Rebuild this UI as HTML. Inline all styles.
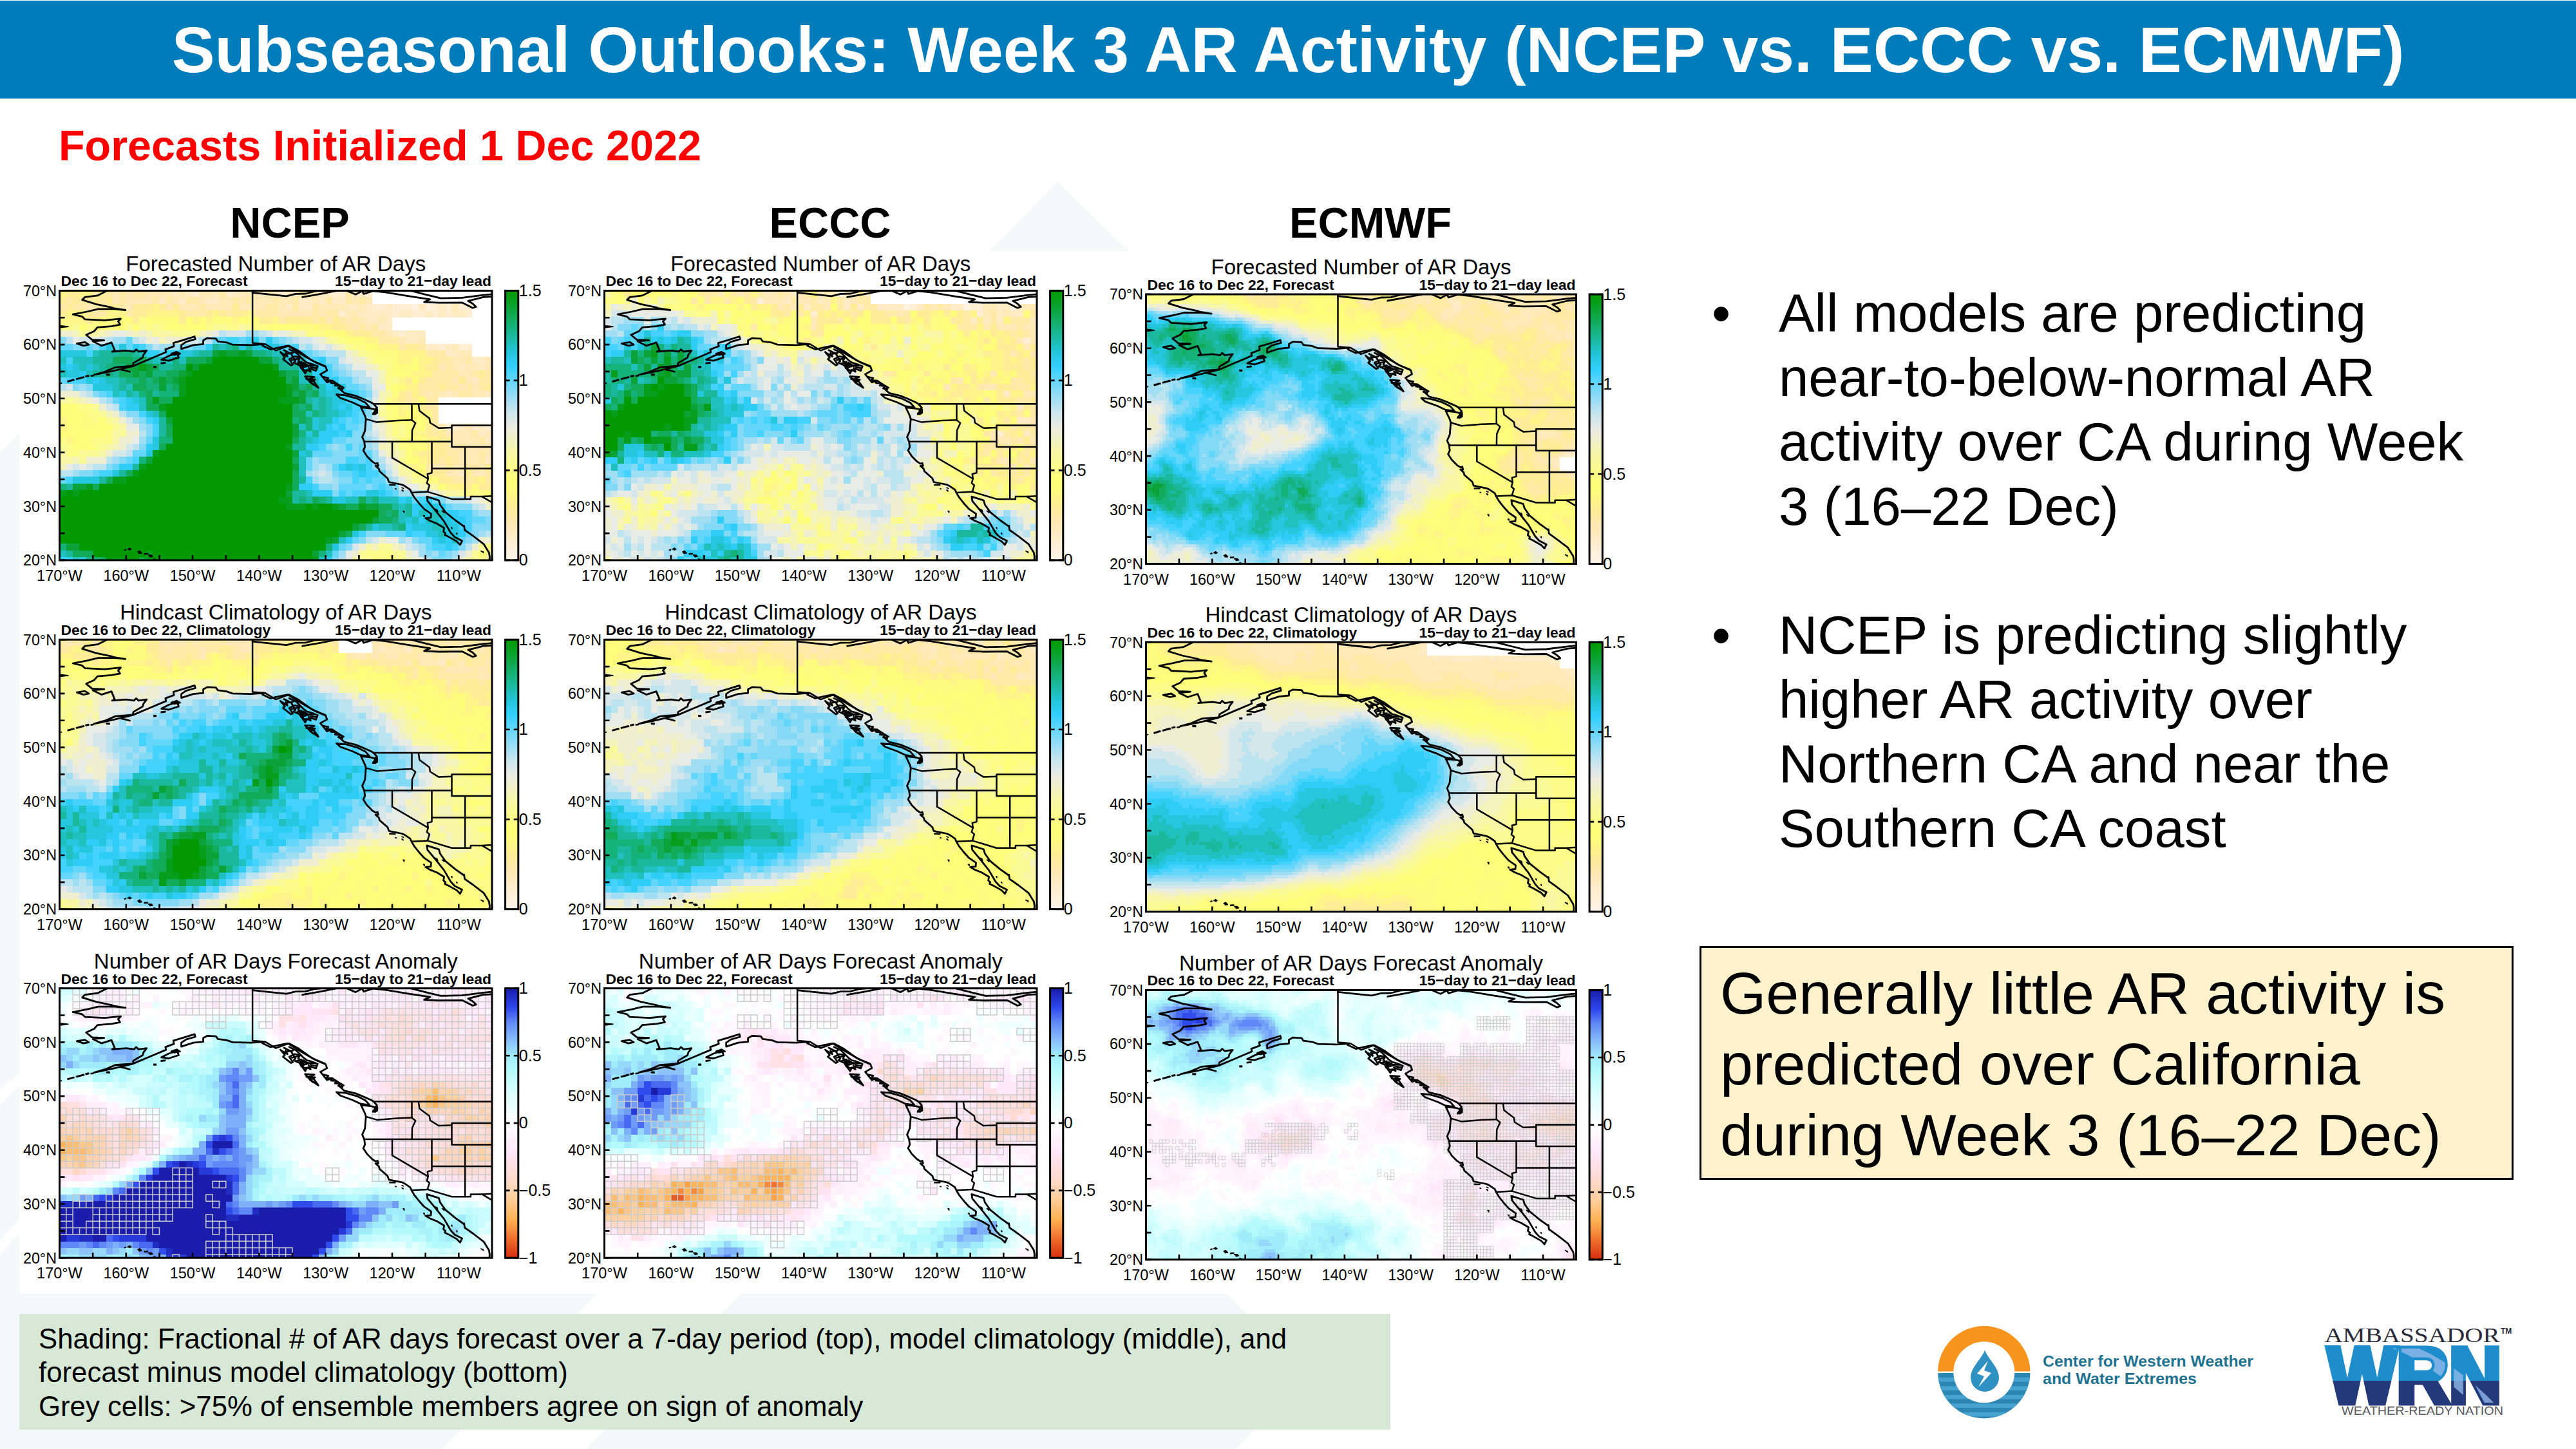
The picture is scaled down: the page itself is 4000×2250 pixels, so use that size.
<!DOCTYPE html>
<html lang="en"><head><meta charset="utf-8"><title>Subseasonal Outlooks: Week 3 AR Activity</title>
<style>
html,body{margin:0;padding:0;background:#fff;}
body{width:4000px;height:2250px;position:relative;overflow:hidden;font-family:"Liberation Sans",Arial,Helvetica,sans-serif;color:#000;}
.abs{position:absolute;white-space:nowrap;}
#hdr{left:0;top:1px;width:4000px;height:152px;background:#017cbb;}
#ttl{left:0;top:1px;width:4000px;height:152px;line-height:152px;text-align:center;color:#fff;font-weight:bold;font-size:100.3px;}
#init{left:91px;top:188px;font-size:66.5px;line-height:76px;font-weight:bold;color:#f00;}
.mdl{font-weight:bold;font-size:66.7px;line-height:76px;width:600px;text-align:center;top:308px;}
.bul{font-size:83.3px;line-height:100px;}
#box{left:2639px;top:1469px;width:1258px;height:357px;background:#fff2cc;border:3px solid #000;box-sizing:content-box;}
#boxt{left:2671px;top:1487px;font-size:91.7px;line-height:110px;}
#foot{left:30px;top:2040px;width:2129px;height:180px;background:#d7e9d6;}
#foott{left:60px;top:2052.5px;font-size:43.75px;line-height:52.6px;}
svg{position:absolute;left:0;top:0;}
svg text{font-family:"Liberation Sans",Arial,Helvetica,sans-serif;}
.co{fill:none;stroke:#000;stroke-width:2.8;stroke-linejoin:round;stroke-linecap:round}
.bo{fill:none;stroke:#000;stroke-width:2.5;stroke-linejoin:round}
.fi{fill:#000;stroke:#000;stroke-width:1.6;stroke-linejoin:round}
.tk{fill:none;stroke:#000;stroke-width:2.6}
.fr{fill:none;stroke:#000;stroke-width:3}
.gc{fill:none;stroke:#cbcbcb;stroke-width:1.5}
.gc2{fill:none;stroke:#cfcfcf;stroke-width:1}
.tt{font-size:33px;text-anchor:middle}
.sl{font-size:22.9px;font-weight:bold}
.sr{font-size:22.9px;font-weight:bold;text-anchor:end}
.yl{font-size:23.3px;text-anchor:end}
.xl{font-size:23.5px;text-anchor:middle}
.cl{font-size:25px}
</style></head><body>
<svg width="4000" height="2250" viewBox="0 0 4000 2250">
<!-- faint background pattern -->
<g fill="#f3f9f9">
<polygon points="0,703 30,673 30,1665 0,1691"/>
<polygon points="0,1716 30,1686 30,1893 0,1926"/>
<polygon points="0,1948 30,1915 30,2250 0,2250"/>
<polygon points="1536,390 1642,283 1753,390"/>
<polygon points="30,2005 926,2005 926,2009.6 686,2250 30,2250"/>
<polygon points="1150,2005 1905,2005 1905,2009.6 2031,2135 1919,2250 910,2250 1150,2009.6"/>
</g>
<rect x="30" y="390" width="2515" height="1619" fill="#fff"/>
<defs><linearGradient id="gar" x1="0" y1="1" x2="0" y2="0"><stop offset="0.000" stop-color="#fff5eb"/><stop offset="0.067" stop-color="#ffeed2"/><stop offset="0.140" stop-color="#ffe8b4"/><stop offset="0.200" stop-color="#ffec96"/><stop offset="0.267" stop-color="#fffc7d"/><stop offset="0.293" stop-color="#ffff78"/><stop offset="0.333" stop-color="#fcfc87"/><stop offset="0.400" stop-color="#f7f7a5"/><stop offset="0.453" stop-color="#f0f0c8"/><stop offset="0.497" stop-color="#ebebe4"/><stop offset="0.547" stop-color="#cde6ee"/><stop offset="0.600" stop-color="#a0def4"/><stop offset="0.667" stop-color="#64d6fa"/><stop offset="0.720" stop-color="#32d0ff"/><stop offset="0.770" stop-color="#23c6dc"/><stop offset="0.820" stop-color="#1cbcaa"/><stop offset="0.880" stop-color="#14af6e"/><stop offset="0.940" stop-color="#0aa232"/><stop offset="1.000" stop-color="#009a00"/></linearGradient><linearGradient id="gan" x1="0" y1="1" x2="0" y2="0"><stop offset="0.000" stop-color="#d62c0e"/><stop offset="0.060" stop-color="#ec6428"/><stop offset="0.140" stop-color="#ffb050"/><stop offset="0.225" stop-color="#ffd0a0"/><stop offset="0.300" stop-color="#ffdad2"/><stop offset="0.400" stop-color="#ffe8fa"/><stop offset="0.500" stop-color="#ffffff"/><stop offset="0.600" stop-color="#e0ffff"/><stop offset="0.700" stop-color="#b4fafc"/><stop offset="0.750" stop-color="#a0ecfa"/><stop offset="0.800" stop-color="#8cc4fa"/><stop offset="0.875" stop-color="#6088f6"/><stop offset="0.930" stop-color="#2c46ec"/><stop offset="1.000" stop-color="#1a1caa"/></linearGradient></defs><g transform="translate(92.5 451.4)"><clipPath id="cp92_451"><rect width="671.5" height="418.5"/></clipPath><g clip-path="url(#cp92_451)"><rect width="671.5" height="418.5" fill="#fff"/><g transform="scale(10.3308 10.3308)" fill="none" stroke-width="1.06" shape-rendering="crispEdges"><path stroke="#fff2de" d="M53 2.5h1m1 0h1"/><path stroke="#ffeed2" d="M20 0.5h1m4 0h1m7 0h1m7 0h2m3 0h1m0 2h2m1 0h3m3 0h1m1 0h1m1 0h2m-20 1h1m7 0h1m2 0h2m1 0h1m1 0h1m2 0h1m-11 3h1m5 2h1m2 0h2m-4 12h2m2 0h1m1 0h1"/><path stroke="#ffebc4" d="M17 0.5h1m1 0h1m3 0h1m2 0h2m2 0h1m1 0h1m1 0h2m2 0h3m3 0h2m-31 1h1m2 0h1m3 0h2m12 0h2m1 0h1m1 0h2m-9 1h1m1 0h2m5 0h2m1 0h1m2 0h1m4 0h1m2 0h1m-13 1h5m1 0h2m2 0h1m1 0h1m1 0h2m-15 1h2m1 0h1m-2 1h2m0 1h1m1 0h3m-3 1h2m1 1h2m1 0h1m-1 1h2m2 1h2m-4 1h1m2 0h1m-2 2h1m-5 2h1m5 0h1m-5 5h1m2 0h1m-1 1h1m0 1h1m-1 3h1m-5 2h1"/><path stroke="#ffe9b7" d="M8 0.5h1m1 0h1m2 0h4m1 0h1m2 0h2m5 0h2m1 0h1m4 0h2m-30 1h1m1 0h4m3 0h1m3 0h1m2 0h2m1 0h1m1 0h3m1 0h2m3 0h1m5 0h1m1 0h1m-43 1h1m5 0h1m5 0h1m1 0h3m1 0h4m1 0h4m2 0h1m5 0h4m2 0h1m13 0h1m-27 1h5m1 0h1m3 0h2m-5 1h1m2 0h1m1 0h1m2 0h1m-5 1h1m1 0h1m2 1h1m1 1h1m2 0h1m4 1h1m0 1h2m-3 1h2m3 0h1m-8 1h1m1 0h1m1 0h2m1 0h1m-5 1h2m-3 1h1m1 0h1m-2 1h1m1 0h1m-8 1h1m1 0h1m1 0h1m2 0h2m-7 5h1m3 0h1m-4 1h4m2 0h1m-6 1h4m-4 1h1m1 0h4m-5 1h3m1 0h1m-5 1h3m-7 1h2m1 0h2m2 0h1m-6 1h2m2 0h2"/><path stroke="#ffeaa7" d="M5 0.5h1m1 0h1m1 0h1m1 0h2m11 0h1m18 0h1m-43 1h1m1 0h2m1 0h1m2 0h1m4 0h1m1 0h1m2 0h2m5 0h1m1 0h1m3 0h1m2 0h1m4 0h1m2 0h1m1 0h1m-46 1h1m1 0h2m1 0h3m1 0h1m11 0h1m9 0h2m2 0h1m2 0h1m-34 1h2m3 0h1m8 0h3m3 0h1m3 0h4m5 0h1m1 0h2m-9 1h1m4 0h1m3 0h1m1 0h1m-2 1h1m1 0h1m1 0h1m-1 1h2m-1 1h3m0 1h1m2 0h1m0 1h3m-1 1h2m2 0h1m-4 1h1m-3 1h4m2 0h1m1 0h1m-10 1h4m4 0h2m-11 1h3m1 0h2m1 0h1m1 0h1m-12 1h1m1 0h1m1 0h1m3 0h2m-10 1h1m2 0h2m-2 1h2m-1 1h1m-1 1h1m-1 1h1m-1 1h1m5 0h1m0 1h1m-6 1h1m1 0h1m-3 1h2m3 0h1m-7 1h1m1 0h1m3 0h1m-9 1h1m5 0h2m1 1h1m-6 1h3m2 0h1"/><path stroke="#ffec96" d="M1 0.5h2m3 0h1m-7 1h1m1 0h1m2 0h1m1 0h1m-7 1h1m6 0h1m2 0h3m1 0h1m1 0h1m8 0h1m-27 1h1m3 0h1m6 0h2m5 0h1m3 0h1m1 0h1m1 0h2m-24 1h1m6 0h1m6 0h1m11 0h2m2 0h4m1 0h1m1 0h1m-1 1h2m1 1h3m5 2h2m2 2h1m-2 1h2m6 1h1m-12 1h1m1 0h1m5 0h1m-4 1h1m6 0h1m-14 1h1m-1 1h1m1 0h1m0 1h1m0 3h1m-1 1h1m1 0h1m-1 1h2m-3 1h2m-4 1h4m-3 1h2m1 0h1m-1 1h1m5 0h1m-10 1h3m3 0h1m-5 1h2m3 0h1m-2 1h1m1 0h2m-1 11h1"/><path stroke="#fff48a" d="M0 0.5h1m2 0h2m9 2h1m-14 1h3m3 0h3m3 0h5m5 0h1m4 0h1m-29 1h4m1 0h1m2 0h1m11 0h1m1 0h1m3 0h1m5 0h1m6 1h2m2 1h1m2 1h2m0 1h3m0 1h4m-4 1h2m1 0h2m-2 1h1m-2 1h3m-5 1h1m0 1h2m-1 1h1m-4 1h1m0 1h2m-2 1h1m2 0h2m-56 1h1m54 0h1m-56 1h1m52 1h2m-54 1h1m53 0h2m-2 1h1m-3 1h1m0 1h1m-2 1h1m9 2h1m-6 1h3m3 10h1m-17 1h1m14 0h1"/><path stroke="#fffc7d" d="M6 4.5h2m1 0h2m3 0h4m3 0h1m1 0h3m2 0h2m-21 1h1m8 0h1m12 0h1m4 0h3m2 1h1m2 1h2m1 1h1m0 1h3m-1 1h1m2 0h1m-4 1h3m-1 1h1m0 1h1m-3 1h1m-2 1h1m3 1h1m-54 2h1m1 0h1m49 0h1m-51 1h2m47 0h2m-53 1h1m1 0h3m-6 1h2m50 0h1m-51 1h1m1 0h1m47 0h1m1 0h1m-52 1h1m49 0h2m-3 1h1m1 2h1m1 2h1m5 1h1m0 10h1m-15 1h1"/><path stroke="#fefe7a" d="M13 4.5h1m5 0h1m7 0h1m-25 1h1m2 0h1m1 0h1m2 0h1m4 0h2m1 0h3m10 0h4m4 1h1m1 0h1m0 1h1m2 1h1m6 3h1m-4 1h2m-2 2h1m-51 3h3m46 0h2m2 0h1m-54 1h1m1 0h1m47 0h1m1 0h1m-52 1h2m3 0h1m43 0h2m2 0h1m-53 1h1m3 0h2m44 0h1m1 0h1m-53 1h5m-4 1h1m47 0h1m1 0h1m-52 1h1m1 0h1m47 0h1m-1 2h2m0 2h1m0 1h1m1 1h1m6 1h1m-18 10h1"/><path stroke="#fcfc87" d="M12 4.5h1m-13 1h2m2 0h2m1 0h1m5 0h1m1 0h1m6 0h1m2 0h2m2 0h2m6 1h3m2 1h1m1 1h2m0 1h2m-1 1h3m-1 1h1m-1 1h1m-1 1h1m-1 1h1m-1 2h1m-47 1h2m-1 1h2m43 0h1m-45 1h1m43 0h1m0 1h1m2 0h1m-47 1h1m42 0h1m-51 1h1m4 0h3m-7 1h1m3 0h1m45 0h1m-51 1h2m50 3h1m7 3h3m0 8h1m-19 1h4m0 1h1"/><path stroke="#fafa96" d="M2 5.5h1m7 0h1m1 0h1m1 0h1m8 0h2m3 0h1m-26 1h1m10 0h1m2 0h4m20 1h1m1 1h1m1 1h1m2 2h1m1 2h1m-50 3h1m3 1h1m0 1h1m41 0h1m-42 1h1m0 1h1m42 0h1m-43 1h1m41 0h1m-52 2h1m5 0h1m-4 1h3m-3 1h1m47 0h1m0 1h1m0 2h2m5 2h1m-13 8h2m13 0h1m-19 1h1m4 0h2m10 0h1m-18 1h2m4 0h1m10 0h1"/><path stroke="#f7f7a5" d="M27 5.5h1m-24 1h2m9 0h2m23 1h1m5 3h1m2 5h1m-50 1h1m1 0h1m45 1h1m-41 2h1m0 1h1m39 0h1m-42 1h1m40 0h1m-42 1h1m41 0h1m-44 1h1m42 0h1m-51 1h1m5 0h1m44 0h1m-52 1h2m49 1h1m-1 1h2m3 2h1m1 1h2m-14 8h1m-3 2h1m16 0h1"/><path stroke="#f3f3bb" d="M2 6.5h1m3 0h1m4 0h1m1 0h1m7 0h1m13 0h2m-22 1h1m26 1h1m1 1h1m2 2h1m0 1h1m-1 1h1m-1 2h1m-46 1h1m44 0h1m-42 2h1m40 1h1m0 3h1m-42 1h1m39 0h2m-1 1h2m-49 1h1m-3 1h1m51 2h1m1 1h2m1 1h1m6 1h1m-18 7h1m2 0h1m1 2h1"/><path stroke="#eeeed1" d="M0 6.5h2m5 0h1m2 0h1m1 0h1m9 0h1m9 0h1m1 0h1m-22 1h1m2 0h3m20 0h1m1 1h1m1 1h1m0 1h2m0 1h1m-47 4h3m1 1h1m1 1h1m1 1h1m0 1h1m38 1h1m-39 1h2m36 0h1m-40 1h2m-2 1h1m-3 1h1m-4 1h3m43 0h1m-1 1h1m12 5h1m0 1h1m-17 5h1m14 0h2m-20 1h1m5 0h1m10 0h1m-19 1h1m7 0h1m8 0h1m-9 1h1m6 0h1"/><path stroke="#e9ebe5" d="M8 6.5h2m13 0h1m9 0h1m-32 1h1m2 0h1m8 0h1m23 0h1m0 1h1m3 2h1m0 1h2m0 1h2m-1 1h1m-1 1h2m-44 2h1m41 0h1m-38 4h2m35 0h1m-37 2h1m36 0h1m-1 2h1m0 1h1m-49 1h1m1 0h1m46 1h1m0 1h1m0 1h2m2 1h1m5 1h1m-14 6h2m-8 2h1m9 0h1m-11 1h1m10 0h1"/><path stroke="#d5e7eb" d="M25 6.5h3m3 0h1m-29 1h2m1 0h1m5 0h1m6 0h2m15 0h2m0 1h1m1 0h1m1 2h1m-42 4h1m1 1h1m43 0h1m-41 2h1m39 0h1m-1 1h1m-38 1h1m36 0h1m-1 2h1m-38 2h1m-3 1h2m-8 2h1m1 0h1m44 0h1m-11 1h1m11 2h1m3 1h1m5 1h1m1 1h1m-17 5h1m-4 1h1m7 0h1m7 1h1"/><path stroke="#bce3f0" d="M24 6.5h1m5 0h1m-30 1h1m5 0h1m3 0h1m9 0h2m12 0h1m-22 1h1m21 0h1m3 1h3m0 2h1m0 1h2m-1 1h2m-47 1h1m3 1h1m1 1h1m1 1h1m0 1h1m2 3h1m33 0h1m0 1h1m-37 1h1m35 0h1m-38 1h1m-4 1h1m40 0h1m-44 1h2m32 0h1m-40 1h2m36 0h1m1 0h1m8 0h1m-11 1h2m9 0h1m2 2h2m3 1h3m1 1h1m1 4h1m-19 1h1m5 0h1m0 1h1m7 0h1m-20 2h1m12 0h1m3 0h1"/><path stroke="#a0def4" d="M28 6.5h2m-22 1h2m24 0h1m-20 1h3m19 0h1m1 1h1m2 2h1m0 1h1m0 1h1m-42 1h1m42 0h1m-40 2h1m38 0h1m-1 1h1m-36 2h1m34 0h1m-35 1h1m33 0h1m-35 2h1m33 0h1m-6 1h1m4 0h1m0 1h1m-40 1h1m29 0h1m8 0h1m-10 1h1m1 0h1m7 0h1m-47 1h1m34 0h1m0 1h1m2 0h1m7 0h1m-9 1h1m9 1h2m10 3h2m-2 3h1m-13 1h1m10 0h1m-9 1h1m-13 1h1m11 0h1m1 0h1m2 0h1"/><path stroke="#82daf7" d="M0 7.5h1m29 0h1m2 0h1m-32 1h2m1 0h1m7 0h1m4 0h2m18 1h1m1 1h2m-1 1h1m0 1h1m-41 2h1m1 0h1m40 0h1m-41 1h1m40 0h1m-37 3h2m34 0h1m-35 1h1m0 1h1m31 0h1m-33 1h1m30 0h2m-3 1h3m-34 1h1m27 0h1m1 0h1m1 0h1m-4 1h4m-36 1h1m29 0h4m-36 1h1m39 0h1m-45 1h2m36 0h1m0 1h2m-5 1h2m5 0h1m3 0h1m-10 1h1m15 1h1m1 1h3m0 1h1m1 1h1m-3 1h3m-19 1h3m13 0h1m-18 1h1m7 0h1m7 0h1m-19 1h1m16 0h1m-6 1h1m2 0h1m-18 1h1m14 0h3"/><path stroke="#64d6fa" d="M10 7.5h1m12 0h2m2 0h1m4 0h1m-33 1h2m2 0h1m3 0h1m1 0h1m9 0h2m12 0h1m-20 1h1m21 0h1m-1 1h1m3 2h1m-42 1h1m41 0h2m-1 1h2m-39 1h1m38 0h1m-38 1h1m36 0h1m-1 2h1m-3 1h1m1 0h1m-3 1h2m-32 2h1m27 0h2m2 1h1m-35 1h2m25 0h3m4 0h2m-37 1h1m26 0h1m7 0h1m-38 1h1m28 0h1m3 0h1m-37 1h1m36 0h2m4 0h1m-49 1h1m44 0h1m1 0h2m-7 1h4m1 0h1m1 0h1m-7 1h1m6 0h1m2 1h1m2 0h1m1 1h1m3 2h2m-15 2h3m9 0h1m-18 1h1m9 0h2m4 0h1m-19 1h1m12 0h1m-15 1h1m15 0h1"/><path stroke="#45d2fd" d="M25 7.5h2m1 0h1m-23 1h1m5 0h1m20 0h1m1 0h1m-32 1h1m29 0h1m1 0h1m-36 1h1m33 0h1m2 0h1m0 1h2m-1 1h1m-40 1h3m36 0h1m-34 2h1m34 0h1m1 0h1m-36 1h1m33 0h2m-36 1h1m34 0h2m-34 1h1m31 0h1m-32 1h1m28 0h1m1 0h1m-31 1h1m26 0h1m-28 1h1m27 0h1m-4 2h1m3 0h1m-33 2h1m31 0h2m1 0h1m-1 1h1m-41 1h2m36 0h1m1 0h2m-47 1h1m35 0h1m6 0h1m1 0h1m-9 1h1m9 0h1m-7 1h1m1 0h2m3 0h1m4 1h1m5 2h2m-1 1h1m-2 1h2m-17 1h1m7 0h2m1 2h2m1 0h1"/><path stroke="#2ecdf6" d="M29 7.5h1m1 0h1m-21 1h1m10 0h1m-10 1h2m1 0h2m17 0h1m3 1h1m-39 1h1m34 0h1m-34 1h1m34 0h2m-35 1h1m33 0h1m1 0h1m-2 1h1m2 1h1m-34 1h1m-1 1h2m30 0h1m0 1h1m-30 1h1m26 0h1m-2 1h1m1 0h1m-4 1h3m1 0h1m-5 1h2m-28 1h1m23 0h2m-30 3h2m31 0h1m1 0h1m0 1h1m-10 2h2m0 1h3m7 0h1m2 1h1m3 0h1m-3 1h2m2 0h1m-5 1h1m4 0h2m-6 1h1m4 0h2m-9 1h1m-1 1h1m7 0h1m-18 1h1m12 0h1m1 0h1m-1 1h1m-59 2h2m38 0h1"/><path stroke="#24c7de" d="M7 8.5h1m1 0h1m17 0h1m1 0h4m-33 1h4m14 0h2m14 1h1m-35 1h1m1 0h1m1 0h1m32 0h2m-38 1h2m1 1h1m1 0h1m-2 1h3m33 0h2m-34 1h1m30 0h2m-31 1h1m29 0h2m-2 1h1m1 0h1m-31 1h1m28 0h1m-5 1h1m-1 1h1m-2 1h1m-24 1h1m23 0h1m-25 1h1m-2 1h1m22 0h1m6 2h1m1 0h1m-38 1h1m-7 1h4m40 2h2m-7 1h2m9 0h1m2 1h2m-2 1h1m-4 1h1m4 0h2m-12 1h1m5 0h3m2 0h2m-16 1h1m10 0h2m1 0h2m-3 1h1m-17 1h1m-39 2h1"/><path stroke="#1fc0be" d="M24 8.5h1m-20 1h1m6 0h1m7 0h1m11 0h2m-34 1h1m1 0h3m9 0h3m1 0h1m17 0h1m-34 1h1m1 0h1m-6 1h1m3 0h1m31 0h1m-30 1h2m27 0h3m-31 1h1m1 0h1m28 0h1m-32 1h1m2 0h1m27 0h1m-28 1h1m25 0h1m1 0h1m-29 1h1m25 0h1m1 0h1m-27 1h1m22 0h1m2 0h2m-3 1h2m-5 1h1m2 0h1m-3 2h1m-1 2h1m-2 1h1m-1 1h1m-1 1h1m0 3h1m5 1h2m3 0h3m0 1h1m-1 1h1m2 0h1m1 0h2m-7 1h1m1 0h1m1 0h2m-9 1h2m6 0h2m-1 1h1m-16 1h1m16 0h1m-60 2h1m39 0h1m-39 1h1m36 0h1"/><path stroke="#1ab99d" d="M23 8.5h1m1 0h1m2 0h1m-23 1h3m2 0h1m9 0h2m8 0h1m-27 1h3m5 0h1m19 0h1m-28 1h1m8 0h2m16 0h3m-31 1h2m1 0h1m28 0h1m-29 1h1m-1 1h1m28 0h1m-29 1h1m3 0h1m22 1h1m1 0h1m-1 1h1m-1 1h1m-25 1h1m-1 1h1m-1 1h1m22 0h1m-3 1h1m-2 1h2m-26 3h1m-3 1h1m-4 1h1m29 0h1m-36 1h1m33 1h2m-2 1h1m1 0h1m2 0h1m5 0h1m3 1h1m1 0h1m-1 1h1m-7 2h1m3 0h1m-50 4h1"/><path stroke="#16b27b" d="M26 8.5h1m-18 1h2m18 0h2m-20 1h1m5 0h1m14 0h1m-26 1h3m7 0h2m-12 1h1m6 0h2m-6 1h2m1 0h1m-1 1h2m1 0h1m19 0h1m-25 1h1m2 0h3m19 0h1m-2 2h1m1 1h1m-4 1h1m1 0h1m-1 1h1m-2 1h1m-22 1h2m-5 3h1m-13 4h1m35 2h1m2 0h1m7 0h1m1 2h1m0 1h1m0 1h1m-52 3h1m39 0h1m-2 1h1m-36 1h2"/><path stroke="#11ab5a" d="M8 10.5h3m1 0h1m6 0h3m-8 1h1m-6 1h2m1 0h1m3 0h2m16 0h2m-24 1h1m1 0h1m1 0h1m17 0h1m-24 1h2m4 0h1m19 0h1m-25 1h1m21 0h1m2 0h1m-26 1h1m1 0h2m-4 1h2m20 0h1m1 0h1m-23 1h1m19 0h2m-1 1h1m-21 1h1m-1 1h1m18 1h1m-21 1h1m19 2h1m-26 2h1m24 0h1m-29 1h1m27 0h1m-31 1h1m29 0h1m2 2h1m6 0h1m-3 1h2m3 0h2m-2 1h1m1 0h1m-3 1h2m-5 1h1m-3 1h1m-42 3h3m1 1h1"/><path stroke="#0ba339" d="M23 9.5h1m1 0h2m1 0h1m-7 1h1m7 0h2m-22 1h2m1 0h1m6 0h1m-10 1h1m1 0h1m4 0h1m14 0h1m-19 1h1m1 0h1m17 0h1m-21 1h1m19 0h1m0 1h1m-1 1h1m-21 3h1m18 1h1m-1 1h1m-1 3h1m-23 1h1m21 1h1m-34 3h2m30 1h1m7 2h1m3 0h2m-1 2h1m-4 1h1m-3 1h1m-2 1h1m-41 1h2m35 1h1m-27 1h1"/><path stroke="#069e1c" d="M24 9.5h1m2 0h1m-16 2h1m19 0h1m-14 1h1m-2 1h1m-1 1h1m15 0h1m-17 1h1m15 0h1m-21 1h1m18 0h3m-21 1h1m18 6h1m-21 1h1m-3 2h1m-2 1h1m-4 1h2m-6 1h1m29 0h1m-35 1h1m1 0h1m30 1h2m-1 1h3m1 0h1m2 0h1m3 0h1m-6 5h1m-28 2h1m-6 1h2m3 0h1m1 0h1m22 0h1"/><path stroke="#009a00" d="M23 10.5h7m-11 1h1m1 0h11m-12 1h13m-14 1h15m-15 1h15m-15 1h15m-17 1h16m-17 1h19m-19 1h19m-18 1h18m-18 1h18m-18 1h18m-18 1h18m-19 1h18m-19 1h20m-21 1h21m-22 1h22m-23 1h23m-25 1h25m-29 1h28m-33 1h1m1 0h31m-34 1h33m-33 1h34m3 0h1m1 0h2m-41 1h48m-48 1h47m-47 1h44m-44 1h42m-42 1h40m-37 1h37m-35 1h8m1 0h24m-31 1h1m2 0h2m2 0h1m1 0h22"/></g><path class="co" d="M667.4 420.2L667.9 413.5L666.9 406.8L658.6 393.4L642.1 380.8L629.1 371.6L628.1 364.9L627.6 365.8L614.7 356.6L599.2 344.0L590.9 332.3L588.9 325.6L570.3 319.7L571.3 326.4L585.8 344.0L597.1 358.2L607.4 375.8L613.6 382.5L625.0 388.4L621.9 394.6L616.7 389.2L603.3 381.7L598.2 379.2L599.2 376.7L596.1 374.1L597.1 368.3L585.8 361.6L575.4 357.4L568.2 353.2L576.5 352.4L577.0 346.5L566.1 339.0L557.9 329.8L550.6 320.6L546.5 313.5L544.4 308.9L536.2 303.4L532.0 301.3L523.8 299.6L511.4 297.1L509.3 291.3L496.9 280.4L495.9 276.6L490.7 272.0L494.8 272.0L493.8 267.8L490.7 268.7L485.5 265.3L477.3 257.0L471.6 248.2L474.2 242.7L473.1 234.4L470.0 227.2L474.2 217.6L475.7 199.2L474.2 194.2L468.0 181.2L483.5 182.9L488.6 184.1L491.7 190.0L486.6 191.7L490.7 185.8L492.8 181.6L487.6 175.8L483.5 173.3L470.0 167.4L459.7 163.2L442.2 159.0L434.9 152.3L441.1 150.7L433.9 146.5L423.6 139.8L415.3 142.3L405.0 129.7L415.3 123.9L413.2 118.0L397.7 111.3L377.1 99.6L354.3 85.4L341.9 87.9L327.5 91.2L315.1 85.4L317.2 82.9L297.5 84.5L268.6 83.7L259.3 80.4L245.9 78.7L242.8 74.5L229.3 73.7L223.1 77.0L223.1 82.9L207.6 84.5L189.1 90.4L189.1 84.5L196.3 79.5L210.7 75.3L209.7 71.1L191.1 77.0L176.7 81.2L177.7 86.2L164.3 91.2L165.3 95.4L139.5 106.3L113.6 117.2L82.6 124.7L53.7 130.6L70.2 126.0L86.8 118.9L103.3 117.6L113.6 116.8L114.7 112.2L129.1 103.8L130.2 99.6L135.3 92.9L122.9 94.6L118.8 91.2L115.7 94.6L103.3 92.9L81.6 94.6L85.7 92.9L80.6 80.4L65.1 85.4L51.7 78.7L69.2 77.0L50.6 76.2L41.3 68.6L53.7 62.8L58.9 56.9L80.6 55.2L94.0 52.7L90.9 47.7L95.0 43.5L70.2 46.0L39.3 44.4L35.1 40.2L20.7 36.8L42.4 32.6L59.9 28.5L85.7 28.5L102.3 30.1L83.7 27.2L80.6 25.9L56.8 20.9L35.1 14.2L39.3 10.0L58.9 7.5L75.4 -0.8"/><path class="co" d="M481.4 181.2L468.0 179.5L454.6 173.3L436.0 166.6L429.8 161.1L444.2 162.4L461.8 167.4L475.2 174.1L481.4 181.2"/><path class="co" d="M401.9 150.7L389.5 142.3L381.2 133.1L395.7 133.9L386.4 138.1L394.6 140.6L401.9 150.7"/><path class="co" d="M342.9 95.2L349.8 103.5L347.0 106.3L359.4 115.9L362.2 114.6L356.6 106.3L362.2 103.5"/><path class="co" d="M348.4 92.4L359.4 97.9L366.3 109.1L363.5 111.8L375.9 117.3L378.7 122.9L384.2 124.2"/><path class="co" d="M356.6 91.1L367.7 96.6L378.7 107.6L384.2 111.8L389.8 113.2L400.8 117.3L398.0 124.2L389.8 121.4"/><path class="co" d="M364.9 102.1L373.3 103.5L370.5 109.1L381.5 115.9L378.7 111.8L387.0 117.3"/><path class="co" d="M373.3 117.3L381.5 128.4L384.2 122.9L389.8 125.6L387.0 120.1"/><path class="co" d="M353.9 97.9L362.2 96.6"/><path class="co" d="M360.8 107.6L370.5 105.5"/><path class="co" d="M367.7 113.2L375.9 110.4"/><path class="co" d="M374.6 120.1L384.2 117.3"/><path class="co" d="M384.2 115.9L395.3 115.9"/><path class="co" d="M389.8 118.7L398.0 120.1"/><path class="co" d="M344.2 96.6L353.9 102.1L351.1 96.6"/><path class="co" d="M378.7 117.3L373.3 113.2"/><path class="co" d="M409.1 133.9L417.4 135.6L414.3 138.9L423.6 139.8L421.5 143.1L429.8 144.0L427.7 147.3L436.0 148.1L432.9 151.5L439.1 153.2"/><path class="co" d="M383.3 137.3L396.7 138.1L389.5 142.3L393.6 145.6"/><path class="fi" d="M489.7 182.5L493.8 184.1L493.8 190.0L489.7 192.5L486.6 190.0L489.7 187.5"/><path class="co" d="M158.1 107.1L169.4 101.3L182.9 97.1L184.9 103.8L169.4 108.8L158.1 107.1"/><path class="co" d="M173.6 97.9L181.8 95.0L187.0 97.9L177.7 99.6"/><path class="co" d="M26.9 82.0L39.3 79.9L45.5 83.7L37.2 85.4L26.9 82.0"/><path class="fi" d="M-2.1 54.0L13.4 55.7L-2.1 57.8"/><path class="fi" d="M-2.1 145.2L3.1 143.5L-2.1 143.1"/><path class="fi" d="M12.4 141.9L22.7 138.9L21.7 137.7L11.9 140.6"/><path class="fi" d="M25.8 138.1L38.2 134.8L37.2 133.5L25.3 136.8"/><path class="fi" d="M40.3 133.9L45.5 132.7L44.9 131.4L39.8 132.7"/><path class="fi" d="M48.6 133.1L52.7 132.2L52.2 131.4L48.0 132.2"/><path class="fi" d="M72.3 131.0L77.5 131.4L77.5 129.7L72.3 129.7"/><path class="fi" d="M95.0 123.0L101.2 124.3L109.5 126.4L109.5 125.5L101.2 123.0L95.0 122.2"/><path class="fi" d="M145.7 119.3L149.8 119.3L149.8 117.6L145.7 117.6"/><path class="fi" d="M157.0 113.4L164.3 112.6L164.3 111.3L157.0 112.2"/><path class="fi" d="M105.4 401.8L108.5 399.7L111.1 401.3L108.5 403.0"/><path class="fi" d="M100.2 403.0L102.8 401.8L102.8 403.4"/><path class="fi" d="M120.9 405.9L124.5 404.1L127.6 407.6L122.9 408.0"/><path class="fi" d="M131.2 409.3L136.9 408.9L136.9 408.0L131.2 408.3"/><path class="fi" d="M137.4 410.5L142.6 410.5L144.6 412.6L140.0 413.5"/><path class="fi" d="M145.7 416.4L152.9 418.9L155.0 421.8L143.6 421.8"/><path class="fi" d="M511.9 300.9L521.2 301.3L521.2 302.0L511.9 302.0"/><path class="fi" d="M520.7 307.2L522.7 308.0L522.2 307.2"/><path class="fi" d="M531.0 305.5L534.1 307.2L534.1 306.3"/><path class="fi" d="M531.0 309.3L533.6 311.4L532.6 309.3"/><path class="fi" d="M533.1 341.5L535.1 344.4L535.1 341.5"/><path class="fi" d="M564.6 348.6L566.6 351.1L566.6 348.6"/><path class="fi" d="M582.7 338.6L587.3 343.2L585.8 339.4"/><path class="fi" d="M593.5 341.5L597.1 344.8L596.6 341.9"/><path class="fi" d="M653.9 403.9L658.1 406.8L657.6 404.7"/><path class="fi" d="M615.7 376.2L617.3 377.9L616.7 375.8"/><path class="fi" d="M608.0 367.4L609.5 369.5L609.0 367.0"/><path class="co" d="M299.6 2.9L327.5 5.9L352.3 8.4L366.7 5.0L382.2 4.6L396.7 0.8L423.6 -1.7"/><path class="co" d="M377.1 10.0L402.9 5.4L426.7 0.8L444.2 -2.5"/><path class="co" d="M444.2 -0.8L459.7 5.9L470.0 0.4L472.1 5.0L486.6 0.4L506.2 2.5L542.4 8.4L575.4 13.4L566.1 17.6L588.9 18.8L625.0 18.4L641.5 26.8L646.7 25.1L641.5 20.1L634.3 15.9L658.1 10.0L676.7 8.8"/><path class="co" d="M542.4 -0.8L568.2 5.9L592.0 11.7L625.0 10.9L658.1 6.7L676.7 5.0"/><path class="bo" d="M299.6 -1.7L299.6 81.2L319.2 82.9L335.8 92.9L356.4 85.4L371.9 93.7L392.6 108.8L413.2 117.2"/><path class="bo" d="M487.6 175.8L681.8 175.8"/><path class="bo" d="M475.7 199.2L492.8 204.2L523.8 201.7L547.0 200.9"/><path class="bo" d="M547.0 175.8L547.0 200.9L552.7 205.5L547.5 216.8L547.2 234.4"/><path class="bo" d="M557.3 175.8L558.9 186.7L574.4 198.4L575.4 205.1L588.9 213.4L609.0 212.6"/><path class="bo" d="M681.8 209.2L609.0 209.2L609.0 242.7L681.8 242.7"/><path class="bo" d="M473.1 234.4L609.0 234.4"/><path class="bo" d="M516.5 234.4L516.5 259.5L572.3 292.1L570.3 298.8L574.4 302.2L571.3 312.2"/><path class="bo" d="M578.0 234.4L578.0 282.9L571.3 284.6L572.3 292.1"/><path class="bo" d="M578.0 276.2L681.8 276.2"/><path class="bo" d="M629.7 242.7L629.7 323.5"/><path class="bo" d="M546.5 313.5L571.3 312.2L609.0 323.5L638.4 323.5L638.4 319.7L656.0 319.7L681.8 318.1"/><path class="bo" d="M656.0 319.7L671.5 328.9L676.7 338.1"/></g><path class="tk" d="M0.0 418.5v-8M51.7 418.5v-8M103.3 418.5v-8M155.0 418.5v-8M206.6 418.5v-8M258.3 418.5v-8M309.9 418.5v-8M361.6 418.5v-8M413.2 418.5v-8M464.9 418.5v-8M516.5 418.5v-8M568.2 418.5v-8M619.8 418.5v-8M671.5 418.5v-8M0 418.5h8M0 376.7h8M0 334.8h8M0 292.9h8M0 251.1h8M0 209.2h8M0 167.4h8M0 125.5h8M0 83.7h8M0 41.9h8M0 0.0h8"/><rect class="fr" width="671.5" height="418.5"/><text class="tt" x="335.8" y="-30.8">Forecasted Number of AR Days</text><text class="sl" x="2" y="-7.2">Dec 16 to Dec 22, Forecast</text><text class="sr" x="670.5" y="-7.2">15−day to 21−day lead</text><text class="yl" x="-4.5" y="426.9">20°N</text><text class="yl" x="-4.5" y="343.2">30°N</text><text class="yl" x="-4.5" y="259.5">40°N</text><text class="yl" x="-4.5" y="175.8">50°N</text><text class="yl" x="-4.5" y="92.1">60°N</text><text class="yl" x="-4.5" y="8.4">70°N</text><text class="xl" x="0.0" y="450.5">170°W</text><text class="xl" x="103.3" y="450.5">160°W</text><text class="xl" x="206.6" y="450.5">150°W</text><text class="xl" x="309.9" y="450.5">140°W</text><text class="xl" x="413.2" y="450.5">130°W</text><text class="xl" x="516.5" y="450.5">120°W</text><text class="xl" x="619.8" y="450.5">110°W</text><rect x="692.1" y="0" width="20.2" height="418.5" fill="url(#gar)" stroke="#000" stroke-width="3"/><path class="tk" d="M692.1 0.0h7M712.3 0.0h-7"/><text class="cl" x="713.3" y="8.5">1.5</text><path class="tk" d="M692.1 139.5h7M712.3 139.5h-7"/><text class="cl" x="713.3" y="148.0">1</text><path class="tk" d="M692.1 279.0h7M712.3 279.0h-7"/><text class="cl" x="713.3" y="287.5">0.5</text><path class="tk" d="M692.1 418.5h7M712.3 418.5h-7"/><text class="cl" x="713.3" y="427.0">0</text></g><g transform="translate(92.5 993.2)"><clipPath id="cp92_993"><rect width="671.5" height="418.5"/></clipPath><g clip-path="url(#cp92_993)"><rect width="671.5" height="418.5" fill="#fff"/><g transform="scale(10.3308 10.3308)" fill="none" stroke-width="1.06" shape-rendering="crispEdges"><path stroke="#ffebc4" d="M48 1.5h1m3 0h1m6 0h1m-3 2h1"/><path stroke="#ffe9b7" d="M1 0.5h1m3 0h1m9 0h4m1 0h1m4 0h4m18 0h2m1 0h5m3 0h1m1 0h1m2 0h1m-48 1h1m4 0h1m5 0h2m18 0h1m1 0h3m3 0h2m6 0h1m-43 1h1m22 0h2m1 0h1m1 0h2m3 0h2m1 0h3m-8 1h1m1 0h3m3 0h1m3 0h1m-7 1h4m1 0h1m-1 1h2"/><path stroke="#ffeaa7" d="M0 0.5h1m1 0h2m15 0h1m1 0h4m4 0h2m1 0h2m2 0h1m4 0h1m7 0h1m5 0h3m1 0h1m1 0h2m1 0h1m-65 1h1m3 0h2m9 0h1m1 0h4m1 0h2m2 0h1m26 0h2m2 0h2m1 0h3m1 0h1m-50 1h4m1 0h1m5 0h2m1 0h1m13 0h1m2 0h1m1 0h1m2 0h3m2 0h1m3 0h5m-49 1h1m31 0h4m7 0h1m2 0h2m-11 1h1m3 0h1m4 0h1m1 0h1m-12 1h1m3 0h6m-5 1h1m1 0h1m2 0h1m-29 34h1"/><path stroke="#ffec96" d="M4 0.5h1m8 0h2m16 0h1m2 0h2m1 0h1m1 0h2m-40 1h1m4 0h1m6 0h2m9 0h2m3 0h3m1 0h1m1 0h1m3 0h1m1 0h1m-40 1h4m1 0h1m6 0h1m4 0h1m5 0h1m2 0h1m-24 1h1m7 0h1m1 0h1m2 0h2m9 0h1m13 0h1m1 0h3m5 0h1m4 0h1m2 0h1m-46 1h1m32 0h1m1 0h2m2 0h2m-5 1h1m3 0h1m2 1h1m1 0h2m1 0h1m-7 1h1m1 0h5m-3 1h2m-1 1h2m-31 30h1m-5 1h3m1 0h1m1 0h1"/><path stroke="#fff48a" d="M6 0.5h2m3 0h2m25 0h1m-37 1h2m3 0h1m2 0h1m21 0h1m1 0h1m1 0h3m1 0h1m-41 1h2m4 0h1m6 0h1m8 0h1m1 0h1m5 0h2m7 0h2m-38 1h2m1 0h2m2 0h3m1 0h1m2 0h1m2 0h3m3 0h3m13 0h1m1 0h1m-31 1h2m2 0h1m1 0h1m7 0h1m14 0h2m2 0h2m1 0h1m3 0h1m-5 1h1m3 0h2m-5 1h2m1 0h1m1 0h2m-1 1h1m1 0h1m-2 1h1m2 0h1m2 0h1m-4 1h2m-2 1h1m2 1h1m-2 3h1m-1 3h1m0 2h1m-23 16h1m10 0h1m-17 2h1m9 0h1m4 0h1m2 0h1m-24 1h3m2 0h1m5 0h1m-14 1h4m1 0h3m1 0h1m5 0h1m12 0h1m-26 1h1"/><path stroke="#fffc7d" d="M8 0.5h2m1 1h2m-4 1h4m10 0h1m8 0h6m3 0h2m-43 1h1m1 0h1m6 0h1m14 0h2m5 0h1m8 0h2m-41 1h1m1 0h5m1 0h1m3 0h1m3 0h1m3 0h2m1 0h4m1 0h1m11 0h2m3 0h1m-36 1h4m27 0h1m3 0h1m1 0h1m2 0h1m-2 1h1m2 0h1m1 0h1m-5 1h3m2 0h1m-1 1h2m1 0h2m-8 1h2m2 0h1m1 0h1m-4 1h1m1 0h3m1 0h3m-7 1h1m1 0h3m0 1h1m-4 1h1m1 0h1m1 0h1m-4 1h2m-1 1h3m-3 1h2m-3 1h2m-18 16h1m3 0h5m-10 1h1m1 0h2m3 0h1m1 0h1m4 0h1m-20 1h1m3 0h1m2 0h2m1 0h2m4 0h1m-15 1h2m1 0h3m2 0h2m2 0h2m2 0h1m-22 1h1m3 0h2m2 0h2m3 0h1m1 0h1m4 0h1m1 0h1m-28 1h1m3 0h2m2 0h3m2 0h3m1 0h4m1 0h1m1 0h6m1 0h1m-34 1h1m10 0h1m6 0h2m1 0h1m2 0h2m6 0h1m-33 1h1m7 0h3m2 0h1m1 0h1m1 0h1m3 0h2m2 0h1m3 0h1m1 0h1"/><path stroke="#fefe7a" d="M10 0.5h1m-3 1h2m-2 1h1m29 0h1m-38 1h1m6 0h1m14 0h1m6 0h1m1 0h3m4 0h1m-38 1h1m5 0h1m1 0h3m6 0h1m3 0h1m6 0h1m14 0h1m-43 1h1m1 0h1m1 0h2m1 0h1m4 0h1m1 0h1m3 0h2m1 0h1m2 0h1m1 0h1m14 0h2m1 0h1m1 0h1m-26 1h1m23 0h2m-3 1h4m3 0h2m-4 1h1m1 0h2m-1 1h2m1 0h1m1 0h1m-7 1h2m1 0h1m-5 1h1m1 0h3m1 0h1m3 0h1m-8 1h7m1 0h1m-7 1h2m3 0h1m-7 1h1m1 0h2m3 0h1m-64 1h1m58 0h1m-1 1h1m3 0h1m-5 1h1m3 0h1m-2 1h2m-3 1h2m0 1h1m-4 4h3m-1 4h2m-20 4h2m1 0h1m2 0h1m1 0h1m-11 1h2m1 0h2m6 0h1m-14 1h1m3 0h1m2 0h3m1 0h1m1 0h2m1 0h1m6 0h1m-29 1h1m1 0h1m1 0h2m2 0h2m2 0h1m2 0h2m1 0h1m1 0h1m6 0h1m-28 1h1m1 0h3m2 0h1m3 0h2m2 0h2m3 0h1m1 0h1m-28 1h2m5 0h2m2 0h2m2 0h1m1 0h1m1 0h1m2 0h2m2 0h1m2 0h1m2 0h1m-35 1h2m7 0h1m3 0h1m4 0h1m4 0h1m1 0h1m9 0h1m-38 1h2m9 0h1m2 0h4m1 0h1m2 0h1m1 0h2m2 0h3m2 0h1m1 0h2m-36 1h1m11 0h2m1 0h1m3 0h3m2 0h2m1 0h3m1 0h1m1 0h1"/><path stroke="#fcfc87" d="M35 3.5h4m-39 1h1m30 0h1m1 0h1m-33 1h2m1 0h1m1 0h1m2 0h1m6 0h1m1 0h3m2 0h1m1 0h2m1 0h1m1 0h1m12 0h1m-44 1h1m3 0h1m1 0h1m18 0h2m2 0h1m15 0h3m-3 1h1m2 1h4m1 0h1m-54 1h1m50 0h2m-1 1h1m-52 1h1m52 0h1m-55 1h2m53 0h1m-55 1h1m52 0h4m3 0h1m-6 1h1m1 0h1m-1 1h2m1 0h1m-3 1h1m1 0h1m-1 2h2m-3 1h2m-1 1h3m-2 1h3m-6 1h2m1 0h2m-3 1h1m2 0h1m-1 1h1m-6 1h1m1 0h2m1 0h1m-4 1h1m1 0h2m-1 3h1m-11 1h1m8 0h2m-20 1h1m3 0h3m11 0h1m-17 1h1m1 0h1m2 0h1m1 0h1m6 0h1m2 0h1m-17 1h1m6 0h2m1 0h3m1 0h1m1 0h1m-23 1h2m12 0h1m2 0h5m-27 1h1m19 0h3m1 0h2m1 0h1m-31 1h2m1 0h1m21 0h2m2 0h2m-32 1h3m23 0h1m1 0h2m1 0h1m-4 1h1m-3 1h1m4 0h1m-65 1h2m24 0h2m17 0h1m16 0h3"/><path stroke="#fafa96" d="M32 4.5h1m1 0h1m3 0h3m-41 1h1m30 0h1m9 0h1m-40 1h2m1 0h1m1 0h2m1 0h1m5 0h1m6 0h1m4 0h1m14 0h2m-45 1h2m1 0h1m42 0h1m-46 1h2m-2 1h2m1 0h1m45 0h1m-51 1h2m48 0h1m2 0h1m-54 1h1m51 0h1m-51 1h1m50 0h2m-55 1h1m1 0h1m-3 1h3m50 0h3m-56 1h1m55 0h2m-58 1h1m58 1h1m0 1h1m-1 2h1m-3 1h4m-1 1h1m2 0h1m-6 1h2m1 0h2m-8 1h2m1 0h2m-1 1h1m2 0h1m-4 1h1m1 0h1m-3 1h5m-9 1h1m5 0h1m-7 1h2m4 0h2m-11 1h1m-8 1h3m3 0h2m8 0h1m1 0h1m-23 1h3m5 0h1m4 0h1m4 0h1m1 0h2m-24 1h3m14 0h1m3 0h1m1 0h1m-26 1h3m19 1h1m-28 1h1m21 0h1m5 0h2m-34 1h2m-4 1h2m34 0h1m-64 1h1"/><path stroke="#f7f7a5" d="M35 4.5h3m-6 1h2m5 0h2m-40 1h1m7 0h1m1 0h2m1 0h2m1 0h2m1 0h1m6 0h1m2 0h1m11 0h1m-41 1h1m1 0h3m35 0h3m-45 1h1m46 0h1m-45 1h1m44 0h2m-48 1h1m1 0h1m44 0h1m1 0h1m-50 1h2m1 0h1m44 0h2m0 1h1m-1 1h2m-52 2h1m50 0h3m1 1h2m-1 1h1m-1 2h2m-2 1h2m-5 3h4m-4 1h1m2 0h1m-4 1h2m-2 1h2m2 0h1m-4 1h4m-7 1h1m1 0h1m2 0h4m-10 1h2m5 0h3m-15 1h1m3 0h2m2 0h3m1 0h1m1 0h2m-9 1h2m5 0h1m-21 1h1m15 0h1m1 0h1m-21 1h1m-4 1h2m-3 1h1m-5 1h2m-5 1h1m-28 2h2m22 0h2m-25 1h1m21 0h2"/><path stroke="#f3f3bb" d="M34 5.5h1m2 0h2m-26 1h1m5 0h1m1 0h2m18 0h1m-35 1h4m10 0h7m-25 1h3m1 0h1m36 0h1m1 0h1m-42 1h1m41 0h1m-45 1h1m1 0h1m42 0h1m-45 1h1m-2 1h1m1 0h1m45 0h1m-49 1h1m47 0h1m0 1h1m-52 2h2m1 0h1m51 0h1m-56 1h1m56 1h2m-56 1h1m52 0h1m-2 1h2m-2 1h2m-3 1h4m-5 1h1m-3 1h1m1 0h1m-2 1h1m3 0h2m-5 1h1m2 0h2m-5 1h2m-4 1h1m1 0h1m2 0h1m-9 1h1m1 0h1m2 0h2m2 0h1m-14 1h2m1 0h3m7 0h1m1 0h1m-18 1h2m11 0h5m-21 1h1m15 0h1m1 0h1m-24 2h1m-4 1h3m-5 1h1m-4 1h1m-2 1h1m-23 1h1m19 0h1m-22 1h3m16 0h2"/><path stroke="#eeeed1" d="M35 5.5h1m-5 1h3m5 0h2m-30 1h1m1 0h2m1 0h2m1 0h2m7 0h1m-23 1h1m1 0h2m1 0h4m9 0h1m-19 1h2m1 0h1m3 0h1m31 0h1m-35 1h1m37 1h1m-46 1h1m1 0h1m43 0h1m-48 2h1m47 0h1m-49 1h1m-1 1h1m1 0h1m48 0h2m-56 1h1m1 0h2m1 0h1m51 0h1m-56 1h1m1 0h3m50 0h1m-53 1h2m49 0h1m-52 1h2m46 3h1m-4 1h1m2 0h1m-2 1h1m1 0h1m-3 1h2m-3 1h1m-2 1h2m-6 1h1m1 0h1m1 0h1m-8 1h2m-3 1h1m-5 1h1m-3 1h3m-5 1h1m-6 2h1m-30 2h3m22 0h1m-23 1h1m18 0h2m-3 1h1"/><path stroke="#e9ebe5" d="M36 5.5h1m1 1h1m-27 1h1m2 0h1m2 0h1m10 0h2m8 0h3m-32 1h1m4 0h1m2 0h1m3 0h1m2 0h1m17 0h1m-36 1h1m1 0h3m31 0h1m1 0h1m-41 1h4m2 0h2m33 0h1m-42 1h2m39 0h1m-41 1h1m41 0h1m-46 1h3m40 0h1m1 0h2m-47 1h1m45 0h1m-47 1h1m46 0h2m0 1h1m-50 1h1m1 0h1m49 0h1m-57 1h1m2 0h1m3 0h1m48 0h1m-55 1h2m51 0h1m-53 1h2m49 0h2m-50 1h1m48 0h1m-3 1h2m-5 1h3m-2 1h1m-2 1h1m-2 1h3m-4 1h1m1 0h1m1 0h2m-9 1h2m1 0h2m-3 1h1m-8 2h2m-3 1h1m-9 3h1m-32 2h1m23 1h1m-20 1h1m15 0h1m-16 1h1m13 0h1"/><path stroke="#d5e7eb" d="M37 6.5h1m-7 1h1m-16 1h2m1 0h3m1 0h1m2 0h1m2 0h1m1 0h1m9 0h2m2 0h1m-32 1h2m1 0h1m-8 1h1m33 0h3m-39 1h2m36 0h1m1 0h1m-41 1h1m1 0h1m37 0h1m-42 1h1m-3 1h2m-2 1h2m43 0h1m-45 1h1m45 0h1m-46 1h1m46 0h2m-55 1h1m6 0h1m46 0h1m-55 1h1m5 0h2m-7 1h1m49 0h1m-48 1h1m48 0h1m-49 1h1m44 0h1m-3 1h1m-1 1h1m-2 1h1m2 0h1m-4 1h1m0 1h1m-3 1h1m-4 1h2m-4 1h1m-5 1h2m-5 2h1m-3 1h1m-4 1h1m-3 1h1m-28 1h1m24 0h1m-24 1h1m2 1h1m0 1h1m3 0h1m6 0h2"/><path stroke="#bce3f0" d="M34 6.5h3m-5 1h3m3 0h1m-12 1h2m1 0h1m2 0h1m6 0h1m-25 1h1m1 0h2m3 0h1m18 0h2m-30 1h2m26 0h2m-34 1h4m29 0h2m-1 1h4m-40 1h1m37 0h1m1 0h1m-42 1h2m39 0h2m-43 1h1m40 0h2m-43 1h1m41 0h1m1 0h1m-44 1h1m44 0h1m-1 1h2m-55 1h1m51 0h3m-55 1h1m6 0h2m44 0h1m-53 1h4m2 0h1m41 0h1m-50 1h1m3 0h2m43 0h2m1 0h1m-5 1h1m-1 1h1m-2 1h1m1 0h1m-4 1h2m-3 1h1m1 0h1m-4 1h1m-3 1h2m-5 1h3m-5 1h1m-2 1h2m-5 1h2m-4 1h2m-5 1h2m-30 1h2m1 0h1m23 0h1m-26 1h3m20 0h1m-22 1h1m1 0h1m16 0h1m-17 1h1m12 0h1m-13 1h3m1 0h1m2 0h3"/><path stroke="#a0def4" d="M35 7.5h1m1 0h1m-6 1h1m1 0h1m3 0h2m-20 1h1m1 0h1m5 0h3m5 0h1m3 0h2m-26 1h1m1 0h1m1 0h1m3 0h1m15 0h2m-28 1h1m8 0h1m17 0h2m2 0h1m-37 1h1m1 0h3m1 0h1m26 0h2m-35 1h1m34 0h2m-37 1h1m34 0h2m1 0h1m-40 1h1m34 0h2m1 0h2m-40 1h3m1 0h1m35 0h1m1 0h1m-42 1h1m1 0h1m39 0h2m-44 1h2m41 0h1m-5 1h2m-49 1h1m-2 1h1m7 0h1m41 0h1m2 0h1m-53 1h3m0 1h1m41 0h2m-1 1h1m-2 1h1m-1 2h1m-7 2h1m-3 1h1m-6 1h1m0 1h2m-4 1h1m-3 1h1m-28 1h1m-2 1h1m1 0h1m19 1h1m-20 1h1m1 0h1m13 0h2m-15 1h3m7 0h2m-7 1h2"/><path stroke="#82daf7" d="M36 7.5h1m-2 1h3m-17 1h1m2 0h4m4 0h1m1 0h1m3 0h2m-23 1h1m1 0h1m1 0h3m4 0h1m10 0h1m-25 1h2m1 0h3m1 0h1m1 0h1m2 0h2m9 0h1m1 0h1m-27 1h1m2 0h1m4 0h1m18 0h1m-31 1h6m24 0h1m1 0h1m-34 1h2m2 0h3m29 0h1m-38 1h3m30 0h1m2 0h1m-35 1h1m33 0h3m-38 1h1m1 0h2m32 0h2m1 0h2m-40 1h1m35 0h1m1 0h3m-43 1h3m38 0h2m-4 1h1m2 0h1m-1 1h2m-46 1h1m39 0h2m-49 1h3m3 0h1m14 0h1m-1 1h1m22 0h1m-27 1h1m25 0h2m-28 1h1m24 0h3m-3 1h2m-4 1h1m1 0h1m-6 1h2m-4 1h2m-4 1h3m-5 1h2m-3 1h1m-4 1h1m-27 1h1m24 0h1m-2 1h1m-22 1h2m1 1h1m2 1h7"/><path stroke="#64d6fa" d="M31 9.5h1m1 0h1m1 0h1m1 0h1m-13 1h3m1 0h4m2 0h1m1 0h2m-18 1h1m7 0h2m8 0h1m-24 1h1m2 0h1m3 0h1m14 0h3m-31 1h1m7 0h1m20 0h2m1 0h1m-30 1h1m3 0h1m21 0h1m1 0h3m-31 1h4m-4 1h1m29 0h1m-29 1h1m29 0h1m2 0h1m-37 1h1m31 0h3m1 0h1m-2 1h1m-39 1h2m35 0h2m1 0h2m-5 1h1m1 0h1m-10 1h1m5 0h1m-43 1h1m1 0h1m30 0h3m-34 1h2m35 0h2m1 0h2m-30 1h1m2 0h1m19 0h1m-24 1h1m-3 1h2m11 0h1m10 0h2m1 0h1m-14 1h1m8 0h3m1 0h1m-34 1h1m19 0h1m11 0h1m-31 1h2m21 0h2m-29 1h1m1 0h1m1 0h1m17 0h1m-1 1h3m-2 1h1m-29 1h2m25 0h1m-30 1h2m2 0h1m0 1h2m18 0h1m-4 1h1m-14 1h1m1 0h1m8 0h1"/><path stroke="#45d2fd" d="M36 10.5h1m-20 1h1m7 0h1m8 0h1m1 0h2m-20 1h1m1 0h2m2 0h3m1 0h1m8 0h1m-21 1h1m1 0h2m1 0h1m3 0h1m-15 1h1m27 0h1m-29 1h1m27 0h2m-28 1h3m21 0h1m2 0h2m1 0h1m-31 1h1m2 0h1m21 0h1m1 0h4m-32 1h3m25 0h3m-31 1h3m23 0h2m5 0h1m-3 1h2m-2 1h2m1 0h1m-8 1h1m5 0h1m-40 1h1m12 0h1m1 0h2m21 0h1m-46 1h1m1 0h3m15 0h1m13 0h4m1 0h1m-34 1h1m28 0h2m2 0h1m2 0h2m-38 1h1m8 0h1m13 0h1m3 0h1m2 0h1m2 0h4m-34 1h1m1 0h1m5 0h1m11 0h1m11 0h1m-14 1h1m1 0h2m3 0h1m-25 1h1m16 0h1m4 0h3m1 0h1m-31 1h1m1 0h2m19 0h1m-26 1h2m3 0h1m1 0h1m17 0h3m-30 1h1m1 0h1m3 0h1m-10 1h1m4 0h3m21 0h1m-30 1h2m2 0h2m-1 1h2m19 0h1m-20 1h1m15 1h1m-14 1h1m1 0h1m1 0h2m3 0h1"/><path stroke="#2ecdf6" d="M33 10.5h2m-9 1h1m4 0h3m-7 1h1m1 0h3m-11 1h1m1 0h2m4 0h1m8 0h1m-21 1h2m2 0h1m2 0h1m-9 1h1m3 0h1m15 0h1m1 1h2m-25 1h1m8 0h1m12 0h1m1 0h1m-25 1h2m19 0h2m1 0h1m-29 1h1m24 0h2m3 0h2m1 0h1m-9 1h6m-34 1h1m27 0h2m2 0h1m1 0h1m-36 1h1m12 0h3m9 0h1m3 0h1m4 0h1m1 0h1m-11 1h1m4 0h6m-44 1h1m15 0h3m2 0h1m15 0h1m1 0h2m-40 1h1m1 0h2m1 0h1m11 0h1m14 0h1m2 0h2m2 0h1m-34 1h1m1 0h1m5 0h1m2 0h2m10 0h1m2 0h1m2 0h2m-32 1h2m3 0h3m3 0h1m11 0h3m3 0h3m-31 1h5m14 0h1m4 0h3m2 0h1m-31 1h2m1 0h1m1 0h1m14 0h1m2 0h3m3 0h1m-33 1h2m2 0h1m18 0h3m2 0h2m-32 1h1m5 0h1m4 0h1m13 0h1m-28 1h1m3 0h1m1 0h3m1 0h2m15 0h1m-26 1h3m23 0h1m-2 1h1m-3 1h1m-17 1h1m14 0h1m-18 1h2m12 0h1m-9 1h1m3 0h2"/><path stroke="#24c7de" d="M35 11.5h1m-4 1h2m1 0h2m-12 1h1m1 0h2m1 0h1m6 0h1m-17 1h1m1 0h2m4 0h1m7 0h2m-21 1h1m1 0h1m1 0h1m3 0h1m2 0h2m5 0h1m1 0h2m-23 1h2m1 0h1m1 0h3m5 0h1m-11 1h3m1 0h1m-7 1h3m1 0h2m1 0h2m12 0h1m-24 1h1m1 0h3m2 0h1m12 0h1m4 0h1m2 0h1m-32 1h2m6 0h1m3 0h1m-16 1h1m12 0h1m1 0h1m2 0h1m10 0h2m1 0h1m-19 1h1m13 0h1m2 0h1m1 0h1m-25 1h1m4 0h1m8 0h1m1 0h1m-29 1h1m1 0h2m21 0h1m-32 1h1m7 0h1m4 0h3m4 0h1m9 0h3m-33 1h1m1 0h3m3 0h1m2 0h3m13 0h1m1 0h1m1 0h1m2 0h1m-36 1h2m2 0h1m1 0h1m3 0h1m8 0h1m7 0h1m6 0h2m-36 1h1m1 0h1m1 0h4m5 0h1m1 0h1m1 0h1m18 0h1m-33 1h3m19 0h1m-26 1h2m3 0h1m6 0h1m12 0h1m4 0h1m-32 1h1m2 0h2m23 0h1m-27 1h1m9 0h1m15 0h1m-28 1h1m6 0h1m-3 1h2m1 0h1m-3 1h2m-1 1h1m13 0h1m-14 1h2m8 0h1m-4 1h1"/><path stroke="#1fc0be" d="M31 13.5h2m2 0h2m-17 1h1m5 0h3m1 0h2m3 0h2m-18 1h1m3 0h3m2 0h1m2 0h1m-13 1h1m1 0h1m3 0h3m1 0h1m7 0h1m-20 1h2m3 0h1m2 0h1m9 0h2m-11 1h1m-11 1h1m6 0h3m8 0h1m-25 1h2m2 0h2m6 0h1m2 0h1m9 0h1m6 0h1m-27 1h1m3 0h1m2 0h1m2 0h1m6 0h3m-28 1h1m10 0h1m6 0h1m6 0h3m-28 1h1m15 0h1m-18 1h1m5 0h1m9 0h1m8 0h1m-34 1h1m2 0h1m6 0h1m1 0h2m8 0h1m6 0h1m-23 1h1m3 0h1m15 0h1m-25 1h1m1 0h1m14 0h1m5 0h1m6 0h1m-33 1h1m12 0h1m1 0h1m9 0h1m-27 1h1m1 0h2m9 0h2m9 0h1m-25 1h1m2 0h1m10 0h1m-14 1h1m12 0h1m10 0h1m-25 1h1m11 0h1m-4 1h3m14 0h1m-20 1h1m1 0h1m15 0h1m-3 1h1m-2 1h1m-13 1h3m1 0h1m1 0h1m2 0h1"/><path stroke="#1ab99d" d="M34 12.5h1m-2 1h2m-8 2h1m0 1h1m2 0h1m3 0h1m-1 1h1m-15 1h1m2 0h1m-4 1h2m4 0h2m-12 1h4m1 0h1m1 0h1m2 0h2m6 0h1m-24 1h5m2 0h2m1 0h1m3 0h1m-13 1h1m3 0h2m5 0h2m-19 1h1m2 0h2m5 0h1m7 0h1m-16 1h1m3 0h2m6 0h1m1 0h1m4 0h2m-21 1h1m11 0h1m3 0h1m2 0h1m-31 1h1m1 0h1m18 0h3m1 0h2m-25 1h1m20 0h1m-21 1h1m14 0h1m6 0h1m-25 1h1m14 0h1m6 0h1m1 0h1m-2 2h1m1 0h1m-13 1h1m9 0h3m-18 1h1m14 0h3m-17 3h1m3 0h1m-1 1h1m1 0h1m1 0h1"/><path stroke="#16b27b" d="M32 14.5h1m1 0h1m-3 1h1m2 0h1m0 1h1m-9 1h4m-4 1h2m5 0h2m-3 1h1m-6 1h1m3 0h2m-24 1h1m21 0h1m-24 1h4m3 0h1m10 0h2m2 0h1m-23 1h1m2 0h1m1 0h1m1 0h1m14 0h1m-21 1h2m13 0h1m1 0h1m-22 1h1m16 0h2m1 0h1m-5 1h1m-4 1h2m2 0h1m-6 1h1m3 0h1m-10 1h1m6 0h1m-8 1h1m7 0h3m-11 1h1m-3 2h1m-3 1h1m1 0h1m9 0h1m1 0h1m-17 1h3m-1 1h3m5 0h3"/><path stroke="#11ab5a" d="M33 14.5h1m-1 1h1m-7 2h1m4 0h1m-3 1h1m3 0h1m-6 1h1m3 0h1m-16 2h1m11 0h1m-15 1h1m13 0h1m-15 1h1m10 0h5m-6 1h1m1 0h1m-5 1h1m-1 2h1m-6 1h1m1 0h3m-7 1h1m4 1h1m0 1h1m-9 1h1m-2 1h2m7 0h1m-12 1h1m1 0h2m6 0h1m-10 1h2m7 0h2m-8 1h2"/><path stroke="#0ba339" d="M34 15.5h1m-3 1h1m0 1h2m-4 1h3m-4 1h1m1 0h1m-3 1h1m1 1h1m-18 1h1m15 0h1m-18 1h1m3 6h2m-4 1h1m4 0h1m-6 1h1m5 0h1m-7 1h1m5 0h2m-2 1h1m-2 1h1m2 0h1m-13 1h1m8 0h1m-4 1h1"/><path stroke="#069e1c" d="M34 16.5h1m-4 3h1m-1 1h2m-4 1h1m-10 8h2m-5 1h1m3 1h1m-1 1h1m-6 1h1m-1 1h1m-2 1h3m2 0h1m-6 1h1"/><path stroke="#009a00" d="M33 16.5h1m-3 5h1m-14 9h3m-4 1h4m-4 1h4m-4 1h5m-5 1h4m-3 1h2"/></g><path class="co" d="M667.4 420.2L667.9 413.5L666.9 406.8L658.6 393.4L642.1 380.8L629.1 371.6L628.1 364.9L627.6 365.8L614.7 356.6L599.2 344.0L590.9 332.3L588.9 325.6L570.3 319.7L571.3 326.4L585.8 344.0L597.1 358.2L607.4 375.8L613.6 382.5L625.0 388.4L621.9 394.6L616.7 389.2L603.3 381.7L598.2 379.2L599.2 376.7L596.1 374.1L597.1 368.3L585.8 361.6L575.4 357.4L568.2 353.2L576.5 352.4L577.0 346.5L566.1 339.0L557.9 329.8L550.6 320.6L546.5 313.5L544.4 308.9L536.2 303.4L532.0 301.3L523.8 299.6L511.4 297.1L509.3 291.3L496.9 280.4L495.9 276.6L490.7 272.0L494.8 272.0L493.8 267.8L490.7 268.7L485.5 265.3L477.3 257.0L471.6 248.2L474.2 242.7L473.1 234.4L470.0 227.2L474.2 217.6L475.7 199.2L474.2 194.2L468.0 181.2L483.5 182.9L488.6 184.1L491.7 190.0L486.6 191.7L490.7 185.8L492.8 181.6L487.6 175.8L483.5 173.3L470.0 167.4L459.7 163.2L442.2 159.0L434.9 152.3L441.1 150.7L433.9 146.5L423.6 139.8L415.3 142.3L405.0 129.7L415.3 123.9L413.2 118.0L397.7 111.3L377.1 99.6L354.3 85.4L341.9 87.9L327.5 91.2L315.1 85.4L317.2 82.9L297.5 84.5L268.6 83.7L259.3 80.4L245.9 78.7L242.8 74.5L229.3 73.7L223.1 77.0L223.1 82.9L207.6 84.5L189.1 90.4L189.1 84.5L196.3 79.5L210.7 75.3L209.7 71.1L191.1 77.0L176.7 81.2L177.7 86.2L164.3 91.2L165.3 95.4L139.5 106.3L113.6 117.2L82.6 124.7L53.7 130.6L70.2 126.0L86.8 118.9L103.3 117.6L113.6 116.8L114.7 112.2L129.1 103.8L130.2 99.6L135.3 92.9L122.9 94.6L118.8 91.2L115.7 94.6L103.3 92.9L81.6 94.6L85.7 92.9L80.6 80.4L65.1 85.4L51.7 78.7L69.2 77.0L50.6 76.2L41.3 68.6L53.7 62.8L58.9 56.9L80.6 55.2L94.0 52.7L90.9 47.7L95.0 43.5L70.2 46.0L39.3 44.4L35.1 40.2L20.7 36.8L42.4 32.6L59.9 28.5L85.7 28.5L102.3 30.1L83.7 27.2L80.6 25.9L56.8 20.9L35.1 14.2L39.3 10.0L58.9 7.5L75.4 -0.8"/><path class="co" d="M481.4 181.2L468.0 179.5L454.6 173.3L436.0 166.6L429.8 161.1L444.2 162.4L461.8 167.4L475.2 174.1L481.4 181.2"/><path class="co" d="M401.9 150.7L389.5 142.3L381.2 133.1L395.7 133.9L386.4 138.1L394.6 140.6L401.9 150.7"/><path class="co" d="M342.9 95.2L349.8 103.5L347.0 106.3L359.4 115.9L362.2 114.6L356.6 106.3L362.2 103.5"/><path class="co" d="M348.4 92.4L359.4 97.9L366.3 109.1L363.5 111.8L375.9 117.3L378.7 122.9L384.2 124.2"/><path class="co" d="M356.6 91.1L367.7 96.6L378.7 107.6L384.2 111.8L389.8 113.2L400.8 117.3L398.0 124.2L389.8 121.4"/><path class="co" d="M364.9 102.1L373.3 103.5L370.5 109.1L381.5 115.9L378.7 111.8L387.0 117.3"/><path class="co" d="M373.3 117.3L381.5 128.4L384.2 122.9L389.8 125.6L387.0 120.1"/><path class="co" d="M353.9 97.9L362.2 96.6"/><path class="co" d="M360.8 107.6L370.5 105.5"/><path class="co" d="M367.7 113.2L375.9 110.4"/><path class="co" d="M374.6 120.1L384.2 117.3"/><path class="co" d="M384.2 115.9L395.3 115.9"/><path class="co" d="M389.8 118.7L398.0 120.1"/><path class="co" d="M344.2 96.6L353.9 102.1L351.1 96.6"/><path class="co" d="M378.7 117.3L373.3 113.2"/><path class="co" d="M409.1 133.9L417.4 135.6L414.3 138.9L423.6 139.8L421.5 143.1L429.8 144.0L427.7 147.3L436.0 148.1L432.9 151.5L439.1 153.2"/><path class="co" d="M383.3 137.3L396.7 138.1L389.5 142.3L393.6 145.6"/><path class="fi" d="M489.7 182.5L493.8 184.1L493.8 190.0L489.7 192.5L486.6 190.0L489.7 187.5"/><path class="co" d="M158.1 107.1L169.4 101.3L182.9 97.1L184.9 103.8L169.4 108.8L158.1 107.1"/><path class="co" d="M173.6 97.9L181.8 95.0L187.0 97.9L177.7 99.6"/><path class="co" d="M26.9 82.0L39.3 79.9L45.5 83.7L37.2 85.4L26.9 82.0"/><path class="fi" d="M-2.1 54.0L13.4 55.7L-2.1 57.8"/><path class="fi" d="M-2.1 145.2L3.1 143.5L-2.1 143.1"/><path class="fi" d="M12.4 141.9L22.7 138.9L21.7 137.7L11.9 140.6"/><path class="fi" d="M25.8 138.1L38.2 134.8L37.2 133.5L25.3 136.8"/><path class="fi" d="M40.3 133.9L45.5 132.7L44.9 131.4L39.8 132.7"/><path class="fi" d="M48.6 133.1L52.7 132.2L52.2 131.4L48.0 132.2"/><path class="fi" d="M72.3 131.0L77.5 131.4L77.5 129.7L72.3 129.7"/><path class="fi" d="M95.0 123.0L101.2 124.3L109.5 126.4L109.5 125.5L101.2 123.0L95.0 122.2"/><path class="fi" d="M145.7 119.3L149.8 119.3L149.8 117.6L145.7 117.6"/><path class="fi" d="M157.0 113.4L164.3 112.6L164.3 111.3L157.0 112.2"/><path class="fi" d="M105.4 401.8L108.5 399.7L111.1 401.3L108.5 403.0"/><path class="fi" d="M100.2 403.0L102.8 401.8L102.8 403.4"/><path class="fi" d="M120.9 405.9L124.5 404.1L127.6 407.6L122.9 408.0"/><path class="fi" d="M131.2 409.3L136.9 408.9L136.9 408.0L131.2 408.3"/><path class="fi" d="M137.4 410.5L142.6 410.5L144.6 412.6L140.0 413.5"/><path class="fi" d="M145.7 416.4L152.9 418.9L155.0 421.8L143.6 421.8"/><path class="fi" d="M511.9 300.9L521.2 301.3L521.2 302.0L511.9 302.0"/><path class="fi" d="M520.7 307.2L522.7 308.0L522.2 307.2"/><path class="fi" d="M531.0 305.5L534.1 307.2L534.1 306.3"/><path class="fi" d="M531.0 309.3L533.6 311.4L532.6 309.3"/><path class="fi" d="M533.1 341.5L535.1 344.4L535.1 341.5"/><path class="fi" d="M564.6 348.6L566.6 351.1L566.6 348.6"/><path class="fi" d="M582.7 338.6L587.3 343.2L585.8 339.4"/><path class="fi" d="M593.5 341.5L597.1 344.8L596.6 341.9"/><path class="fi" d="M653.9 403.9L658.1 406.8L657.6 404.7"/><path class="fi" d="M615.7 376.2L617.3 377.9L616.7 375.8"/><path class="fi" d="M608.0 367.4L609.5 369.5L609.0 367.0"/><path class="co" d="M299.6 2.9L327.5 5.9L352.3 8.4L366.7 5.0L382.2 4.6L396.7 0.8L423.6 -1.7"/><path class="co" d="M377.1 10.0L402.9 5.4L426.7 0.8L444.2 -2.5"/><path class="co" d="M444.2 -0.8L459.7 5.9L470.0 0.4L472.1 5.0L486.6 0.4L506.2 2.5L542.4 8.4L575.4 13.4L566.1 17.6L588.9 18.8L625.0 18.4L641.5 26.8L646.7 25.1L641.5 20.1L634.3 15.9L658.1 10.0L676.7 8.8"/><path class="co" d="M542.4 -0.8L568.2 5.9L592.0 11.7L625.0 10.9L658.1 6.7L676.7 5.0"/><path class="bo" d="M299.6 -1.7L299.6 81.2L319.2 82.9L335.8 92.9L356.4 85.4L371.9 93.7L392.6 108.8L413.2 117.2"/><path class="bo" d="M487.6 175.8L681.8 175.8"/><path class="bo" d="M475.7 199.2L492.8 204.2L523.8 201.7L547.0 200.9"/><path class="bo" d="M547.0 175.8L547.0 200.9L552.7 205.5L547.5 216.8L547.2 234.4"/><path class="bo" d="M557.3 175.8L558.9 186.7L574.4 198.4L575.4 205.1L588.9 213.4L609.0 212.6"/><path class="bo" d="M681.8 209.2L609.0 209.2L609.0 242.7L681.8 242.7"/><path class="bo" d="M473.1 234.4L609.0 234.4"/><path class="bo" d="M516.5 234.4L516.5 259.5L572.3 292.1L570.3 298.8L574.4 302.2L571.3 312.2"/><path class="bo" d="M578.0 234.4L578.0 282.9L571.3 284.6L572.3 292.1"/><path class="bo" d="M578.0 276.2L681.8 276.2"/><path class="bo" d="M629.7 242.7L629.7 323.5"/><path class="bo" d="M546.5 313.5L571.3 312.2L609.0 323.5L638.4 323.5L638.4 319.7L656.0 319.7L681.8 318.1"/><path class="bo" d="M656.0 319.7L671.5 328.9L676.7 338.1"/></g><path class="tk" d="M0.0 418.5v-8M51.7 418.5v-8M103.3 418.5v-8M155.0 418.5v-8M206.6 418.5v-8M258.3 418.5v-8M309.9 418.5v-8M361.6 418.5v-8M413.2 418.5v-8M464.9 418.5v-8M516.5 418.5v-8M568.2 418.5v-8M619.8 418.5v-8M671.5 418.5v-8M0 418.5h8M0 376.7h8M0 334.8h8M0 292.9h8M0 251.1h8M0 209.2h8M0 167.4h8M0 125.5h8M0 83.7h8M0 41.9h8M0 0.0h8"/><rect class="fr" width="671.5" height="418.5"/><text class="tt" x="335.8" y="-30.8">Hindcast Climatology of AR Days</text><text class="sl" x="2" y="-7.2">Dec 16 to Dec 22, Climatology</text><text class="sr" x="670.5" y="-7.2">15−day to 21−day lead</text><text class="yl" x="-4.5" y="426.9">20°N</text><text class="yl" x="-4.5" y="343.2">30°N</text><text class="yl" x="-4.5" y="259.5">40°N</text><text class="yl" x="-4.5" y="175.8">50°N</text><text class="yl" x="-4.5" y="92.1">60°N</text><text class="yl" x="-4.5" y="8.4">70°N</text><text class="xl" x="0.0" y="450.5">170°W</text><text class="xl" x="103.3" y="450.5">160°W</text><text class="xl" x="206.6" y="450.5">150°W</text><text class="xl" x="309.9" y="450.5">140°W</text><text class="xl" x="413.2" y="450.5">130°W</text><text class="xl" x="516.5" y="450.5">120°W</text><text class="xl" x="619.8" y="450.5">110°W</text><rect x="692.1" y="0" width="20.2" height="418.5" fill="url(#gar)" stroke="#000" stroke-width="3"/><path class="tk" d="M692.1 0.0h7M712.3 0.0h-7"/><text class="cl" x="713.3" y="8.5">1.5</text><path class="tk" d="M692.1 139.5h7M712.3 139.5h-7"/><text class="cl" x="713.3" y="148.0">1</text><path class="tk" d="M692.1 279.0h7M712.3 279.0h-7"/><text class="cl" x="713.3" y="287.5">0.5</text><path class="tk" d="M692.1 418.5h7M712.3 418.5h-7"/><text class="cl" x="713.3" y="427.0">0</text></g><g transform="translate(92.5 1534.7)"><clipPath id="cp92_1534"><rect width="671.5" height="418.5"/></clipPath><g clip-path="url(#cp92_1534)"><rect width="671.5" height="418.5" fill="#fff"/><g transform="scale(10.3308 10.3308)" fill="none" stroke-width="1.06" shape-rendering="crispEdges"><path stroke="#ffb459" d="M56 16.5h1m-1 1h1m-57 6h1m-1 1h1"/><path stroke="#ffbd71" d="M56 15.5h1m-2 1h1m-1 1h1m-55 6h2m-2 1h3"/><path stroke="#ffc788" d="M57 16.5h1m-1 1h1m-57 5h1m1 1h2m-1 1h1m-5 1h1m1 0h2m52 0h1m-54 1h1"/><path stroke="#ffd0a0" d="M54 15.5h2m2 0h1m-1 1h2m-6 1h1m3 0h2m-1 1h1m1 1h1m-52 2h1m-11 1h1m1 0h1m61 1h1m-60 1h1m54 0h2m1 0h1m-63 1h1m61 0h1m-62 1h1"/><path stroke="#ffd3b1" d="M56 14.5h1m-4 1h1m3 0h1m1 0h1m-7 1h2m5 0h1m-1 1h2m-7 1h2m3 0h1m2 0h1m-64 1h1m61 0h1m1 0h1m-1 1h1m-65 1h1m1 0h1m1 0h1m-1 1h3m3 0h1m50 0h1m-57 1h2m53 0h4m-58 1h1m51 0h1m-55 1h2m55 0h1m2 0h1m-65 1h2m2 0h1"/><path stroke="#ffd7c1" d="M54 14.5h1m2 0h1m3 1h1m-10 2h2m8 0h3m-8 1h2m2 0h1m2 0h1m-13 1h1m5 0h1m1 0h1m2 0h1m-64 1h1m1 0h2m54 0h1m1 0h1m-60 1h1m1 0h1m5 0h1m1 0h1m-9 1h1m5 0h1m1 0h1m48 0h1m-52 1h1m-3 1h1m1 0h1m49 0h1m2 0h1m1 0h1m-59 1h1m50 0h4m1 0h1m-58 1h1m52 0h4m-60 1h1m57 0h1"/><path stroke="#ffdad2" d="M51 4.5h1m0 2h1m-2 1h1m2 0h1m-2 7h1m1 0h1m2 0h1m3 0h1m-12 1h2m7 0h1m1 0h2m-14 1h1m1 0h1m8 0h1m1 0h2m-65 1h1m0 1h1m51 0h1m8 0h1m-60 1h1m49 0h1m5 0h1m-59 1h1m2 0h1m4 0h2m48 0h1m1 0h3m-59 1h3m53 0h2m1 0h1m-58 1h1m4 0h1m46 0h1m3 0h2m-58 1h1m2 0h2m43 0h1m2 0h2m-3 1h1m-51 1h1m47 0h1m-1 1h3m4 0h3m-62 1h1m55 0h1m1 0h2"/><path stroke="#ffdedc" d="M59 3.5h1m-11 1h1m2 0h1m-5 1h1m1 0h3m-3 1h2m2 0h2m-7 1h2m2 0h1m10 0h1m-13 6h1m-2 1h2m6 0h3m-13 2h1m1 0h1m10 0h1m-62 1h2m46 0h3m-52 1h1m1 0h2m46 0h3m1 0h1m-54 1h1m2 0h2m45 0h1m-47 1h1m5 0h1m45 0h1m-50 1h1m3 0h1m43 0h4m3 0h1m-56 1h1m46 0h1m1 0h2m3 0h1m-55 1h1m47 0h2m-50 1h1m1 0h2m40 0h1m1 0h1m1 0h1m-49 1h2m44 0h1m-49 1h1m-7 1h2m55 0h2m4 0h2"/><path stroke="#ffe1e6" d="M41 3.5h1m7 0h1m1 0h1m-19 1h2m1 0h1m11 0h1m1 0h1m3 0h2m1 0h1m1 0h1m3 0h1m-31 1h1m10 0h1m4 0h1m9 0h1m3 0h1m-19 1h3m1 0h1m3 0h1m3 0h1m-12 1h1m9 0h1m2 0h1m1 0h3m-16 1h1m1 0h4m4 0h1m-11 1h1m3 0h1m3 0h1m-3 4h3m1 0h2m3 0h1m-15 1h2m12 0h2m-15 1h1m13 0h1m-63 4h1m3 0h1m3 0h1m39 0h1m3 0h3m-51 1h1m1 0h1m41 0h2m3 0h2m-44 1h1m36 0h1m2 0h1m1 0h1m4 0h1m-48 1h1m37 0h3m2 0h1m-45 1h1m41 0h1m-2 1h1m1 0h1m-3 1h1m-1 1h2m-51 1h2m49 0h2m3 1h2m1 0h2"/><path stroke="#ffe4f0" d="M6 2.5h1m34 0h1m10 0h1m3 0h1m-52 1h1m32 0h3m2 0h1m2 0h1m1 0h1m1 0h1m1 0h4m1 0h2m1 0h1m-26 1h1m6 0h2m2 0h2m5 0h1m2 0h1m1 0h1m1 0h1m-25 1h1m6 0h1m2 0h2m5 0h1m1 0h2m1 0h1m1 0h1m1 0h1m-19 1h1m11 0h1m1 0h2m1 0h4m-17 1h1m3 0h1m2 0h1m2 0h1m1 0h1m-14 1h1m1 0h1m4 0h4m2 0h4m-15 1h3m2 0h1m2 0h3m2 0h2m-13 1h1m1 0h2m8 0h1m-12 1h1m-3 1h1m12 0h2m-16 1h3m1 0h1m3 0h1m2 0h3m1 0h1m-17 1h1m-1 1h2m-3 1h2m-46 1h1m44 0h1m-44 1h1m1 1h1m1 0h1m1 0h1m45 0h1m-51 1h1m44 0h3m-4 1h2m1 0h1m-1 1h1m-42 1h1m36 0h1m1 0h2m-41 1h1m36 0h2m-42 1h1m40 0h2m-46 1h3m41 0h1m-46 1h1m46 0h2m-55 1h1m1 0h1m55 0h2m2 0h1"/><path stroke="#ffe8fa" d="M28 0.5h1m3 0h1m9 0h1m16 0h1m4 0h1m-36 1h1m4 0h1m2 0h1m12 0h3m1 0h2m6 0h1m1 0h1m-42 1h1m12 0h2m9 0h2m2 0h1m1 0h3m1 0h3m2 0h1m1 0h1m-61 1h1m1 0h1m28 0h3m7 0h1m1 0h1m8 0h1m4 0h2m-58 1h1m31 0h3m4 0h2m16 0h1m1 0h1m-30 1h1m1 0h1m7 0h1m11 0h1m3 0h1m2 0h1m-32 1h1m1 0h2m5 0h2m4 0h1m-14 1h1m7 0h1m1 0h1m1 0h1m9 0h1m-16 1h3m14 0h1m-7 1h1m1 0h1m4 0h1m-13 1h1m6 0h1m2 0h5m1 0h1m-20 1h1m2 0h1m7 0h1m-11 1h1m5 0h1m1 0h5m3 0h1m-16 1h1m-3 1h1m1 0h1m-2 1h2m-47 1h2m1 2h1m44 0h1m-42 1h1m4 1h1m35 0h1m-1 1h1m-1 1h2m-37 1h1m34 0h1m1 0h1m-3 1h1m-39 1h2m39 1h1m-2 1h1m-51 1h1m1 0h2m50 0h1m1 0h1"/><path stroke="#ffeefb" d="M7 0.5h2m14 0h5m2 0h1m6 0h2m1 0h1m4 0h1m2 0h1m2 0h3m2 0h1m3 0h2m-55 1h1m1 0h1m1 0h1m8 0h1m2 0h1m12 0h1m1 0h2m3 0h7m6 0h3m-55 1h2m1 0h1m2 0h1m22 0h3m3 0h2m1 0h1m1 0h2m3 0h2m9 0h2m1 0h1m-57 1h1m2 0h1m23 0h1m9 0h1m18 0h1m-61 1h2m1 0h2m32 0h2m-10 1h1m1 0h1m3 0h1m1 0h1m1 0h1m11 0h1m-23 1h1m1 0h1m2 0h2m2 0h1m18 0h1m-28 1h1m2 0h2m3 0h2m1 0h1m-6 1h1m6 0h1m17 0h1m-4 1h1m2 0h1m-19 1h1m2 0h1m2 0h1m3 0h2m-14 1h1m2 0h1m2 0h2m2 0h2m1 0h1m1 0h1m2 0h1m1 0h1m-22 1h1m1 0h1m2 0h1m2 0h1m7 0h3m-18 1h1m3 0h1m-46 3h1m0 1h3m-1 1h1m3 0h1m37 0h1m0 1h1m-38 1h1m1 1h1m33 0h1m-9 1h1m-26 1h1m-4 1h1m0 1h1m35 0h1m-43 2h1m48 1h1m1 1h2m2 0h1m1 11h1"/><path stroke="#fff4fc" d="M5 0.5h2m2 0h1m10 0h3m6 0h1m3 0h2m1 0h1m2 0h1m1 0h1m4 0h2m1 0h2m3 0h1m2 0h2m3 0h2m-59 1h2m1 0h1m5 0h1m4 0h1m4 0h4m3 0h2m2 0h1m5 0h2m16 0h3m1 0h1m-56 1h2m1 0h3m6 0h3m1 0h2m1 0h1m1 0h2m1 0h1m10 0h1m2 0h1m-44 1h1m14 0h2m8 0h1m1 0h1m1 0h2m8 0h1m21 0h1m-63 1h1m6 0h2m50 0h1m-56 1h1m24 0h1m7 0h1m1 0h1m-3 1h1m-1 1h2m-4 1h1m2 0h2m3 0h1m-11 1h1m4 0h8m-10 1h1m3 0h4m1 0h1m2 0h1m-5 1h1m2 0h1m3 0h1m4 0h1m2 0h1m1 0h1m-20 1h1m2 0h1m1 0h1m3 0h1m-9 1h2m-1 1h1m-47 2h1m4 0h1m2 1h1m38 0h1m-41 1h3m38 1h1m-6 1h1m3 0h2m-11 1h1m-25 1h3m26 0h1m3 0h2m-7 1h1m-29 1h1m35 1h1m-41 1h1m39 0h1m-43 1h1m43 0h1m-48 1h2m44 0h1m1 0h2m-55 1h1m59 0h2m1 0h2"/><path stroke="#fff9fe" d="M13 0.5h1m4 0h2m11 0h1m3 0h1m7 0h2m10 0h1m-35 1h2m5 0h1m1 0h1m2 0h1m6 0h1m12 0h1m-52 1h2m13 0h3m6 0h1m1 0h1m9 0h1m-37 1h1m5 0h2m1 0h1m3 0h1m1 0h1m2 0h2m2 0h2m1 0h1m1 0h1m-22 1h1m2 0h1m19 0h2m-30 1h1m1 0h1m9 1h2m14 0h1m8 0h1m-9 1h1m1 0h1m3 0h1m-6 1h2m1 0h1m1 0h1m-3 1h1m-1 1h1m3 0h2m-4 1h3m2 0h1m16 0h1m-25 1h1m1 0h2m2 0h1m-7 1h3m2 0h3m-7 1h1m1 0h1m1 0h3m-4 1h1m-37 1h1m39 0h3m-40 1h1m35 0h1m1 0h1m-1 1h1m-34 1h1m25 0h1m5 0h1m2 0h1m-34 1h1m21 0h1m-1 1h1m2 0h1m1 0h1m1 0h2m2 0h1m-7 1h1m3 0h1m-8 1h2m6 0h3m-8 1h1m6 0h1m-6 1h1m-33 1h1m25 0h1m1 0h1m7 0h2m-40 1h1m29 0h1m1 0h2m6 0h2m-1 1h1m1 0h1m-50 1h1m49 0h2m2 0h1m1 1h1m2 0h3m-1 1h1m-2 8h1m-3 1h1m1 0h1"/><path stroke="#ffffff" d="M4 0.5h1m5 0h1m1 0h1m1 0h3m-13 1h1m5 0h1m1 0h2m1 0h4m12 1h1m-31 1h1m10 0h3m1 0h1m5 0h2m7 0h1m-32 1h2m10 0h1m2 0h1m2 0h2m1 0h1m-20 1h1m1 0h1m10 0h4m11 0h1m-14 1h1m1 0h1m-5 1h1m2 0h1m12 0h1m0 1h1m1 1h1m3 0h2m-3 1h1m-1 1h1m3 0h1m-5 1h1m2 0h2m-7 2h2m3 0h1m3 0h1m-45 1h5m31 0h2m1 0h1m1 0h5m-40 1h1m29 0h1m1 0h1m1 0h1m-5 1h4m1 0h2m1 0h1m1 0h1m-36 1h2m23 0h9m1 0h2m-35 1h1m22 0h2m1 0h5m1 0h1m-8 1h1m1 0h2m2 0h3m-32 1h3m19 0h1m8 0h1m-8 1h1m2 0h1m1 0h1m1 0h1m-31 1h1m23 0h1m2 0h2m-8 1h1m1 0h2m1 0h1m1 0h4m-10 1h5m1 0h1m1 0h1m1 0h1m-13 1h1m3 0h1m3 0h3m2 0h1m-12 1h1m5 0h1m1 0h1m-40 1h1m32 0h2m7 0h1m-49 1h2m1 0h1m39 0h1m6 0h2m2 0h1m2 1h1m1 0h2m0 1h1m1 8h1m-17 1h2m12 0h1"/><path stroke="#f7ffff" d="M17 0.5h1m-16 1h1m-2 1h1m13 0h2m9 1h1m-14 1h2m1 0h2m4 0h1m4 0h2m1 0h1m-24 1h2m1 0h2m2 0h1m-2 1h1m4 0h1m-3 1h2m1 0h1m1 0h1m-5 1h1m1 0h2m14 0h1m-3 1h1m3 0h1m-4 1h2m3 0h1m-5 1h2m5 0h1m-8 1h1m-1 1h1m3 0h2m-3 1h1m-5 1h2m2 0h1m-5 1h1m4 0h1m1 0h3m-35 1h1m25 0h1m4 0h1m-6 1h1m-22 1h1m20 0h1m10 0h1m-32 1h1m19 0h1m1 0h1m1 0h1m2 0h1m-8 1h1m4 0h1m1 0h1m2 0h1m-29 1h1m20 0h1m-22 1h1m19 0h1m3 0h1m3 0h1m-10 1h1m1 0h1m4 0h1m-9 1h3m7 0h1m1 0h1m-10 1h1m2 0h2m-33 1h1m29 0h1m2 0h1m3 0h2m-7 1h1m2 0h2m-6 1h1m1 0h1m12 0h1m3 2h2m1 0h1m0 6h1m-1 1h1m-20 1h5m1 0h1m10 0h1m-18 1h2m4 0h1"/><path stroke="#f0ffff" d="M11 0.5h1m-9 1h1m-4 1h1m-1 1h1m19 1h1m8 0h1m-30 1h2m7 0h1m2 0h2m5 0h2m-16 1h2m3 0h1m1 0h1m1 0h1m5 0h2m-8 1h1m5 0h1m-3 1h1m12 0h1m-14 1h1m13 0h1m-1 1h1m1 1h1m-1 1h1m-1 1h1m-35 1h1m1 0h3m0 1h2m0 1h3m27 0h1m-28 1h2m22 0h1m-21 1h1m18 0h2m-20 1h1m18 0h1m-1 1h1m-1 2h4m-3 1h2m-22 1h1m18 0h2m-22 1h1m-3 1h1m30 0h1m1 1h1m-38 1h1m27 0h1m2 0h1m3 0h2m3 0h1m-44 1h1m36 0h1m3 0h1m3 0h1m6 1h1m5 2h1m-1 5h1m-14 2h1m10 0h1m-15 1h1m2 0h1m1 0h1m7 0h1"/><path stroke="#e8ffff" d="M2 0.5h1m-2 1h1m12 1h1m8 2h4m-6 1h1m-20 1h1m1 0h1m2 0h2m2 0h1m18 0h1m-19 1h2m8 0h1m7 0h1m-16 1h1m1 1h1m1 0h2m10 0h1m1 1h1m-1 1h1m-33 3h1m5 0h1m25 0h1m-25 1h1m0 1h2m21 0h1m1 0h1m-3 1h1m-21 1h1m2 1h1m-1 1h2m15 0h1m-15 1h1m14 0h1m-17 1h1m14 0h1m-16 1h1m14 0h2m-2 1h1m-1 1h2m0 1h1m-1 1h3m-29 1h1m27 0h2m8 0h1m-42 1h1m30 0h4m4 0h1m3 0h1m5 1h2m2 1h1m-9 7h1m10 0h2m-20 1h1m7 0h2m6 0h1m-17 1h1m13 0h2"/><path stroke="#e0ffff" d="M3 0.5h1m-4 1h1m27 4h2m-29 1h1m1 0h1m5 0h1m19 0h1m-26 1h3m4 0h1m2 1h1m1 0h1m13 0h1m-15 1h1m0 1h1m13 0h1m0 1h1m0 2h1m-29 1h1m1 1h2m1 0h1m22 0h1m-2 1h1m-2 1h1m-17 1h2m16 1h1m-2 1h1m-1 1h2m-15 1h1m12 0h1m-1 1h1m-17 1h1m-4 2h1m21 2h1m-29 1h1m39 0h2m3 1h3m3 1h1m-1 1h1m1 0h1m1 0h1m1 0h1m-1 3h1m-2 1h1m-19 2h1m1 0h4m2 0h1m7 0h1m-19 2h1m9 0h2m2 0h1"/><path stroke="#d5fefe" d="M0 0.5h2m-2 6h1m21 0h1m5 0h1m-28 1h3m4 0h1m1 0h1m18 0h1m-9 1h2m6 0h1m-16 1h2m14 0h1m-15 1h1m1 0h2m1 1h1m11 1h1m-33 1h1m2 0h1m6 0h3m18 0h1m-27 1h1m1 0h1m1 0h3m21 0h1m-19 1h1m15 0h1m-21 1h1m2 0h2m14 0h1m-20 1h1m3 0h1m15 0h1m-1 1h1m-2 1h2m-15 1h1m-1 1h1m12 0h1m-1 1h1m-13 1h1m11 0h1m0 1h1m-1 1h1m-1 1h3m-24 1h1m22 0h1m-1 1h1m-1 1h3m-37 1h2m1 0h1m36 0h2m1 0h1m7 0h1m4 1h2m3 1h1m-3 1h1m4 3h1m-16 1h1m12 0h1m-17 1h1m7 0h1m5 0h1m-18 1h1m10 0h3m1 0h1m-17 1h1m12 0h1"/><path stroke="#cafcfe" d="M22 5.5h6m-5 1h1m-24 1h1m12 1h1m7 1h1m-2 1h1m-5 1h1m1 0h1m1 0h1m10 0h1m-18 1h2m16 0h1m-33 1h1m2 0h1m4 0h1m1 0h1m5 0h1m-8 1h1m3 0h3m1 0h1m13 0h2m-22 1h2m1 0h1m2 0h1m13 0h1m-19 1h1m3 0h1m1 0h1m-7 1h1m3 0h1m1 0h1m-3 1h1m13 0h1m-15 1h1m13 1h1m-12 1h2m8 1h1m0 3h1m0 3h1m-1 1h2m-30 1h1m26 0h1m1 0h4m2 0h1m2 0h1m1 0h3m1 0h3m8 2h1m0 1h1m1 0h3m-2 1h2m-2 1h1m-17 2h2m2 0h2m8 0h1m-18 1h1m7 0h1m6 0h1m-18 1h1m14 0h1m1 0h1m-4 1h1"/><path stroke="#bffbfd" d="M25 6.5h1m1 0h1m-21 1h1m15 0h1m2 0h1m-25 1h1m9 0h1m10 0h1m-2 1h1m-9 1h2m5 0h1m1 0h1m6 0h1m-17 1h2m1 0h1m1 0h1m2 0h2m-24 1h1m2 0h1m8 0h1m6 0h1m1 0h2m8 0h1m-30 1h1m3 0h1m7 0h1m2 0h1m13 0h1m-16 1h1m1 0h1m-6 1h1m1 0h1m3 0h1m-2 1h1m1 0h1m9 0h1m-16 1h1m2 0h1m1 0h3m7 0h1m-13 1h1m11 0h1m-1 1h1m-12 1h1m9 0h2m-9 1h1m-3 1h1m-1 1h1m-4 1h1m12 0h2m-2 1h1m0 1h1m0 1h2m-24 1h1m22 0h1m-3 1h1m-30 1h1m2 0h1m26 0h1m4 0h2m8 0h1m-18 1h1m1 0h2m18 0h1m1 0h1m2 1h1m3 1h1m-6 1h1m5 0h1m-1 1h1m-14 1h1m12 0h1m-18 1h2m3 0h1m3 0h1m5 0h1m-6 1h1"/><path stroke="#b4fafc" d="M24 6.5h1m1 0h1m-18 1h1m14 0h1m2 0h1m-27 1h1m1 0h1m1 0h1m1 0h1m20 0h1m-16 1h1m9 0h1m5 0h1m-8 1h1m1 0h1m-13 1h2m10 0h1m-24 1h2m1 0h2m1 0h3m3 0h1m3 0h2m1 0h1m-16 1h1m1 0h1m1 0h1m5 0h1m4 0h1m-2 1h2m-3 1h1m1 0h1m9 0h1m-17 1h1m6 0h1m-8 1h1m4 1h3m1 0h1m-6 1h1m1 0h1m-1 1h1m9 1h1m-10 1h1m7 1h2m-16 2h1m-4 2h1m-5 2h1m21 0h1m-1 1h1m0 1h1m2 0h1m8 0h2m10 0h1m-1 1h1m1 1h2m-2 1h3m1 0h1m-13 1h1m2 0h1m2 0h2m4 0h1m-15 1h2m1 0h4m2 0h1m4 0h1m-9 1h1m2 0h1m-1 1h3m-18 2h1"/><path stroke="#aaf3fb" d="M25 7.5h1m2 0h1m-29 1h1m10 0h1m12 0h1m-22 1h1m20 0h2m-13 1h1m15 0h1m-23 1h1m3 0h1m18 0h1m-21 1h2m4 0h1m13 0h1m-13 1h2m1 0h1m-1 1h1m7 0h1m-9 1h2m6 0h1m-8 1h1m6 0h1m-1 1h1m-8 1h1m6 0h1m-11 1h1m9 0h1m-9 1h3m4 0h1m0 1h1m-1 1h1m-12 2h2m10 2h1m0 1h1m-2 1h2m-3 2h1m-1 1h1m11 0h2m2 0h1m2 0h1m1 0h2m1 0h1m-1 1h2m1 0h1m-1 1h1m-7 1h1m3 0h2m-6 1h2m5 0h2m-5 1h2m2 0h1m1 0h1m-6 1h1m1 0h1m1 0h1m-17 1h1m-44 2h1m1 0h1m5 0h1"/><path stroke="#a0ecfa" d="M4 8.5h1m1 0h1m1 0h3m14 0h2m-27 1h1m3 0h1m7 0h1m13 0h3m-27 1h1m9 0h1m12 0h3m-25 1h4m1 0h1m1 0h1m18 0h1m-24 1h1m16 0h1m5 0h1m-8 1h2m6 0h1m-9 1h1m7 0h1m-8 1h1m-1 1h1m4 0h1m-6 1h1m-2 2h2m4 2h1m-1 2h1m-15 3h1m-4 2h1m17 0h1m-1 1h1m-24 1h1m28 1h1m1 0h1m1 0h2m5 0h1m2 0h1m1 1h2m-4 1h7m-8 1h1m2 0h1m8 0h1m-14 1h2m4 0h2m4 0h2m-16 1h2m10 0h1m0 1h1m-17 1h1m-33 1h1m-10 1h1m5 0h1m1 0h1m1 0h1m28 0h1"/><path stroke="#96d8fa" d="M27 8.5h1m-27 1h2m2 0h1m-5 1h1m1 0h2m1 0h1m21 0h1m-29 1h1m1 0h1m6 0h1m15 0h2m1 0h1m-6 3h1m4 1h1m-1 2h1m-5 1h1m-4 1h1m6 0h1m-6 2h1m4 1h1m0 2h1m-14 1h1m12 2h2m-3 1h1m-20 1h1m18 0h1m-22 1h1m20 0h1m-28 1h2m25 0h1m7 0h1m1 0h1m8 0h1m-4 1h2m3 2h1m3 0h1m-8 1h1m-3 1h1m14 0h1m-17 1h2m-44 2h2m2 0h2m2 0h1m31 0h1m-39 1h4m3 0h1"/><path stroke="#8cc4fa" d="M6 9.5h2m3 0h1m-12 1h1m4 0h1m1 0h3m1 0h1m15 1h1m-4 1h1m2 0h1m1 1h1m-6 1h1m3 0h1m-5 1h1m3 3h1m-5 1h1m-1 1h1m-1 1h1m2 0h1m0 3h1m-12 1h1m11 0h1m-1 1h1m-17 1h1m-14 4h1m26 0h1m15 1h1m4 0h2m-3 2h1m4 0h1m-53 5h1m2 0h2m3 0h1m2 0h1m0 1h1m26 0h1"/><path stroke="#7db0f9" d="M8 9.5h3m-1 1h1m-10 1h1m23 1h1m1 2h1m-1 1h1m-4 1h2m1 0h1m-1 1h1m-1 1h1m-3 1h3m-3 1h3m-1 2h1m-7 1h1m5 0h1m-8 1h2m-4 1h1m4 0h1m1 0h1m-11 1h1m12 0h1m-1 1h1m-2 2h1m-1 1h1m-24 1h1m22 1h4m1 0h1m9 0h1m3 0h2m0 1h1m-4 2h1m-38 3h1m1 0h1m30 0h1m-35 1h1m32 0h1m-28 1h1m1 0h1"/><path stroke="#6f9cf7" d="M28 12.5h1m-5 1h1m2 0h2m-4 1h1m-1 1h1m-2 2h1m0 1h2m-2 3h2m-5 1h1m4 2h1m-9 1h2m1 0h1m1 0h1m2 0h2m-7 1h1m4 0h1m-18 3h1m-8 2h1m22 0h1m4 1h1m1 0h1m16 0h1m-6 1h1m-4 4h1m-40 1h1m3 0h1m1 0h1m2 1h1m1 0h1m-1 1h1"/><path stroke="#6088f6" d="M26 12.5h1m-2 1h2m-1 2h1m-2 2h1m0 5h1m-1 2h1m-1 1h1m-4 1h4m0 1h1m-16 1h1m14 0h1m-20 2h1m17 2h1m7 0h1m6 0h1m-15 1h2m17 0h2m-3 1h2m-3 1h1m-45 3h3m1 0h1m1 0h1m4 0h1m1 1h1"/><path stroke="#486af1" d="M26 14.5h1m-1 2h1m-1 1h1m-1 6h1m-5 1h1m2 0h1m-5 1h1m2 2h3m-1 2h1m-18 1h1m16 0h1m-22 1h1m19 1h1m12 0h3m-15 1h1m17 0h1m-2 3h1m-37 1h1m-3 1h1m6 0h2"/><path stroke="#314ced" d="M23 22.5h1m1 0h1m-4 1h1m1 1h1m-9 2h1m4 0h1m-8 1h1m8 0h1m2 1h1m-16 1h1m-6 2h1m28 1h3m-13 1h1m17 0h1m-1 1h2m-37 3h1m32 0h1m-2 1h1m-26 1h1m23 0h1m-2 1h1"/><path stroke="#273ad9" d="M24 22.5h1m-8 4h1m2 0h1m0 1h2m-10 1h1m11 0h1m-19 3h1m35 4h1m-2 1h1m-42 1h2m6 0h4m3 3h3"/><path stroke="#202bc2" d="M23 24.5h1m-5 2h1m5 3h1m-1 1h1m-26 2h2m1 0h1m25 1h1m-5 1h2m-24 3h2m9 1h1m1 1h1"/><path stroke="#1a1caa" d="M23 23.5h3m-8 3h1m-4 1h6m-7 1h11m-13 1h13m-15 1h15m-17 1h18m-24 1h1m1 0h21m-25 1h25m5 0h13m-43 1h25m2 0h16m-43 1h43m-43 1h42m-42 1h1m4 0h2m6 0h28m-26 1h25m-23 1h22m-20 1h19"/></g><path class="gc" d="M20.7 0.0h10.3v10.3h-10.3zM31.0 0.0h10.3v10.3h-10.3zM51.7 0.0h10.3v10.3h-10.3zM62.0 0.0h10.3v10.3h-10.3zM72.3 0.0h10.3v10.3h-10.3zM82.6 0.0h10.3v10.3h-10.3zM93.0 0.0h10.3v10.3h-10.3zM103.3 0.0h10.3v10.3h-10.3zM113.6 0.0h10.3v10.3h-10.3zM206.6 0.0h10.3v10.3h-10.3zM216.9 0.0h10.3v10.3h-10.3zM227.3 0.0h10.3v10.3h-10.3zM237.6 0.0h10.3v10.3h-10.3zM247.9 0.0h10.3v10.3h-10.3zM258.3 0.0h10.3v10.3h-10.3zM278.9 0.0h10.3v10.3h-10.3zM289.3 0.0h10.3v10.3h-10.3zM309.9 0.0h10.3v10.3h-10.3zM320.3 0.0h10.3v10.3h-10.3zM330.6 0.0h10.3v10.3h-10.3zM340.9 0.0h10.3v10.3h-10.3zM361.6 0.0h10.3v10.3h-10.3zM371.9 0.0h10.3v10.3h-10.3zM392.6 0.0h10.3v10.3h-10.3zM402.9 0.0h10.3v10.3h-10.3zM413.2 0.0h10.3v10.3h-10.3zM423.6 0.0h10.3v10.3h-10.3zM433.9 0.0h10.3v10.3h-10.3zM454.6 0.0h10.3v10.3h-10.3zM464.9 0.0h10.3v10.3h-10.3zM475.2 0.0h10.3v10.3h-10.3zM485.5 0.0h10.3v10.3h-10.3zM495.9 0.0h10.3v10.3h-10.3zM506.2 0.0h10.3v10.3h-10.3zM516.5 0.0h10.3v10.3h-10.3zM526.9 0.0h10.3v10.3h-10.3zM537.2 0.0h10.3v10.3h-10.3zM547.5 0.0h10.3v10.3h-10.3zM557.9 0.0h10.3v10.3h-10.3zM568.2 0.0h10.3v10.3h-10.3zM578.5 0.0h10.3v10.3h-10.3zM588.9 0.0h10.3v10.3h-10.3zM609.5 0.0h10.3v10.3h-10.3zM619.8 0.0h10.3v10.3h-10.3zM630.2 0.0h10.3v10.3h-10.3zM640.5 0.0h10.3v10.3h-10.3zM650.8 0.0h10.3v10.3h-10.3zM661.2 0.0h10.3v10.3h-10.3zM20.7 10.3h10.3v10.3h-10.3zM31.0 10.3h10.3v10.3h-10.3zM41.3 10.3h10.3v10.3h-10.3zM51.7 10.3h10.3v10.3h-10.3zM62.0 10.3h10.3v10.3h-10.3zM72.3 10.3h10.3v10.3h-10.3zM82.6 10.3h10.3v10.3h-10.3zM93.0 10.3h10.3v10.3h-10.3zM103.3 10.3h10.3v10.3h-10.3zM113.6 10.3h10.3v10.3h-10.3zM206.6 10.3h10.3v10.3h-10.3zM216.9 10.3h10.3v10.3h-10.3zM227.3 10.3h10.3v10.3h-10.3zM237.6 10.3h10.3v10.3h-10.3zM247.9 10.3h10.3v10.3h-10.3zM258.3 10.3h10.3v10.3h-10.3zM268.6 10.3h10.3v10.3h-10.3zM278.9 10.3h10.3v10.3h-10.3zM289.3 10.3h10.3v10.3h-10.3zM299.6 10.3h10.3v10.3h-10.3zM309.9 10.3h10.3v10.3h-10.3zM320.3 10.3h10.3v10.3h-10.3zM330.6 10.3h10.3v10.3h-10.3zM340.9 10.3h10.3v10.3h-10.3zM351.2 10.3h10.3v10.3h-10.3zM361.6 10.3h10.3v10.3h-10.3zM371.9 10.3h10.3v10.3h-10.3zM382.2 10.3h10.3v10.3h-10.3zM392.6 10.3h10.3v10.3h-10.3zM402.9 10.3h10.3v10.3h-10.3zM413.2 10.3h10.3v10.3h-10.3zM423.6 10.3h10.3v10.3h-10.3zM433.9 10.3h10.3v10.3h-10.3zM444.2 10.3h10.3v10.3h-10.3zM454.6 10.3h10.3v10.3h-10.3zM475.2 10.3h10.3v10.3h-10.3zM485.5 10.3h10.3v10.3h-10.3zM495.9 10.3h10.3v10.3h-10.3zM506.2 10.3h10.3v10.3h-10.3zM516.5 10.3h10.3v10.3h-10.3zM526.9 10.3h10.3v10.3h-10.3zM537.2 10.3h10.3v10.3h-10.3zM547.5 10.3h10.3v10.3h-10.3zM557.9 10.3h10.3v10.3h-10.3zM568.2 10.3h10.3v10.3h-10.3zM578.5 10.3h10.3v10.3h-10.3zM588.9 10.3h10.3v10.3h-10.3zM609.5 10.3h10.3v10.3h-10.3zM619.8 10.3h10.3v10.3h-10.3zM630.2 10.3h10.3v10.3h-10.3zM640.5 10.3h10.3v10.3h-10.3zM650.8 10.3h10.3v10.3h-10.3zM661.2 10.3h10.3v10.3h-10.3zM20.7 20.7h10.3v10.3h-10.3zM51.7 20.7h10.3v10.3h-10.3zM62.0 20.7h10.3v10.3h-10.3zM72.3 20.7h10.3v10.3h-10.3zM82.6 20.7h10.3v10.3h-10.3zM93.0 20.7h10.3v10.3h-10.3zM103.3 20.7h10.3v10.3h-10.3zM113.6 20.7h10.3v10.3h-10.3zM175.6 20.7h10.3v10.3h-10.3zM186.0 20.7h10.3v10.3h-10.3zM196.3 20.7h10.3v10.3h-10.3zM206.6 20.7h10.3v10.3h-10.3zM216.9 20.7h10.3v10.3h-10.3zM227.3 20.7h10.3v10.3h-10.3zM237.6 20.7h10.3v10.3h-10.3zM247.9 20.7h10.3v10.3h-10.3zM258.3 20.7h10.3v10.3h-10.3zM268.6 20.7h10.3v10.3h-10.3zM278.9 20.7h10.3v10.3h-10.3zM289.3 20.7h10.3v10.3h-10.3zM299.6 20.7h10.3v10.3h-10.3zM309.9 20.7h10.3v10.3h-10.3zM320.3 20.7h10.3v10.3h-10.3zM330.6 20.7h10.3v10.3h-10.3zM340.9 20.7h10.3v10.3h-10.3zM351.2 20.7h10.3v10.3h-10.3zM433.9 20.7h10.3v10.3h-10.3zM444.2 20.7h10.3v10.3h-10.3zM454.6 20.7h10.3v10.3h-10.3zM464.9 20.7h10.3v10.3h-10.3zM475.2 20.7h10.3v10.3h-10.3zM485.5 20.7h10.3v10.3h-10.3zM495.9 20.7h10.3v10.3h-10.3zM506.2 20.7h10.3v10.3h-10.3zM516.5 20.7h10.3v10.3h-10.3zM526.9 20.7h10.3v10.3h-10.3zM537.2 20.7h10.3v10.3h-10.3zM547.5 20.7h10.3v10.3h-10.3zM557.9 20.7h10.3v10.3h-10.3zM568.2 20.7h10.3v10.3h-10.3zM578.5 20.7h10.3v10.3h-10.3zM588.9 20.7h10.3v10.3h-10.3zM599.2 20.7h10.3v10.3h-10.3zM609.5 20.7h10.3v10.3h-10.3zM619.8 20.7h10.3v10.3h-10.3zM630.2 20.7h10.3v10.3h-10.3zM640.5 20.7h10.3v10.3h-10.3zM650.8 20.7h10.3v10.3h-10.3zM661.2 20.7h10.3v10.3h-10.3zM20.7 31.0h10.3v10.3h-10.3zM31.0 31.0h10.3v10.3h-10.3zM41.3 31.0h10.3v10.3h-10.3zM51.7 31.0h10.3v10.3h-10.3zM62.0 31.0h10.3v10.3h-10.3zM72.3 31.0h10.3v10.3h-10.3zM82.6 31.0h10.3v10.3h-10.3zM93.0 31.0h10.3v10.3h-10.3zM103.3 31.0h10.3v10.3h-10.3zM113.6 31.0h10.3v10.3h-10.3zM175.6 31.0h10.3v10.3h-10.3zM186.0 31.0h10.3v10.3h-10.3zM196.3 31.0h10.3v10.3h-10.3zM206.6 31.0h10.3v10.3h-10.3zM216.9 31.0h10.3v10.3h-10.3zM227.3 31.0h10.3v10.3h-10.3zM237.6 31.0h10.3v10.3h-10.3zM247.9 31.0h10.3v10.3h-10.3zM258.3 31.0h10.3v10.3h-10.3zM268.6 31.0h10.3v10.3h-10.3zM278.9 31.0h10.3v10.3h-10.3zM289.3 31.0h10.3v10.3h-10.3zM299.6 31.0h10.3v10.3h-10.3zM309.9 31.0h10.3v10.3h-10.3zM320.3 31.0h10.3v10.3h-10.3zM330.6 31.0h10.3v10.3h-10.3zM340.9 31.0h10.3v10.3h-10.3zM351.2 31.0h10.3v10.3h-10.3zM433.9 31.0h10.3v10.3h-10.3zM444.2 31.0h10.3v10.3h-10.3zM454.6 31.0h10.3v10.3h-10.3zM464.9 31.0h10.3v10.3h-10.3zM475.2 31.0h10.3v10.3h-10.3zM485.5 31.0h10.3v10.3h-10.3zM495.9 31.0h10.3v10.3h-10.3zM506.2 31.0h10.3v10.3h-10.3zM516.5 31.0h10.3v10.3h-10.3zM526.9 31.0h10.3v10.3h-10.3zM537.2 31.0h10.3v10.3h-10.3zM547.5 31.0h10.3v10.3h-10.3zM557.9 31.0h10.3v10.3h-10.3zM568.2 31.0h10.3v10.3h-10.3zM578.5 31.0h10.3v10.3h-10.3zM588.9 31.0h10.3v10.3h-10.3zM599.2 31.0h10.3v10.3h-10.3zM609.5 31.0h10.3v10.3h-10.3zM619.8 31.0h10.3v10.3h-10.3zM630.2 31.0h10.3v10.3h-10.3zM640.5 31.0h10.3v10.3h-10.3zM650.8 31.0h10.3v10.3h-10.3zM661.2 31.0h10.3v10.3h-10.3zM227.3 41.3h10.3v10.3h-10.3zM247.9 41.3h10.3v10.3h-10.3zM320.3 41.3h10.3v10.3h-10.3zM433.9 41.3h10.3v10.3h-10.3zM444.2 41.3h10.3v10.3h-10.3zM454.6 41.3h10.3v10.3h-10.3zM464.9 41.3h10.3v10.3h-10.3zM475.2 41.3h10.3v10.3h-10.3zM485.5 41.3h10.3v10.3h-10.3zM495.9 41.3h10.3v10.3h-10.3zM526.9 41.3h10.3v10.3h-10.3zM537.2 41.3h10.3v10.3h-10.3zM547.5 41.3h10.3v10.3h-10.3zM557.9 41.3h10.3v10.3h-10.3zM568.2 41.3h10.3v10.3h-10.3zM578.5 41.3h10.3v10.3h-10.3zM588.9 41.3h10.3v10.3h-10.3zM599.2 41.3h10.3v10.3h-10.3zM609.5 41.3h10.3v10.3h-10.3zM619.8 41.3h10.3v10.3h-10.3zM630.2 41.3h10.3v10.3h-10.3zM640.5 41.3h10.3v10.3h-10.3zM650.8 41.3h10.3v10.3h-10.3zM661.2 41.3h10.3v10.3h-10.3zM227.3 51.7h10.3v10.3h-10.3zM237.6 51.7h10.3v10.3h-10.3zM247.9 51.7h10.3v10.3h-10.3zM309.9 51.7h10.3v10.3h-10.3zM320.3 51.7h10.3v10.3h-10.3zM433.9 51.7h10.3v10.3h-10.3zM444.2 51.7h10.3v10.3h-10.3zM454.6 51.7h10.3v10.3h-10.3zM464.9 51.7h10.3v10.3h-10.3zM475.2 51.7h10.3v10.3h-10.3zM485.5 51.7h10.3v10.3h-10.3zM495.9 51.7h10.3v10.3h-10.3zM506.2 51.7h10.3v10.3h-10.3zM516.5 51.7h10.3v10.3h-10.3zM526.9 51.7h10.3v10.3h-10.3zM537.2 51.7h10.3v10.3h-10.3zM547.5 51.7h10.3v10.3h-10.3zM568.2 51.7h10.3v10.3h-10.3zM578.5 51.7h10.3v10.3h-10.3zM588.9 51.7h10.3v10.3h-10.3zM599.2 51.7h10.3v10.3h-10.3zM609.5 51.7h10.3v10.3h-10.3zM619.8 51.7h10.3v10.3h-10.3zM630.2 51.7h10.3v10.3h-10.3zM640.5 51.7h10.3v10.3h-10.3zM650.8 51.7h10.3v10.3h-10.3zM661.2 51.7h10.3v10.3h-10.3zM413.2 62.0h10.3v10.3h-10.3zM423.6 62.0h10.3v10.3h-10.3zM433.9 62.0h10.3v10.3h-10.3zM444.2 62.0h10.3v10.3h-10.3zM464.9 62.0h10.3v10.3h-10.3zM475.2 62.0h10.3v10.3h-10.3zM485.5 62.0h10.3v10.3h-10.3zM495.9 62.0h10.3v10.3h-10.3zM506.2 62.0h10.3v10.3h-10.3zM516.5 62.0h10.3v10.3h-10.3zM526.9 62.0h10.3v10.3h-10.3zM537.2 62.0h10.3v10.3h-10.3zM547.5 62.0h10.3v10.3h-10.3zM557.9 62.0h10.3v10.3h-10.3zM568.2 62.0h10.3v10.3h-10.3zM578.5 62.0h10.3v10.3h-10.3zM588.9 62.0h10.3v10.3h-10.3zM599.2 62.0h10.3v10.3h-10.3zM609.5 62.0h10.3v10.3h-10.3zM619.8 62.0h10.3v10.3h-10.3zM630.2 62.0h10.3v10.3h-10.3zM640.5 62.0h10.3v10.3h-10.3zM650.8 62.0h10.3v10.3h-10.3zM661.2 62.0h10.3v10.3h-10.3zM413.2 72.3h10.3v10.3h-10.3zM423.6 72.3h10.3v10.3h-10.3zM433.9 72.3h10.3v10.3h-10.3zM444.2 72.3h10.3v10.3h-10.3zM454.6 72.3h10.3v10.3h-10.3zM464.9 72.3h10.3v10.3h-10.3zM475.2 72.3h10.3v10.3h-10.3zM485.5 72.3h10.3v10.3h-10.3zM495.9 72.3h10.3v10.3h-10.3zM506.2 72.3h10.3v10.3h-10.3zM516.5 72.3h10.3v10.3h-10.3zM526.9 72.3h10.3v10.3h-10.3zM537.2 72.3h10.3v10.3h-10.3zM547.5 72.3h10.3v10.3h-10.3zM557.9 72.3h10.3v10.3h-10.3zM568.2 72.3h10.3v10.3h-10.3zM578.5 72.3h10.3v10.3h-10.3zM588.9 72.3h10.3v10.3h-10.3zM599.2 72.3h10.3v10.3h-10.3zM609.5 72.3h10.3v10.3h-10.3zM619.8 72.3h10.3v10.3h-10.3zM630.2 72.3h10.3v10.3h-10.3zM640.5 72.3h10.3v10.3h-10.3zM650.8 72.3h10.3v10.3h-10.3zM661.2 72.3h10.3v10.3h-10.3zM495.9 82.6h10.3v10.3h-10.3zM506.2 82.6h10.3v10.3h-10.3zM526.9 82.6h10.3v10.3h-10.3zM537.2 82.6h10.3v10.3h-10.3zM547.5 82.6h10.3v10.3h-10.3zM557.9 82.6h10.3v10.3h-10.3zM568.2 82.6h10.3v10.3h-10.3zM578.5 82.6h10.3v10.3h-10.3zM588.9 82.6h10.3v10.3h-10.3zM599.2 82.6h10.3v10.3h-10.3zM609.5 82.6h10.3v10.3h-10.3zM619.8 82.6h10.3v10.3h-10.3zM630.2 82.6h10.3v10.3h-10.3zM640.5 82.6h10.3v10.3h-10.3zM650.8 82.6h10.3v10.3h-10.3zM661.2 82.6h10.3v10.3h-10.3zM485.5 93.0h10.3v10.3h-10.3zM495.9 93.0h10.3v10.3h-10.3zM506.2 93.0h10.3v10.3h-10.3zM516.5 93.0h10.3v10.3h-10.3zM526.9 93.0h10.3v10.3h-10.3zM537.2 93.0h10.3v10.3h-10.3zM547.5 93.0h10.3v10.3h-10.3zM557.9 93.0h10.3v10.3h-10.3zM568.2 93.0h10.3v10.3h-10.3zM578.5 93.0h10.3v10.3h-10.3zM588.9 93.0h10.3v10.3h-10.3zM599.2 93.0h10.3v10.3h-10.3zM609.5 93.0h10.3v10.3h-10.3zM619.8 93.0h10.3v10.3h-10.3zM630.2 93.0h10.3v10.3h-10.3zM640.5 93.0h10.3v10.3h-10.3zM650.8 93.0h10.3v10.3h-10.3zM661.2 93.0h10.3v10.3h-10.3zM485.5 103.3h10.3v10.3h-10.3zM495.9 103.3h10.3v10.3h-10.3zM506.2 103.3h10.3v10.3h-10.3zM516.5 103.3h10.3v10.3h-10.3zM526.9 103.3h10.3v10.3h-10.3zM537.2 103.3h10.3v10.3h-10.3zM547.5 103.3h10.3v10.3h-10.3zM557.9 103.3h10.3v10.3h-10.3zM568.2 103.3h10.3v10.3h-10.3zM578.5 103.3h10.3v10.3h-10.3zM599.2 103.3h10.3v10.3h-10.3zM609.5 103.3h10.3v10.3h-10.3zM619.8 103.3h10.3v10.3h-10.3zM630.2 103.3h10.3v10.3h-10.3zM640.5 103.3h10.3v10.3h-10.3zM650.8 103.3h10.3v10.3h-10.3zM661.2 103.3h10.3v10.3h-10.3zM485.5 113.6h10.3v10.3h-10.3zM495.9 113.6h10.3v10.3h-10.3zM506.2 113.6h10.3v10.3h-10.3zM516.5 113.6h10.3v10.3h-10.3zM526.9 113.6h10.3v10.3h-10.3zM537.2 113.6h10.3v10.3h-10.3zM547.5 113.6h10.3v10.3h-10.3zM557.9 113.6h10.3v10.3h-10.3zM568.2 113.6h10.3v10.3h-10.3zM578.5 113.6h10.3v10.3h-10.3zM588.9 113.6h10.3v10.3h-10.3zM599.2 113.6h10.3v10.3h-10.3zM609.5 113.6h10.3v10.3h-10.3zM619.8 113.6h10.3v10.3h-10.3zM630.2 113.6h10.3v10.3h-10.3zM640.5 113.6h10.3v10.3h-10.3zM650.8 113.6h10.3v10.3h-10.3zM661.2 113.6h10.3v10.3h-10.3zM485.5 124.0h10.3v10.3h-10.3zM495.9 124.0h10.3v10.3h-10.3zM506.2 124.0h10.3v10.3h-10.3zM516.5 124.0h10.3v10.3h-10.3zM526.9 124.0h10.3v10.3h-10.3zM537.2 124.0h10.3v10.3h-10.3zM547.5 124.0h10.3v10.3h-10.3zM557.9 124.0h10.3v10.3h-10.3zM568.2 124.0h10.3v10.3h-10.3zM588.9 124.0h10.3v10.3h-10.3zM599.2 124.0h10.3v10.3h-10.3zM609.5 124.0h10.3v10.3h-10.3zM619.8 124.0h10.3v10.3h-10.3zM630.2 124.0h10.3v10.3h-10.3zM640.5 124.0h10.3v10.3h-10.3zM650.8 124.0h10.3v10.3h-10.3zM661.2 124.0h10.3v10.3h-10.3zM485.5 134.3h10.3v10.3h-10.3zM495.9 134.3h10.3v10.3h-10.3zM506.2 134.3h10.3v10.3h-10.3zM516.5 134.3h10.3v10.3h-10.3zM526.9 134.3h10.3v10.3h-10.3zM537.2 134.3h10.3v10.3h-10.3zM547.5 134.3h10.3v10.3h-10.3zM557.9 134.3h10.3v10.3h-10.3zM568.2 134.3h10.3v10.3h-10.3zM578.5 134.3h10.3v10.3h-10.3zM588.9 134.3h10.3v10.3h-10.3zM599.2 134.3h10.3v10.3h-10.3zM609.5 134.3h10.3v10.3h-10.3zM619.8 134.3h10.3v10.3h-10.3zM630.2 134.3h10.3v10.3h-10.3zM640.5 134.3h10.3v10.3h-10.3zM650.8 134.3h10.3v10.3h-10.3zM661.2 134.3h10.3v10.3h-10.3zM516.5 144.6h10.3v10.3h-10.3zM526.9 144.6h10.3v10.3h-10.3zM537.2 144.6h10.3v10.3h-10.3zM547.5 144.6h10.3v10.3h-10.3zM568.2 144.6h10.3v10.3h-10.3zM578.5 144.6h10.3v10.3h-10.3zM588.9 144.6h10.3v10.3h-10.3zM599.2 144.6h10.3v10.3h-10.3zM609.5 144.6h10.3v10.3h-10.3zM619.8 144.6h10.3v10.3h-10.3zM630.2 144.6h10.3v10.3h-10.3zM640.5 144.6h10.3v10.3h-10.3zM650.8 144.6h10.3v10.3h-10.3zM661.2 144.6h10.3v10.3h-10.3zM516.5 155.0h10.3v10.3h-10.3zM526.9 155.0h10.3v10.3h-10.3zM537.2 155.0h10.3v10.3h-10.3zM547.5 155.0h10.3v10.3h-10.3zM568.2 155.0h10.3v10.3h-10.3zM588.9 155.0h10.3v10.3h-10.3zM599.2 155.0h10.3v10.3h-10.3zM609.5 155.0h10.3v10.3h-10.3zM619.8 155.0h10.3v10.3h-10.3zM630.2 155.0h10.3v10.3h-10.3zM640.5 155.0h10.3v10.3h-10.3zM650.8 155.0h10.3v10.3h-10.3zM661.2 155.0h10.3v10.3h-10.3zM485.5 165.3h10.3v10.3h-10.3zM495.9 165.3h10.3v10.3h-10.3zM506.2 165.3h10.3v10.3h-10.3zM516.5 165.3h10.3v10.3h-10.3zM526.9 165.3h10.3v10.3h-10.3zM537.2 165.3h10.3v10.3h-10.3zM547.5 165.3h10.3v10.3h-10.3zM557.9 165.3h10.3v10.3h-10.3zM568.2 165.3h10.3v10.3h-10.3zM578.5 165.3h10.3v10.3h-10.3zM588.9 165.3h10.3v10.3h-10.3zM599.2 165.3h10.3v10.3h-10.3zM609.5 165.3h10.3v10.3h-10.3zM619.8 165.3h10.3v10.3h-10.3zM630.2 165.3h10.3v10.3h-10.3zM640.5 165.3h10.3v10.3h-10.3zM650.8 165.3h10.3v10.3h-10.3zM661.2 165.3h10.3v10.3h-10.3zM485.5 175.6h10.3v10.3h-10.3zM495.9 175.6h10.3v10.3h-10.3zM506.2 175.6h10.3v10.3h-10.3zM516.5 175.6h10.3v10.3h-10.3zM526.9 175.6h10.3v10.3h-10.3zM537.2 175.6h10.3v10.3h-10.3zM547.5 175.6h10.3v10.3h-10.3zM557.9 175.6h10.3v10.3h-10.3zM568.2 175.6h10.3v10.3h-10.3zM578.5 175.6h10.3v10.3h-10.3zM588.9 175.6h10.3v10.3h-10.3zM599.2 175.6h10.3v10.3h-10.3zM609.5 175.6h10.3v10.3h-10.3zM619.8 175.6h10.3v10.3h-10.3zM630.2 175.6h10.3v10.3h-10.3zM640.5 175.6h10.3v10.3h-10.3zM650.8 175.6h10.3v10.3h-10.3zM661.2 175.6h10.3v10.3h-10.3zM0.0 186.0h10.3v10.3h-10.3zM20.7 186.0h10.3v10.3h-10.3zM31.0 186.0h10.3v10.3h-10.3zM41.3 186.0h10.3v10.3h-10.3zM51.7 186.0h10.3v10.3h-10.3zM62.0 186.0h10.3v10.3h-10.3zM103.3 186.0h10.3v10.3h-10.3zM113.6 186.0h10.3v10.3h-10.3zM124.0 186.0h10.3v10.3h-10.3zM134.3 186.0h10.3v10.3h-10.3zM144.6 186.0h10.3v10.3h-10.3zM485.5 186.0h10.3v10.3h-10.3zM495.9 186.0h10.3v10.3h-10.3zM506.2 186.0h10.3v10.3h-10.3zM516.5 186.0h10.3v10.3h-10.3zM537.2 186.0h10.3v10.3h-10.3zM547.5 186.0h10.3v10.3h-10.3zM557.9 186.0h10.3v10.3h-10.3zM568.2 186.0h10.3v10.3h-10.3zM578.5 186.0h10.3v10.3h-10.3zM588.9 186.0h10.3v10.3h-10.3zM599.2 186.0h10.3v10.3h-10.3zM609.5 186.0h10.3v10.3h-10.3zM619.8 186.0h10.3v10.3h-10.3zM630.2 186.0h10.3v10.3h-10.3zM640.5 186.0h10.3v10.3h-10.3zM650.8 186.0h10.3v10.3h-10.3zM661.2 186.0h10.3v10.3h-10.3zM0.0 196.3h10.3v10.3h-10.3zM10.3 196.3h10.3v10.3h-10.3zM20.7 196.3h10.3v10.3h-10.3zM31.0 196.3h10.3v10.3h-10.3zM51.7 196.3h10.3v10.3h-10.3zM62.0 196.3h10.3v10.3h-10.3zM103.3 196.3h10.3v10.3h-10.3zM113.6 196.3h10.3v10.3h-10.3zM124.0 196.3h10.3v10.3h-10.3zM134.3 196.3h10.3v10.3h-10.3zM144.6 196.3h10.3v10.3h-10.3zM485.5 196.3h10.3v10.3h-10.3zM495.9 196.3h10.3v10.3h-10.3zM506.2 196.3h10.3v10.3h-10.3zM516.5 196.3h10.3v10.3h-10.3zM537.2 196.3h10.3v10.3h-10.3zM547.5 196.3h10.3v10.3h-10.3zM557.9 196.3h10.3v10.3h-10.3zM568.2 196.3h10.3v10.3h-10.3zM578.5 196.3h10.3v10.3h-10.3zM588.9 196.3h10.3v10.3h-10.3zM599.2 196.3h10.3v10.3h-10.3zM609.5 196.3h10.3v10.3h-10.3zM619.8 196.3h10.3v10.3h-10.3zM630.2 196.3h10.3v10.3h-10.3zM640.5 196.3h10.3v10.3h-10.3zM650.8 196.3h10.3v10.3h-10.3zM661.2 196.3h10.3v10.3h-10.3zM0.0 206.6h10.3v10.3h-10.3zM10.3 206.6h10.3v10.3h-10.3zM20.7 206.6h10.3v10.3h-10.3zM31.0 206.6h10.3v10.3h-10.3zM41.3 206.6h10.3v10.3h-10.3zM51.7 206.6h10.3v10.3h-10.3zM62.0 206.6h10.3v10.3h-10.3zM72.3 206.6h10.3v10.3h-10.3zM82.6 206.6h10.3v10.3h-10.3zM93.0 206.6h10.3v10.3h-10.3zM113.6 206.6h10.3v10.3h-10.3zM124.0 206.6h10.3v10.3h-10.3zM134.3 206.6h10.3v10.3h-10.3zM144.6 206.6h10.3v10.3h-10.3zM516.5 206.6h10.3v10.3h-10.3zM537.2 206.6h10.3v10.3h-10.3zM547.5 206.6h10.3v10.3h-10.3zM557.9 206.6h10.3v10.3h-10.3zM568.2 206.6h10.3v10.3h-10.3zM578.5 206.6h10.3v10.3h-10.3zM588.9 206.6h10.3v10.3h-10.3zM599.2 206.6h10.3v10.3h-10.3zM609.5 206.6h10.3v10.3h-10.3zM619.8 206.6h10.3v10.3h-10.3zM630.2 206.6h10.3v10.3h-10.3zM640.5 206.6h10.3v10.3h-10.3zM650.8 206.6h10.3v10.3h-10.3zM0.0 216.9h10.3v10.3h-10.3zM10.3 216.9h10.3v10.3h-10.3zM31.0 216.9h10.3v10.3h-10.3zM41.3 216.9h10.3v10.3h-10.3zM51.7 216.9h10.3v10.3h-10.3zM62.0 216.9h10.3v10.3h-10.3zM72.3 216.9h10.3v10.3h-10.3zM82.6 216.9h10.3v10.3h-10.3zM103.3 216.9h10.3v10.3h-10.3zM113.6 216.9h10.3v10.3h-10.3zM124.0 216.9h10.3v10.3h-10.3zM134.3 216.9h10.3v10.3h-10.3zM144.6 216.9h10.3v10.3h-10.3zM516.5 216.9h10.3v10.3h-10.3zM526.9 216.9h10.3v10.3h-10.3zM537.2 216.9h10.3v10.3h-10.3zM547.5 216.9h10.3v10.3h-10.3zM557.9 216.9h10.3v10.3h-10.3zM568.2 216.9h10.3v10.3h-10.3zM578.5 216.9h10.3v10.3h-10.3zM588.9 216.9h10.3v10.3h-10.3zM599.2 216.9h10.3v10.3h-10.3zM609.5 216.9h10.3v10.3h-10.3zM619.8 216.9h10.3v10.3h-10.3zM630.2 216.9h10.3v10.3h-10.3zM640.5 216.9h10.3v10.3h-10.3zM650.8 216.9h10.3v10.3h-10.3zM661.2 216.9h10.3v10.3h-10.3zM0.0 227.3h10.3v10.3h-10.3zM10.3 227.3h10.3v10.3h-10.3zM20.7 227.3h10.3v10.3h-10.3zM31.0 227.3h10.3v10.3h-10.3zM41.3 227.3h10.3v10.3h-10.3zM51.7 227.3h10.3v10.3h-10.3zM62.0 227.3h10.3v10.3h-10.3zM72.3 227.3h10.3v10.3h-10.3zM82.6 227.3h10.3v10.3h-10.3zM93.0 227.3h10.3v10.3h-10.3zM103.3 227.3h10.3v10.3h-10.3zM113.6 227.3h10.3v10.3h-10.3zM124.0 227.3h10.3v10.3h-10.3zM134.3 227.3h10.3v10.3h-10.3zM144.6 227.3h10.3v10.3h-10.3zM516.5 227.3h10.3v10.3h-10.3zM526.9 227.3h10.3v10.3h-10.3zM537.2 227.3h10.3v10.3h-10.3zM547.5 227.3h10.3v10.3h-10.3zM557.9 227.3h10.3v10.3h-10.3zM568.2 227.3h10.3v10.3h-10.3zM578.5 227.3h10.3v10.3h-10.3zM588.9 227.3h10.3v10.3h-10.3zM599.2 227.3h10.3v10.3h-10.3zM609.5 227.3h10.3v10.3h-10.3zM619.8 227.3h10.3v10.3h-10.3zM630.2 227.3h10.3v10.3h-10.3zM640.5 227.3h10.3v10.3h-10.3zM650.8 227.3h10.3v10.3h-10.3zM661.2 227.3h10.3v10.3h-10.3zM0.0 237.6h10.3v10.3h-10.3zM20.7 237.6h10.3v10.3h-10.3zM31.0 237.6h10.3v10.3h-10.3zM41.3 237.6h10.3v10.3h-10.3zM51.7 237.6h10.3v10.3h-10.3zM62.0 237.6h10.3v10.3h-10.3zM72.3 237.6h10.3v10.3h-10.3zM82.6 237.6h10.3v10.3h-10.3zM93.0 237.6h10.3v10.3h-10.3zM103.3 237.6h10.3v10.3h-10.3zM113.6 237.6h10.3v10.3h-10.3zM124.0 237.6h10.3v10.3h-10.3zM134.3 237.6h10.3v10.3h-10.3zM144.6 237.6h10.3v10.3h-10.3zM485.5 237.6h10.3v10.3h-10.3zM495.9 237.6h10.3v10.3h-10.3zM506.2 237.6h10.3v10.3h-10.3zM516.5 237.6h10.3v10.3h-10.3zM526.9 237.6h10.3v10.3h-10.3zM537.2 237.6h10.3v10.3h-10.3zM547.5 237.6h10.3v10.3h-10.3zM557.9 237.6h10.3v10.3h-10.3zM568.2 237.6h10.3v10.3h-10.3zM588.9 237.6h10.3v10.3h-10.3zM599.2 237.6h10.3v10.3h-10.3zM609.5 237.6h10.3v10.3h-10.3zM619.8 237.6h10.3v10.3h-10.3zM630.2 237.6h10.3v10.3h-10.3zM640.5 237.6h10.3v10.3h-10.3zM650.8 237.6h10.3v10.3h-10.3zM661.2 237.6h10.3v10.3h-10.3zM0.0 247.9h10.3v10.3h-10.3zM10.3 247.9h10.3v10.3h-10.3zM20.7 247.9h10.3v10.3h-10.3zM31.0 247.9h10.3v10.3h-10.3zM41.3 247.9h10.3v10.3h-10.3zM51.7 247.9h10.3v10.3h-10.3zM62.0 247.9h10.3v10.3h-10.3zM72.3 247.9h10.3v10.3h-10.3zM82.6 247.9h10.3v10.3h-10.3zM93.0 247.9h10.3v10.3h-10.3zM103.3 247.9h10.3v10.3h-10.3zM134.3 247.9h10.3v10.3h-10.3zM144.6 247.9h10.3v10.3h-10.3zM485.5 247.9h10.3v10.3h-10.3zM495.9 247.9h10.3v10.3h-10.3zM506.2 247.9h10.3v10.3h-10.3zM516.5 247.9h10.3v10.3h-10.3zM526.9 247.9h10.3v10.3h-10.3zM537.2 247.9h10.3v10.3h-10.3zM547.5 247.9h10.3v10.3h-10.3zM557.9 247.9h10.3v10.3h-10.3zM568.2 247.9h10.3v10.3h-10.3zM578.5 247.9h10.3v10.3h-10.3zM588.9 247.9h10.3v10.3h-10.3zM599.2 247.9h10.3v10.3h-10.3zM609.5 247.9h10.3v10.3h-10.3zM619.8 247.9h10.3v10.3h-10.3zM630.2 247.9h10.3v10.3h-10.3zM650.8 247.9h10.3v10.3h-10.3zM661.2 247.9h10.3v10.3h-10.3zM0.0 258.3h10.3v10.3h-10.3zM10.3 258.3h10.3v10.3h-10.3zM20.7 258.3h10.3v10.3h-10.3zM31.0 258.3h10.3v10.3h-10.3zM41.3 258.3h10.3v10.3h-10.3zM51.7 258.3h10.3v10.3h-10.3zM62.0 258.3h10.3v10.3h-10.3zM72.3 258.3h10.3v10.3h-10.3zM82.6 258.3h10.3v10.3h-10.3zM485.5 258.3h10.3v10.3h-10.3zM495.9 258.3h10.3v10.3h-10.3zM506.2 258.3h10.3v10.3h-10.3zM516.5 258.3h10.3v10.3h-10.3zM526.9 258.3h10.3v10.3h-10.3zM537.2 258.3h10.3v10.3h-10.3zM547.5 258.3h10.3v10.3h-10.3zM557.9 258.3h10.3v10.3h-10.3zM568.2 258.3h10.3v10.3h-10.3zM578.5 258.3h10.3v10.3h-10.3zM588.9 258.3h10.3v10.3h-10.3zM599.2 258.3h10.3v10.3h-10.3zM609.5 258.3h10.3v10.3h-10.3zM619.8 258.3h10.3v10.3h-10.3zM630.2 258.3h10.3v10.3h-10.3zM640.5 258.3h10.3v10.3h-10.3zM650.8 258.3h10.3v10.3h-10.3zM661.2 258.3h10.3v10.3h-10.3zM0.0 268.6h10.3v10.3h-10.3zM10.3 268.6h10.3v10.3h-10.3zM20.7 268.6h10.3v10.3h-10.3zM31.0 268.6h10.3v10.3h-10.3zM41.3 268.6h10.3v10.3h-10.3zM51.7 268.6h10.3v10.3h-10.3zM62.0 268.6h10.3v10.3h-10.3zM72.3 268.6h10.3v10.3h-10.3zM82.6 268.6h10.3v10.3h-10.3zM485.5 268.6h10.3v10.3h-10.3zM495.9 268.6h10.3v10.3h-10.3zM506.2 268.6h10.3v10.3h-10.3zM526.9 268.6h10.3v10.3h-10.3zM537.2 268.6h10.3v10.3h-10.3zM547.5 268.6h10.3v10.3h-10.3zM557.9 268.6h10.3v10.3h-10.3zM578.5 268.6h10.3v10.3h-10.3zM588.9 268.6h10.3v10.3h-10.3zM599.2 268.6h10.3v10.3h-10.3zM609.5 268.6h10.3v10.3h-10.3zM619.8 268.6h10.3v10.3h-10.3zM630.2 268.6h10.3v10.3h-10.3zM640.5 268.6h10.3v10.3h-10.3zM650.8 268.6h10.3v10.3h-10.3zM661.2 268.6h10.3v10.3h-10.3zM175.6 278.9h10.3v10.3h-10.3zM186.0 278.9h10.3v10.3h-10.3zM196.3 278.9h10.3v10.3h-10.3zM413.2 278.9h10.3v10.3h-10.3zM423.6 278.9h10.3v10.3h-10.3zM485.5 278.9h10.3v10.3h-10.3zM495.9 278.9h10.3v10.3h-10.3zM506.2 278.9h10.3v10.3h-10.3zM516.5 278.9h10.3v10.3h-10.3zM526.9 278.9h10.3v10.3h-10.3zM547.5 278.9h10.3v10.3h-10.3zM557.9 278.9h10.3v10.3h-10.3zM568.2 278.9h10.3v10.3h-10.3zM578.5 278.9h10.3v10.3h-10.3zM588.9 278.9h10.3v10.3h-10.3zM599.2 278.9h10.3v10.3h-10.3zM609.5 278.9h10.3v10.3h-10.3zM619.8 278.9h10.3v10.3h-10.3zM630.2 278.9h10.3v10.3h-10.3zM640.5 278.9h10.3v10.3h-10.3zM661.2 278.9h10.3v10.3h-10.3zM175.6 289.3h10.3v10.3h-10.3zM186.0 289.3h10.3v10.3h-10.3zM196.3 289.3h10.3v10.3h-10.3zM413.2 289.3h10.3v10.3h-10.3zM423.6 289.3h10.3v10.3h-10.3zM485.5 289.3h10.3v10.3h-10.3zM495.9 289.3h10.3v10.3h-10.3zM506.2 289.3h10.3v10.3h-10.3zM516.5 289.3h10.3v10.3h-10.3zM526.9 289.3h10.3v10.3h-10.3zM547.5 289.3h10.3v10.3h-10.3zM557.9 289.3h10.3v10.3h-10.3zM568.2 289.3h10.3v10.3h-10.3zM578.5 289.3h10.3v10.3h-10.3zM588.9 289.3h10.3v10.3h-10.3zM599.2 289.3h10.3v10.3h-10.3zM609.5 289.3h10.3v10.3h-10.3zM619.8 289.3h10.3v10.3h-10.3zM630.2 289.3h10.3v10.3h-10.3zM640.5 289.3h10.3v10.3h-10.3zM650.8 289.3h10.3v10.3h-10.3zM661.2 289.3h10.3v10.3h-10.3zM103.3 299.6h10.3v10.3h-10.3zM113.6 299.6h10.3v10.3h-10.3zM124.0 299.6h10.3v10.3h-10.3zM134.3 299.6h10.3v10.3h-10.3zM144.6 299.6h10.3v10.3h-10.3zM155.0 299.6h10.3v10.3h-10.3zM165.3 299.6h10.3v10.3h-10.3zM175.6 299.6h10.3v10.3h-10.3zM186.0 299.6h10.3v10.3h-10.3zM196.3 299.6h10.3v10.3h-10.3zM237.6 299.6h10.3v10.3h-10.3zM247.9 299.6h10.3v10.3h-10.3zM103.3 309.9h10.3v10.3h-10.3zM113.6 309.9h10.3v10.3h-10.3zM124.0 309.9h10.3v10.3h-10.3zM134.3 309.9h10.3v10.3h-10.3zM144.6 309.9h10.3v10.3h-10.3zM155.0 309.9h10.3v10.3h-10.3zM165.3 309.9h10.3v10.3h-10.3zM175.6 309.9h10.3v10.3h-10.3zM186.0 309.9h10.3v10.3h-10.3zM196.3 309.9h10.3v10.3h-10.3zM20.7 320.3h10.3v10.3h-10.3zM31.0 320.3h10.3v10.3h-10.3zM41.3 320.3h10.3v10.3h-10.3zM72.3 320.3h10.3v10.3h-10.3zM93.0 320.3h10.3v10.3h-10.3zM103.3 320.3h10.3v10.3h-10.3zM113.6 320.3h10.3v10.3h-10.3zM124.0 320.3h10.3v10.3h-10.3zM134.3 320.3h10.3v10.3h-10.3zM144.6 320.3h10.3v10.3h-10.3zM155.0 320.3h10.3v10.3h-10.3zM165.3 320.3h10.3v10.3h-10.3zM175.6 320.3h10.3v10.3h-10.3zM186.0 320.3h10.3v10.3h-10.3zM196.3 320.3h10.3v10.3h-10.3zM227.3 320.3h10.3v10.3h-10.3zM20.7 330.6h10.3v10.3h-10.3zM31.0 330.6h10.3v10.3h-10.3zM41.3 330.6h10.3v10.3h-10.3zM72.3 330.6h10.3v10.3h-10.3zM82.6 330.6h10.3v10.3h-10.3zM93.0 330.6h10.3v10.3h-10.3zM103.3 330.6h10.3v10.3h-10.3zM113.6 330.6h10.3v10.3h-10.3zM124.0 330.6h10.3v10.3h-10.3zM134.3 330.6h10.3v10.3h-10.3zM144.6 330.6h10.3v10.3h-10.3zM155.0 330.6h10.3v10.3h-10.3zM165.3 330.6h10.3v10.3h-10.3zM175.6 330.6h10.3v10.3h-10.3zM186.0 330.6h10.3v10.3h-10.3zM196.3 330.6h10.3v10.3h-10.3zM237.6 330.6h10.3v10.3h-10.3zM0.0 340.9h10.3v10.3h-10.3zM10.3 340.9h10.3v10.3h-10.3zM51.7 340.9h10.3v10.3h-10.3zM62.0 340.9h10.3v10.3h-10.3zM72.3 340.9h10.3v10.3h-10.3zM82.6 340.9h10.3v10.3h-10.3zM93.0 340.9h10.3v10.3h-10.3zM103.3 340.9h10.3v10.3h-10.3zM113.6 340.9h10.3v10.3h-10.3zM134.3 340.9h10.3v10.3h-10.3zM144.6 340.9h10.3v10.3h-10.3zM155.0 340.9h10.3v10.3h-10.3zM165.3 340.9h10.3v10.3h-10.3zM0.0 351.2h10.3v10.3h-10.3zM10.3 351.2h10.3v10.3h-10.3zM51.7 351.2h10.3v10.3h-10.3zM62.0 351.2h10.3v10.3h-10.3zM72.3 351.2h10.3v10.3h-10.3zM82.6 351.2h10.3v10.3h-10.3zM93.0 351.2h10.3v10.3h-10.3zM103.3 351.2h10.3v10.3h-10.3zM113.6 351.2h10.3v10.3h-10.3zM124.0 351.2h10.3v10.3h-10.3zM134.3 351.2h10.3v10.3h-10.3zM144.6 351.2h10.3v10.3h-10.3zM155.0 351.2h10.3v10.3h-10.3zM165.3 351.2h10.3v10.3h-10.3zM227.3 351.2h10.3v10.3h-10.3zM0.0 361.6h10.3v10.3h-10.3zM10.3 361.6h10.3v10.3h-10.3zM41.3 361.6h10.3v10.3h-10.3zM51.7 361.6h10.3v10.3h-10.3zM62.0 361.6h10.3v10.3h-10.3zM72.3 361.6h10.3v10.3h-10.3zM82.6 361.6h10.3v10.3h-10.3zM93.0 361.6h10.3v10.3h-10.3zM103.3 361.6h10.3v10.3h-10.3zM113.6 361.6h10.3v10.3h-10.3zM124.0 361.6h10.3v10.3h-10.3zM134.3 361.6h10.3v10.3h-10.3zM227.3 361.6h10.3v10.3h-10.3zM237.6 361.6h10.3v10.3h-10.3zM247.9 361.6h10.3v10.3h-10.3zM0.0 371.9h10.3v10.3h-10.3zM10.3 371.9h10.3v10.3h-10.3zM20.7 371.9h10.3v10.3h-10.3zM31.0 371.9h10.3v10.3h-10.3zM41.3 371.9h10.3v10.3h-10.3zM51.7 371.9h10.3v10.3h-10.3zM62.0 371.9h10.3v10.3h-10.3zM72.3 371.9h10.3v10.3h-10.3zM82.6 371.9h10.3v10.3h-10.3zM93.0 371.9h10.3v10.3h-10.3zM103.3 371.9h10.3v10.3h-10.3zM113.6 371.9h10.3v10.3h-10.3zM124.0 371.9h10.3v10.3h-10.3zM144.6 371.9h10.3v10.3h-10.3zM237.6 371.9h10.3v10.3h-10.3zM258.3 371.9h10.3v10.3h-10.3zM258.3 382.2h10.3v10.3h-10.3zM268.6 382.2h10.3v10.3h-10.3zM278.9 382.2h10.3v10.3h-10.3zM289.3 382.2h10.3v10.3h-10.3zM299.6 382.2h10.3v10.3h-10.3zM309.9 382.2h10.3v10.3h-10.3zM320.3 382.2h10.3v10.3h-10.3zM227.3 392.6h10.3v10.3h-10.3zM237.6 392.6h10.3v10.3h-10.3zM247.9 392.6h10.3v10.3h-10.3zM258.3 392.6h10.3v10.3h-10.3zM268.6 392.6h10.3v10.3h-10.3zM278.9 392.6h10.3v10.3h-10.3zM289.3 392.6h10.3v10.3h-10.3zM299.6 392.6h10.3v10.3h-10.3zM309.9 392.6h10.3v10.3h-10.3zM320.3 392.6h10.3v10.3h-10.3zM227.3 402.9h10.3v10.3h-10.3zM237.6 402.9h10.3v10.3h-10.3zM247.9 402.9h10.3v10.3h-10.3zM258.3 402.9h10.3v10.3h-10.3zM268.6 402.9h10.3v10.3h-10.3zM278.9 402.9h10.3v10.3h-10.3zM289.3 402.9h10.3v10.3h-10.3zM299.6 402.9h10.3v10.3h-10.3zM309.9 402.9h10.3v10.3h-10.3zM320.3 402.9h10.3v10.3h-10.3zM330.6 402.9h10.3v10.3h-10.3zM340.9 402.9h10.3v10.3h-10.3zM351.2 402.9h10.3v10.3h-10.3zM175.6 413.2h10.3v10.3h-10.3zM227.3 413.2h10.3v10.3h-10.3zM237.6 413.2h10.3v10.3h-10.3zM247.9 413.2h10.3v10.3h-10.3zM258.3 413.2h10.3v10.3h-10.3zM268.6 413.2h10.3v10.3h-10.3zM278.9 413.2h10.3v10.3h-10.3zM289.3 413.2h10.3v10.3h-10.3zM299.6 413.2h10.3v10.3h-10.3zM309.9 413.2h10.3v10.3h-10.3zM320.3 413.2h10.3v10.3h-10.3zM330.6 413.2h10.3v10.3h-10.3zM340.9 413.2h10.3v10.3h-10.3zM351.2 413.2h10.3v10.3h-10.3z"/><path class="co" d="M667.4 420.2L667.9 413.5L666.9 406.8L658.6 393.4L642.1 380.8L629.1 371.6L628.1 364.9L627.6 365.8L614.7 356.6L599.2 344.0L590.9 332.3L588.9 325.6L570.3 319.7L571.3 326.4L585.8 344.0L597.1 358.2L607.4 375.8L613.6 382.5L625.0 388.4L621.9 394.6L616.7 389.2L603.3 381.7L598.2 379.2L599.2 376.7L596.1 374.1L597.1 368.3L585.8 361.6L575.4 357.4L568.2 353.2L576.5 352.4L577.0 346.5L566.1 339.0L557.9 329.8L550.6 320.6L546.5 313.5L544.4 308.9L536.2 303.4L532.0 301.3L523.8 299.6L511.4 297.1L509.3 291.3L496.9 280.4L495.9 276.6L490.7 272.0L494.8 272.0L493.8 267.8L490.7 268.7L485.5 265.3L477.3 257.0L471.6 248.2L474.2 242.7L473.1 234.4L470.0 227.2L474.2 217.6L475.7 199.2L474.2 194.2L468.0 181.2L483.5 182.9L488.6 184.1L491.7 190.0L486.6 191.7L490.7 185.8L492.8 181.6L487.6 175.8L483.5 173.3L470.0 167.4L459.7 163.2L442.2 159.0L434.9 152.3L441.1 150.7L433.9 146.5L423.6 139.8L415.3 142.3L405.0 129.7L415.3 123.9L413.2 118.0L397.7 111.3L377.1 99.6L354.3 85.4L341.9 87.9L327.5 91.2L315.1 85.4L317.2 82.9L297.5 84.5L268.6 83.7L259.3 80.4L245.9 78.7L242.8 74.5L229.3 73.7L223.1 77.0L223.1 82.9L207.6 84.5L189.1 90.4L189.1 84.5L196.3 79.5L210.7 75.3L209.7 71.1L191.1 77.0L176.7 81.2L177.7 86.2L164.3 91.2L165.3 95.4L139.5 106.3L113.6 117.2L82.6 124.7L53.7 130.6L70.2 126.0L86.8 118.9L103.3 117.6L113.6 116.8L114.7 112.2L129.1 103.8L130.2 99.6L135.3 92.9L122.9 94.6L118.8 91.2L115.7 94.6L103.3 92.9L81.6 94.6L85.7 92.9L80.6 80.4L65.1 85.4L51.7 78.7L69.2 77.0L50.6 76.2L41.3 68.6L53.7 62.8L58.9 56.9L80.6 55.2L94.0 52.7L90.9 47.7L95.0 43.5L70.2 46.0L39.3 44.4L35.1 40.2L20.7 36.8L42.4 32.6L59.9 28.5L85.7 28.5L102.3 30.1L83.7 27.2L80.6 25.9L56.8 20.9L35.1 14.2L39.3 10.0L58.9 7.5L75.4 -0.8"/><path class="co" d="M481.4 181.2L468.0 179.5L454.6 173.3L436.0 166.6L429.8 161.1L444.2 162.4L461.8 167.4L475.2 174.1L481.4 181.2"/><path class="co" d="M401.9 150.7L389.5 142.3L381.2 133.1L395.7 133.9L386.4 138.1L394.6 140.6L401.9 150.7"/><path class="co" d="M342.9 95.2L349.8 103.5L347.0 106.3L359.4 115.9L362.2 114.6L356.6 106.3L362.2 103.5"/><path class="co" d="M348.4 92.4L359.4 97.9L366.3 109.1L363.5 111.8L375.9 117.3L378.7 122.9L384.2 124.2"/><path class="co" d="M356.6 91.1L367.7 96.6L378.7 107.6L384.2 111.8L389.8 113.2L400.8 117.3L398.0 124.2L389.8 121.4"/><path class="co" d="M364.9 102.1L373.3 103.5L370.5 109.1L381.5 115.9L378.7 111.8L387.0 117.3"/><path class="co" d="M373.3 117.3L381.5 128.4L384.2 122.9L389.8 125.6L387.0 120.1"/><path class="co" d="M353.9 97.9L362.2 96.6"/><path class="co" d="M360.8 107.6L370.5 105.5"/><path class="co" d="M367.7 113.2L375.9 110.4"/><path class="co" d="M374.6 120.1L384.2 117.3"/><path class="co" d="M384.2 115.9L395.3 115.9"/><path class="co" d="M389.8 118.7L398.0 120.1"/><path class="co" d="M344.2 96.6L353.9 102.1L351.1 96.6"/><path class="co" d="M378.7 117.3L373.3 113.2"/><path class="co" d="M409.1 133.9L417.4 135.6L414.3 138.9L423.6 139.8L421.5 143.1L429.8 144.0L427.7 147.3L436.0 148.1L432.9 151.5L439.1 153.2"/><path class="co" d="M383.3 137.3L396.7 138.1L389.5 142.3L393.6 145.6"/><path class="fi" d="M489.7 182.5L493.8 184.1L493.8 190.0L489.7 192.5L486.6 190.0L489.7 187.5"/><path class="co" d="M158.1 107.1L169.4 101.3L182.9 97.1L184.9 103.8L169.4 108.8L158.1 107.1"/><path class="co" d="M173.6 97.9L181.8 95.0L187.0 97.9L177.7 99.6"/><path class="co" d="M26.9 82.0L39.3 79.9L45.5 83.7L37.2 85.4L26.9 82.0"/><path class="fi" d="M-2.1 54.0L13.4 55.7L-2.1 57.8"/><path class="fi" d="M-2.1 145.2L3.1 143.5L-2.1 143.1"/><path class="fi" d="M12.4 141.9L22.7 138.9L21.7 137.7L11.9 140.6"/><path class="fi" d="M25.8 138.1L38.2 134.8L37.2 133.5L25.3 136.8"/><path class="fi" d="M40.3 133.9L45.5 132.7L44.9 131.4L39.8 132.7"/><path class="fi" d="M48.6 133.1L52.7 132.2L52.2 131.4L48.0 132.2"/><path class="fi" d="M72.3 131.0L77.5 131.4L77.5 129.7L72.3 129.7"/><path class="fi" d="M95.0 123.0L101.2 124.3L109.5 126.4L109.5 125.5L101.2 123.0L95.0 122.2"/><path class="fi" d="M145.7 119.3L149.8 119.3L149.8 117.6L145.7 117.6"/><path class="fi" d="M157.0 113.4L164.3 112.6L164.3 111.3L157.0 112.2"/><path class="fi" d="M105.4 401.8L108.5 399.7L111.1 401.3L108.5 403.0"/><path class="fi" d="M100.2 403.0L102.8 401.8L102.8 403.4"/><path class="fi" d="M120.9 405.9L124.5 404.1L127.6 407.6L122.9 408.0"/><path class="fi" d="M131.2 409.3L136.9 408.9L136.9 408.0L131.2 408.3"/><path class="fi" d="M137.4 410.5L142.6 410.5L144.6 412.6L140.0 413.5"/><path class="fi" d="M145.7 416.4L152.9 418.9L155.0 421.8L143.6 421.8"/><path class="fi" d="M511.9 300.9L521.2 301.3L521.2 302.0L511.9 302.0"/><path class="fi" d="M520.7 307.2L522.7 308.0L522.2 307.2"/><path class="fi" d="M531.0 305.5L534.1 307.2L534.1 306.3"/><path class="fi" d="M531.0 309.3L533.6 311.4L532.6 309.3"/><path class="fi" d="M533.1 341.5L535.1 344.4L535.1 341.5"/><path class="fi" d="M564.6 348.6L566.6 351.1L566.6 348.6"/><path class="fi" d="M582.7 338.6L587.3 343.2L585.8 339.4"/><path class="fi" d="M593.5 341.5L597.1 344.8L596.6 341.9"/><path class="fi" d="M653.9 403.9L658.1 406.8L657.6 404.7"/><path class="fi" d="M615.7 376.2L617.3 377.9L616.7 375.8"/><path class="fi" d="M608.0 367.4L609.5 369.5L609.0 367.0"/><path class="co" d="M299.6 2.9L327.5 5.9L352.3 8.4L366.7 5.0L382.2 4.6L396.7 0.8L423.6 -1.7"/><path class="co" d="M377.1 10.0L402.9 5.4L426.7 0.8L444.2 -2.5"/><path class="co" d="M444.2 -0.8L459.7 5.9L470.0 0.4L472.1 5.0L486.6 0.4L506.2 2.5L542.4 8.4L575.4 13.4L566.1 17.6L588.9 18.8L625.0 18.4L641.5 26.8L646.7 25.1L641.5 20.1L634.3 15.9L658.1 10.0L676.7 8.8"/><path class="co" d="M542.4 -0.8L568.2 5.9L592.0 11.7L625.0 10.9L658.1 6.7L676.7 5.0"/><path class="bo" d="M299.6 -1.7L299.6 81.2L319.2 82.9L335.8 92.9L356.4 85.4L371.9 93.7L392.6 108.8L413.2 117.2"/><path class="bo" d="M487.6 175.8L681.8 175.8"/><path class="bo" d="M475.7 199.2L492.8 204.2L523.8 201.7L547.0 200.9"/><path class="bo" d="M547.0 175.8L547.0 200.9L552.7 205.5L547.5 216.8L547.2 234.4"/><path class="bo" d="M557.3 175.8L558.9 186.7L574.4 198.4L575.4 205.1L588.9 213.4L609.0 212.6"/><path class="bo" d="M681.8 209.2L609.0 209.2L609.0 242.7L681.8 242.7"/><path class="bo" d="M473.1 234.4L609.0 234.4"/><path class="bo" d="M516.5 234.4L516.5 259.5L572.3 292.1L570.3 298.8L574.4 302.2L571.3 312.2"/><path class="bo" d="M578.0 234.4L578.0 282.9L571.3 284.6L572.3 292.1"/><path class="bo" d="M578.0 276.2L681.8 276.2"/><path class="bo" d="M629.7 242.7L629.7 323.5"/><path class="bo" d="M546.5 313.5L571.3 312.2L609.0 323.5L638.4 323.5L638.4 319.7L656.0 319.7L681.8 318.1"/><path class="bo" d="M656.0 319.7L671.5 328.9L676.7 338.1"/></g><path class="tk" d="M0.0 418.5v-8M51.7 418.5v-8M103.3 418.5v-8M155.0 418.5v-8M206.6 418.5v-8M258.3 418.5v-8M309.9 418.5v-8M361.6 418.5v-8M413.2 418.5v-8M464.9 418.5v-8M516.5 418.5v-8M568.2 418.5v-8M619.8 418.5v-8M671.5 418.5v-8M0 418.5h8M0 376.7h8M0 334.8h8M0 292.9h8M0 251.1h8M0 209.2h8M0 167.4h8M0 125.5h8M0 83.7h8M0 41.9h8M0 0.0h8"/><rect class="fr" width="671.5" height="418.5"/><text class="tt" x="335.8" y="-30.8">Number of AR Days Forecast Anomaly</text><text class="sl" x="2" y="-7.2">Dec 16 to Dec 22, Forecast</text><text class="sr" x="670.5" y="-7.2">15−day to 21−day lead</text><text class="yl" x="-4.5" y="426.9">20°N</text><text class="yl" x="-4.5" y="343.2">30°N</text><text class="yl" x="-4.5" y="259.5">40°N</text><text class="yl" x="-4.5" y="175.8">50°N</text><text class="yl" x="-4.5" y="92.1">60°N</text><text class="yl" x="-4.5" y="8.4">70°N</text><text class="xl" x="0.0" y="450.5">170°W</text><text class="xl" x="103.3" y="450.5">160°W</text><text class="xl" x="206.6" y="450.5">150°W</text><text class="xl" x="309.9" y="450.5">140°W</text><text class="xl" x="413.2" y="450.5">130°W</text><text class="xl" x="516.5" y="450.5">120°W</text><text class="xl" x="619.8" y="450.5">110°W</text><rect x="692.1" y="0" width="20.2" height="418.5" fill="url(#gan)" stroke="#000" stroke-width="3"/><path class="tk" d="M692.1 0.0h7M712.3 0.0h-7"/><text class="cl" x="713.3" y="8.5">1</text><path class="tk" d="M692.1 104.6h7M712.3 104.6h-7"/><text class="cl" x="713.3" y="113.1">0.5</text><path class="tk" d="M692.1 209.2h7M712.3 209.2h-7"/><text class="cl" x="713.3" y="217.8">0</text><path class="tk" d="M692.1 313.9h7M712.3 313.9h-7"/><text class="cl" x="713.3" y="322.4">−0.5</text><path class="tk" d="M692.1 418.5h7M712.3 418.5h-7"/><text class="cl" x="713.3" y="427.0">−1</text></g><g transform="translate(938.5 451.4)"><clipPath id="cp938_451"><rect width="671.5" height="418.5"/></clipPath><g clip-path="url(#cp938_451)"><rect width="671.5" height="418.5" fill="#fff"/><g transform="scale(10.3308 10.3308)" fill="none" stroke-width="1.06" shape-rendering="crispEdges"><path stroke="#fff2de" d="M35 0.5h1m9 2h1m8 0h1m6 0h1"/><path stroke="#ffeed2" d="M23 1.5h1m22 1h1m8 0h2m-26 1h1m24 0h1m6 4h1m-5 14h1"/><path stroke="#ffebc4" d="M24 0.5h1m3 0h1m3 0h1m1 0h1m1 0h2m1 0h1m-13 1h1m4 0h1m3 0h1m-7 1h1m5 0h1m1 0h1m2 0h4m2 0h1m4 0h2m5 0h2m1 0h1m-4 1h1m1 0h2m-8 1h1m1 0h1m1 0h1m4 0h1m-5 11h1m1 2h1m-1 2h2m-1 2h1"/><path stroke="#ffe9b7" d="M17 0.5h1m2 0h1m4 0h1m1 0h1m1 0h1m3 0h1m-10 1h3m2 0h2m2 0h1m3 0h1m-12 1h1m1 0h1m4 0h1m15 0h1m1 0h1m5 0h2m4 0h2m-21 1h1m12 0h1m2 0h1m-30 1h1m-1 1h1m25 0h1m1 0h3m1 0h2m-1 1h1m-3 1h1m1 0h1m-2 1h1m-3 1h1m2 0h1m-7 3h1m-6 1h1m-3 1h1m5 0h2m4 1h2m-1 4h1m-7 2h1m-1 1h3m1 0h1m1 0h1m-5 1h1m-2 2h2m3 0h1m-4 1h1m1 0h1"/><path stroke="#ffeaa7" d="M15 0.5h2m2 0h1m1 0h1m1 0h1m2 0h1m3 0h1m-18 1h1m1 0h1m2 0h1m3 0h1m5 0h1m2 0h1m3 0h1m2 0h2m-13 1h1m3 0h2m2 0h1m3 0h2m7 0h1m1 0h1m-24 1h1m1 0h1m7 0h1m4 0h2m1 0h1m8 0h1m3 0h1m5 0h1m-30 1h1m9 0h1m6 0h1m1 0h1m3 0h1m2 0h3m-42 1h1m30 0h3m6 0h1m-31 1h1m28 0h1m1 0h1m-1 4h1m-1 1h1m-22 1h1m21 0h1m-13 1h1m8 0h2m-7 1h1m4 0h3m-7 2h1m4 0h2m0 1h1m-3 1h1m1 0h1m-5 1h1m0 1h1m1 0h2m-8 1h1m2 0h1m3 0h1m-4 1h1m-5 1h2m4 0h2m-8 1h1m1 0h1m3 0h1m-9 1h1m6 0h1m-3 1h1m-3 1h1m2 0h1m1 0h1m-2 1h1"/><path stroke="#ffec96" d="M3 0.5h1m10 0h1m23 0h1m-18 1h1m0 1h1m2 0h1m3 0h1m7 0h1m-13 1h2m5 0h1m1 0h1m1 0h1m1 0h1m1 0h2m5 0h2m2 0h1m1 0h1m-22 1h3m2 0h1m2 0h3m1 0h1m3 0h1m4 0h1m2 0h1m-25 1h1m25 0h1m-28 1h1m22 0h1m3 0h1m1 0h1m1 0h1m-33 1h1m26 0h1m1 0h1m1 0h1m-22 1h1m18 0h3m2 0h1m-8 1h1m2 0h1m1 0h1m-3 1h1m1 0h1m1 0h1m-14 1h1m2 0h1m5 0h3m1 0h1m-22 1h1m4 0h1m6 0h1m6 0h2m-9 1h1m1 0h1m5 0h2m-12 1h2m4 0h2m-12 1h1m2 0h2m5 0h1m-9 1h1m2 0h1m4 0h3m2 0h1m-2 1h1m-5 1h1m1 0h1m-6 1h1m5 1h1m-2 1h1m1 1h1m-5 1h1m1 0h1m-6 1h1m5 0h1m-5 1h1m4 0h1m-8 1h3m5 0h1m-10 1h2m2 0h2m1 0h1m-2 1h1m2 1h1"/><path stroke="#fff48a" d="M10 0.5h1m7 0h1m3 0h1m8 0h1m-16 1h2m1 0h1m14 0h1m-21 1h1m5 0h1m2 0h2m5 1h1m2 0h1m1 0h1m13 0h1m5 0h1m-30 1h1m19 0h1m13 0h1m-36 1h1m4 0h1m17 0h1m7 0h1m-1 1h1m2 0h1m-21 1h1m16 0h1m3 0h1m-5 1h1m5 0h1m-10 1h1m4 0h2m3 0h1m-25 1h1m12 0h1m5 0h2m1 0h1m-17 1h1m1 0h1m7 0h1m2 0h2m-8 1h1m1 0h1m2 0h1m2 0h1m-14 1h1m1 0h2m5 0h1m1 0h2m-12 1h1m3 0h1m2 0h1m8 0h1m-18 1h2m2 0h1m2 0h3m4 0h2m-13 1h1m1 0h1m2 0h1m0 1h1m4 0h1m-2 1h1m-2 1h1m-1 1h2m1 1h1m-7 2h1m3 1h1m3 0h1m-11 1h1m1 0h1m4 0h1m-3 1h1m2 0h1m-10 1h1m10 0h1m-8 1h1m1 0h2m2 0h2m-40 1h1m32 0h1m2 0h1m-38 1h1"/><path stroke="#fffc7d" d="M7 0.5h1m1 0h1m2 1h1m7 0h1m-4 1h1m6 1h1m3 0h1m21 0h1m1 0h1m10 0h1m-41 1h1m3 0h3m6 0h1m10 0h1m2 0h2m-32 1h1m8 0h1m3 0h1m3 0h2m1 0h1m1 0h1m7 0h1m-25 1h1m1 0h2m5 0h1m3 0h1m2 0h1m3 0h1m4 0h1m5 0h1m-35 1h1m1 0h1m3 0h1m14 0h1m6 0h1m1 0h3m2 0h1m-30 1h1m7 0h2m10 0h2m4 0h1m2 0h1m-10 1h1m4 0h1m-12 1h2m2 0h2m1 0h2m5 0h1m-18 1h1m2 0h1m2 0h1m10 0h1m-12 1h1m3 0h2m1 0h1m2 0h1m2 0h1m1 0h1m-18 1h2m5 0h1m2 0h1m5 0h1m-16 1h1m3 0h1m-5 1h1m4 0h1m6 0h2m-11 1h2m8 0h1m-7 1h1m4 0h1m-2 1h1m1 0h1m4 0h1m-14 1h1m10 0h1m-7 1h2m-6 1h1m4 1h1m5 1h1m-5 1h1m-7 1h1m4 0h1m-5 1h1m-2 1h1m4 0h1m-33 1h1m28 0h2m2 0h1m-35 1h1m32 0h1m4 0h2m-4 1h1m-36 1h1m28 0h1m-30 1h1m22 0h1m-22 2h1"/><path stroke="#fefe7a" d="M2 0.5h1m1 0h3m1 0h1m3 0h2m-12 1h1m2 0h1m8 0h1m-6 1h1m2 0h1m2 0h2m1 0h2m1 0h1m12 0h1m-18 1h1m1 0h2m1 0h2m15 0h1m6 0h1m-30 1h1m1 0h1m1 0h1m8 0h1m7 0h2m3 0h1m-21 1h2m1 0h2m7 0h1m3 0h1m1 0h1m2 0h1m1 0h1m4 0h2m-32 1h1m5 0h1m2 0h1m2 0h2m1 0h1m16 0h1m1 0h1m-23 1h1m2 0h1m1 0h1m3 0h1m-15 1h1m3 0h1m3 0h1m9 0h1m4 0h1m5 0h1m-11 1h2m2 0h2m-7 1h1m6 0h1m1 0h1m-14 1h1m9 0h2m2 0h1m-13 1h2m2 1h1m1 1h1m-5 2h1m9 0h1m-8 1h2m8 0h1m-3 1h1m-6 1h1m1 0h1m2 0h1m-7 1h1m5 0h1m-3 1h2m0 1h1m-6 1h1m0 1h1m1 0h1m5 0h1m-9 1h1m-29 2h1m1 0h1m-4 1h1m3 0h1m27 0h1m-30 1h2m23 0h1m2 0h1m4 0h1m-35 1h1m2 0h1m28 0h1m3 0h1m-40 1h2m25 0h1m11 0h1m-14 1h1m-43 1h1m21 0h1m-1 1h2m6 3h1m-6 1h1m3 1h1m-2 1h1"/><path stroke="#fcfc87" d="M1 0.5h1m9 0h1m-12 1h2m5 0h1m3 0h1m-2 1h2m1 0h1m0 1h2m5 0h1m-2 1h1m1 0h1m26 0h1m-29 1h1m6 0h1m5 0h1m14 0h1m-26 1h1m15 0h1m2 0h3m1 0h1m-24 1h1m2 0h2m2 0h1m9 0h1m4 0h1m1 0h1m3 0h1m-26 1h1m2 0h2m20 0h1m1 0h1m-18 1h3m1 0h1m13 0h1m-14 1h1m6 0h1m4 0h1m1 0h1m-18 1h1m1 0h1m2 0h1m3 0h3m-4 1h1m1 0h1m-7 1h1m3 1h1m-1 3h1m3 0h1m2 0h2m2 0h1m-7 1h1m1 0h1m-6 1h1m1 0h1m1 0h1m4 1h1m-10 2h1m1 0h2m2 0h1m-1 1h1m-6 1h1m0 2h1m-24 1h1m22 0h1m-30 1h1m3 0h1m26 0h1m-24 1h1m22 0h1m2 0h1m-50 1h1m4 0h1m14 0h1m23 0h1m4 0h1m6 0h1m-62 1h1m6 0h1m19 0h1m21 0h1m1 0h1m5 0h1m3 0h1m-61 1h1m4 0h1m22 0h1m20 0h2m-4 1h1m-7 1h1m-13 1h1m-1 1h2m2 1h1m-4 1h1m-2 1h1m2 0h1m9 0h1m18 0h1m-28 1h1m3 0h1m2 0h2"/><path stroke="#fafa96" d="M3 1.5h1m5 0h2m1 2h2m4 1h1m5 0h1m11 1h1m6 0h1m1 0h1m1 0h1m-26 1h2m1 0h1m11 0h1m3 0h1m10 0h1m-31 1h1m3 0h1m5 0h1m1 0h1m5 0h1m6 0h1m1 0h2m-16 1h1m5 0h1m2 0h1m2 0h1m5 0h1m-26 1h1m7 0h1m3 0h1m2 0h1m1 0h2m3 0h1m5 0h1m-29 1h1m9 0h1m1 0h2m-1 2h1m-2 1h1m5 0h1m-5 1h3m-2 1h2m1 0h1m0 1h1m5 0h1m6 1h1m-12 1h1m3 0h1m1 0h1m2 1h1m-7 1h3m-3 1h3m-2 1h2m-5 1h2m2 0h1m-1 1h1m-6 1h1m1 0h1m-26 1h1m1 0h2m22 0h1m2 0h1m-33 1h1m6 0h1m23 0h1m-5 1h1m1 0h1m-31 1h1m3 0h1m27 0h1m-47 1h1m14 0h1m6 0h1m17 0h1m3 0h1m2 0h1m3 0h1m-52 1h1m12 0h2m3 0h3m1 0h1m15 0h1m5 0h1m5 0h1m1 0h2m2 0h1m-63 1h1m2 0h1m1 0h1m18 0h1m1 0h2m17 0h1m3 0h1m2 0h2m8 0h1m-60 1h2m2 0h1m13 0h1m1 0h1m21 0h3m-47 1h1m1 0h1m37 0h1m2 0h1m-19 1h1m6 0h1m1 0h1m-9 1h1m6 0h1m1 0h1m6 0h1m-17 1h3m11 0h1m-10 1h1m-5 1h2m10 0h1m1 0h1m1 0h1m-18 1h1m4 0h1m1 0h1m1 0h2m2 0h1m19 0h3"/><path stroke="#f7f7a5" d="M0 0.5h1m5 1h1m-7 1h1m7 0h1m9 1h1m6 1h1m-6 2h1m17 0h1m9 0h3m-14 1h1m5 0h1m-19 1h2m7 0h1m4 0h1m2 0h2m1 0h1m2 0h1m-23 1h2m14 0h1m-12 1h1m5 0h1m7 0h1m-7 2h1m1 1h2m3 1h1m-1 3h1m6 0h1m-7 1h1m2 0h2m-4 2h1m1 1h1m2 2h1m-4 2h1m-1 1h1m3 0h1m-35 1h1m5 0h1m2 0h1m19 0h2m-28 1h1m3 0h1m4 0h1m-24 1h1m13 0h1m23 0h1m1 0h2m8 0h1m-49 1h1m9 0h2m2 0h1m5 0h1m15 0h1m1 0h2m2 0h2m9 0h1m-64 1h1m1 0h1m1 0h1m4 0h1m34 0h1m2 0h2m6 0h2m-52 1h1m14 0h1m2 0h1m5 0h1m25 0h1m-54 1h2m19 0h1m2 0h1m2 0h1m14 0h1m6 0h2m-48 1h2m15 0h2m1 0h1m5 0h2m1 0h1m11 0h1m-46 1h1m2 0h1m1 0h1m21 0h3m1 0h1m2 0h1m-3 1h2m-10 1h2m4 0h4m5 0h1m-7 1h1m1 0h2m1 0h1m2 0h1m1 0h1m-12 1h1m2 0h1m1 0h3m1 0h1m19 0h1m-64 1h1m31 0h1m7 0h1m2 0h1m5 0h1"/><path stroke="#f3f3bb" d="M8 1.5h1m-6 1h1m1 0h2m-7 1h1m15 0h1m-1 2h1m4 2h1m13 0h1m-12 1h1m8 0h1m-10 1h1m10 0h1m-8 2h1m8 0h1m-9 1h1m8 0h1m1 0h1m1 4h3m3 2h1m6 1h1m-7 1h1m-1 1h1m0 1h1m-27 1h1m26 1h2m-26 1h2m-5 1h2m5 0h1m15 0h3m-28 1h1m1 0h1m6 0h1m1 0h1m-24 1h1m18 0h1m18 0h1m2 0h1m-32 1h1m8 0h1m2 0h1m13 0h1m1 0h1m-43 1h1m6 0h1m14 0h1m16 0h1m11 0h1m3 0h1m-62 1h1m6 0h1m4 0h1m7 0h1m10 0h1m15 0h1m-47 1h1m21 0h1m21 0h2m3 0h1m8 0h4m-55 1h1m22 0h3m12 0h1m4 0h1m3 0h1m-54 1h1m5 0h1m1 0h1m14 0h1m2 0h1m2 0h1m4 0h2m7 0h1m2 0h2m2 0h1m11 0h1m-59 1h1m2 0h1m32 0h2m1 0h1m1 0h1m-20 1h1m2 0h1m7 0h1m1 0h1m1 0h2m19 0h1m-37 1h1m9 0h1m-11 1h1m1 0h2m4 0h1m2 0h1m1 0h2m3 0h1m-14 1h1m4 0h1m-12 1h1m18 0h3m10 0h1m1 0h1"/><path stroke="#eeeed1" d="M4 1.5h1m-3 1h1m1 0h1m2 0h1m3 1h1m1 1h4m2 1h1m-1 1h1m25 1h1m-24 1h2m1 1h1m3 0h1m14 0h1m-19 1h1m3 0h1m1 0h5m-8 1h1m1 0h1m2 0h1m3 0h1m-16 1h1m4 0h1m0 1h1m8 0h2m-12 1h1m10 0h1m2 1h1m2 1h1m-1 1h1m2 0h1m-4 1h1m2 1h1m-2 1h1m2 0h1m-4 1h2m-18 2h1m16 0h2m-18 1h1m7 0h1m8 0h1m-27 1h1m1 0h1m5 0h1m8 0h1m6 0h2m-26 1h1m3 0h1m2 0h1m1 0h1m13 0h1m-33 1h1m6 0h1m10 0h1m8 0h1m3 0h2m-33 1h2m2 0h1m1 0h2m9 0h1m17 0h1m-44 1h2m2 0h4m7 0h1m13 0h1m15 0h1m-47 1h1m3 0h1m4 0h1m1 0h1m1 0h3m11 0h1m10 0h1m2 0h1m-41 1h1m4 0h1m1 0h1m1 0h2m2 0h1m12 0h1m10 0h2m10 0h1m-56 1h1m3 0h1m5 0h1m1 0h1m14 0h1m4 0h1m10 0h2m12 0h1m5 0h1m-63 1h2m19 0h1m3 0h1m1 0h1m5 0h3m6 0h2m9 0h1m1 0h1m5 0h2m-64 1h1m3 0h1m29 0h1m3 0h1m11 0h1m12 0h1m-64 1h1m3 0h1m19 0h3m7 0h1m3 0h2m1 0h1m2 0h1m-38 1h1m19 0h1m2 0h1m6 0h1m2 0h1m1 0h1m3 0h1m-46 1h1m37 0h2m23 0h1m-21 1h1m18 0h1m-64 1h1m46 0h1m1 0h1m11 0h2m-61 1h1m2 0h1m20 0h1m3 0h1m2 0h1m16 0h1"/><path stroke="#e9ebe5" d="M1 2.5h1m2 1h7m-5 1h1m4 0h1m-12 1h1m13 0h1m2 0h2m-1 1h1m1 1h1m0 1h1m1 1h1m6 0h5m-11 1h2m1 0h1m-5 1h3m1 0h1m4 0h1m-2 1h2m4 0h1m-14 1h1m2 0h2m8 0h1m-14 1h1m15 0h2m-15 1h1m1 0h2m10 0h1m-15 1h1m0 1h1m14 0h1m-1 1h2m1 0h1m-5 1h6m-17 3h2m-11 1h1m9 0h1m1 0h1m8 0h1m3 0h1m-24 1h1m1 0h5m12 0h1m1 0h1m1 0h2m-27 1h1m1 0h1m1 0h1m2 0h2m1 0h1m1 0h2m3 0h1m6 0h1m-27 1h3m10 0h1m5 0h1m5 0h1m-36 1h1m1 0h1m2 0h1m2 0h2m14 0h2m2 0h3m6 0h2m-38 1h2m3 0h2m1 0h1m10 0h1m2 0h1m1 0h1m1 0h2m1 0h1m5 0h2m-44 1h1m3 0h1m5 0h2m3 0h1m11 0h1m1 0h2m1 0h3m2 0h2m-41 1h2m6 0h1m4 0h1m19 0h1m1 0h1m1 0h1m1 0h1m2 0h1m-41 1h1m9 0h1m2 0h1m15 0h2m1 0h1m5 0h1m-34 1h1m1 0h1m1 0h1m3 0h2m1 0h1m1 0h1m10 0h2m2 0h4m17 0h1m-59 1h1m9 0h1m26 0h1m26 0h1m-64 1h1m7 0h1m1 0h1m10 0h1m16 0h1m1 0h2m8 0h1m-51 1h1m1 0h1m4 0h1m1 0h1m1 0h1m14 0h1m12 0h1m5 0h1m1 0h2m13 0h1m-64 1h2m2 0h3m1 0h3m13 0h3m20 0h1m-46 1h1m1 0h1m1 0h1m35 0h1m1 0h2m17 0h1m-64 1h1m1 0h1m3 0h1m18 0h1m1 0h1m1 0h1m18 0h1m11 0h2m2 0h1m-64 1h1m2 0h1m1 0h1m1 0h1m18 0h3m20 0h1m9 0h1m-60 1h1m1 0h1m3 0h1m17 0h1m2 0h1m2 0h1m26 0h1"/><path stroke="#d5e7eb" d="M1 3.5h3m-4 1h1m8 0h1m2 0h1m2 1h1m1 1h1m1 1h1m0 1h1m1 1h1m6 1h1m0 1h1m2 0h1m1 0h2m-16 1h1m2 0h2m1 0h1m2 0h1m3 0h3m-17 1h1m2 0h1m6 0h2m-9 1h1m2 0h1m2 0h1m3 0h2m2 0h2m-2 1h3m-18 1h1m1 0h1m3 0h1m3 0h1m8 0h1m-17 1h1m1 0h1m1 0h2m10 0h2m1 0h1m-14 2h1m11 1h1m1 0h2m-5 1h5m-22 1h1m14 0h1m1 0h1m3 0h3m-26 1h1m1 0h2m6 0h1m1 0h1m2 0h1m1 0h1m-20 1h3m1 0h1m5 0h1m1 0h2m6 0h1m0 1h1m1 0h1m-34 1h1m5 0h2m15 0h2m1 0h1m2 0h1m1 0h1m1 0h1m-34 1h1m1 0h1m2 0h2m18 0h1m-32 1h1m1 0h3m3 0h1m20 0h1m4 0h1m1 0h2m2 0h1m-41 1h1m10 0h1m22 0h1m4 0h2m-45 1h1m2 0h1m12 0h1m15 0h2m1 0h1m5 0h1m-25 1h1m16 0h1m2 0h4m-27 1h2m19 0h1m4 0h2m-32 1h3m7 0h1m16 0h2m2 0h1m14 0h1m1 0h1m1 0h1m-50 1h1m8 0h1m18 0h1m12 0h1m8 0h1m-52 1h1m1 0h1m9 0h1m-21 1h1m7 0h1m11 0h1m24 0h1m13 0h1m-63 1h1m4 0h1m1 0h1m15 0h3m20 0h1m15 0h1m-62 1h1m2 0h1m21 0h1m20 0h1m14 0h1m-61 1h1m2 0h1m1 0h1m16 0h2m22 0h1m9 0h2m-56 1h1m1 0h1m1 0h1m43 0h1m1 0h1m2 0h1m2 0h1"/><path stroke="#bce3f0" d="M1 4.5h2m5 0h1m1 0h1m-10 1h1m4 0h1m3 0h1m1 0h2m-12 1h1m13 1h3m0 1h1m2 2h1m-1 1h1m3 0h1m-5 1h1m3 0h1m-6 1h2m2 0h1m6 0h1m2 0h1m-6 1h3m3 0h1m-13 1h2m2 0h1m3 0h1m1 0h1m1 0h1m3 0h1m-15 1h1m3 0h1m2 0h1m6 0h1m-10 1h1m-3 1h1m11 0h2m-4 1h1m1 0h1m-3 1h2m-8 1h1m4 0h2m1 0h1m-19 1h1m3 0h1m2 0h1m2 0h2m8 0h1m1 0h1m-25 1h1m5 0h4m8 0h1m1 0h2m1 0h1m-25 1h1m14 0h2m1 0h2m2 0h1m3 0h1m-28 1h1m1 0h1m11 0h1m7 0h1m1 0h1m1 0h1m-33 1h3m3 0h1m16 0h1m1 0h1m2 0h1m1 0h1m-36 1h1m28 0h1m4 0h3m-43 1h1m1 0h1m1 0h1m36 0h2m-43 1h1m14 0h2m21 0h1m2 0h1m-44 1h1m37 0h1m1 0h1m-4 1h1m-24 1h1m4 0h1m15 0h1m-22 1h2m4 0h1m19 0h2m12 1h1m1 0h1m4 0h1m-12 1h1m10 0h2m1 0h1m-63 1h1m9 0h1m8 0h2m40 0h1m-61 1h1m4 0h1m1 0h1m36 0h2m12 0h1m-57 1h1m1 0h3m39 0h1m-47 1h1m6 0h1m15 0h1m24 0h1m-43 1h1m14 0h1m26 0h1m1 0h1m1 0h2"/><path stroke="#a0def4" d="M3 4.5h3m1 0h1m1 1h1m1 0h1m-12 1h2m13 0h2m-2 1h1m3 2h1m1 0h1m-1 1h1m-4 2h1m1 0h1m12 0h1m-15 1h1m6 0h1m6 0h2m1 0h1m-19 1h1m3 0h1m4 0h1m7 0h1m-10 1h1m8 0h1m-13 1h1m1 0h1m3 0h1m1 0h1m6 0h1m-15 1h1m1 0h1m5 0h2m6 0h1m-20 1h1m3 0h4m1 0h1m9 0h1m-4 1h1m-7 1h1m2 0h3m1 0h1m2 0h1m2 0h1m-15 1h3m1 0h1m5 0h1m-20 1h2m1 0h1m12 0h3m4 0h1m-8 1h1m7 0h2m-28 1h1m17 0h1m6 0h1m-29 1h1m19 0h1m1 0h1m-27 1h1m3 0h1m-17 1h2m2 0h4m1 0h1m-9 1h1m1 0h1m32 0h1m-21 5h1m41 0h1m1 0h1m-48 1h3m4 0h1m34 0h1m1 0h1m-44 1h1m7 0h1m-3 1h1m28 0h1m11 0h1m-53 1h1m2 0h1m9 0h1m26 0h1m10 0h1m-58 1h1m7 0h1m11 0h2m25 0h1m8 0h1m-51 1h1m1 0h1m11 0h1m28 0h4m-46 1h1m12 0h1"/><path stroke="#82daf7" d="M2 5.5h2m1 0h1m1 0h1m5 1h2m-14 1h1m14 1h1m3 1h1m-3 1h1m4 0h1m-3 1h1m3 3h1m-6 1h4m7 0h1m1 0h1m0 1h1m1 0h1m-2 1h1m-14 1h1m8 0h1m3 0h1m-10 1h1m5 0h2m1 0h1m4 0h1m-21 1h1m9 0h1m2 0h1m3 0h1m4 0h1m-23 1h1m3 0h3m2 0h1m5 0h1m1 0h1m-18 1h1m7 0h1m6 0h2m-17 1h1m15 0h1m-19 1h1m-11 1h1m4 0h1m1 0h1m1 0h1m2 0h1m16 0h1m-38 1h1m3 0h1m1 0h1m-7 3h2m1 0h1m13 4h3m-4 1h1m1 0h2m38 0h1m1 0h1m-46 1h3m2 0h2m-4 1h1m-8 1h1m38 0h1m8 0h1m-50 1h1m2 0h1m37 0h1m5 0h1m-2 1h1"/><path stroke="#64d6fa" d="M4 5.5h1m-2 1h2m4 0h1m-8 1h1m1 0h1m-3 1h1m11 0h2m0 1h2m2 1h1m-3 1h3m-4 2h1m1 1h3m-2 2h1m16 0h1m1 0h1m-17 1h1m10 0h1m-12 1h2m7 0h3m1 0h1m-18 1h1m1 0h1m1 0h1m10 0h1m1 0h1m1 0h1m-18 1h4m2 0h1m1 0h1m2 0h1m-15 1h1m2 0h2m4 0h1m8 0h1m-18 1h1m6 0h1m2 0h1m11 0h1m-23 1h1m-15 2h1m8 0h1m-13 1h2m3 0h4m-9 1h1m-3 1h1m58 6h1m-9 1h2m1 0h1m3 0h3m-48 1h3m34 0h1m9 0h1m-47 1h1m4 0h1m38 0h1m-47 1h1m9 0h1m-11 2h1"/><path stroke="#45d2fd" d="M5 6.5h1m1 0h2m1 0h1m-11 1h1m2 0h1m1 0h1m8 0h1m-15 1h2m2 0h1m12 0h1m-18 1h1m13 0h1m3 0h1m-3 1h1m2 0h1m-4 1h2m-1 1h1m1 0h1m-4 2h1m1 1h1m17 2h2m1 0h1m-3 1h3m-20 1h1m1 0h1m1 0h1m4 0h2m-6 1h2m1 0h1m-6 1h1m-6 1h1m-1 1h1m-3 1h2m-15 1h1m2 0h1m2 0h1m2 0h1m-8 1h1m-3 1h1m14 8h1m34 0h1m3 0h1m-39 1h1m31 0h1m7 0h1m-45 1h1m5 0h1m-8 1h1m39 0h2m2 0h1m-44 1h1m6 0h1m34 0h1m-45 1h1"/><path stroke="#2ecdf6" d="M8 5.5h1m2 1h2m-6 1h1m1 0h1m3 0h1m-1 1h1m4 0h1m-18 1h2m13 3h1m0 2h1m-1 1h1m1 0h1m-2 1h1m2 0h1m13 0h1m-15 1h2m15 0h1m-12 2h2m-11 1h2m-3 1h1m1 0h1m8 0h1m-12 2h1m-13 1h1m-6 1h2m2 0h1m2 0h1m3 0h1m6 0h1m-2 9h1m1 1h1m-4 1h2m34 0h1m-40 1h1m4 0h1m1 0h1m30 0h1m3 0h1m-37 1h1m32 0h2m2 0h1m-45 1h3m2 0h1m-7 1h1"/><path stroke="#24c7de" d="M6 6.5h1m1 1h1m1 0h1m-8 1h1m1 0h1m9 1h1m-1 1h1m1 0h1m0 3h1m-17 1h1m11 1h1m-15 1h1m18 0h1m-2 1h1m1 0h1m-3 1h3m4 1h1m-9 1h1m-3 1h2m-1 1h2m-15 1h3m-3 1h2m4 0h1m5 0h1m-6 1h1m5 12h2m34 0h1m1 0h1m2 0h1m-42 1h1m1 0h1m2 0h1m-1 1h1m-7 1h2m4 0h2"/><path stroke="#1fc0be" d="M12 7.5h1m-4 1h1m3 1h1m-14 1h1m2 0h1m0 1h1m9 0h2m-1 1h1m-11 1h1m7 0h1m2 0h1m-2 1h1m0 2h2m-2 1h2m1 0h1m-3 1h1m-2 1h3m-5 1h1m1 0h1m-2 3h1m-10 1h2m4 0h3m-14 2h1m54 10h1m1 0h1m-6 1h1m2 0h1m-42 1h1m1 0h1m2 0h1m-5 1h1m-3 1h1m4 0h1"/><path stroke="#1ab99d" d="M6 7.5h1m4 0h1m-6 1h1m4 0h2m-10 1h1m6 0h1m-10 1h2m9 0h1m1 0h1m-8 1h1m3 0h1m1 0h1m-14 1h1m12 0h2m-15 1h1m2 0h1m2 0h1m8 0h1m-15 1h1m12 0h1m-14 1h1m13 0h2m-1 3h1m-3 1h2m-3 1h1m1 0h1m-6 1h1m2 0h2m0 1h1m-5 1h1m4 0h1m-15 1h1m52 11h2m-4 1h3m1 0h1m-40 3h1m1 0h1m-4 1h1m2 0h1"/><path stroke="#16b27b" d="M8 8.5h1m1 0h1m-6 1h1m2 0h1m3 0h1m-7 1h1m1 0h1m1 0h1m2 0h1m-14 1h4m1 0h1m-4 1h5m-6 1h2m4 0h1m4 0h1m1 0h1m-15 1h1m2 0h1m-4 1h1m1 0h1m1 0h1m-3 1h1m11 0h2m-15 1h1m13 1h1m-9 3h1m4 0h1m-9 1h1m6 0h1m-6 1h1m1 0h1m5 0h1m-7 1h1m1 0h2m-10 1h1m16 14h1m-2 1h1"/><path stroke="#11ab5a" d="M5 10.5h1m4 1h1m-4 1h1m2 0h1m0 1h1m-8 1h2m7 0h1m-9 1h1m7 0h1m-13 1h1m2 0h1m8 0h1m-14 1h1m13 0h1m-1 1h1m-7 3h2m1 0h1m-10 1h1m2 0h1m4 0h1m2 0h2m-13 1h1m4 0h1m2 0h1"/><path stroke="#0ba339" d="M7 8.5h1m-4 1h1m1 0h1m2 0h1m1 0h1m-8 1h1m2 0h1m3 0h1m-6 1h1m2 0h1m2 0h1m-5 1h1m2 0h2m-9 1h1m4 0h2m1 1h1m-10 1h1m8 0h1m0 2h1m-2 1h1m-1 4h1m-12 2h1"/><path stroke="#069e1c" d="M7 9.5h1m1 1h1m-2 1h1m-8 1h1m7 0h1m-4 2h1m1 0h1m-3 1h2m-6 2h1m12 0h1m-15 1h1m11 0h1m-2 1h2m-5 1h1m2 0h1m-10 1h1m-1 1h1m3 0h3m2 1h2m-14 1h1"/><path stroke="#009a00" d="M8 13.5h1m-2 1h1m1 0h3m-4 1h4m-9 1h1m1 0h8m-10 1h10m-13 1h1m1 0h10m-12 1h12m-12 1h9m1 0h2m-12 1h3m1 0h3m-7 1h2m4 0h1m-7 1h2m7 0h1"/></g><path class="co" d="M667.4 420.2L667.9 413.5L666.9 406.8L658.6 393.4L642.1 380.8L629.1 371.6L628.1 364.9L627.6 365.8L614.7 356.6L599.2 344.0L590.9 332.3L588.9 325.6L570.3 319.7L571.3 326.4L585.8 344.0L597.1 358.2L607.4 375.8L613.6 382.5L625.0 388.4L621.9 394.6L616.7 389.2L603.3 381.7L598.2 379.2L599.2 376.7L596.1 374.1L597.1 368.3L585.8 361.6L575.4 357.4L568.2 353.2L576.5 352.4L577.0 346.5L566.1 339.0L557.9 329.8L550.6 320.6L546.5 313.5L544.4 308.9L536.2 303.4L532.0 301.3L523.8 299.6L511.4 297.1L509.3 291.3L496.9 280.4L495.9 276.6L490.7 272.0L494.8 272.0L493.8 267.8L490.7 268.7L485.5 265.3L477.3 257.0L471.6 248.2L474.2 242.7L473.1 234.4L470.0 227.2L474.2 217.6L475.7 199.2L474.2 194.2L468.0 181.2L483.5 182.9L488.6 184.1L491.7 190.0L486.6 191.7L490.7 185.8L492.8 181.6L487.6 175.8L483.5 173.3L470.0 167.4L459.7 163.2L442.2 159.0L434.9 152.3L441.1 150.7L433.9 146.5L423.6 139.8L415.3 142.3L405.0 129.7L415.3 123.9L413.2 118.0L397.7 111.3L377.1 99.6L354.3 85.4L341.9 87.9L327.5 91.2L315.1 85.4L317.2 82.9L297.5 84.5L268.6 83.7L259.3 80.4L245.9 78.7L242.8 74.5L229.3 73.7L223.1 77.0L223.1 82.9L207.6 84.5L189.1 90.4L189.1 84.5L196.3 79.5L210.7 75.3L209.7 71.1L191.1 77.0L176.7 81.2L177.7 86.2L164.3 91.2L165.3 95.4L139.5 106.3L113.6 117.2L82.6 124.7L53.7 130.6L70.2 126.0L86.8 118.9L103.3 117.6L113.6 116.8L114.7 112.2L129.1 103.8L130.2 99.6L135.3 92.9L122.9 94.6L118.8 91.2L115.7 94.6L103.3 92.9L81.6 94.6L85.7 92.9L80.6 80.4L65.1 85.4L51.7 78.7L69.2 77.0L50.6 76.2L41.3 68.6L53.7 62.8L58.9 56.9L80.6 55.2L94.0 52.7L90.9 47.7L95.0 43.5L70.2 46.0L39.3 44.4L35.1 40.2L20.7 36.8L42.4 32.6L59.9 28.5L85.7 28.5L102.3 30.1L83.7 27.2L80.6 25.9L56.8 20.9L35.1 14.2L39.3 10.0L58.9 7.5L75.4 -0.8"/><path class="co" d="M481.4 181.2L468.0 179.5L454.6 173.3L436.0 166.6L429.8 161.1L444.2 162.4L461.8 167.4L475.2 174.1L481.4 181.2"/><path class="co" d="M401.9 150.7L389.5 142.3L381.2 133.1L395.7 133.9L386.4 138.1L394.6 140.6L401.9 150.7"/><path class="co" d="M342.9 95.2L349.8 103.5L347.0 106.3L359.4 115.9L362.2 114.6L356.6 106.3L362.2 103.5"/><path class="co" d="M348.4 92.4L359.4 97.9L366.3 109.1L363.5 111.8L375.9 117.3L378.7 122.9L384.2 124.2"/><path class="co" d="M356.6 91.1L367.7 96.6L378.7 107.6L384.2 111.8L389.8 113.2L400.8 117.3L398.0 124.2L389.8 121.4"/><path class="co" d="M364.9 102.1L373.3 103.5L370.5 109.1L381.5 115.9L378.7 111.8L387.0 117.3"/><path class="co" d="M373.3 117.3L381.5 128.4L384.2 122.9L389.8 125.6L387.0 120.1"/><path class="co" d="M353.9 97.9L362.2 96.6"/><path class="co" d="M360.8 107.6L370.5 105.5"/><path class="co" d="M367.7 113.2L375.9 110.4"/><path class="co" d="M374.6 120.1L384.2 117.3"/><path class="co" d="M384.2 115.9L395.3 115.9"/><path class="co" d="M389.8 118.7L398.0 120.1"/><path class="co" d="M344.2 96.6L353.9 102.1L351.1 96.6"/><path class="co" d="M378.7 117.3L373.3 113.2"/><path class="co" d="M409.1 133.9L417.4 135.6L414.3 138.9L423.6 139.8L421.5 143.1L429.8 144.0L427.7 147.3L436.0 148.1L432.9 151.5L439.1 153.2"/><path class="co" d="M383.3 137.3L396.7 138.1L389.5 142.3L393.6 145.6"/><path class="fi" d="M489.7 182.5L493.8 184.1L493.8 190.0L489.7 192.5L486.6 190.0L489.7 187.5"/><path class="co" d="M158.1 107.1L169.4 101.3L182.9 97.1L184.9 103.8L169.4 108.8L158.1 107.1"/><path class="co" d="M173.6 97.9L181.8 95.0L187.0 97.9L177.7 99.6"/><path class="co" d="M26.9 82.0L39.3 79.9L45.5 83.7L37.2 85.4L26.9 82.0"/><path class="fi" d="M-2.1 54.0L13.4 55.7L-2.1 57.8"/><path class="fi" d="M-2.1 145.2L3.1 143.5L-2.1 143.1"/><path class="fi" d="M12.4 141.9L22.7 138.9L21.7 137.7L11.9 140.6"/><path class="fi" d="M25.8 138.1L38.2 134.8L37.2 133.5L25.3 136.8"/><path class="fi" d="M40.3 133.9L45.5 132.7L44.9 131.4L39.8 132.7"/><path class="fi" d="M48.6 133.1L52.7 132.2L52.2 131.4L48.0 132.2"/><path class="fi" d="M72.3 131.0L77.5 131.4L77.5 129.7L72.3 129.7"/><path class="fi" d="M95.0 123.0L101.2 124.3L109.5 126.4L109.5 125.5L101.2 123.0L95.0 122.2"/><path class="fi" d="M145.7 119.3L149.8 119.3L149.8 117.6L145.7 117.6"/><path class="fi" d="M157.0 113.4L164.3 112.6L164.3 111.3L157.0 112.2"/><path class="fi" d="M105.4 401.8L108.5 399.7L111.1 401.3L108.5 403.0"/><path class="fi" d="M100.2 403.0L102.8 401.8L102.8 403.4"/><path class="fi" d="M120.9 405.9L124.5 404.1L127.6 407.6L122.9 408.0"/><path class="fi" d="M131.2 409.3L136.9 408.9L136.9 408.0L131.2 408.3"/><path class="fi" d="M137.4 410.5L142.6 410.5L144.6 412.6L140.0 413.5"/><path class="fi" d="M145.7 416.4L152.9 418.9L155.0 421.8L143.6 421.8"/><path class="fi" d="M511.9 300.9L521.2 301.3L521.2 302.0L511.9 302.0"/><path class="fi" d="M520.7 307.2L522.7 308.0L522.2 307.2"/><path class="fi" d="M531.0 305.5L534.1 307.2L534.1 306.3"/><path class="fi" d="M531.0 309.3L533.6 311.4L532.6 309.3"/><path class="fi" d="M533.1 341.5L535.1 344.4L535.1 341.5"/><path class="fi" d="M564.6 348.6L566.6 351.1L566.6 348.6"/><path class="fi" d="M582.7 338.6L587.3 343.2L585.8 339.4"/><path class="fi" d="M593.5 341.5L597.1 344.8L596.6 341.9"/><path class="fi" d="M653.9 403.9L658.1 406.8L657.6 404.7"/><path class="fi" d="M615.7 376.2L617.3 377.9L616.7 375.8"/><path class="fi" d="M608.0 367.4L609.5 369.5L609.0 367.0"/><path class="co" d="M299.6 2.9L327.5 5.9L352.3 8.4L366.7 5.0L382.2 4.6L396.7 0.8L423.6 -1.7"/><path class="co" d="M377.1 10.0L402.9 5.4L426.7 0.8L444.2 -2.5"/><path class="co" d="M444.2 -0.8L459.7 5.9L470.0 0.4L472.1 5.0L486.6 0.4L506.2 2.5L542.4 8.4L575.4 13.4L566.1 17.6L588.9 18.8L625.0 18.4L641.5 26.8L646.7 25.1L641.5 20.1L634.3 15.9L658.1 10.0L676.7 8.8"/><path class="co" d="M542.4 -0.8L568.2 5.9L592.0 11.7L625.0 10.9L658.1 6.7L676.7 5.0"/><path class="bo" d="M299.6 -1.7L299.6 81.2L319.2 82.9L335.8 92.9L356.4 85.4L371.9 93.7L392.6 108.8L413.2 117.2"/><path class="bo" d="M487.6 175.8L681.8 175.8"/><path class="bo" d="M475.7 199.2L492.8 204.2L523.8 201.7L547.0 200.9"/><path class="bo" d="M547.0 175.8L547.0 200.9L552.7 205.5L547.5 216.8L547.2 234.4"/><path class="bo" d="M557.3 175.8L558.9 186.7L574.4 198.4L575.4 205.1L588.9 213.4L609.0 212.6"/><path class="bo" d="M681.8 209.2L609.0 209.2L609.0 242.7L681.8 242.7"/><path class="bo" d="M473.1 234.4L609.0 234.4"/><path class="bo" d="M516.5 234.4L516.5 259.5L572.3 292.1L570.3 298.8L574.4 302.2L571.3 312.2"/><path class="bo" d="M578.0 234.4L578.0 282.9L571.3 284.6L572.3 292.1"/><path class="bo" d="M578.0 276.2L681.8 276.2"/><path class="bo" d="M629.7 242.7L629.7 323.5"/><path class="bo" d="M546.5 313.5L571.3 312.2L609.0 323.5L638.4 323.5L638.4 319.7L656.0 319.7L681.8 318.1"/><path class="bo" d="M656.0 319.7L671.5 328.9L676.7 338.1"/></g><path class="tk" d="M0.0 418.5v-8M51.7 418.5v-8M103.3 418.5v-8M155.0 418.5v-8M206.6 418.5v-8M258.3 418.5v-8M309.9 418.5v-8M361.6 418.5v-8M413.2 418.5v-8M464.9 418.5v-8M516.5 418.5v-8M568.2 418.5v-8M619.8 418.5v-8M671.5 418.5v-8M0 418.5h8M0 376.7h8M0 334.8h8M0 292.9h8M0 251.1h8M0 209.2h8M0 167.4h8M0 125.5h8M0 83.7h8M0 41.9h8M0 0.0h8"/><rect class="fr" width="671.5" height="418.5"/><text class="tt" x="335.8" y="-30.8">Forecasted Number of AR Days</text><text class="sl" x="2" y="-7.2">Dec 16 to Dec 22, Forecast</text><text class="sr" x="670.5" y="-7.2">15−day to 21−day lead</text><text class="yl" x="-4.5" y="426.9">20°N</text><text class="yl" x="-4.5" y="343.2">30°N</text><text class="yl" x="-4.5" y="259.5">40°N</text><text class="yl" x="-4.5" y="175.8">50°N</text><text class="yl" x="-4.5" y="92.1">60°N</text><text class="yl" x="-4.5" y="8.4">70°N</text><text class="xl" x="0.0" y="450.5">170°W</text><text class="xl" x="103.3" y="450.5">160°W</text><text class="xl" x="206.6" y="450.5">150°W</text><text class="xl" x="309.9" y="450.5">140°W</text><text class="xl" x="413.2" y="450.5">130°W</text><text class="xl" x="516.5" y="450.5">120°W</text><text class="xl" x="619.8" y="450.5">110°W</text><rect x="692.1" y="0" width="20.2" height="418.5" fill="url(#gar)" stroke="#000" stroke-width="3"/><path class="tk" d="M692.1 0.0h7M712.3 0.0h-7"/><text class="cl" x="713.3" y="8.5">1.5</text><path class="tk" d="M692.1 139.5h7M712.3 139.5h-7"/><text class="cl" x="713.3" y="148.0">1</text><path class="tk" d="M692.1 279.0h7M712.3 279.0h-7"/><text class="cl" x="713.3" y="287.5">0.5</text><path class="tk" d="M692.1 418.5h7M712.3 418.5h-7"/><text class="cl" x="713.3" y="427.0">0</text></g><g transform="translate(938.5 993.2)"><clipPath id="cp938_993"><rect width="671.5" height="418.5"/></clipPath><g clip-path="url(#cp938_993)"><rect width="671.5" height="418.5" fill="#fff"/><g transform="scale(10.3308 10.3308)" fill="none" stroke-width="1.06" shape-rendering="crispEdges"><path stroke="#ffebc4" d="M33 0.5h1m17 0h1m4 0h1m-40 1h1m31 0h1m14 0h1m-6 1h1m2 3h1"/><path stroke="#ffe9b7" d="M16 0.5h1m2 0h3m1 0h1m3 0h1m1 0h2m1 0h1m1 0h1m3 0h1m1 0h1m1 0h3m1 0h1m1 0h1m3 0h4m3 0h1m2 0h3m-47 1h2m2 0h1m8 0h1m1 0h1m13 0h2m3 0h1m1 0h1m2 0h2m4 0h1m-16 1h2m2 0h6m2 0h1m2 0h2m-15 1h1m2 0h1m4 0h2m1 0h2m1 0h1m-8 1h1m1 0h1m4 0h1m-7 1h1m4 0h2"/><path stroke="#ffeaa7" d="M9 0.5h1m4 0h2m1 0h2m3 0h1m2 0h2m1 0h1m2 0h1m3 0h1m1 0h1m1 0h1m1 0h1m3 0h1m1 0h1m1 0h2m6 0h2m2 0h1m-47 1h2m4 0h1m2 0h7m1 0h1m1 0h5m1 0h5m1 0h1m3 0h2m1 0h1m1 0h2m2 0h4m-36 1h2m1 0h1m1 0h4m1 0h4m4 0h1m1 0h1m2 0h2m6 0h1m2 0h2m-16 1h2m2 0h2m1 0h2m1 0h1m2 0h1m2 0h1m-15 1h2m2 0h3m4 0h1m1 0h2m-9 1h1m1 0h1m1 0h3m-4 1h7"/><path stroke="#ffec96" d="M5 0.5h4m1 0h4m10 0h1m11 0h1m23 0h1m-50 1h1m2 0h1m5 0h1m2 0h1m15 0h1m5 0h1m-31 1h8m2 0h2m2 0h1m1 0h1m4 0h1m4 0h1m1 0h2m1 0h1m-29 1h2m2 0h1m4 0h3m2 0h2m1 0h1m3 0h5m1 0h2m2 0h1m6 0h1m-29 1h1m16 0h1m1 0h2m2 0h2m3 0h1m1 0h1m2 0h1m-13 1h1m1 0h1m2 0h1m1 0h1m2 2h1m2 0h2m-27 29h2m-3 1h2m-2 1h2m-7 2h1"/><path stroke="#fff48a" d="M4 0.5h1m1 1h5m1 0h2m-12 1h2m4 0h4m1 0h2m8 0h2m17 0h1m-27 1h2m2 0h2m2 0h3m7 0h1m1 0h1m1 0h1m5 0h1m-24 1h2m4 0h1m8 0h1m4 0h1m2 0h1m1 0h1m-2 1h4m1 0h1m1 0h2m-7 1h1m4 0h1m4 0h1m-1 1h2m1 0h1m3 0h1m-6 1h4m1 0h1m-2 4h1m-2 15h1m-1 1h1m-7 2h1m-5 1h1m3 2h1m-10 1h1m-11 1h3m9 0h1m-14 1h1m2 0h2m4 0h1m-8 1h1m1 0h2m9 0h1m-21 1h1m3 0h1m3 0h1m4 0h1m1 0h2m-18 1h3m10 0h1m1 0h1m-19 1h1m2 0h1m7 0h2"/><path stroke="#fffc7d" d="M0 0.5h1m1 0h1m-3 1h1m1 0h2m1 0h1m-5 1h1m2 0h4m4 0h1m-10 1h3m17 0h1m6 0h2m5 0h1m-21 1h4m3 0h2m4 0h2m1 0h3m1 0h4m1 0h1m-16 1h2m1 0h2m2 0h2m2 0h1m2 0h3m1 1h2m1 0h4m1 0h4m-13 1h1m3 0h8m5 0h1m-13 1h1m1 0h1m3 0h3m5 0h1m-14 1h1m1 0h2m2 0h1m2 0h2m1 0h3m-14 1h5m2 0h1m1 0h2m1 0h2m-14 1h1m3 0h1m1 0h3m1 0h2m1 0h1m-9 1h1m3 0h3m-8 1h2m3 0h5m-10 1h2m1 0h2m1 0h2m1 0h1m-10 1h1m1 0h1m2 0h3m1 0h1m-8 1h1m2 0h1m1 0h1m1 0h1m-1 1h1m-1 5h1m-3 1h1m1 0h1m-1 1h1m-9 1h1m2 0h3m1 0h2m-8 1h2m2 0h1m1 0h1m-6 1h2m1 0h1m1 0h2m-10 1h1m2 0h1m5 0h1m-15 1h1m5 0h1m1 0h4m-13 1h1m1 0h1m3 0h1m1 0h1m2 0h1m1 0h1m-14 1h1m1 0h1m2 0h1m3 0h2m-15 1h3m1 0h2m3 0h3m-14 1h1m1 0h1m1 0h2m2 0h1m3 0h1m1 0h1m-21 1h2m5 0h1m1 0h1m3 0h1m2 0h1m-19 1h1m4 0h2m2 0h1m1 0h3m1 0h1m1 0h3m1 0h3m-26 1h2m8 0h2m2 0h1m3 0h2m1 0h2m2 0h1m-28 1h1m1 0h1m1 0h1m3 0h1m3 0h1m1 0h2m5 0h1m2 0h3m-30 1h1m1 0h1m1 0h3m5 0h2m1 0h1m1 0h1m3 0h1m1 0h2m3 0h2m1 0h1m-34 1h4m3 0h7m2 0h1m3 0h2m2 0h2m1 0h1m1 0h3m1 0h1m1 0h1m-43 1h1m1 0h3m4 0h1m3 0h1m1 0h4m2 0h7m1 0h1m2 0h1m1 0h1m1 0h1m4 0h1m1 0h1"/><path stroke="#fefe7a" d="M1 0.5h1m1 0h1m-3 1h1m2 0h1m-5 1h1m-1 1h3m3 0h1m2 0h3m1 0h3m-1 1h2m6 0h1m2 0h1m2 0h1m2 0h1m10 0h1m-25 1h1m2 0h5m2 0h1m2 0h2m2 0h2m1 0h1m4 0h1m-19 1h1m1 0h4m1 0h2m2 0h3m1 0h4m-7 1h1m6 0h3m8 0h1m-13 1h1m1 0h1m1 0h1m1 0h1m1 0h3m3 0h1m-13 1h4m1 0h1m2 0h2m1 0h2m2 0h1m-6 1h2m1 0h1m2 0h1m-13 1h1m1 0h3m1 0h1m3 0h1m2 0h1m-12 1h4m1 0h3m4 0h1m-12 1h2m3 0h2m-7 1h1m3 0h1m2 0h1m2 0h1m-10 1h1m1 0h1m2 0h1m3 0h1m-8 1h1m1 0h2m1 0h1m1 0h1m-7 1h1m2 0h1m1 0h2m-4 1h2m2 0h1m-5 1h1m3 2h1m-4 1h1m1 0h1m-5 1h3m1 0h1m-8 1h1m1 0h6m-10 1h2m1 0h2m3 0h1m-9 1h3m2 0h2m1 0h1m1 0h1m-10 1h3m2 0h1m-9 1h1m3 0h2m2 0h2m1 0h1m-13 1h5m1 0h1m4 0h3m-15 1h1m1 0h3m3 0h2m1 0h1m2 0h1m-19 1h3m1 0h1m2 0h1m1 0h3m2 0h2m-18 1h1m3 0h1m3 0h2m3 0h3m-20 1h3m1 0h1m1 0h1m2 0h2m1 0h3m3 0h2m-21 1h3m1 0h1m1 0h1m3 0h1m1 0h2m1 0h7m-28 1h1m2 0h1m5 0h2m1 0h1m5 0h1m3 0h1m3 0h2m-29 1h1m2 0h1m5 0h1m4 0h1m1 0h3m2 0h1m2 0h2m3 0h1m-34 1h1m1 0h1m1 0h1m1 0h1m7 0h1m4 0h4m2 0h2m3 0h3m-36 1h3m1 0h1m8 0h1m3 0h1m5 0h1m1 0h1m2 0h3m2 0h1m-40 1h1m1 0h1m1 0h3m14 0h2m2 0h1m3 0h2m2 0h1m7 0h1m-45 1h3m1 0h1m4 0h2m2 0h1m3 0h1m13 0h1m1 0h2m1 0h1m1 0h1m1 0h1m1 0h2m3 0h1"/><path stroke="#fcfc87" d="M7 3.5h1m-5 1h2m9 0h1m1 1h3m1 0h2m18 0h1m-20 1h1m1 0h3m1 0h1m4 0h1m2 0h2m-12 1h1m3 0h1m2 0h1m1 0h1m1 0h2m2 0h4m-2 1h1m2 0h1m1 0h1m-4 1h1m-2 1h2m2 0h4m-5 1h4m0 1h2m0 1h1m4 0h1m-7 1h2m1 0h1m3 1h1m-6 1h1m1 0h1m-1 1h2m1 0h2m1 0h1m-4 1h2m2 0h2m-6 1h1m2 0h3m-5 1h6m-5 1h4m-4 1h1m1 0h1m-7 1h2m-3 1h1m1 0h1m-5 2h1m-3 2h1m1 0h2m-8 1h1m-2 1h3m14 0h1m-20 1h2m18 0h1m-22 1h1m7 0h1m8 0h1m-24 1h3m20 0h2m-26 1h1m5 0h1m5 0h1m-15 1h1m26 0h1m-31 1h1m10 0h1m16 0h2m-34 1h1m1 0h1m14 0h1m16 0h1m-42 1h5m35 0h4m-47 1h2m1 0h1m1 0h1m31 0h1m3 0h1m3 0h3m-52 1h3m8 0h1m32 0h1m3 0h1m2 0h1"/><path stroke="#fafa96" d="M8 3.5h1m3 0h1m-13 1h3m2 0h2m4 0h2m2 1h1m3 1h2m1 0h1m17 0h1m-17 1h1m1 0h3m1 0h2m1 0h1m1 0h1m3 0h1m-5 1h1m2 0h1m1 0h1m2 0h1m-3 1h3m1 0h1m-1 1h2m-3 1h2m1 1h3m-1 1h3m0 2h2m-53 1h1m52 0h1m-55 1h1m53 0h1m0 1h1m1 0h1m-1 1h1m1 0h1m4 0h1m-8 1h1m0 1h2m-1 1h1m-5 1h1m2 0h1m-6 1h2m-4 1h3m-2 1h1m-1 1h3m-6 1h2m8 0h1m-12 1h2m-5 1h1m-4 1h2m18 0h2m-24 1h3m18 0h2m1 0h1m-3 1h2m-30 1h2m25 0h3m-33 1h1m30 0h1m-34 1h2m31 0h3m-41 1h1m1 0h1m35 0h3m-47 1h2m44 0h1m-50 1h2m-5 1h1"/><path stroke="#f7f7a5" d="M7 4.5h2m1 0h1m2 0h1m-13 1h4m-4 1h1m19 1h1m1 0h1m9 1h1m2 0h2m1 0h1m1 0h1m-3 1h1m2 1h1m3 2h1m-1 1h3m1 1h1m-51 2h1m4 0h1m46 0h1m-52 1h2m49 0h2m-52 1h1m51 0h1m1 0h1m-2 1h2m1 1h1m-2 1h1m-4 1h2m1 0h2m-7 1h1m-2 1h2m-2 2h1m-1 1h1m-4 1h1m-3 1h1m-6 1h3m-6 2h2m23 0h1m-28 1h1m27 1h1m-33 1h1m30 0h2m-46 2h1m1 0h3m1 0h1m-10 1h2m-6 1h1m-13 1h1m6 0h5"/><path stroke="#f3f3bb" d="M9 4.5h1m-10 1h1m4 0h3m4 0h3m-15 1h1m14 0h4m-1 1h1m1 0h1m1 0h1m6 1h1m2 0h1m1 0h1m1 1h3m1 0h1m-2 1h2m2 1h1m-1 1h3m-44 1h1m2 0h1m2 0h1m39 1h2m-50 1h2m4 0h2m2 0h1m37 0h2m1 0h1m-46 1h1m3 0h1m38 0h1m1 0h1m-48 1h1m1 0h1m1 0h1m42 0h1m-52 1h2m1 0h1m1 0h1m44 0h4m-54 1h1m4 0h3m43 0h2m1 0h1m-6 1h3m4 0h1m-1 1h1m-52 1h1m46 0h2m2 0h1m-4 1h2m-5 2h1m-3 1h3m-4 1h1m1 0h2m-4 1h1m-3 1h1m-2 1h1m-6 1h3m-8 2h2m28 0h1m-33 1h1m-4 1h2m-5 1h3m-9 1h1m-8 2h2m-14 1h1"/><path stroke="#eeeed1" d="M9 5.5h1m1 0h1m-10 1h4m8 0h1m-14 1h1m1 0h1m12 0h1m2 0h1m-12 1h1m14 0h1m2 0h3m1 0h2m-24 1h1m25 0h2m0 1h1m1 0h1m-35 1h1m8 0h1m27 0h2m-40 1h2m1 0h1m3 0h1m-11 1h2m1 0h2m1 0h2m35 0h1m1 0h1m-46 1h12m35 0h1m-46 1h3m3 0h2m1 0h3m36 0h1m-49 1h3m3 0h1m2 0h2m1 0h1m35 0h1m-48 1h1m1 0h1m1 0h1m1 0h2m38 0h2m-47 1h1m1 0h2m1 0h1m39 0h1m-49 1h2m5 0h2m39 0h2m2 0h1m-52 1h1m1 0h5m43 0h3m-51 1h1m2 0h1m42 0h6m-50 1h1m43 0h2m-46 1h1m44 0h1m-2 1h1m-5 1h4m-4 2h1m1 0h1m-5 1h3m-4 1h2m-8 3h1m-7 2h1m1 0h1m-16 3h1m-6 1h1m1 0h1m-14 1h1m6 0h3m-10 1h1m1 0h3"/><path stroke="#e9ebe5" d="M8 5.5h1m1 0h1m-5 1h1m2 0h1m3 0h1m-12 1h1m1 0h2m8 0h2m1 0h1m-11 1h1m1 0h1m1 0h1m6 0h2m1 0h2m1 0h2m-19 1h1m2 0h4m3 0h1m13 0h1m1 0h1m-32 1h1m1 0h1m2 0h1m3 0h1m1 0h1m1 0h1m21 0h1m3 0h1m-41 1h2m11 0h2m22 0h3m-41 1h3m2 0h1m1 0h3m2 0h1m3 0h2m22 0h3m-34 1h4m27 0h3m1 0h1m-33 1h2m31 0h2m-42 1h1m8 0h1m32 0h1m-41 1h1m1 0h1m3 0h1m34 0h1m-38 1h3m34 0h1m-41 1h1m1 0h3m35 0h1m-46 1h2m43 0h1m-48 1h1m1 0h1m5 0h1m38 0h1m6 0h1m-53 1h1m1 0h2m1 0h2m39 0h1m-46 1h1m2 0h2m39 0h1m-45 1h1m43 0h3m-5 1h1m1 0h2m-5 1h1m0 1h2m-3 1h1m-4 1h2m-3 1h1m-3 1h2m-3 1h1m-4 1h2m-7 2h1m-3 1h1m-8 1h5m-10 1h2m-8 1h1m1 0h1m1 0h1m-15 1h2m2 0h1m1 0h3m-6 1h1"/><path stroke="#d5e7eb" d="M7 6.5h2m1 0h3m-13 1h1m5 0h1m2 0h4m-13 1h4m2 0h1m3 0h1m1 0h1m3 0h1m3 0h1m-21 1h1m2 0h2m4 0h1m4 0h1m1 0h1m4 0h2m3 0h2m1 0h2m1 0h1m-30 1h1m1 0h1m2 0h3m1 0h1m1 0h1m1 0h1m16 0h3m-33 1h1m1 0h1m2 0h1m1 0h3m3 0h3m16 0h1m1 0h1m-27 1h1m1 0h3m2 0h1m18 0h3m-27 1h2m2 0h4m-7 1h2m27 0h2m1 1h1m-32 1h1m31 0h1m-34 1h2m31 0h1m-38 2h1m36 0h1m-48 1h1m9 0h2m-11 1h2m45 0h1m-47 1h2m5 0h1m39 0h1m-45 1h1m1 0h1m39 0h1m-1 1h1m-4 1h1m-2 1h3m-3 1h2m-6 2h2m1 0h1m-5 1h1m-6 2h1m-3 1h3m-9 2h1m1 0h1m-9 1h2m-10 2h1m-9 1h1m1 0h1"/><path stroke="#bce3f0" d="M7 7.5h2m4 0h1m-10 1h2m7 0h3m1 0h1m-17 1h2m2 0h2m8 0h1m2 0h1m1 0h1m2 0h2m3 0h1m-28 1h1m4 0h1m10 0h3m5 0h1m6 0h1m-33 1h1m5 0h2m1 0h1m9 0h1m16 0h1m-18 1h2m1 0h2m12 0h1m-22 1h2m5 0h1m14 0h1m1 0h1m-24 1h3m4 0h1m18 0h1m-27 1h1m1 0h1m13 0h1m12 0h1m-15 1h1m14 0h1m-31 1h1m-6 2h1m11 0h1m-12 1h1m10 0h3m21 0h1m-48 1h1m9 0h1m12 0h3m21 0h1m-48 1h2m8 0h1m11 0h1m1 0h3m19 0h2m-40 1h1m37 0h1m-41 1h2m37 0h1m-4 1h1m-1 1h1m-2 2h1m-6 2h2m-3 1h3m-6 1h1m1 0h1m-5 1h1m-2 1h1m-9 1h1m1 0h1m2 0h1m-10 1h2m-6 1h3m-16 1h1m2 0h3m2 0h2"/><path stroke="#a0def4" d="M19 9.5h1m5 0h1m-26 1h1m19 0h3m1 0h1m1 0h2m2 0h2m-12 1h2m1 0h3m2 0h1m-8 1h1m2 0h1m5 0h1m1 0h1m2 0h1m-15 1h1m1 0h3m2 0h1m1 0h1m7 0h1m-20 1h2m1 0h1m1 0h2m3 0h4m7 0h1m-26 1h1m1 0h1m1 0h1m2 0h1m1 0h1m1 0h3m1 0h2m12 0h1m-29 1h2m2 0h3m6 0h2m1 0h1m-16 1h1m14 0h1m-20 1h5m1 0h1m2 0h3m8 0h1m12 0h2m-36 1h3m1 0h1m4 0h2m2 0h1m-6 1h1m1 0h1m23 0h1m-36 1h3m8 0h1m-12 1h2m8 0h1m1 0h1m-24 1h4m5 0h2m11 0h3m20 0h1m-41 1h1m2 0h3m31 0h3m-39 1h1m1 0h1m34 0h1m-3 1h1m-1 1h2m-4 1h2m-7 1h1m2 0h2m-4 1h1m-2 1h1m-4 1h1m-3 1h1m-5 1h4m-7 1h1m1 0h1m-17 2h1m2 0h1m-11 1h2m3 0h2"/><path stroke="#82daf7" d="M23 10.5h1m4 0h2m-8 1h1m4 0h1m1 0h6m-10 1h2m1 0h2m1 0h1m1 0h2m-9 1h2m1 0h1m2 0h1m1 0h3m-16 1h1m4 0h3m4 0h3m3 0h1m1 0h1m-22 1h1m2 0h1m1 0h1m3 0h1m4 0h1m7 0h1m-25 1h2m3 0h5m5 0h1m11 0h1m-28 1h2m1 0h1m1 0h5m2 0h2m6 0h1m5 0h1m1 0h1m-26 1h1m3 0h1m4 0h1m1 0h1m-18 1h1m1 0h1m2 0h1m3 0h1m1 0h2m17 0h2m-33 1h1m2 0h1m-4 1h1m3 0h2m1 0h1m4 0h2m17 0h2m-34 1h2m4 0h1m7 0h1m17 0h1m-35 1h3m7 0h1m3 0h2m15 0h1m1 0h1m-41 1h1m6 0h1m9 0h1m2 0h1m16 0h1m-32 1h2m28 0h2m-2 1h1m-1 1h1m-10 2h3m1 0h1m-5 1h4m-4 1h1m1 0h1m-5 1h2m-5 1h1m1 0h1m-9 1h1m1 0h1m1 0h1m-7 1h3m-7 1h3m-11 1h2m1 0h2m1 0h1"/><path stroke="#64d6fa" d="M26 11.5h1m0 1h1m3 1h1m1 0h1m2 1h3m-18 1h1m11 0h1m1 0h1m3 0h3m1 0h1m-16 1h1m5 0h2m1 0h4m2 0h2m-23 1h1m5 0h2m3 0h3m1 0h1m2 0h2m3 0h1m-28 1h1m1 0h1m5 0h2m6 0h1m9 0h2m-28 1h2m9 0h1m2 0h1m3 0h4m-27 1h1m1 0h1m2 0h2m1 0h1m4 0h1m17 0h2m-31 1h1m1 0h1m2 0h1m8 0h1m-14 1h3m1 0h1m22 0h2m-31 1h2m2 0h1m1 0h1m6 0h1m4 0h1m7 0h1m2 0h1m-44 1h1m1 0h2m8 0h1m7 0h1m1 0h2m2 0h1m10 0h1m2 0h1m-38 1h3m1 0h1m1 0h1m2 0h1m-6 1h2m1 0h1m20 1h1m5 0h1m1 0h1m-9 1h2m2 0h4m-9 1h1m5 0h1m-7 1h1m-2 1h2m1 0h1m-7 1h1m-7 1h1m4 0h1m1 0h1m-9 1h1m1 0h1m1 0h1m-17 2h1m2 0h1m2 0h1m-14 1h1m1 0h1m2 0h1"/><path stroke="#45d2fd" d="M36 15.5h2m-2 1h1m4 0h2m-23 1h1m15 0h1m2 0h1m3 0h1m-16 1h2m1 0h1m3 0h1m1 0h5m1 0h1m-16 1h1m1 0h2m1 0h3m4 0h2m1 0h2m-29 1h1m10 0h9m7 0h1m-28 1h1m11 0h1m1 0h3m2 0h1m4 0h3m1 0h1m-30 1h1m13 0h2m4 0h2m3 0h2m-26 1h2m1 0h1m9 0h3m1 0h1m2 0h1m1 0h2m1 0h1m-41 1h1m11 0h5m1 0h1m5 0h1m2 0h3m2 0h4m1 0h1m-25 1h2m5 0h1m3 0h2m1 0h6m5 0h1m-35 1h2m2 0h1m15 0h2m2 0h8m1 0h2m-36 1h1m1 0h2m22 0h1m2 0h4m1 0h1m-9 1h1m2 0h2m-6 2h1m-8 2h1m4 0h2m-11 1h2m1 0h2m1 0h1m-8 1h1m-12 1h1m2 0h1m3 0h5m-17 1h1m6 0h2m1 0h2m-12 1h1m1 0h1"/><path stroke="#2ecdf6" d="M38 15.5h1m3 2h1m-7 1h1m5 0h1m-1 1h1m-7 1h3m1 0h3m-10 1h2m2 0h2m4 0h1m-16 1h1m2 0h4m2 0h1m1 0h1m2 0h1m-15 1h1m5 0h2m1 0h1m-20 1h1m8 0h1m3 0h2m6 0h1m-39 1h1m11 0h1m2 0h1m1 0h1m1 0h1m1 0h3m2 0h1m6 0h5m-37 1h3m6 0h1m15 0h2m8 0h1m-33 1h1m2 0h2m19 0h1m2 0h1m-28 1h1m23 0h1m-1 1h1m-2 1h1m-8 1h1m5 0h2m-8 1h1m2 0h2m-3 1h1m-11 1h4m1 0h1m-12 1h2m1 0h1m1 0h1m-13 1h1m1 0h1m1 0h3m-3 1h1"/><path stroke="#24c7de" d="M39 20.5h1m-4 1h1m2 0h1m-2 1h1m-39 3h1m1 0h1m14 0h1m1 0h1m-19 1h1m12 0h1m7 0h3m-23 1h2m22 0h3m-25 1h1m1 0h1m20 0h2m-7 3h5m-9 1h3m2 0h1m-13 1h1m3 0h3m-10 1h1m-6 1h2m6 0h1m-9 1h1"/><path stroke="#1fc0be" d="M12 26.5h2m2 0h4m1 0h1m-3 1h1m2 0h4m-23 1h1m3 0h1m17 0h2m-22 1h1m21 0h2m-8 1h5m1 0h1m-10 1h3m-19 1h1m12 0h3m-18 2h1m2 0h1m2 0h2m1 0h2m-11 1h3m2 0h1"/><path stroke="#1ab99d" d="M0 26.5h1m14 0h1m4 0h1m-20 1h1m8 0h3m1 0h3m1 0h1m1 0h2m-20 1h1m5 0h1m11 0h1m1 0h3m-23 1h3m1 0h1m1 0h1m13 0h3m1 0h1m-21 1h1m19 0h1m-25 1h2m11 0h1m1 0h1m-15 1h1m3 0h1m6 0h1m-15 1h2m1 0h1m1 0h6m1 0h3m-13 1h1m1 0h2m5 0h2"/><path stroke="#16b27b" d="M0 27.5h1m12 0h1m3 0h1m-18 1h2m7 0h8m2 0h1m1 0h1m-15 1h1m9 0h1m2 0h2m3 0h1m-26 1h6m10 0h5m-21 1h2m2 0h1m1 0h2m6 0h1m1 0h1m-17 1h2m2 0h3m2 0h1m1 0h1m1 0h1m-12 1h1m1 0h1m-4 1h1"/><path stroke="#11ab5a" d="M17 28.5h2m-19 1h2m7 0h1m3 0h1m5 0h1m-13 1h2m3 0h1m1 0h2m-11 1h1m2 0h1m1 0h2m1 0h1m-6 1h1m1 0h1m1 0h1"/><path stroke="#0ba339" d="M11 29.5h2m1 0h3m1 0h1m-10 1h1m-1 1h1m2 0h1"/><path stroke="#069e1c" d="M10 29.5h1m-1 1h2m1 0h1"/></g><path class="co" d="M667.4 420.2L667.9 413.5L666.9 406.8L658.6 393.4L642.1 380.8L629.1 371.6L628.1 364.9L627.6 365.8L614.7 356.6L599.2 344.0L590.9 332.3L588.9 325.6L570.3 319.7L571.3 326.4L585.8 344.0L597.1 358.2L607.4 375.8L613.6 382.5L625.0 388.4L621.9 394.6L616.7 389.2L603.3 381.7L598.2 379.2L599.2 376.7L596.1 374.1L597.1 368.3L585.8 361.6L575.4 357.4L568.2 353.2L576.5 352.4L577.0 346.5L566.1 339.0L557.9 329.8L550.6 320.6L546.5 313.5L544.4 308.9L536.2 303.4L532.0 301.3L523.8 299.6L511.4 297.1L509.3 291.3L496.9 280.4L495.9 276.6L490.7 272.0L494.8 272.0L493.8 267.8L490.7 268.7L485.5 265.3L477.3 257.0L471.6 248.2L474.2 242.7L473.1 234.4L470.0 227.2L474.2 217.6L475.7 199.2L474.2 194.2L468.0 181.2L483.5 182.9L488.6 184.1L491.7 190.0L486.6 191.7L490.7 185.8L492.8 181.6L487.6 175.8L483.5 173.3L470.0 167.4L459.7 163.2L442.2 159.0L434.9 152.3L441.1 150.7L433.9 146.5L423.6 139.8L415.3 142.3L405.0 129.7L415.3 123.9L413.2 118.0L397.7 111.3L377.1 99.6L354.3 85.4L341.9 87.9L327.5 91.2L315.1 85.4L317.2 82.9L297.5 84.5L268.6 83.7L259.3 80.4L245.9 78.7L242.8 74.5L229.3 73.7L223.1 77.0L223.1 82.9L207.6 84.5L189.1 90.4L189.1 84.5L196.3 79.5L210.7 75.3L209.7 71.1L191.1 77.0L176.7 81.2L177.7 86.2L164.3 91.2L165.3 95.4L139.5 106.3L113.6 117.2L82.6 124.7L53.7 130.6L70.2 126.0L86.8 118.9L103.3 117.6L113.6 116.8L114.7 112.2L129.1 103.8L130.2 99.6L135.3 92.9L122.9 94.6L118.8 91.2L115.7 94.6L103.3 92.9L81.6 94.6L85.7 92.9L80.6 80.4L65.1 85.4L51.7 78.7L69.2 77.0L50.6 76.2L41.3 68.6L53.7 62.8L58.9 56.9L80.6 55.2L94.0 52.7L90.9 47.7L95.0 43.5L70.2 46.0L39.3 44.4L35.1 40.2L20.7 36.8L42.4 32.6L59.9 28.5L85.7 28.5L102.3 30.1L83.7 27.2L80.6 25.9L56.8 20.9L35.1 14.2L39.3 10.0L58.9 7.5L75.4 -0.8"/><path class="co" d="M481.4 181.2L468.0 179.5L454.6 173.3L436.0 166.6L429.8 161.1L444.2 162.4L461.8 167.4L475.2 174.1L481.4 181.2"/><path class="co" d="M401.9 150.7L389.5 142.3L381.2 133.1L395.7 133.9L386.4 138.1L394.6 140.6L401.9 150.7"/><path class="co" d="M342.9 95.2L349.8 103.5L347.0 106.3L359.4 115.9L362.2 114.6L356.6 106.3L362.2 103.5"/><path class="co" d="M348.4 92.4L359.4 97.9L366.3 109.1L363.5 111.8L375.9 117.3L378.7 122.9L384.2 124.2"/><path class="co" d="M356.6 91.1L367.7 96.6L378.7 107.6L384.2 111.8L389.8 113.2L400.8 117.3L398.0 124.2L389.8 121.4"/><path class="co" d="M364.9 102.1L373.3 103.5L370.5 109.1L381.5 115.9L378.7 111.8L387.0 117.3"/><path class="co" d="M373.3 117.3L381.5 128.4L384.2 122.9L389.8 125.6L387.0 120.1"/><path class="co" d="M353.9 97.9L362.2 96.6"/><path class="co" d="M360.8 107.6L370.5 105.5"/><path class="co" d="M367.7 113.2L375.9 110.4"/><path class="co" d="M374.6 120.1L384.2 117.3"/><path class="co" d="M384.2 115.9L395.3 115.9"/><path class="co" d="M389.8 118.7L398.0 120.1"/><path class="co" d="M344.2 96.6L353.9 102.1L351.1 96.6"/><path class="co" d="M378.7 117.3L373.3 113.2"/><path class="co" d="M409.1 133.9L417.4 135.6L414.3 138.9L423.6 139.8L421.5 143.1L429.8 144.0L427.7 147.3L436.0 148.1L432.9 151.5L439.1 153.2"/><path class="co" d="M383.3 137.3L396.7 138.1L389.5 142.3L393.6 145.6"/><path class="fi" d="M489.7 182.5L493.8 184.1L493.8 190.0L489.7 192.5L486.6 190.0L489.7 187.5"/><path class="co" d="M158.1 107.1L169.4 101.3L182.9 97.1L184.9 103.8L169.4 108.8L158.1 107.1"/><path class="co" d="M173.6 97.9L181.8 95.0L187.0 97.9L177.7 99.6"/><path class="co" d="M26.9 82.0L39.3 79.9L45.5 83.7L37.2 85.4L26.9 82.0"/><path class="fi" d="M-2.1 54.0L13.4 55.7L-2.1 57.8"/><path class="fi" d="M-2.1 145.2L3.1 143.5L-2.1 143.1"/><path class="fi" d="M12.4 141.9L22.7 138.9L21.7 137.7L11.9 140.6"/><path class="fi" d="M25.8 138.1L38.2 134.8L37.2 133.5L25.3 136.8"/><path class="fi" d="M40.3 133.9L45.5 132.7L44.9 131.4L39.8 132.7"/><path class="fi" d="M48.6 133.1L52.7 132.2L52.2 131.4L48.0 132.2"/><path class="fi" d="M72.3 131.0L77.5 131.4L77.5 129.7L72.3 129.7"/><path class="fi" d="M95.0 123.0L101.2 124.3L109.5 126.4L109.5 125.5L101.2 123.0L95.0 122.2"/><path class="fi" d="M145.7 119.3L149.8 119.3L149.8 117.6L145.7 117.6"/><path class="fi" d="M157.0 113.4L164.3 112.6L164.3 111.3L157.0 112.2"/><path class="fi" d="M105.4 401.8L108.5 399.7L111.1 401.3L108.5 403.0"/><path class="fi" d="M100.2 403.0L102.8 401.8L102.8 403.4"/><path class="fi" d="M120.9 405.9L124.5 404.1L127.6 407.6L122.9 408.0"/><path class="fi" d="M131.2 409.3L136.9 408.9L136.9 408.0L131.2 408.3"/><path class="fi" d="M137.4 410.5L142.6 410.5L144.6 412.6L140.0 413.5"/><path class="fi" d="M145.7 416.4L152.9 418.9L155.0 421.8L143.6 421.8"/><path class="fi" d="M511.9 300.9L521.2 301.3L521.2 302.0L511.9 302.0"/><path class="fi" d="M520.7 307.2L522.7 308.0L522.2 307.2"/><path class="fi" d="M531.0 305.5L534.1 307.2L534.1 306.3"/><path class="fi" d="M531.0 309.3L533.6 311.4L532.6 309.3"/><path class="fi" d="M533.1 341.5L535.1 344.4L535.1 341.5"/><path class="fi" d="M564.6 348.6L566.6 351.1L566.6 348.6"/><path class="fi" d="M582.7 338.6L587.3 343.2L585.8 339.4"/><path class="fi" d="M593.5 341.5L597.1 344.8L596.6 341.9"/><path class="fi" d="M653.9 403.9L658.1 406.8L657.6 404.7"/><path class="fi" d="M615.7 376.2L617.3 377.9L616.7 375.8"/><path class="fi" d="M608.0 367.4L609.5 369.5L609.0 367.0"/><path class="co" d="M299.6 2.9L327.5 5.9L352.3 8.4L366.7 5.0L382.2 4.6L396.7 0.8L423.6 -1.7"/><path class="co" d="M377.1 10.0L402.9 5.4L426.7 0.8L444.2 -2.5"/><path class="co" d="M444.2 -0.8L459.7 5.9L470.0 0.4L472.1 5.0L486.6 0.4L506.2 2.5L542.4 8.4L575.4 13.4L566.1 17.6L588.9 18.8L625.0 18.4L641.5 26.8L646.7 25.1L641.5 20.1L634.3 15.9L658.1 10.0L676.7 8.8"/><path class="co" d="M542.4 -0.8L568.2 5.9L592.0 11.7L625.0 10.9L658.1 6.7L676.7 5.0"/><path class="bo" d="M299.6 -1.7L299.6 81.2L319.2 82.9L335.8 92.9L356.4 85.4L371.9 93.7L392.6 108.8L413.2 117.2"/><path class="bo" d="M487.6 175.8L681.8 175.8"/><path class="bo" d="M475.7 199.2L492.8 204.2L523.8 201.7L547.0 200.9"/><path class="bo" d="M547.0 175.8L547.0 200.9L552.7 205.5L547.5 216.8L547.2 234.4"/><path class="bo" d="M557.3 175.8L558.9 186.7L574.4 198.4L575.4 205.1L588.9 213.4L609.0 212.6"/><path class="bo" d="M681.8 209.2L609.0 209.2L609.0 242.7L681.8 242.7"/><path class="bo" d="M473.1 234.4L609.0 234.4"/><path class="bo" d="M516.5 234.4L516.5 259.5L572.3 292.1L570.3 298.8L574.4 302.2L571.3 312.2"/><path class="bo" d="M578.0 234.4L578.0 282.9L571.3 284.6L572.3 292.1"/><path class="bo" d="M578.0 276.2L681.8 276.2"/><path class="bo" d="M629.7 242.7L629.7 323.5"/><path class="bo" d="M546.5 313.5L571.3 312.2L609.0 323.5L638.4 323.5L638.4 319.7L656.0 319.7L681.8 318.1"/><path class="bo" d="M656.0 319.7L671.5 328.9L676.7 338.1"/></g><path class="tk" d="M0.0 418.5v-8M51.7 418.5v-8M103.3 418.5v-8M155.0 418.5v-8M206.6 418.5v-8M258.3 418.5v-8M309.9 418.5v-8M361.6 418.5v-8M413.2 418.5v-8M464.9 418.5v-8M516.5 418.5v-8M568.2 418.5v-8M619.8 418.5v-8M671.5 418.5v-8M0 418.5h8M0 376.7h8M0 334.8h8M0 292.9h8M0 251.1h8M0 209.2h8M0 167.4h8M0 125.5h8M0 83.7h8M0 41.9h8M0 0.0h8"/><rect class="fr" width="671.5" height="418.5"/><text class="tt" x="335.8" y="-30.8">Hindcast Climatology of AR Days</text><text class="sl" x="2" y="-7.2">Dec 16 to Dec 22, Climatology</text><text class="sr" x="670.5" y="-7.2">15−day to 21−day lead</text><text class="yl" x="-4.5" y="426.9">20°N</text><text class="yl" x="-4.5" y="343.2">30°N</text><text class="yl" x="-4.5" y="259.5">40°N</text><text class="yl" x="-4.5" y="175.8">50°N</text><text class="yl" x="-4.5" y="92.1">60°N</text><text class="yl" x="-4.5" y="8.4">70°N</text><text class="xl" x="0.0" y="450.5">170°W</text><text class="xl" x="103.3" y="450.5">160°W</text><text class="xl" x="206.6" y="450.5">150°W</text><text class="xl" x="309.9" y="450.5">140°W</text><text class="xl" x="413.2" y="450.5">130°W</text><text class="xl" x="516.5" y="450.5">120°W</text><text class="xl" x="619.8" y="450.5">110°W</text><rect x="692.1" y="0" width="20.2" height="418.5" fill="url(#gar)" stroke="#000" stroke-width="3"/><path class="tk" d="M692.1 0.0h7M712.3 0.0h-7"/><text class="cl" x="713.3" y="8.5">1.5</text><path class="tk" d="M692.1 139.5h7M712.3 139.5h-7"/><text class="cl" x="713.3" y="148.0">1</text><path class="tk" d="M692.1 279.0h7M712.3 279.0h-7"/><text class="cl" x="713.3" y="287.5">0.5</text><path class="tk" d="M692.1 418.5h7M712.3 418.5h-7"/><text class="cl" x="713.3" y="427.0">0</text></g><g transform="translate(938.5 1534.7)"><clipPath id="cp938_1534"><rect width="671.5" height="418.5"/></clipPath><g clip-path="url(#cp938_1534)"><rect width="671.5" height="418.5" fill="#fff"/><g transform="scale(10.3308 10.3308)" fill="none" stroke-width="1.06" shape-rendering="crispEdges"><path stroke="#e85b24" d="M10 31.5h2"/><path stroke="#f07230" d="M25 29.5h1"/><path stroke="#f68a3c" d="M24 29.5h1m1 0h1m-16 1h1m1 0h1"/><path stroke="#fba248" d="M12 29.5h1m1 1h1m10 0h1m-14 1h1m12 0h1"/><path stroke="#ffb459" d="M26 27.5h1m-3 1h4m-18 1h1m2 0h2m8 0h1m-14 1h1m1 0h1m9 0h1m1 0h1m1 0h1m-22 1h1m3 0h1m3 0h2m11 0h1m-22 1h1m7 0h1m-12 1h1"/><path stroke="#ffbd71" d="M19 27.5h1m4 0h2m2 0h1m-10 1h1m3 0h1m-13 1h1m3 0h2m3 0h2m5 0h1m-23 1h1m3 0h1m-9 1h1m1 0h1m2 0h2m7 0h2m4 0h1m-22 1h2m4 0h2m2 0h3m-13 1h1m8 0h1"/><path stroke="#ffc788" d="M24 26.5h3m-10 1h2m8 0h1m-13 1h1m2 0h1m3 0h1m-1 1h1m-17 1h1m1 0h1m6 0h2m2 0h1m7 0h1m-24 1h1m3 0h1m13 0h3m-23 1h2m5 0h1m-9 1h1m1 0h1m6 0h2"/><path stroke="#ffd0a0" d="M47 15.5h1m-21 11h2m1 0h1m-2 1h1m-10 1h2m6 0h2m-13 1h1m1 0h1m9 0h1m-27 1h2m2 0h1m9 0h1m2 0h2m1 0h1m-22 1h1m14 0h1m-14 1h1m17 0h1m3 0h1m-23 1h2m1 0h1m5 0h1m-14 1h6"/><path stroke="#ffd3b1" d="M45 15.5h1m14 6h1m3 0h1m-40 4h1m1 0h2m-7 1h1m6 0h1m-10 1h4m6 0h1m-18 1h2m1 0h2m-11 1h1m1 0h1m8 0h1m-18 1h1m27 0h1m-12 1h2m8 0h1m-21 1h1m5 0h2m5 0h1m1 0h3m1 0h1m-22 1h1m1 0h1m11 0h1m-14 1h1"/><path stroke="#ffd7c1" d="M49 13.5h1m-4 2h1m16 2h1m0 1h1m-8 3h3m1 0h3m-38 4h1m2 0h2m-12 1h3m1 0h1m-9 1h2m14 0h1m-22 1h1m1 0h1m17 0h1m-23 1h1m19 0h1m-27 1h1m15 0h1m-19 1h1m19 0h1m6 0h1m-12 1h1m3 0h1m-9 1h1m8 0h1m-16 1h1m2 0h3m-11 1h1m1 0h2"/><path stroke="#ffdad2" d="M41 12.5h1m1 1h1m6 0h1m-6 1h1m1 0h1m14 3h1m-2 1h2m-2 1h1m-4 1h1m-18 1h1m14 0h1m0 1h1m1 0h1m-29 1h1m6 0h1m-11 1h1m-8 1h1m1 0h2m-10 1h2m1 0h1m-5 1h1m17 0h1m-26 1h1m1 0h1m21 0h1m-28 1h3m23 0h1m-3 1h1m1 0h1m-14 2h1m4 1h2m1 0h1m-18 1h1m3 0h1m-11 1h1m2 0h1"/><path stroke="#ffdedc" d="M27 9.5h1m-2 1h1m2 0h1m12 1h1m-1 2h1m2 0h1m2 0h1m2 0h6m-13 1h1m1 0h1m1 0h2m2 0h2m2 0h1m-13 1h1m3 0h1m-7 1h2m1 0h2m11 0h1m2 0h1m-6 1h1m1 0h4m2 0h1m-5 1h1m-21 2h1m1 0h1m11 0h3m2 0h1m1 0h2m1 0h1m-26 1h1m14 0h2m-23 1h1m22 0h1m1 0h1m3 0h2m-24 1h1m16 0h1m-29 1h1m4 0h1m-17 1h1m12 0h2m-1 1h1m-21 1h2m-6 1h1m2 0h1m-9 1h1m29 0h1m-34 1h1m28 1h2m-12 1h1m-6 1h4m6 0h1m2 0h1m-28 2h1m5 0h1m2 0h1m-8 1h2m1 0h2"/><path stroke="#ffe1e6" d="M25 9.5h1m-1 1h1m2 0h1m-4 1h3m15 0h1m-2 1h3m3 0h1m1 0h1m1 0h1m-9 1h1m12 0h2m-17 1h2m6 0h2m2 0h1m-12 1h1m5 0h1m1 0h1m2 0h1m2 0h2m4 0h1m-20 1h1m3 0h1m8 0h1m1 0h1m3 0h2m-21 1h1m5 0h1m6 0h1m-17 1h1m6 0h1m1 0h1m4 0h1m2 0h2m3 0h1m-23 1h1m8 0h2m3 0h3m5 0h1m-23 1h1m8 0h1m9 0h1m2 0h1m-24 1h1m1 0h1m8 0h1m-11 1h1m8 0h1m3 0h1m9 0h1m-35 1h1m1 0h2m1 0h1m3 0h1m14 0h3m1 0h1m1 0h1m-31 1h2m4 0h1m3 0h1m16 0h1m-41 2h1m16 0h1m-28 1h1m2 0h1m-7 1h1m1 0h1m25 0h1m-31 1h1m28 0h1m-1 1h1m-14 2h1m10 0h1m-12 1h1m7 0h1m-14 1h3m9 0h1m-18 1h1m2 0h1m-8 1h1m2 0h1m-4 1h1"/><path stroke="#ffe4f0" d="M37 1.5h1m11 0h1m12 0h1m-27 1h1m2 0h1m1 0h1m5 0h1m-12 1h1m4 0h1m-20 3h1m-2 1h1m1 0h2m-2 1h1m2 0h1m-1 1h1m15 1h1m1 0h1m-22 1h2m3 0h2m6 0h1m2 0h1m1 0h1m7 0h1m-13 1h1m11 0h1m4 0h1m1 0h1m1 0h1m-26 1h1m12 0h2m11 0h1m4 0h1m-26 1h1m1 0h1m13 0h1m1 0h1m5 0h2m-25 1h1m1 0h1m7 0h1m1 0h1m2 0h1m6 0h1m1 0h1m-24 1h1m5 0h1m1 0h1m1 0h2m7 0h1m1 0h1m-23 1h2m1 0h1m1 0h1m1 0h1m4 0h1m-13 1h1m2 0h1m7 0h1m5 0h1m-18 1h1m1 0h1m1 0h1m3 0h1m3 0h1m6 0h2m1 0h1m-20 1h1m5 0h1m3 0h1m3 0h1m-27 1h1m5 0h2m8 0h3m2 0h2m-24 1h1m3 0h1m2 0h3m11 0h1m3 0h1m4 0h2m-34 1h1m7 0h1m22 0h1m-34 1h2m4 0h2m19 0h1m-38 1h1m2 0h2m1 0h1m11 0h2m-26 1h1m2 0h1m17 0h1m1 0h1m2 0h1m-29 1h2m1 0h1m-11 1h1m1 0h1m29 0h1m-33 1h1m30 0h1m-1 1h2m-3 1h1m-2 1h1m-3 1h2m-14 1h1m3 0h2m1 0h1m4 0h1m-22 1h1m2 0h1m2 0h1m10 0h1m-13 1h1m-8 1h1"/><path stroke="#ffe8fa" d="M52 0.5h1m-12 1h1m1 0h1m6 0h1m8 0h1m3 0h1m-27 1h2m1 0h1m-4 1h1m1 0h2m-20 3h1m1 0h1m1 0h1m-1 1h3m-3 1h1m3 0h1m-6 1h1m3 0h2m-6 1h1m2 0h1m11 0h1m12 0h1m-23 1h1m9 0h1m7 0h1m2 0h1m-28 1h1m4 0h1m6 0h1m3 0h1m10 0h1m1 0h1m1 0h1m3 0h1m-19 1h1m18 0h1m1 0h2m-24 1h1m18 0h4m-31 1h1m8 0h1m11 0h1m2 0h1m2 0h3m-22 1h1m12 0h2m1 0h1m-19 1h1m3 0h1m6 0h1m1 0h1m3 0h1m-17 1h1m2 0h1m1 0h3m2 0h1m2 0h3m-12 1h1m2 0h1m6 0h2m3 0h1m5 0h1m-26 1h1m4 0h1m2 0h2m2 0h2m-19 1h2m14 0h1m-23 1h1m3 0h1m3 0h1m3 0h1m8 0h1m2 0h2m-25 1h1m4 0h1m6 0h2m8 0h3m7 0h1m-42 1h2m1 0h3m9 0h1m2 0h1m15 0h1m1 0h1m1 0h3m-47 1h1m2 0h1m15 0h1m2 0h1m3 0h1m10 0h2m6 0h1m-46 1h1m22 0h1m16 0h1m-51 1h2m27 0h2m-35 1h1m1 0h1m2 0h1m28 0h2m-36 1h1m33 0h1m14 1h1m-17 1h1m-6 1h1m-10 1h1m10 0h1m-14 1h1m4 0h1m3 0h2m1 0h1m-18 1h1m7 0h1m-21 1h2m8 0h1"/><path stroke="#ffeefb" d="M38 0.5h1m1 0h2m6 0h2m3 0h2m5 0h1m1 0h2m-28 1h1m2 0h1m6 0h1m1 0h1m4 0h1m4 0h1m1 0h2m-28 1h2m13 0h1m1 0h1m12 0h1m-30 1h1m2 0h1m4 0h1m7 0h1m-24 1h1m-8 1h1m-2 1h1m3 0h1m-7 1h1m1 0h1m1 1h1m1 0h1m2 0h2m1 0h2m6 0h1m-17 1h2m15 0h3m2 0h1m-22 1h1m13 0h2m1 0h2m1 0h1m1 0h1m4 0h1m-19 1h1m2 0h1m8 0h3m5 0h1m1 0h3m-34 1h1m1 0h1m1 0h1m7 0h1m9 0h3m9 0h1m2 0h1m2 0h1m-42 1h1m7 0h1m6 0h1m2 0h1m20 0h1m-31 1h1m1 0h1m3 0h2m-3 1h4m-1 1h1m10 0h1m4 0h1m-19 1h1m1 0h1m6 0h1m1 0h1m4 0h2m-8 1h1m8 0h1m-10 1h1m1 0h1m-13 1h2m-10 1h1m2 0h2m9 0h1m-13 1h1m10 0h2m-7 1h1m6 0h1m3 0h1m1 0h1m11 0h1m1 0h1m-46 1h1m2 0h1m14 0h1m1 0h1m1 0h2m12 0h1m6 0h2m-49 1h1m21 0h1m1 0h1m1 0h1m11 0h2m1 0h2m2 0h1m3 0h1m-61 1h3m1 0h1m26 0h1m2 0h2m10 0h1m2 0h1m3 0h1m2 0h2m2 0h1m-65 1h1m5 0h1m29 0h1m1 0h1m-2 1h1m1 0h1m-5 1h1m2 0h1m-4 1h1m-4 1h1m-2 1h2m1 0h1m-17 2h2m4 0h1m5 0h1m-17 1h1m8 0h1m2 0h3m-18 1h1m1 0h1m-12 1h1m3 0h1m55 3h1"/><path stroke="#fff4fc" d="M14 0.5h1m3 0h1m14 0h4m5 0h3m2 0h1m3 0h1m4 0h1m1 0h2m4 0h1m-62 1h1m28 0h4m2 0h1m1 0h1m3 0h2m1 0h1m3 0h1m2 0h1m2 0h1m6 0h1m-35 1h1m1 0h2m8 0h5m5 0h1m1 0h1m3 0h3m2 0h1m-33 1h2m1 0h1m9 0h1m3 0h3m12 0h1m-43 1h1m2 0h1m7 0h2m1 0h1m1 0h1m1 0h1m24 0h1m-47 1h1m6 0h1m-9 1h1m1 0h1m6 0h4m1 0h1m-10 1h1m5 0h2m6 0h1m1 0h1m1 0h1m9 0h1m11 0h1m-43 1h1m19 0h1m1 0h1m12 0h1m-37 1h1m12 0h1m3 0h1m5 0h1m-21 1h1m7 0h1m1 0h1m2 0h1m15 0h1m1 0h1m1 0h2m-35 1h1m8 0h1m1 0h2m12 0h1m2 0h1m2 0h1m6 0h1m-35 1h1m1 0h1m1 0h1m2 0h2m3 0h1m23 0h1m1 0h1m-44 1h1m5 0h3m5 0h1m2 0h2m-17 1h2m1 0h1m-4 1h2m8 0h1m-10 1h1m7 0h1m3 0h1m1 0h1m-15 1h1m10 0h1m-14 1h1m2 0h1m11 0h2m-1 1h2m5 0h1m-19 1h1m2 0h5m11 0h1m-20 1h2m7 0h1m7 0h1m-16 1h1m5 0h1m10 0h1m1 0h1m-27 1h1m3 0h2m15 0h1m1 0h1m1 0h1m1 0h1m13 0h1m-48 1h1m1 0h1m29 0h5m8 0h1m2 0h1m-27 1h1m3 0h1m5 0h1m1 0h1m4 0h1m2 0h1m3 0h2m-62 1h1m6 0h1m1 0h2m35 0h1m2 0h2m2 0h1m7 0h1m-62 1h2m33 0h1m2 0h1m2 0h1m8 0h1m2 0h1m-20 1h1m1 0h1m8 0h1m-12 1h2m2 0h1m8 0h1m-16 1h1m1 0h2m14 0h1m2 0h1m-20 1h1m10 0h1m14 0h1m-32 2h2m-18 2h2m1 0h1m2 0h2m2 0h1m5 0h1m-24 1h2m4 0h1m7 0h1m2 0h2m-24 1h1m3 0h1m3 0h1m-10 1h2m59 1h1m-1 1h2"/><path stroke="#fff9fe" d="M15 0.5h1m4 0h3m8 0h2m4 0h1m1 0h1m5 0h2m3 0h1m4 0h1m5 0h1m-41 1h1m1 0h2m1 0h1m1 0h2m1 0h1m24 0h1m-39 1h2m2 0h1m5 0h1m2 0h1m16 0h1m1 0h1m2 0h1m1 0h1m1 0h1m3 0h2m-47 1h2m3 0h1m1 0h2m1 0h1m2 0h2m2 0h1m8 0h1m2 0h3m4 0h2m7 0h1m2 0h1m-46 1h1m6 0h1m3 0h2m4 0h1m1 0h1m1 0h1m17 0h1m-43 1h1m2 0h2m2 0h1m5 0h1m4 0h1m1 0h2m13 0h1m2 0h1m-39 1h1m1 0h1m16 0h1m4 0h1m10 0h1m4 0h1m-41 1h1m2 0h1m10 0h3m1 0h1m2 0h1m15 0h2m3 0h1m1 0h1m-40 1h1m10 0h2m2 0h2m3 0h1m9 0h1m-34 1h1m1 0h2m8 0h2m3 0h1m2 0h1m4 0h1m1 0h2m3 0h2m2 0h1m6 0h1m-41 1h1m9 0h1m1 0h2m1 0h1m9 0h3m5 0h1m5 0h1m-24 1h2m18 0h1m1 0h1m2 0h3m-46 1h2m1 0h1m8 0h1m7 0h1m-17 1h1m1 0h1m5 0h2m1 0h1m-14 1h2m6 0h2m1 0h1m1 0h2m22 0h1m-37 1h1m6 0h1m1 0h1m2 0h1m-13 1h2m5 0h3m1 0h1m-12 1h2m2 0h1m-4 1h1m6 0h1m3 0h1m-14 1h1m5 0h2m-1 1h1m6 0h1m9 0h1m-20 1h1m3 0h1m14 0h1m-19 1h1m19 0h1m-27 1h1m1 0h2m21 0h1m0 1h1m-37 1h2m31 0h1m16 0h1m-62 1h2m38 0h2m3 0h1m10 0h1m1 0h2m2 0h1m-28 1h1m3 0h1m4 0h4m2 0h2m1 0h1m3 0h2m1 0h2m1 0h2m-24 1h2m8 0h1m2 0h1m6 0h2m-24 1h1m1 0h1m5 0h2m4 0h1m1 0h1m2 0h1m4 0h2m-27 1h2m8 0h1m9 0h1m-25 1h1m3 0h1m9 0h1m12 0h1m-29 1h1m3 0h1m-7 2h2m-16 1h1m12 0h1m-16 1h1m8 0h1m2 0h3m-29 1h1m6 0h3m-10 1h1m3 0h2m1 0h1m-6 1h1m58 0h1m-63 1h4m56 0h1"/><path stroke="#ffffff" d="M3 0.5h1m19 0h1m2 0h4m27 0h1m-53 1h1m7 0h2m1 0h1m5 0h1m4 0h1m2 0h1m11 0h1m9 0h1m2 0h1m-42 1h1m1 0h2m3 0h1m1 0h2m2 0h1m1 0h1m26 0h1m-42 1h1m3 0h2m4 0h1m1 0h1m26 0h2m4 0h1m1 0h1m-48 1h1m1 0h1m2 0h1m1 0h1m4 0h1m6 0h1m7 0h1m4 0h2m1 0h3m2 0h1m1 0h1m1 0h1m-43 1h1m4 0h1m1 0h1m1 0h1m1 0h1m1 0h4m1 0h1m3 0h1m1 0h1m11 0h1m1 0h1m-22 1h1m1 0h1m4 0h1m6 0h3m1 0h1m4 0h2m2 0h1m-27 1h1m5 0h1m6 0h2m1 0h1m3 0h1m3 0h1m1 0h1m2 0h1m-48 1h1m1 0h1m14 0h2m3 0h1m3 0h1m1 0h2m1 0h1m1 0h1m2 0h2m1 0h1m1 0h2m1 0h1m-29 1h2m2 0h1m9 0h2m3 0h2m1 0h2m1 0h3m2 0h1m-44 1h1m28 0h1m7 0h3m1 0h3m-44 1h1m40 0h1m-41 1h1m39 0h1m-42 1h1m3 0h1m11 0h1m-17 1h1m4 0h1m1 0h2m7 0h1m-16 1h1m3 0h2m1 0h1m1 0h1m4 0h1m-16 1h2m3 0h1m1 0h2m6 0h1m1 0h1m-13 1h1m1 0h3m1 0h4m1 0h1m-16 1h1m2 0h1m1 0h2m5 0h1m-9 1h2m2 0h2m2 0h5m-17 1h1m7 0h1m6 0h1m-18 1h2m1 0h1m2 0h1m-7 1h1m1 0h1m4 0h1m17 0h2m-28 1h3m4 0h1m-9 1h1m25 0h1m2 0h1m-41 1h1m2 0h1m3 0h1m29 0h1m1 0h3m1 0h1m-47 1h1m3 0h1m34 0h1m1 0h1m1 0h1m2 0h1m-49 1h1m46 0h1m5 0h1m-11 1h1m3 0h1m1 0h1m1 0h2m1 0h1m1 0h2m1 0h1m2 0h2m-23 1h2m1 0h1m4 0h3m1 0h1m1 0h1m2 0h1m2 0h1m-20 1h2m5 0h1m2 0h2m2 0h1m2 0h1m2 0h1m-29 1h1m1 0h1m11 0h1m1 0h2m2 0h1m3 0h2m3 0h1m-30 1h1m2 0h1m5 0h1m2 0h1m2 0h1m11 0h3m-32 1h2m27 0h1m-44 2h1m9 0h1m2 0h1m-13 1h2m1 0h1m6 0h1m-31 1h1m25 0h1m36 0h2m-65 1h1m3 0h1m2 0h1m55 0h2m-65 1h3m1 0h3m57 0h1m-59 1h1"/><path stroke="#f7ffff" d="M4 0.5h1m7 0h2m2 0h1m2 0h1m4 0h2m4 0h1m-14 1h4m4 0h1m-6 1h1m4 0h1m-8 1h1m3 0h1m5 0h1m27 0h4m-44 1h1m1 0h1m4 0h1m1 0h1m3 0h1m11 0h1m1 0h2m8 0h2m5 0h3m-49 1h1m23 0h1m3 0h1m3 0h1m1 0h1m1 0h1m5 0h3m4 0h1m-49 1h1m14 0h1m1 0h1m4 0h3m3 0h1m9 0h3m3 0h1m3 0h2m-48 1h1m15 0h1m5 0h1m2 0h1m9 0h1m3 0h2m5 0h1m-46 1h1m25 0h1m4 0h1m2 0h1m4 0h1m2 0h1m1 0h3m-16 1h1m7 0h1m4 0h1m1 0h1m-1 1h1m-44 1h1m36 0h1m-27 1h1m-7 1h1m-8 1h1m7 1h1m-2 1h1m7 0h1m-17 1h1m1 0h2m-2 1h1m7 0h2m1 0h2m2 0h2m-17 1h1m3 0h1m6 0h1m-7 1h1m-8 1h1m27 0h1m-27 1h1m1 0h1m1 0h2m18 2h2m-46 1h6m4 0h1m32 1h1m3 0h1m1 1h1m6 0h1m2 0h1m2 0h1m-23 1h1m2 0h1m1 0h2m9 0h1m2 0h1m-14 1h1m13 0h2m-22 1h1m5 0h2m8 0h1m2 0h1m1 0h1m2 0h1m-26 1h2m3 0h3m3 0h1m2 0h2m2 0h2m4 0h1m-28 1h1m8 0h2m1 0h2m3 0h1m1 0h2m4 0h1m-27 1h1m11 0h1m15 0h2m-32 1h2m29 0h1m-49 2h1m6 1h1m1 0h1m1 0h1m2 0h1m-24 2h2m-5 1h2m1 0h2m52 0h1"/><path stroke="#f0ffff" d="M1 0.5h1m4 0h2m2 0h2m5 0h1m-16 1h1m1 0h1m4 0h2m1 0h1m2 0h1m-13 1h1m9 0h1m1 0h1m10 0h1m-21 1h1m38 1h1m10 0h1m6 0h1m-51 1h1m1 0h1m11 0h1m15 0h1m1 0h1m6 0h1m6 0h4m1 0h1m-32 1h1m8 0h1m3 0h1m13 0h1m-46 1h1m27 0h1m3 0h1m-32 1h1m2 2h1m-1 1h1m-1 2h1m0 2h1m-2 2h1m10 0h1m-9 2h2m-4 1h1m1 0h3m1 0h1m-6 1h1m1 0h2m-2 1h1m-8 1h1m-3 1h2m-9 1h2m32 2h2m6 1h1m-6 1h1m12 0h1m-17 1h2m2 0h1m5 0h1m10 0h1m-22 1h1m1 0h1m12 0h1m-17 1h1m11 0h1m1 0h1m3 0h1m1 0h1m-25 1h3m6 0h2m1 0h4m-14 1h2m22 0h1m1 1h1m-47 1h2m11 0h3m28 0h1m-51 1h3m7 0h1m6 0h1m1 0h1m30 0h1m-54 1h1m14 0h2m1 0h1m34 0h1m-39 1h3m33 0h2m-53 1h1m19 0h1m29 0h1"/><path stroke="#e8ffff" d="M0 0.5h1m7 0h2m-2 1h1m-7 1h1m1 0h1m2 1h2m4 0h1m-2 1h2m32 0h1m2 0h1m-44 1h2m32 0h1m3 0h1m4 0h1m-37 1h2m29 0h1m2 0h1m14 0h1m-60 1h1m8 0h1m1 0h1m29 0h3m0 1h1m-32 1h1m-2 1h1m2 0h1m-2 1h2m-1 2h1m-1 1h1m-2 1h3m-1 1h1m-2 2h2m-2 1h2m12 0h1m-15 1h2m-3 1h1m0 1h1m-2 1h1m-15 1h2m8 0h1m25 8h1m1 0h1m1 0h1m13 0h1m2 1h2m-25 1h1m9 0h3m13 0h1m-31 1h2m5 0h2m-25 1h1m2 1h2m2 0h1m3 0h1m4 0h1m-23 1h1m1 0h1m12 0h1m11 0h1m22 0h1m-53 1h2m16 0h1m12 0h1m18 0h1m-33 1h2m10 0h1m18 0h1"/><path stroke="#e0ffff" d="M2 0.5h1m2 0h1m-6 1h1m10 0h1m-11 1h1m3 0h1m5 0h2m-9 1h2m4 0h1m1 0h1m1 0h1m-12 1h4m1 0h1m5 0h1m-11 1h1m4 0h1m37 0h1m-47 1h1m2 0h1m2 0h1m5 1h1m1 1h1m-1 1h1m1 0h1m-1 1h1m-1 2h1m-1 2h1m-2 2h1m-1 1h1m0 2h1m-1 1h1m-2 2h2m-3 1h1m-11 1h2m2 0h1m1 0h1m30 7h1m-1 1h1m8 0h1m7 0h1m-21 1h1m3 0h2m11 0h1m-21 1h1m3 0h1m1 0h2m1 0h2m3 0h1m10 0h1m-27 1h1m3 0h1m7 0h1m13 0h3m-18 1h1m16 0h2m-50 1h2m18 0h1m4 0h1m20 0h1m-52 1h1m17 0h2m1 0h2m-5 1h1m3 0h1m4 0h1m1 0h1m1 0h2m15 0h1m-49 1h1m13 0h3m8 0h1m1 0h1m2 0h1m6 0h1m9 0h1"/><path stroke="#d5fefe" d="M1 1.5h1m4 0h2m-8 1h1m5 0h3m1 0h1m-9 1h2m5 0h1m1 0h1m-5 1h1m1 0h3m-12 1h1m2 0h1m1 0h1m5 0h2m-10 1h1m1 0h1m4 0h1m1 0h1m32 0h1m-46 1h1m1 0h1m1 0h1m-3 1h1m11 0h1m1 2h1m-1 4h1m-1 1h1m0 1h2m-4 1h1m1 0h1m-1 1h1m-17 6h1m5 0h1m2 0h1m29 9h3m9 0h1m4 0h1m-23 1h1m5 0h1m2 0h1m6 0h1m8 0h1m-24 1h2m3 0h1m1 0h2m2 0h2m-16 1h1m2 0h2m1 0h3m2 0h1m-14 1h1m1 0h1m1 0h3m4 0h1m16 0h1m-49 1h1m10 0h1m6 0h1m2 0h1m5 0h1m2 0h2m16 0h1m-32 1h1m8 0h1m9 0h1m-19 1h2m6 0h1m2 0h1m1 0h1m2 0h1m1 0h1"/><path stroke="#cafcfe" d="M9 2.5h1m-9 1h1m-1 1h2m-1 1h1m5 0h1m1 0h1m-9 1h1m5 0h2m1 0h1m-11 1h1m3 0h2m1 0h1m-9 1h2m11 0h1m-14 1h1m2 0h1m9 0h1m2 2h1m-2 1h1m2 0h1m-2 1h1m-2 5h1m-2 3h1m-2 1h2m-2 1h1m-15 1h1m1 0h1m5 0h1m3 0h1m40 9h1m1 0h1m2 0h1m-13 2h1m13 0h1m-25 1h1m2 0h1m3 0h1m17 0h1m-45 1h3m19 0h1m2 0h1m-29 1h1m6 0h2m13 0h1m3 0h2m2 0h1m-34 1h1m18 0h2m2 0h3m6 0h1m8 0h1m3 0h2m-47 1h1m21 0h2m1 0h1m5 0h1m1 0h2m3 0h1m6 0h1"/><path stroke="#bffbfd" d="M0 3.5h1m-1 1h1m0 1h1m4 1h1m3 1h2m-9 1h3m-4 1h1m9 0h1m1 0h1m0 2h1m-2 1h1m0 1h2m-3 1h2m-1 1h1m-1 1h1m0 3h1m-3 1h3m-4 1h2m1 0h1m-10 2h1m46 10h1m4 0h1m-24 2h1m6 0h1m-9 1h1m8 0h1m2 0h2m11 0h1m-46 2h1m18 0h2m1 0h1m7 0h1m1 0h2m9 0h2m-48 1h1m10 0h1m9 0h1m11 0h1m1 0h1m6 0h1m-32 1h1m30 0h2"/><path stroke="#b4fafc" d="M0 6.5h1m6 1h1m1 0h1m-2 1h1m1 0h3m-12 1h1m3 0h1m1 0h1m-5 1h1m4 0h1m4 0h2m-1 1h1m1 1h1m-4 1h2m-1 4h1m0 1h1m-1 1h1m-4 2h1m0 1h1m-13 1h2m2 0h2m5 0h2m38 11h2m2 0h1m1 0h2m-10 1h2m7 0h1m-10 1h1m8 0h1m-19 1h1m2 0h6m-30 1h1m36 0h1m-14 1h1m1 0h1m3 0h1m-19 1h1m17 0h2"/><path stroke="#aaf3fb" d="M6 8.5h2m-4 1h1m3 0h1m2 0h1m-12 1h2m12 5h1m-1 1h1m-2 2h1m-1 1h1m-1 1h1m-14 1h1m8 0h1m1 0h1m-11 1h1m2 0h1m1 0h1m5 0h1m-13 1h1m3 0h1m3 0h2m1 0h1m42 11h1m-3 1h2m-5 1h1m0 1h1m7 0h2m-44 1h2m1 0h1m26 0h1m2 0h1m1 0h2m-40 1h1m7 0h2m26 0h1m1 0h1m3 0h1m-44 1h1m1 0h1m6 0h2m29 0h2"/><path stroke="#a0ecfa" d="M9 8.5h1m-4 1h1m2 0h2m-9 1h1m1 0h4m1 0h2m1 0h1m-12 1h1m2 0h1m1 0h1m5 0h2m-10 1h1m7 0h1m-12 1h3m-3 1h3m9 0h1m-14 1h1m-1 1h1m-1 1h1m11 0h1m1 1h1m-4 1h2m1 0h1m-15 1h1m1 1h1m5 0h1m-4 1h1m1 0h1m1 0h2m-8 1h1m6 0h1m44 11h1m1 0h1m-7 2h2m4 1h1m-3 1h2m-43 1h1m1 0h1m36 0h1"/><path stroke="#96d8fa" d="M11 10.5h1m-10 1h2m1 0h1m2 0h2m1 0h1m-11 1h2m2 0h1m1 0h1m-4 1h1m7 0h1m-13 1h1m12 1h1m-13 1h1m11 0h1m-13 1h1m-1 1h1m10 0h1m-5 1h1m1 0h1m-2 1h4m-8 1h1m-6 1h1m1 0h1m5 0h1m2 0h1m42 13h1m-2 1h1m-3 1h2m-35 1h1m31 0h1m2 0h2m-42 2h1m6 0h1"/><path stroke="#8cc4fa" d="M0 11.5h1m6 0h1m2 0h1m-11 1h1m2 0h1m2 0h1m1 0h4m1 0h1m-3 2h2m-12 1h2m9 0h1m-1 1h1m-11 1h1m10 0h1m-7 3h2m-8 1h1m8 0h1m-8 1h1m51 13h1m1 0h1m0 1h1m-5 1h3m-42 2h1m1 0h1m2 0h1m-6 1h1m3 0h1"/><path stroke="#7db0f9" d="M0 13.5h1m5 0h1m2 0h1m1 0h1m-8 1h1m6 1h1m-10 1h1m6 0h3m-3 1h1m1 0h1m-12 1h1m1 0h1m6 0h1m1 0h1m-11 1h1m4 0h1m2 0h1m-4 1h1m-4 1h1m2 0h1m49 14h1m1 0h1m-5 1h1m1 0h2m-5 1h1m-36 2h2m-4 1h2"/><path stroke="#6f9cf7" d="M5 13.5h1m1 0h2m1 0h1m-8 2h2m-1 2h1m5 0h1m-8 1h1m1 0h1m1 0h2m1 0h1m-11 1h1m1 0h1m1 0h2m1 0h1m-7 1h1m2 0h1m2 1h1"/><path stroke="#6088f6" d="M5 14.5h1m4 0h1m-1 1h1m-8 1h2m2 1h2m-7 3h1m1 1h1m50 15h1m-38 4h1"/><path stroke="#486af1" d="M7 14.5h3m-4 2h1m1 0h1m-6 1h1m1 0h1m0 1h1m-4 1h1m-1 1h1m1 0h1"/><path stroke="#314ced" d="M6 14.5h1m-2 1h2m0 1h1m-2 1h1"/><path stroke="#273ad9" d="M8 15.5h2m-5 1h1m-2 2h1"/><path stroke="#1a1caa" d="M7 15.5h1"/></g><path class="gc" d="M206.6 0.0h10.3v10.3h-10.3zM216.9 0.0h10.3v10.3h-10.3zM237.6 0.0h10.3v10.3h-10.3zM247.9 0.0h10.3v10.3h-10.3zM278.9 0.0h10.3v10.3h-10.3zM289.3 0.0h10.3v10.3h-10.3zM299.6 0.0h10.3v10.3h-10.3zM309.9 0.0h10.3v10.3h-10.3zM320.3 0.0h10.3v10.3h-10.3zM330.6 0.0h10.3v10.3h-10.3zM340.9 0.0h10.3v10.3h-10.3zM351.2 0.0h10.3v10.3h-10.3zM361.6 0.0h10.3v10.3h-10.3zM371.9 0.0h10.3v10.3h-10.3zM382.2 0.0h10.3v10.3h-10.3zM392.6 0.0h10.3v10.3h-10.3zM402.9 0.0h10.3v10.3h-10.3zM413.2 0.0h10.3v10.3h-10.3zM423.6 0.0h10.3v10.3h-10.3zM433.9 0.0h10.3v10.3h-10.3zM444.2 0.0h10.3v10.3h-10.3zM454.6 0.0h10.3v10.3h-10.3zM464.9 0.0h10.3v10.3h-10.3zM475.2 0.0h10.3v10.3h-10.3zM485.5 0.0h10.3v10.3h-10.3zM495.9 0.0h10.3v10.3h-10.3zM506.2 0.0h10.3v10.3h-10.3zM516.5 0.0h10.3v10.3h-10.3zM526.9 0.0h10.3v10.3h-10.3zM547.5 0.0h10.3v10.3h-10.3zM557.9 0.0h10.3v10.3h-10.3zM568.2 0.0h10.3v10.3h-10.3zM578.5 0.0h10.3v10.3h-10.3zM588.9 0.0h10.3v10.3h-10.3zM609.5 0.0h10.3v10.3h-10.3zM619.8 0.0h10.3v10.3h-10.3zM630.2 0.0h10.3v10.3h-10.3zM640.5 0.0h10.3v10.3h-10.3zM650.8 0.0h10.3v10.3h-10.3zM661.2 0.0h10.3v10.3h-10.3zM206.6 10.3h10.3v10.3h-10.3zM216.9 10.3h10.3v10.3h-10.3zM227.3 10.3h10.3v10.3h-10.3zM247.9 10.3h10.3v10.3h-10.3zM278.9 10.3h10.3v10.3h-10.3zM289.3 10.3h10.3v10.3h-10.3zM309.9 10.3h10.3v10.3h-10.3zM320.3 10.3h10.3v10.3h-10.3zM330.6 10.3h10.3v10.3h-10.3zM340.9 10.3h10.3v10.3h-10.3zM351.2 10.3h10.3v10.3h-10.3zM361.6 10.3h10.3v10.3h-10.3zM371.9 10.3h10.3v10.3h-10.3zM382.2 10.3h10.3v10.3h-10.3zM392.6 10.3h10.3v10.3h-10.3zM402.9 10.3h10.3v10.3h-10.3zM413.2 10.3h10.3v10.3h-10.3zM423.6 10.3h10.3v10.3h-10.3zM433.9 10.3h10.3v10.3h-10.3zM444.2 10.3h10.3v10.3h-10.3zM454.6 10.3h10.3v10.3h-10.3zM464.9 10.3h10.3v10.3h-10.3zM475.2 10.3h10.3v10.3h-10.3zM485.5 10.3h10.3v10.3h-10.3zM495.9 10.3h10.3v10.3h-10.3zM506.2 10.3h10.3v10.3h-10.3zM516.5 10.3h10.3v10.3h-10.3zM526.9 10.3h10.3v10.3h-10.3zM537.2 10.3h10.3v10.3h-10.3zM547.5 10.3h10.3v10.3h-10.3zM557.9 10.3h10.3v10.3h-10.3zM568.2 10.3h10.3v10.3h-10.3zM578.5 10.3h10.3v10.3h-10.3zM588.9 10.3h10.3v10.3h-10.3zM599.2 10.3h10.3v10.3h-10.3zM609.5 10.3h10.3v10.3h-10.3zM619.8 10.3h10.3v10.3h-10.3zM630.2 10.3h10.3v10.3h-10.3zM640.5 10.3h10.3v10.3h-10.3zM650.8 10.3h10.3v10.3h-10.3zM661.2 10.3h10.3v10.3h-10.3zM278.9 20.7h10.3v10.3h-10.3zM289.3 20.7h10.3v10.3h-10.3zM299.6 20.7h10.3v10.3h-10.3zM309.9 20.7h10.3v10.3h-10.3zM320.3 20.7h10.3v10.3h-10.3zM330.6 20.7h10.3v10.3h-10.3zM340.9 20.7h10.3v10.3h-10.3zM351.2 20.7h10.3v10.3h-10.3zM361.6 20.7h10.3v10.3h-10.3zM371.9 20.7h10.3v10.3h-10.3zM382.2 20.7h10.3v10.3h-10.3zM392.6 20.7h10.3v10.3h-10.3zM402.9 20.7h10.3v10.3h-10.3zM413.2 20.7h10.3v10.3h-10.3zM423.6 20.7h10.3v10.3h-10.3zM578.5 20.7h10.3v10.3h-10.3zM588.9 20.7h10.3v10.3h-10.3zM599.2 20.7h10.3v10.3h-10.3zM609.5 20.7h10.3v10.3h-10.3zM619.8 20.7h10.3v10.3h-10.3zM630.2 20.7h10.3v10.3h-10.3zM640.5 20.7h10.3v10.3h-10.3zM650.8 20.7h10.3v10.3h-10.3zM661.2 20.7h10.3v10.3h-10.3zM278.9 31.0h10.3v10.3h-10.3zM299.6 31.0h10.3v10.3h-10.3zM309.9 31.0h10.3v10.3h-10.3zM320.3 31.0h10.3v10.3h-10.3zM330.6 31.0h10.3v10.3h-10.3zM340.9 31.0h10.3v10.3h-10.3zM351.2 31.0h10.3v10.3h-10.3zM361.6 31.0h10.3v10.3h-10.3zM371.9 31.0h10.3v10.3h-10.3zM382.2 31.0h10.3v10.3h-10.3zM392.6 31.0h10.3v10.3h-10.3zM402.9 31.0h10.3v10.3h-10.3zM413.2 31.0h10.3v10.3h-10.3zM423.6 31.0h10.3v10.3h-10.3zM578.5 31.0h10.3v10.3h-10.3zM588.9 31.0h10.3v10.3h-10.3zM599.2 31.0h10.3v10.3h-10.3zM619.8 31.0h10.3v10.3h-10.3zM630.2 31.0h10.3v10.3h-10.3zM640.5 31.0h10.3v10.3h-10.3zM650.8 31.0h10.3v10.3h-10.3zM661.2 31.0h10.3v10.3h-10.3zM206.6 41.3h10.3v10.3h-10.3zM216.9 41.3h10.3v10.3h-10.3zM227.3 41.3h10.3v10.3h-10.3zM247.9 41.3h10.3v10.3h-10.3zM278.9 41.3h10.3v10.3h-10.3zM289.3 41.3h10.3v10.3h-10.3zM299.6 41.3h10.3v10.3h-10.3zM309.9 41.3h10.3v10.3h-10.3zM320.3 41.3h10.3v10.3h-10.3zM330.6 41.3h10.3v10.3h-10.3zM340.9 41.3h10.3v10.3h-10.3zM351.2 41.3h10.3v10.3h-10.3zM206.6 51.7h10.3v10.3h-10.3zM216.9 51.7h10.3v10.3h-10.3zM227.3 51.7h10.3v10.3h-10.3zM237.6 51.7h10.3v10.3h-10.3zM247.9 51.7h10.3v10.3h-10.3zM278.9 51.7h10.3v10.3h-10.3zM289.3 51.7h10.3v10.3h-10.3zM299.6 51.7h10.3v10.3h-10.3zM309.9 51.7h10.3v10.3h-10.3zM330.6 51.7h10.3v10.3h-10.3zM340.9 51.7h10.3v10.3h-10.3zM351.2 51.7h10.3v10.3h-10.3zM537.2 62.0h10.3v10.3h-10.3zM547.5 62.0h10.3v10.3h-10.3zM557.9 62.0h10.3v10.3h-10.3zM640.5 62.0h10.3v10.3h-10.3zM650.8 62.0h10.3v10.3h-10.3zM661.2 62.0h10.3v10.3h-10.3zM537.2 72.3h10.3v10.3h-10.3zM547.5 72.3h10.3v10.3h-10.3zM557.9 72.3h10.3v10.3h-10.3zM650.8 72.3h10.3v10.3h-10.3zM661.2 72.3h10.3v10.3h-10.3zM433.9 103.3h10.3v10.3h-10.3zM444.2 103.3h10.3v10.3h-10.3zM454.6 103.3h10.3v10.3h-10.3zM516.5 103.3h10.3v10.3h-10.3zM526.9 103.3h10.3v10.3h-10.3zM537.2 103.3h10.3v10.3h-10.3zM547.5 103.3h10.3v10.3h-10.3zM557.9 103.3h10.3v10.3h-10.3zM433.9 113.6h10.3v10.3h-10.3zM444.2 113.6h10.3v10.3h-10.3zM454.6 113.6h10.3v10.3h-10.3zM516.5 113.6h10.3v10.3h-10.3zM526.9 113.6h10.3v10.3h-10.3zM537.2 113.6h10.3v10.3h-10.3zM547.5 113.6h10.3v10.3h-10.3zM557.9 113.6h10.3v10.3h-10.3zM433.9 124.0h10.3v10.3h-10.3zM444.2 124.0h10.3v10.3h-10.3zM454.6 124.0h10.3v10.3h-10.3zM485.5 124.0h10.3v10.3h-10.3zM495.9 124.0h10.3v10.3h-10.3zM506.2 124.0h10.3v10.3h-10.3zM516.5 124.0h10.3v10.3h-10.3zM526.9 124.0h10.3v10.3h-10.3zM537.2 124.0h10.3v10.3h-10.3zM547.5 124.0h10.3v10.3h-10.3zM557.9 124.0h10.3v10.3h-10.3zM568.2 124.0h10.3v10.3h-10.3zM578.5 124.0h10.3v10.3h-10.3zM588.9 124.0h10.3v10.3h-10.3zM599.2 124.0h10.3v10.3h-10.3zM609.5 124.0h10.3v10.3h-10.3zM650.8 124.0h10.3v10.3h-10.3zM661.2 124.0h10.3v10.3h-10.3zM433.9 134.3h10.3v10.3h-10.3zM444.2 134.3h10.3v10.3h-10.3zM454.6 134.3h10.3v10.3h-10.3zM485.5 134.3h10.3v10.3h-10.3zM495.9 134.3h10.3v10.3h-10.3zM506.2 134.3h10.3v10.3h-10.3zM526.9 134.3h10.3v10.3h-10.3zM537.2 134.3h10.3v10.3h-10.3zM547.5 134.3h10.3v10.3h-10.3zM557.9 134.3h10.3v10.3h-10.3zM568.2 134.3h10.3v10.3h-10.3zM588.9 134.3h10.3v10.3h-10.3zM599.2 134.3h10.3v10.3h-10.3zM609.5 134.3h10.3v10.3h-10.3zM640.5 134.3h10.3v10.3h-10.3zM650.8 134.3h10.3v10.3h-10.3zM661.2 134.3h10.3v10.3h-10.3zM413.2 144.6h10.3v10.3h-10.3zM423.6 144.6h10.3v10.3h-10.3zM433.9 144.6h10.3v10.3h-10.3zM444.2 144.6h10.3v10.3h-10.3zM454.6 144.6h10.3v10.3h-10.3zM464.9 144.6h10.3v10.3h-10.3zM475.2 144.6h10.3v10.3h-10.3zM485.5 144.6h10.3v10.3h-10.3zM495.9 144.6h10.3v10.3h-10.3zM506.2 144.6h10.3v10.3h-10.3zM516.5 144.6h10.3v10.3h-10.3zM526.9 144.6h10.3v10.3h-10.3zM537.2 144.6h10.3v10.3h-10.3zM547.5 144.6h10.3v10.3h-10.3zM557.9 144.6h10.3v10.3h-10.3zM568.2 144.6h10.3v10.3h-10.3zM578.5 144.6h10.3v10.3h-10.3zM640.5 144.6h10.3v10.3h-10.3zM650.8 144.6h10.3v10.3h-10.3zM661.2 144.6h10.3v10.3h-10.3zM413.2 155.0h10.3v10.3h-10.3zM423.6 155.0h10.3v10.3h-10.3zM433.9 155.0h10.3v10.3h-10.3zM444.2 155.0h10.3v10.3h-10.3zM454.6 155.0h10.3v10.3h-10.3zM464.9 155.0h10.3v10.3h-10.3zM475.2 155.0h10.3v10.3h-10.3zM485.5 155.0h10.3v10.3h-10.3zM495.9 155.0h10.3v10.3h-10.3zM506.2 155.0h10.3v10.3h-10.3zM516.5 155.0h10.3v10.3h-10.3zM526.9 155.0h10.3v10.3h-10.3zM537.2 155.0h10.3v10.3h-10.3zM547.5 155.0h10.3v10.3h-10.3zM557.9 155.0h10.3v10.3h-10.3zM568.2 155.0h10.3v10.3h-10.3zM578.5 155.0h10.3v10.3h-10.3zM640.5 155.0h10.3v10.3h-10.3zM650.8 155.0h10.3v10.3h-10.3zM661.2 155.0h10.3v10.3h-10.3zM20.7 165.3h10.3v10.3h-10.3zM31.0 165.3h10.3v10.3h-10.3zM41.3 165.3h10.3v10.3h-10.3zM103.3 165.3h10.3v10.3h-10.3zM113.6 165.3h10.3v10.3h-10.3zM413.2 165.3h10.3v10.3h-10.3zM423.6 165.3h10.3v10.3h-10.3zM433.9 165.3h10.3v10.3h-10.3zM444.2 165.3h10.3v10.3h-10.3zM454.6 165.3h10.3v10.3h-10.3zM464.9 165.3h10.3v10.3h-10.3zM475.2 165.3h10.3v10.3h-10.3zM568.2 165.3h10.3v10.3h-10.3zM578.5 165.3h10.3v10.3h-10.3zM588.9 165.3h10.3v10.3h-10.3zM599.2 165.3h10.3v10.3h-10.3zM609.5 165.3h10.3v10.3h-10.3zM619.8 165.3h10.3v10.3h-10.3zM630.2 165.3h10.3v10.3h-10.3zM640.5 165.3h10.3v10.3h-10.3zM650.8 165.3h10.3v10.3h-10.3zM661.2 165.3h10.3v10.3h-10.3zM20.7 175.6h10.3v10.3h-10.3zM31.0 175.6h10.3v10.3h-10.3zM41.3 175.6h10.3v10.3h-10.3zM103.3 175.6h10.3v10.3h-10.3zM113.6 175.6h10.3v10.3h-10.3zM413.2 175.6h10.3v10.3h-10.3zM423.6 175.6h10.3v10.3h-10.3zM433.9 175.6h10.3v10.3h-10.3zM444.2 175.6h10.3v10.3h-10.3zM454.6 175.6h10.3v10.3h-10.3zM464.9 175.6h10.3v10.3h-10.3zM475.2 175.6h10.3v10.3h-10.3zM568.2 175.6h10.3v10.3h-10.3zM578.5 175.6h10.3v10.3h-10.3zM588.9 175.6h10.3v10.3h-10.3zM599.2 175.6h10.3v10.3h-10.3zM609.5 175.6h10.3v10.3h-10.3zM619.8 175.6h10.3v10.3h-10.3zM630.2 175.6h10.3v10.3h-10.3zM640.5 175.6h10.3v10.3h-10.3zM650.8 175.6h10.3v10.3h-10.3zM661.2 175.6h10.3v10.3h-10.3zM51.7 186.0h10.3v10.3h-10.3zM62.0 186.0h10.3v10.3h-10.3zM103.3 186.0h10.3v10.3h-10.3zM113.6 186.0h10.3v10.3h-10.3zM124.0 186.0h10.3v10.3h-10.3zM134.3 186.0h10.3v10.3h-10.3zM144.6 186.0h10.3v10.3h-10.3zM330.6 186.0h10.3v10.3h-10.3zM340.9 186.0h10.3v10.3h-10.3zM351.2 186.0h10.3v10.3h-10.3zM392.6 186.0h10.3v10.3h-10.3zM402.9 186.0h10.3v10.3h-10.3zM413.2 186.0h10.3v10.3h-10.3zM423.6 186.0h10.3v10.3h-10.3zM433.9 186.0h10.3v10.3h-10.3zM444.2 186.0h10.3v10.3h-10.3zM454.6 186.0h10.3v10.3h-10.3zM464.9 186.0h10.3v10.3h-10.3zM475.2 186.0h10.3v10.3h-10.3zM485.5 186.0h10.3v10.3h-10.3zM495.9 186.0h10.3v10.3h-10.3zM516.5 186.0h10.3v10.3h-10.3zM526.9 186.0h10.3v10.3h-10.3zM537.2 186.0h10.3v10.3h-10.3zM547.5 186.0h10.3v10.3h-10.3zM557.9 186.0h10.3v10.3h-10.3zM568.2 186.0h10.3v10.3h-10.3zM578.5 186.0h10.3v10.3h-10.3zM588.9 186.0h10.3v10.3h-10.3zM599.2 186.0h10.3v10.3h-10.3zM609.5 186.0h10.3v10.3h-10.3zM51.7 196.3h10.3v10.3h-10.3zM62.0 196.3h10.3v10.3h-10.3zM103.3 196.3h10.3v10.3h-10.3zM113.6 196.3h10.3v10.3h-10.3zM124.0 196.3h10.3v10.3h-10.3zM134.3 196.3h10.3v10.3h-10.3zM330.6 196.3h10.3v10.3h-10.3zM340.9 196.3h10.3v10.3h-10.3zM351.2 196.3h10.3v10.3h-10.3zM392.6 196.3h10.3v10.3h-10.3zM402.9 196.3h10.3v10.3h-10.3zM413.2 196.3h10.3v10.3h-10.3zM423.6 196.3h10.3v10.3h-10.3zM433.9 196.3h10.3v10.3h-10.3zM444.2 196.3h10.3v10.3h-10.3zM454.6 196.3h10.3v10.3h-10.3zM464.9 196.3h10.3v10.3h-10.3zM475.2 196.3h10.3v10.3h-10.3zM485.5 196.3h10.3v10.3h-10.3zM495.9 196.3h10.3v10.3h-10.3zM506.2 196.3h10.3v10.3h-10.3zM516.5 196.3h10.3v10.3h-10.3zM526.9 196.3h10.3v10.3h-10.3zM547.5 196.3h10.3v10.3h-10.3zM557.9 196.3h10.3v10.3h-10.3zM568.2 196.3h10.3v10.3h-10.3zM578.5 196.3h10.3v10.3h-10.3zM588.9 196.3h10.3v10.3h-10.3zM599.2 196.3h10.3v10.3h-10.3zM609.5 196.3h10.3v10.3h-10.3zM72.3 206.6h10.3v10.3h-10.3zM82.6 206.6h10.3v10.3h-10.3zM93.0 206.6h10.3v10.3h-10.3zM103.3 206.6h10.3v10.3h-10.3zM113.6 206.6h10.3v10.3h-10.3zM124.0 206.6h10.3v10.3h-10.3zM134.3 206.6h10.3v10.3h-10.3zM144.6 206.6h10.3v10.3h-10.3zM309.9 206.6h10.3v10.3h-10.3zM320.3 206.6h10.3v10.3h-10.3zM330.6 206.6h10.3v10.3h-10.3zM340.9 206.6h10.3v10.3h-10.3zM351.2 206.6h10.3v10.3h-10.3zM361.6 206.6h10.3v10.3h-10.3zM371.9 206.6h10.3v10.3h-10.3zM382.2 206.6h10.3v10.3h-10.3zM392.6 206.6h10.3v10.3h-10.3zM402.9 206.6h10.3v10.3h-10.3zM413.2 206.6h10.3v10.3h-10.3zM423.6 206.6h10.3v10.3h-10.3zM433.9 206.6h10.3v10.3h-10.3zM444.2 206.6h10.3v10.3h-10.3zM454.6 206.6h10.3v10.3h-10.3zM485.5 206.6h10.3v10.3h-10.3zM495.9 206.6h10.3v10.3h-10.3zM506.2 206.6h10.3v10.3h-10.3zM516.5 206.6h10.3v10.3h-10.3zM526.9 206.6h10.3v10.3h-10.3zM568.2 206.6h10.3v10.3h-10.3zM578.5 206.6h10.3v10.3h-10.3zM588.9 206.6h10.3v10.3h-10.3zM599.2 206.6h10.3v10.3h-10.3zM619.8 206.6h10.3v10.3h-10.3zM630.2 206.6h10.3v10.3h-10.3zM640.5 206.6h10.3v10.3h-10.3zM661.2 206.6h10.3v10.3h-10.3zM72.3 216.9h10.3v10.3h-10.3zM82.6 216.9h10.3v10.3h-10.3zM93.0 216.9h10.3v10.3h-10.3zM103.3 216.9h10.3v10.3h-10.3zM113.6 216.9h10.3v10.3h-10.3zM124.0 216.9h10.3v10.3h-10.3zM134.3 216.9h10.3v10.3h-10.3zM144.6 216.9h10.3v10.3h-10.3zM309.9 216.9h10.3v10.3h-10.3zM320.3 216.9h10.3v10.3h-10.3zM330.6 216.9h10.3v10.3h-10.3zM340.9 216.9h10.3v10.3h-10.3zM351.2 216.9h10.3v10.3h-10.3zM361.6 216.9h10.3v10.3h-10.3zM371.9 216.9h10.3v10.3h-10.3zM382.2 216.9h10.3v10.3h-10.3zM392.6 216.9h10.3v10.3h-10.3zM402.9 216.9h10.3v10.3h-10.3zM413.2 216.9h10.3v10.3h-10.3zM423.6 216.9h10.3v10.3h-10.3zM433.9 216.9h10.3v10.3h-10.3zM444.2 216.9h10.3v10.3h-10.3zM454.6 216.9h10.3v10.3h-10.3zM485.5 216.9h10.3v10.3h-10.3zM495.9 216.9h10.3v10.3h-10.3zM506.2 216.9h10.3v10.3h-10.3zM516.5 216.9h10.3v10.3h-10.3zM526.9 216.9h10.3v10.3h-10.3zM568.2 216.9h10.3v10.3h-10.3zM578.5 216.9h10.3v10.3h-10.3zM588.9 216.9h10.3v10.3h-10.3zM599.2 216.9h10.3v10.3h-10.3zM609.5 216.9h10.3v10.3h-10.3zM619.8 216.9h10.3v10.3h-10.3zM630.2 216.9h10.3v10.3h-10.3zM640.5 216.9h10.3v10.3h-10.3zM650.8 216.9h10.3v10.3h-10.3zM661.2 216.9h10.3v10.3h-10.3zM72.3 227.3h10.3v10.3h-10.3zM82.6 227.3h10.3v10.3h-10.3zM93.0 227.3h10.3v10.3h-10.3zM103.3 227.3h10.3v10.3h-10.3zM113.6 227.3h10.3v10.3h-10.3zM124.0 227.3h10.3v10.3h-10.3zM134.3 227.3h10.3v10.3h-10.3zM144.6 227.3h10.3v10.3h-10.3zM309.9 227.3h10.3v10.3h-10.3zM330.6 227.3h10.3v10.3h-10.3zM351.2 227.3h10.3v10.3h-10.3zM361.6 227.3h10.3v10.3h-10.3zM371.9 227.3h10.3v10.3h-10.3zM382.2 227.3h10.3v10.3h-10.3zM392.6 227.3h10.3v10.3h-10.3zM402.9 227.3h10.3v10.3h-10.3zM413.2 227.3h10.3v10.3h-10.3zM423.6 227.3h10.3v10.3h-10.3zM433.9 227.3h10.3v10.3h-10.3zM444.2 227.3h10.3v10.3h-10.3zM454.6 227.3h10.3v10.3h-10.3zM485.5 227.3h10.3v10.3h-10.3zM495.9 227.3h10.3v10.3h-10.3zM516.5 227.3h10.3v10.3h-10.3zM526.9 227.3h10.3v10.3h-10.3zM568.2 227.3h10.3v10.3h-10.3zM578.5 227.3h10.3v10.3h-10.3zM588.9 227.3h10.3v10.3h-10.3zM599.2 227.3h10.3v10.3h-10.3zM609.5 227.3h10.3v10.3h-10.3zM619.8 227.3h10.3v10.3h-10.3zM630.2 227.3h10.3v10.3h-10.3zM640.5 227.3h10.3v10.3h-10.3zM650.8 227.3h10.3v10.3h-10.3zM661.2 227.3h10.3v10.3h-10.3zM103.3 237.6h10.3v10.3h-10.3zM113.6 237.6h10.3v10.3h-10.3zM124.0 237.6h10.3v10.3h-10.3zM134.3 237.6h10.3v10.3h-10.3zM144.6 237.6h10.3v10.3h-10.3zM278.9 237.6h10.3v10.3h-10.3zM289.3 237.6h10.3v10.3h-10.3zM299.6 237.6h10.3v10.3h-10.3zM309.9 237.6h10.3v10.3h-10.3zM320.3 237.6h10.3v10.3h-10.3zM340.9 237.6h10.3v10.3h-10.3zM351.2 237.6h10.3v10.3h-10.3zM361.6 237.6h10.3v10.3h-10.3zM371.9 237.6h10.3v10.3h-10.3zM382.2 237.6h10.3v10.3h-10.3zM392.6 237.6h10.3v10.3h-10.3zM402.9 237.6h10.3v10.3h-10.3zM516.5 237.6h10.3v10.3h-10.3zM526.9 237.6h10.3v10.3h-10.3zM537.2 237.6h10.3v10.3h-10.3zM547.5 237.6h10.3v10.3h-10.3zM568.2 237.6h10.3v10.3h-10.3zM578.5 237.6h10.3v10.3h-10.3zM588.9 237.6h10.3v10.3h-10.3zM599.2 237.6h10.3v10.3h-10.3zM609.5 237.6h10.3v10.3h-10.3zM103.3 247.9h10.3v10.3h-10.3zM113.6 247.9h10.3v10.3h-10.3zM124.0 247.9h10.3v10.3h-10.3zM134.3 247.9h10.3v10.3h-10.3zM144.6 247.9h10.3v10.3h-10.3zM278.9 247.9h10.3v10.3h-10.3zM289.3 247.9h10.3v10.3h-10.3zM299.6 247.9h10.3v10.3h-10.3zM330.6 247.9h10.3v10.3h-10.3zM340.9 247.9h10.3v10.3h-10.3zM351.2 247.9h10.3v10.3h-10.3zM361.6 247.9h10.3v10.3h-10.3zM371.9 247.9h10.3v10.3h-10.3zM382.2 247.9h10.3v10.3h-10.3zM392.6 247.9h10.3v10.3h-10.3zM402.9 247.9h10.3v10.3h-10.3zM516.5 247.9h10.3v10.3h-10.3zM526.9 247.9h10.3v10.3h-10.3zM537.2 247.9h10.3v10.3h-10.3zM547.5 247.9h10.3v10.3h-10.3zM557.9 247.9h10.3v10.3h-10.3zM568.2 247.9h10.3v10.3h-10.3zM578.5 247.9h10.3v10.3h-10.3zM588.9 247.9h10.3v10.3h-10.3zM599.2 247.9h10.3v10.3h-10.3zM609.5 247.9h10.3v10.3h-10.3zM0.0 258.3h10.3v10.3h-10.3zM10.3 258.3h10.3v10.3h-10.3zM20.7 258.3h10.3v10.3h-10.3zM31.0 258.3h10.3v10.3h-10.3zM41.3 258.3h10.3v10.3h-10.3zM155.0 258.3h10.3v10.3h-10.3zM206.6 258.3h10.3v10.3h-10.3zM216.9 258.3h10.3v10.3h-10.3zM227.3 258.3h10.3v10.3h-10.3zM237.6 258.3h10.3v10.3h-10.3zM247.9 258.3h10.3v10.3h-10.3zM258.3 258.3h10.3v10.3h-10.3zM268.6 258.3h10.3v10.3h-10.3zM278.9 258.3h10.3v10.3h-10.3zM289.3 258.3h10.3v10.3h-10.3zM299.6 258.3h10.3v10.3h-10.3zM309.9 258.3h10.3v10.3h-10.3zM320.3 258.3h10.3v10.3h-10.3zM330.6 258.3h10.3v10.3h-10.3zM340.9 258.3h10.3v10.3h-10.3zM351.2 258.3h10.3v10.3h-10.3zM361.6 258.3h10.3v10.3h-10.3zM371.9 258.3h10.3v10.3h-10.3zM516.5 258.3h10.3v10.3h-10.3zM526.9 258.3h10.3v10.3h-10.3zM0.0 268.6h10.3v10.3h-10.3zM10.3 268.6h10.3v10.3h-10.3zM20.7 268.6h10.3v10.3h-10.3zM31.0 268.6h10.3v10.3h-10.3zM41.3 268.6h10.3v10.3h-10.3zM155.0 268.6h10.3v10.3h-10.3zM165.3 268.6h10.3v10.3h-10.3zM206.6 268.6h10.3v10.3h-10.3zM216.9 268.6h10.3v10.3h-10.3zM227.3 268.6h10.3v10.3h-10.3zM237.6 268.6h10.3v10.3h-10.3zM247.9 268.6h10.3v10.3h-10.3zM258.3 268.6h10.3v10.3h-10.3zM268.6 268.6h10.3v10.3h-10.3zM278.9 268.6h10.3v10.3h-10.3zM289.3 268.6h10.3v10.3h-10.3zM299.6 268.6h10.3v10.3h-10.3zM309.9 268.6h10.3v10.3h-10.3zM320.3 268.6h10.3v10.3h-10.3zM330.6 268.6h10.3v10.3h-10.3zM340.9 268.6h10.3v10.3h-10.3zM361.6 268.6h10.3v10.3h-10.3zM371.9 268.6h10.3v10.3h-10.3zM382.2 268.6h10.3v10.3h-10.3zM516.5 268.6h10.3v10.3h-10.3zM526.9 268.6h10.3v10.3h-10.3zM20.7 278.9h10.3v10.3h-10.3zM31.0 278.9h10.3v10.3h-10.3zM41.3 278.9h10.3v10.3h-10.3zM51.7 278.9h10.3v10.3h-10.3zM62.0 278.9h10.3v10.3h-10.3zM103.3 278.9h10.3v10.3h-10.3zM113.6 278.9h10.3v10.3h-10.3zM124.0 278.9h10.3v10.3h-10.3zM134.3 278.9h10.3v10.3h-10.3zM144.6 278.9h10.3v10.3h-10.3zM155.0 278.9h10.3v10.3h-10.3zM165.3 278.9h10.3v10.3h-10.3zM175.6 278.9h10.3v10.3h-10.3zM186.0 278.9h10.3v10.3h-10.3zM196.3 278.9h10.3v10.3h-10.3zM206.6 278.9h10.3v10.3h-10.3zM216.9 278.9h10.3v10.3h-10.3zM227.3 278.9h10.3v10.3h-10.3zM237.6 278.9h10.3v10.3h-10.3zM247.9 278.9h10.3v10.3h-10.3zM258.3 278.9h10.3v10.3h-10.3zM268.6 278.9h10.3v10.3h-10.3zM278.9 278.9h10.3v10.3h-10.3zM289.3 278.9h10.3v10.3h-10.3zM299.6 278.9h10.3v10.3h-10.3zM309.9 278.9h10.3v10.3h-10.3zM320.3 278.9h10.3v10.3h-10.3zM330.6 278.9h10.3v10.3h-10.3zM340.9 278.9h10.3v10.3h-10.3zM351.2 278.9h10.3v10.3h-10.3zM361.6 278.9h10.3v10.3h-10.3zM371.9 278.9h10.3v10.3h-10.3zM382.2 278.9h10.3v10.3h-10.3zM516.5 278.9h10.3v10.3h-10.3zM588.9 278.9h10.3v10.3h-10.3zM599.2 278.9h10.3v10.3h-10.3zM609.5 278.9h10.3v10.3h-10.3zM20.7 289.3h10.3v10.3h-10.3zM31.0 289.3h10.3v10.3h-10.3zM41.3 289.3h10.3v10.3h-10.3zM51.7 289.3h10.3v10.3h-10.3zM62.0 289.3h10.3v10.3h-10.3zM103.3 289.3h10.3v10.3h-10.3zM113.6 289.3h10.3v10.3h-10.3zM124.0 289.3h10.3v10.3h-10.3zM134.3 289.3h10.3v10.3h-10.3zM144.6 289.3h10.3v10.3h-10.3zM155.0 289.3h10.3v10.3h-10.3zM165.3 289.3h10.3v10.3h-10.3zM175.6 289.3h10.3v10.3h-10.3zM186.0 289.3h10.3v10.3h-10.3zM196.3 289.3h10.3v10.3h-10.3zM206.6 289.3h10.3v10.3h-10.3zM216.9 289.3h10.3v10.3h-10.3zM227.3 289.3h10.3v10.3h-10.3zM237.6 289.3h10.3v10.3h-10.3zM247.9 289.3h10.3v10.3h-10.3zM258.3 289.3h10.3v10.3h-10.3zM268.6 289.3h10.3v10.3h-10.3zM278.9 289.3h10.3v10.3h-10.3zM289.3 289.3h10.3v10.3h-10.3zM299.6 289.3h10.3v10.3h-10.3zM309.9 289.3h10.3v10.3h-10.3zM320.3 289.3h10.3v10.3h-10.3zM330.6 289.3h10.3v10.3h-10.3zM340.9 289.3h10.3v10.3h-10.3zM351.2 289.3h10.3v10.3h-10.3zM361.6 289.3h10.3v10.3h-10.3zM371.9 289.3h10.3v10.3h-10.3zM382.2 289.3h10.3v10.3h-10.3zM516.5 289.3h10.3v10.3h-10.3zM526.9 289.3h10.3v10.3h-10.3zM588.9 289.3h10.3v10.3h-10.3zM599.2 289.3h10.3v10.3h-10.3zM609.5 289.3h10.3v10.3h-10.3zM0.0 299.6h10.3v10.3h-10.3zM10.3 299.6h10.3v10.3h-10.3zM20.7 299.6h10.3v10.3h-10.3zM31.0 299.6h10.3v10.3h-10.3zM41.3 299.6h10.3v10.3h-10.3zM62.0 299.6h10.3v10.3h-10.3zM72.3 299.6h10.3v10.3h-10.3zM82.6 299.6h10.3v10.3h-10.3zM103.3 299.6h10.3v10.3h-10.3zM113.6 299.6h10.3v10.3h-10.3zM124.0 299.6h10.3v10.3h-10.3zM134.3 299.6h10.3v10.3h-10.3zM144.6 299.6h10.3v10.3h-10.3zM155.0 299.6h10.3v10.3h-10.3zM165.3 299.6h10.3v10.3h-10.3zM175.6 299.6h10.3v10.3h-10.3zM186.0 299.6h10.3v10.3h-10.3zM196.3 299.6h10.3v10.3h-10.3zM206.6 299.6h10.3v10.3h-10.3zM216.9 299.6h10.3v10.3h-10.3zM227.3 299.6h10.3v10.3h-10.3zM237.6 299.6h10.3v10.3h-10.3zM247.9 299.6h10.3v10.3h-10.3zM258.3 299.6h10.3v10.3h-10.3zM268.6 299.6h10.3v10.3h-10.3zM278.9 299.6h10.3v10.3h-10.3zM289.3 299.6h10.3v10.3h-10.3zM299.6 299.6h10.3v10.3h-10.3zM309.9 299.6h10.3v10.3h-10.3zM320.3 299.6h10.3v10.3h-10.3zM485.5 299.6h10.3v10.3h-10.3zM495.9 299.6h10.3v10.3h-10.3zM506.2 299.6h10.3v10.3h-10.3zM0.0 309.9h10.3v10.3h-10.3zM10.3 309.9h10.3v10.3h-10.3zM20.7 309.9h10.3v10.3h-10.3zM31.0 309.9h10.3v10.3h-10.3zM41.3 309.9h10.3v10.3h-10.3zM51.7 309.9h10.3v10.3h-10.3zM62.0 309.9h10.3v10.3h-10.3zM72.3 309.9h10.3v10.3h-10.3zM82.6 309.9h10.3v10.3h-10.3zM93.0 309.9h10.3v10.3h-10.3zM103.3 309.9h10.3v10.3h-10.3zM113.6 309.9h10.3v10.3h-10.3zM124.0 309.9h10.3v10.3h-10.3zM134.3 309.9h10.3v10.3h-10.3zM144.6 309.9h10.3v10.3h-10.3zM155.0 309.9h10.3v10.3h-10.3zM165.3 309.9h10.3v10.3h-10.3zM175.6 309.9h10.3v10.3h-10.3zM186.0 309.9h10.3v10.3h-10.3zM196.3 309.9h10.3v10.3h-10.3zM206.6 309.9h10.3v10.3h-10.3zM216.9 309.9h10.3v10.3h-10.3zM237.6 309.9h10.3v10.3h-10.3zM247.9 309.9h10.3v10.3h-10.3zM268.6 309.9h10.3v10.3h-10.3zM278.9 309.9h10.3v10.3h-10.3zM289.3 309.9h10.3v10.3h-10.3zM299.6 309.9h10.3v10.3h-10.3zM309.9 309.9h10.3v10.3h-10.3zM320.3 309.9h10.3v10.3h-10.3zM495.9 309.9h10.3v10.3h-10.3zM506.2 309.9h10.3v10.3h-10.3zM0.0 320.3h10.3v10.3h-10.3zM10.3 320.3h10.3v10.3h-10.3zM20.7 320.3h10.3v10.3h-10.3zM31.0 320.3h10.3v10.3h-10.3zM41.3 320.3h10.3v10.3h-10.3zM51.7 320.3h10.3v10.3h-10.3zM62.0 320.3h10.3v10.3h-10.3zM72.3 320.3h10.3v10.3h-10.3zM82.6 320.3h10.3v10.3h-10.3zM93.0 320.3h10.3v10.3h-10.3zM103.3 320.3h10.3v10.3h-10.3zM113.6 320.3h10.3v10.3h-10.3zM124.0 320.3h10.3v10.3h-10.3zM134.3 320.3h10.3v10.3h-10.3zM144.6 320.3h10.3v10.3h-10.3zM155.0 320.3h10.3v10.3h-10.3zM165.3 320.3h10.3v10.3h-10.3zM175.6 320.3h10.3v10.3h-10.3zM186.0 320.3h10.3v10.3h-10.3zM196.3 320.3h10.3v10.3h-10.3zM206.6 320.3h10.3v10.3h-10.3zM216.9 320.3h10.3v10.3h-10.3zM227.3 320.3h10.3v10.3h-10.3zM237.6 320.3h10.3v10.3h-10.3zM247.9 320.3h10.3v10.3h-10.3zM258.3 320.3h10.3v10.3h-10.3zM268.6 320.3h10.3v10.3h-10.3zM278.9 320.3h10.3v10.3h-10.3zM289.3 320.3h10.3v10.3h-10.3zM299.6 320.3h10.3v10.3h-10.3zM309.9 320.3h10.3v10.3h-10.3zM320.3 320.3h10.3v10.3h-10.3zM0.0 330.6h10.3v10.3h-10.3zM20.7 330.6h10.3v10.3h-10.3zM31.0 330.6h10.3v10.3h-10.3zM41.3 330.6h10.3v10.3h-10.3zM51.7 330.6h10.3v10.3h-10.3zM62.0 330.6h10.3v10.3h-10.3zM72.3 330.6h10.3v10.3h-10.3zM82.6 330.6h10.3v10.3h-10.3zM93.0 330.6h10.3v10.3h-10.3zM103.3 330.6h10.3v10.3h-10.3zM113.6 330.6h10.3v10.3h-10.3zM124.0 330.6h10.3v10.3h-10.3zM134.3 330.6h10.3v10.3h-10.3zM144.6 330.6h10.3v10.3h-10.3zM155.0 330.6h10.3v10.3h-10.3zM165.3 330.6h10.3v10.3h-10.3zM175.6 330.6h10.3v10.3h-10.3zM186.0 330.6h10.3v10.3h-10.3zM196.3 330.6h10.3v10.3h-10.3zM216.9 330.6h10.3v10.3h-10.3zM227.3 330.6h10.3v10.3h-10.3zM247.9 330.6h10.3v10.3h-10.3zM258.3 330.6h10.3v10.3h-10.3zM268.6 330.6h10.3v10.3h-10.3zM278.9 330.6h10.3v10.3h-10.3zM289.3 330.6h10.3v10.3h-10.3zM299.6 330.6h10.3v10.3h-10.3zM309.9 330.6h10.3v10.3h-10.3zM320.3 330.6h10.3v10.3h-10.3zM0.0 340.9h10.3v10.3h-10.3zM10.3 340.9h10.3v10.3h-10.3zM20.7 340.9h10.3v10.3h-10.3zM31.0 340.9h10.3v10.3h-10.3zM41.3 340.9h10.3v10.3h-10.3zM51.7 340.9h10.3v10.3h-10.3zM62.0 340.9h10.3v10.3h-10.3zM72.3 340.9h10.3v10.3h-10.3zM82.6 340.9h10.3v10.3h-10.3zM93.0 340.9h10.3v10.3h-10.3zM103.3 340.9h10.3v10.3h-10.3zM113.6 340.9h10.3v10.3h-10.3zM134.3 340.9h10.3v10.3h-10.3zM144.6 340.9h10.3v10.3h-10.3zM175.6 340.9h10.3v10.3h-10.3zM186.0 340.9h10.3v10.3h-10.3zM196.3 340.9h10.3v10.3h-10.3zM206.6 340.9h10.3v10.3h-10.3zM216.9 340.9h10.3v10.3h-10.3zM227.3 340.9h10.3v10.3h-10.3zM237.6 340.9h10.3v10.3h-10.3zM247.9 340.9h10.3v10.3h-10.3zM258.3 340.9h10.3v10.3h-10.3zM268.6 340.9h10.3v10.3h-10.3zM0.0 351.2h10.3v10.3h-10.3zM10.3 351.2h10.3v10.3h-10.3zM41.3 351.2h10.3v10.3h-10.3zM51.7 351.2h10.3v10.3h-10.3zM62.0 351.2h10.3v10.3h-10.3zM82.6 351.2h10.3v10.3h-10.3zM93.0 351.2h10.3v10.3h-10.3zM103.3 351.2h10.3v10.3h-10.3zM113.6 351.2h10.3v10.3h-10.3zM134.3 351.2h10.3v10.3h-10.3zM144.6 351.2h10.3v10.3h-10.3zM175.6 351.2h10.3v10.3h-10.3zM186.0 351.2h10.3v10.3h-10.3zM196.3 351.2h10.3v10.3h-10.3zM206.6 351.2h10.3v10.3h-10.3zM216.9 351.2h10.3v10.3h-10.3zM227.3 351.2h10.3v10.3h-10.3zM237.6 351.2h10.3v10.3h-10.3zM247.9 351.2h10.3v10.3h-10.3zM258.3 351.2h10.3v10.3h-10.3zM268.6 351.2h10.3v10.3h-10.3zM0.0 361.6h10.3v10.3h-10.3zM10.3 361.6h10.3v10.3h-10.3zM20.7 361.6h10.3v10.3h-10.3zM31.0 361.6h10.3v10.3h-10.3zM41.3 361.6h10.3v10.3h-10.3zM51.7 361.6h10.3v10.3h-10.3zM62.0 361.6h10.3v10.3h-10.3zM72.3 361.6h10.3v10.3h-10.3zM82.6 361.6h10.3v10.3h-10.3zM93.0 361.6h10.3v10.3h-10.3zM103.3 361.6h10.3v10.3h-10.3zM113.6 361.6h10.3v10.3h-10.3zM124.0 361.6h10.3v10.3h-10.3zM144.6 361.6h10.3v10.3h-10.3zM227.3 361.6h10.3v10.3h-10.3zM237.6 361.6h10.3v10.3h-10.3zM247.9 361.6h10.3v10.3h-10.3zM258.3 361.6h10.3v10.3h-10.3zM268.6 361.6h10.3v10.3h-10.3zM289.3 361.6h10.3v10.3h-10.3zM299.6 361.6h10.3v10.3h-10.3zM0.0 371.9h10.3v10.3h-10.3zM10.3 371.9h10.3v10.3h-10.3zM20.7 371.9h10.3v10.3h-10.3zM31.0 371.9h10.3v10.3h-10.3zM41.3 371.9h10.3v10.3h-10.3zM51.7 371.9h10.3v10.3h-10.3zM62.0 371.9h10.3v10.3h-10.3zM72.3 371.9h10.3v10.3h-10.3zM82.6 371.9h10.3v10.3h-10.3zM93.0 371.9h10.3v10.3h-10.3zM103.3 371.9h10.3v10.3h-10.3zM113.6 371.9h10.3v10.3h-10.3zM124.0 371.9h10.3v10.3h-10.3zM134.3 371.9h10.3v10.3h-10.3zM144.6 371.9h10.3v10.3h-10.3zM227.3 371.9h10.3v10.3h-10.3zM237.6 371.9h10.3v10.3h-10.3zM247.9 371.9h10.3v10.3h-10.3zM258.3 371.9h10.3v10.3h-10.3zM268.6 371.9h10.3v10.3h-10.3zM278.9 371.9h10.3v10.3h-10.3zM299.6 371.9h10.3v10.3h-10.3zM258.3 382.2h10.3v10.3h-10.3zM268.6 382.2h10.3v10.3h-10.3zM258.3 392.6h10.3v10.3h-10.3zM268.6 392.6h10.3v10.3h-10.3z"/><path class="co" d="M667.4 420.2L667.9 413.5L666.9 406.8L658.6 393.4L642.1 380.8L629.1 371.6L628.1 364.9L627.6 365.8L614.7 356.6L599.2 344.0L590.9 332.3L588.9 325.6L570.3 319.7L571.3 326.4L585.8 344.0L597.1 358.2L607.4 375.8L613.6 382.5L625.0 388.4L621.9 394.6L616.7 389.2L603.3 381.7L598.2 379.2L599.2 376.7L596.1 374.1L597.1 368.3L585.8 361.6L575.4 357.4L568.2 353.2L576.5 352.4L577.0 346.5L566.1 339.0L557.9 329.8L550.6 320.6L546.5 313.5L544.4 308.9L536.2 303.4L532.0 301.3L523.8 299.6L511.4 297.1L509.3 291.3L496.9 280.4L495.9 276.6L490.7 272.0L494.8 272.0L493.8 267.8L490.7 268.7L485.5 265.3L477.3 257.0L471.6 248.2L474.2 242.7L473.1 234.4L470.0 227.2L474.2 217.6L475.7 199.2L474.2 194.2L468.0 181.2L483.5 182.9L488.6 184.1L491.7 190.0L486.6 191.7L490.7 185.8L492.8 181.6L487.6 175.8L483.5 173.3L470.0 167.4L459.7 163.2L442.2 159.0L434.9 152.3L441.1 150.7L433.9 146.5L423.6 139.8L415.3 142.3L405.0 129.7L415.3 123.9L413.2 118.0L397.7 111.3L377.1 99.6L354.3 85.4L341.9 87.9L327.5 91.2L315.1 85.4L317.2 82.9L297.5 84.5L268.6 83.7L259.3 80.4L245.9 78.7L242.8 74.5L229.3 73.7L223.1 77.0L223.1 82.9L207.6 84.5L189.1 90.4L189.1 84.5L196.3 79.5L210.7 75.3L209.7 71.1L191.1 77.0L176.7 81.2L177.7 86.2L164.3 91.2L165.3 95.4L139.5 106.3L113.6 117.2L82.6 124.7L53.7 130.6L70.2 126.0L86.8 118.9L103.3 117.6L113.6 116.8L114.7 112.2L129.1 103.8L130.2 99.6L135.3 92.9L122.9 94.6L118.8 91.2L115.7 94.6L103.3 92.9L81.6 94.6L85.7 92.9L80.6 80.4L65.1 85.4L51.7 78.7L69.2 77.0L50.6 76.2L41.3 68.6L53.7 62.8L58.9 56.9L80.6 55.2L94.0 52.7L90.9 47.7L95.0 43.5L70.2 46.0L39.3 44.4L35.1 40.2L20.7 36.8L42.4 32.6L59.9 28.5L85.7 28.5L102.3 30.1L83.7 27.2L80.6 25.9L56.8 20.9L35.1 14.2L39.3 10.0L58.9 7.5L75.4 -0.8"/><path class="co" d="M481.4 181.2L468.0 179.5L454.6 173.3L436.0 166.6L429.8 161.1L444.2 162.4L461.8 167.4L475.2 174.1L481.4 181.2"/><path class="co" d="M401.9 150.7L389.5 142.3L381.2 133.1L395.7 133.9L386.4 138.1L394.6 140.6L401.9 150.7"/><path class="co" d="M342.9 95.2L349.8 103.5L347.0 106.3L359.4 115.9L362.2 114.6L356.6 106.3L362.2 103.5"/><path class="co" d="M348.4 92.4L359.4 97.9L366.3 109.1L363.5 111.8L375.9 117.3L378.7 122.9L384.2 124.2"/><path class="co" d="M356.6 91.1L367.7 96.6L378.7 107.6L384.2 111.8L389.8 113.2L400.8 117.3L398.0 124.2L389.8 121.4"/><path class="co" d="M364.9 102.1L373.3 103.5L370.5 109.1L381.5 115.9L378.7 111.8L387.0 117.3"/><path class="co" d="M373.3 117.3L381.5 128.4L384.2 122.9L389.8 125.6L387.0 120.1"/><path class="co" d="M353.9 97.9L362.2 96.6"/><path class="co" d="M360.8 107.6L370.5 105.5"/><path class="co" d="M367.7 113.2L375.9 110.4"/><path class="co" d="M374.6 120.1L384.2 117.3"/><path class="co" d="M384.2 115.9L395.3 115.9"/><path class="co" d="M389.8 118.7L398.0 120.1"/><path class="co" d="M344.2 96.6L353.9 102.1L351.1 96.6"/><path class="co" d="M378.7 117.3L373.3 113.2"/><path class="co" d="M409.1 133.9L417.4 135.6L414.3 138.9L423.6 139.8L421.5 143.1L429.8 144.0L427.7 147.3L436.0 148.1L432.9 151.5L439.1 153.2"/><path class="co" d="M383.3 137.3L396.7 138.1L389.5 142.3L393.6 145.6"/><path class="fi" d="M489.7 182.5L493.8 184.1L493.8 190.0L489.7 192.5L486.6 190.0L489.7 187.5"/><path class="co" d="M158.1 107.1L169.4 101.3L182.9 97.1L184.9 103.8L169.4 108.8L158.1 107.1"/><path class="co" d="M173.6 97.9L181.8 95.0L187.0 97.9L177.7 99.6"/><path class="co" d="M26.9 82.0L39.3 79.9L45.5 83.7L37.2 85.4L26.9 82.0"/><path class="fi" d="M-2.1 54.0L13.4 55.7L-2.1 57.8"/><path class="fi" d="M-2.1 145.2L3.1 143.5L-2.1 143.1"/><path class="fi" d="M12.4 141.9L22.7 138.9L21.7 137.7L11.9 140.6"/><path class="fi" d="M25.8 138.1L38.2 134.8L37.2 133.5L25.3 136.8"/><path class="fi" d="M40.3 133.9L45.5 132.7L44.9 131.4L39.8 132.7"/><path class="fi" d="M48.6 133.1L52.7 132.2L52.2 131.4L48.0 132.2"/><path class="fi" d="M72.3 131.0L77.5 131.4L77.5 129.7L72.3 129.7"/><path class="fi" d="M95.0 123.0L101.2 124.3L109.5 126.4L109.5 125.5L101.2 123.0L95.0 122.2"/><path class="fi" d="M145.7 119.3L149.8 119.3L149.8 117.6L145.7 117.6"/><path class="fi" d="M157.0 113.4L164.3 112.6L164.3 111.3L157.0 112.2"/><path class="fi" d="M105.4 401.8L108.5 399.7L111.1 401.3L108.5 403.0"/><path class="fi" d="M100.2 403.0L102.8 401.8L102.8 403.4"/><path class="fi" d="M120.9 405.9L124.5 404.1L127.6 407.6L122.9 408.0"/><path class="fi" d="M131.2 409.3L136.9 408.9L136.9 408.0L131.2 408.3"/><path class="fi" d="M137.4 410.5L142.6 410.5L144.6 412.6L140.0 413.5"/><path class="fi" d="M145.7 416.4L152.9 418.9L155.0 421.8L143.6 421.8"/><path class="fi" d="M511.9 300.9L521.2 301.3L521.2 302.0L511.9 302.0"/><path class="fi" d="M520.7 307.2L522.7 308.0L522.2 307.2"/><path class="fi" d="M531.0 305.5L534.1 307.2L534.1 306.3"/><path class="fi" d="M531.0 309.3L533.6 311.4L532.6 309.3"/><path class="fi" d="M533.1 341.5L535.1 344.4L535.1 341.5"/><path class="fi" d="M564.6 348.6L566.6 351.1L566.6 348.6"/><path class="fi" d="M582.7 338.6L587.3 343.2L585.8 339.4"/><path class="fi" d="M593.5 341.5L597.1 344.8L596.6 341.9"/><path class="fi" d="M653.9 403.9L658.1 406.8L657.6 404.7"/><path class="fi" d="M615.7 376.2L617.3 377.9L616.7 375.8"/><path class="fi" d="M608.0 367.4L609.5 369.5L609.0 367.0"/><path class="co" d="M299.6 2.9L327.5 5.9L352.3 8.4L366.7 5.0L382.2 4.6L396.7 0.8L423.6 -1.7"/><path class="co" d="M377.1 10.0L402.9 5.4L426.7 0.8L444.2 -2.5"/><path class="co" d="M444.2 -0.8L459.7 5.9L470.0 0.4L472.1 5.0L486.6 0.4L506.2 2.5L542.4 8.4L575.4 13.4L566.1 17.6L588.9 18.8L625.0 18.4L641.5 26.8L646.7 25.1L641.5 20.1L634.3 15.9L658.1 10.0L676.7 8.8"/><path class="co" d="M542.4 -0.8L568.2 5.9L592.0 11.7L625.0 10.9L658.1 6.7L676.7 5.0"/><path class="bo" d="M299.6 -1.7L299.6 81.2L319.2 82.9L335.8 92.9L356.4 85.4L371.9 93.7L392.6 108.8L413.2 117.2"/><path class="bo" d="M487.6 175.8L681.8 175.8"/><path class="bo" d="M475.7 199.2L492.8 204.2L523.8 201.7L547.0 200.9"/><path class="bo" d="M547.0 175.8L547.0 200.9L552.7 205.5L547.5 216.8L547.2 234.4"/><path class="bo" d="M557.3 175.8L558.9 186.7L574.4 198.4L575.4 205.1L588.9 213.4L609.0 212.6"/><path class="bo" d="M681.8 209.2L609.0 209.2L609.0 242.7L681.8 242.7"/><path class="bo" d="M473.1 234.4L609.0 234.4"/><path class="bo" d="M516.5 234.4L516.5 259.5L572.3 292.1L570.3 298.8L574.4 302.2L571.3 312.2"/><path class="bo" d="M578.0 234.4L578.0 282.9L571.3 284.6L572.3 292.1"/><path class="bo" d="M578.0 276.2L681.8 276.2"/><path class="bo" d="M629.7 242.7L629.7 323.5"/><path class="bo" d="M546.5 313.5L571.3 312.2L609.0 323.5L638.4 323.5L638.4 319.7L656.0 319.7L681.8 318.1"/><path class="bo" d="M656.0 319.7L671.5 328.9L676.7 338.1"/></g><path class="tk" d="M0.0 418.5v-8M51.7 418.5v-8M103.3 418.5v-8M155.0 418.5v-8M206.6 418.5v-8M258.3 418.5v-8M309.9 418.5v-8M361.6 418.5v-8M413.2 418.5v-8M464.9 418.5v-8M516.5 418.5v-8M568.2 418.5v-8M619.8 418.5v-8M671.5 418.5v-8M0 418.5h8M0 376.7h8M0 334.8h8M0 292.9h8M0 251.1h8M0 209.2h8M0 167.4h8M0 125.5h8M0 83.7h8M0 41.9h8M0 0.0h8"/><rect class="fr" width="671.5" height="418.5"/><text class="tt" x="335.8" y="-30.8">Number of AR Days Forecast Anomaly</text><text class="sl" x="2" y="-7.2">Dec 16 to Dec 22, Forecast</text><text class="sr" x="670.5" y="-7.2">15−day to 21−day lead</text><text class="yl" x="-4.5" y="426.9">20°N</text><text class="yl" x="-4.5" y="343.2">30°N</text><text class="yl" x="-4.5" y="259.5">40°N</text><text class="yl" x="-4.5" y="175.8">50°N</text><text class="yl" x="-4.5" y="92.1">60°N</text><text class="yl" x="-4.5" y="8.4">70°N</text><text class="xl" x="0.0" y="450.5">170°W</text><text class="xl" x="103.3" y="450.5">160°W</text><text class="xl" x="206.6" y="450.5">150°W</text><text class="xl" x="309.9" y="450.5">140°W</text><text class="xl" x="413.2" y="450.5">130°W</text><text class="xl" x="516.5" y="450.5">120°W</text><text class="xl" x="619.8" y="450.5">110°W</text><rect x="692.1" y="0" width="20.2" height="418.5" fill="url(#gan)" stroke="#000" stroke-width="3"/><path class="tk" d="M692.1 0.0h7M712.3 0.0h-7"/><text class="cl" x="713.3" y="8.5">1</text><path class="tk" d="M692.1 104.6h7M712.3 104.6h-7"/><text class="cl" x="713.3" y="113.1">0.5</text><path class="tk" d="M692.1 209.2h7M712.3 209.2h-7"/><text class="cl" x="713.3" y="217.8">0</text><path class="tk" d="M692.1 313.9h7M712.3 313.9h-7"/><text class="cl" x="713.3" y="322.4">−0.5</text><path class="tk" d="M692.1 418.5h7M712.3 418.5h-7"/><text class="cl" x="713.3" y="427.0">−1</text></g><g transform="translate(1779.5 457.0)"><clipPath id="cp1779_457"><rect width="668.0" height="418.5"/></clipPath><g clip-path="url(#cp1779_457)"><rect width="668.0" height="418.5" fill="#fff"/><g transform="scale(5.1385 5.1667)" fill="none" stroke-width="1.06" shape-rendering="crispEdges"><path stroke="#ffeed2" d="M93 3.5h1m33 45h1m1 0h1"/><path stroke="#ffebc4" d="M104 0.5h5m4 0h1m10 0h2m-41 1h1m5 0h2m16 0h1m15 0h1m-34 1h3m22 0h2m-25 1h1m14 0h1m7 0h3m-27 1h2m13 0h2m5 0h1m1 0h2m-26 1h1m20 0h1m-25 1h1m24 0h1m11 6h2m-9 30h1m6 5h3m-4 1h1m1 0h1m-5 1h1m-3 1h3m-2 1h2m4 2h1"/><path stroke="#ffe9b7" d="M66 0.5h1m10 0h1m2 0h7m4 0h3m6 0h4m5 0h2m1 0h1m1 0h1m7 0h2m2 0h1m1 0h2m-64 1h2m12 0h5m8 0h2m5 0h1m2 0h6m1 0h5m2 0h3m3 0h2m1 0h1m-61 1h2m13 0h2m1 0h2m5 0h1m5 0h1m1 0h1m3 0h8m1 0h5m2 0h2m2 0h2m-33 1h1m2 0h3m7 0h4m1 0h7m3 0h2m5 0h3m-40 1h3m2 0h1m10 0h2m5 0h2m1 0h1m2 0h2m6 0h3m-53 1h1m11 0h4m1 0h1m3 0h1m9 0h2m3 0h1m1 0h7m-45 1h1m11 0h1m1 0h3m17 0h1m1 0h2m1 0h3m2 0h1m-33 1h4m15 0h1m1 0h7m3 0h1m-26 1h1m12 0h9m3 0h2m4 0h4m-29 1h2m5 0h4m1 0h1m1 0h1m3 0h5m3 0h3m-28 1h3m4 0h3m7 0h5m3 0h1m1 0h1m-28 1h1m18 0h9m-9 1h1m1 0h4m2 0h1m-8 1h4m1 0h3m-1 2h1m-1 1h1m-1 1h1m-12 15h1m-2 1h1m-1 1h1m0 7h6m-6 1h2m1 0h4m-7 1h3m3 0h1m-8 1h1m11 0h1m-13 1h1m10 0h2m-3 1h3m-5 1h2m-9 1h1m5 0h2m-15 1h2m5 0h2m1 0h3m-13 1h2m6 0h3m-11 1h1m10 0h1m0 1h1m3 1h2m-1 1h1"/><path stroke="#ffeaa7" d="M31 0.5h2m3 0h3m26 0h1m1 0h1m6 0h3m1 0h2m7 0h1m1 0h2m3 0h6m11 0h1m3 0h7m5 0h1m-93 1h1m28 0h2m2 0h1m7 0h4m6 0h1m2 0h2m4 0h5m1 0h2m12 0h2m3 0h3m4 0h3m-65 1h1m2 0h1m7 0h5m2 0h1m2 0h1m1 0h3m4 0h2m1 0h1m1 0h3m8 0h1m9 0h2m2 0h5m-64 1h2m4 0h1m6 0h3m2 0h8m6 0h3m2 0h2m17 0h5m-56 1h4m2 0h2m1 0h2m3 0h5m6 0h5m3 0h2m4 0h3m8 0h3m2 0h1m-55 1h5m1 0h2m7 0h2m6 0h3m1 0h3m3 0h3m2 0h3m9 0h2m1 0h5m-58 1h5m1 0h1m8 0h2m5 0h8m2 0h1m1 0h5m1 0h1m6 0h2m1 0h3m1 0h3m-55 1h1m1 0h2m10 0h1m4 0h3m1 0h3m1 0h7m1 0h1m7 0h3m1 0h9m-41 1h6m1 0h12m9 0h3m2 0h4m-35 1h1m2 0h7m2 0h3m1 0h1m4 0h1m1 0h1m1 0h3m5 0h3m-32 1h2m2 0h3m3 0h4m3 0h3m3 0h1m5 0h3m1 0h1m-30 1h3m1 0h11m4 0h3m-22 1h5m5 0h1m1 0h1m6 0h3m1 0h1m-23 1h2m8 0h3m5 0h4m4 0h1m-28 1h1m18 0h3m1 0h3m2 0h3m-23 1h1m9 0h2m2 0h1m6 0h1m-23 1h2m8 0h2m1 0h2m6 0h2m-23 1h3m8 0h1m1 0h2m5 0h3m-22 1h1m8 0h1m1 0h1m7 0h4m-13 1h1m8 0h1m2 0h1m-3 1h3m-2 1h2m-1 1h1m-17 1h1m2 0h1m12 0h1m-18 1h2m3 0h1m-5 1h6m3 0h1m6 0h1m-15 1h3m1 0h1m-5 1h5m-4 1h2m9 2h1m-16 1h1m4 0h5m-10 1h2m2 0h2m1 0h3m-6 1h1m1 0h2m-4 1h1m1 0h1m3 0h2m-8 1h2m4 0h3m-3 1h2m1 0h1m2 0h1m-8 1h3m1 0h2m-15 1h1m8 0h1m2 0h2m1 0h1m1 0h1m-18 1h1m7 0h1m4 0h1m1 0h1m1 0h1m-13 1h9m2 0h2m-14 1h2m6 0h2m2 0h2m-13 1h1m7 0h1m3 0h1m-13 1h1m3 0h3m1 0h2m1 0h2m-15 1h2m1 0h2m2 0h1m1 0h5m-13 1h1m1 0h2m6 0h2m-16 1h1m4 0h2m6 0h2m-16 1h2m4 0h2m-8 1h3m3 0h1m1 0h1m1 0h3m-14 1h1m2 0h1m2 0h2m2 0h1m-12 1h2m2 0h1m3 0h2m-11 1h1m1 0h1m1 0h1m4 0h5m-11 1h2m5 0h5m1 0h1m-6 1h8m-7 1h1m3 0h4m1 0h1m-6 1h1m3 0h2m-14 1h1m3 0h2m3 0h1m-11 1h5m-5 1h4m2 0h1m-6 1h5m-4 1h1"/><path stroke="#ffec96" d="M30 0.5h1m2 0h3m3 0h5m13 0h2m3 0h3m3 0h2m1 0h1m1 0h1m14 0h1m-58 1h4m1 0h4m4 0h1m24 0h2m3 0h2m11 0h2m-56 1h7m4 0h1m1 0h1m17 0h1m4 0h7m11 0h1m-54 1h1m1 0h4m5 0h1m19 0h1m2 0h4m1 0h6m3 0h2m17 0h2m-37 1h2m1 0h2m4 0h2m2 0h1m4 0h1m16 0h3m20 0h2m-56 1h2m8 0h1m4 0h2m15 0h3m19 0h1m-54 1h1m7 0h2m5 0h1m15 0h2m1 0h1m19 0h1m3 0h1m-59 1h3m1 0h1m2 0h2m7 0h1m8 0h1m3 0h1m-29 1h5m11 0h1m-17 1h1m17 0h1m1 0h2m12 0h1m-14 1h2m2 0h2m16 0h3m-24 1h5m15 0h4m-22 1h3m5 0h5m1 0h1m1 0h2m3 0h1m-20 1h2m2 0h8m3 0h1m2 0h2m-18 1h2m3 0h13m3 0h1m3 0h2m-22 1h2m1 0h1m2 0h6m2 0h2m1 0h2m1 0h1m1 0h1m-23 1h1m2 0h1m3 0h4m2 0h1m2 0h1m3 0h2m-22 1h1m3 0h2m1 0h5m1 0h1m2 0h1m3 0h1m-20 1h1m1 0h8m1 0h1m1 0h3m3 0h1m-19 1h2m2 0h2m1 0h3m1 0h2m2 0h1m2 0h1m1 0h2m-20 1h1m1 0h2m1 0h5m6 0h2m-17 1h2m3 0h1m1 0h1m6 0h4m-18 1h5m1 0h3m6 0h4m-19 1h3m1 0h2m1 0h3m2 0h4m2 0h1m-18 1h1m2 0h3m1 0h7m3 0h2m-18 1h1m6 0h3m1 0h2m1 0h1m1 0h1m-17 1h3m3 0h1m1 0h5m4 0h1m-17 1h2m5 0h2m1 0h2m1 0h1m2 0h1m-22 1h1m1 0h1m3 0h2m2 0h2m3 0h4m-17 1h2m2 0h7m1 0h1m1 0h4m-18 1h3m1 0h9m2 0h2m1 0h1m-19 1h2m1 0h4m5 0h1m3 0h3m-18 1h1m2 0h2m6 0h1m-11 1h4m4 0h1m1 0h1m6 0h1m-18 1h2m1 0h1m3 0h3m2 0h6m-12 1h1m2 0h1m3 0h5m-15 1h3m3 0h1m2 0h1m1 0h2m1 0h1m-20 1h6m4 0h1m3 0h1m2 0h3m-19 1h1m1 0h3m3 0h2m1 0h2m2 0h1m1 0h1m-18 1h1m1 0h7m1 0h4m1 0h1m1 0h1m-17 1h5m9 0h2m-16 1h1m1 0h2m10 0h2m-15 1h4m9 0h3m-16 1h4m10 0h1m-16 1h3m5 0h2m1 0h1m-13 1h5m4 0h6m-15 1h1m1 0h1m1 0h2m2 0h6m-15 1h1m2 0h4m2 0h6m-16 1h2m3 0h3m3 0h1m-13 1h2m4 0h2m-10 1h3m5 0h3m-10 1h1m1 0h1m3 0h1m1 0h2m-10 1h4m2 0h1m2 0h2m-10 1h6m1 0h1m1 0h2m-7 1h8m1 0h3m-11 1h11m1 0h3m-14 1h2m1 0h3m2 0h3m1 0h4m-16 1h1m5 0h10m-11 1h2m1 0h1m1 0h4m1 0h1m-15 1h1m5 0h1m1 0h3m1 0h1m-12 1h1m1 0h2m1 0h1m1 0h1m-7 1h2m-26 2h2"/><path stroke="#fff48a" d="M25 0.5h1m1 0h1m1 0h1m14 0h6m6 0h1m2 0h3m8 0h1m1 0h1m-44 1h2m9 0h4m1 0h4m8 0h3m1 0h3m7 0h3m-43 1h2m7 0h4m1 0h1m1 0h2m9 0h2m3 0h1m-32 1h2m1 0h1m4 0h1m1 0h3m1 0h1m14 0h1m2 0h1m-26 1h1m4 0h5m6 0h1m4 0h6m2 0h1m13 0h2m-39 1h3m12 0h3m2 0h2m1 0h2m11 0h1m1 0h2m-24 1h2m7 0h1m10 0h2m1 0h2m-24 1h1m6 0h2m9 0h3m1 0h3m-16 1h1m5 0h2m2 0h7m-17 1h1m1 0h5m4 0h4m3 0h1m-18 1h1m9 0h2m1 0h1m4 0h3m-1 1h2m1 1h1m18 0h3m-20 1h1m16 0h2m-18 1h1m3 0h3m-7 1h7m4 0h2m13 0h1m1 0h1m-23 1h1m4 0h3m10 0h3m-21 1h1m6 0h1m10 0h3m-20 1h1m16 0h3m-19 1h1m2 0h2m2 0h1m6 0h2m1 0h2m-18 1h2m1 0h1m2 0h1m5 0h1m1 0h4m-32 1h4m12 0h1m2 0h3m1 0h1m1 0h4m1 0h1m-32 1h1m1 0h3m12 0h1m5 0h1m3 0h6m-37 1h1m6 0h2m11 0h2m10 0h2m4 0h2m-39 1h1m6 0h1m12 0h2m14 0h3m-38 1h1m16 0h5m13 0h1m1 0h1m-31 1h1m9 0h1m1 0h3m13 0h4m-33 1h1m9 0h7m9 0h1m2 0h1m1 0h2m-34 1h2m9 0h2m1 0h1m1 0h3m6 0h3m4 0h3m-35 1h2m9 0h1m1 0h2m2 0h2m7 0h1m1 0h1m4 0h2m-33 1h1m6 0h6m3 0h1m9 0h2m4 0h1m-25 1h5m13 0h3m3 0h1m-22 1h1m1 0h1m12 0h7m-20 1h2m9 0h1m1 0h6m-29 1h1m1 0h1m5 0h4m2 0h1m-15 1h3m5 0h8m3 0h2m-21 1h4m3 0h8m3 0h3m-19 1h1m6 0h1m6 0h4m-19 1h3m5 0h2m5 0h3m-18 1h3m6 0h1m-10 1h3m7 0h1m-1 1h1m1 0h1m-3 1h2m-2 1h2m-13 1h2m9 0h1m-12 1h2m8 1h1m3 0h1m-6 1h1m-5 1h1m1 0h2m-3 1h2m-2 2h1m7 0h1m-9 1h1m7 0h2m-9 1h1m6 0h1m1 0h1m-10 1h5m-4 1h2m2 0h1m-9 1h1m8 0h1m-10 1h1m2 0h2m4 0h1m-11 1h2m6 0h1m1 0h2m8 0h1m4 0h1m-27 1h2m6 0h5m7 0h1m3 0h1m1 0h2m-28 1h1m10 0h3m4 0h1m1 0h1m1 0h6m-37 1h4m4 0h3m10 0h3m2 0h5m4 0h2m-38 1h6m4 0h2m10 0h7m1 0h1m6 0h1m-35 1h2m1 0h1m29 0h1m-37 1h3m1 0h1m-6 1h4m4 0h2m-9 1h3m5 0h2m9 0h1m11 0h2m-33 1h1m8 0h1m22 0h1m1 0h3m-28 1h1m24 0h2m-45 1h1m17 0h1m25 0h1m-46 1h3m16 0h4m-23 1h2m3 0h2m12 0h1m1 0h1m-17 1h3m4 5h3m1 0h1m-4 1h1m9 1h4m-33 1h1m27 0h4"/><path stroke="#fffc7d" d="M12 0.5h2m12 0h1m1 0h1m21 0h1m2 0h3m-31 1h4m20 0h2m2 0h4m3 0h1m-34 1h4m18 0h2m2 0h5m2 0h3m-32 1h1m9 0h1m5 0h4m2 0h8m1 0h2m-31 1h6m1 0h4m5 0h2m3 0h1m1 0h1m1 0h2m-24 1h4m8 0h4m2 0h3m2 0h1m3 0h2m2 0h1m14 0h1m-37 1h3m4 0h1m1 0h2m2 0h2m2 0h7m13 0h1m-31 1h1m6 0h2m1 0h6m14 0h1m-24 1h3m3 0h1m1 0h3m8 0h2m-21 1h2m8 0h1m7 0h1m2 0h1m4 0h3m-28 1h1m9 0h1m1 0h4m4 0h1m2 0h1m1 0h4m-7 1h3m1 0h5m-9 1h1m2 0h3m2 0h4m-8 1h3m5 0h2m-10 1h2m7 0h2m-11 1h2m7 0h2m-10 1h1m7 0h8m-10 1h7m1 0h2m-11 1h6m1 0h1m2 0h2m-12 1h6m1 0h2m1 0h3m-20 1h1m6 0h5m4 0h5m13 0h1m-34 1h2m2 0h2m4 0h1m5 0h3m1 0h2m13 0h1m-37 1h4m1 0h1m1 0h1m3 0h1m4 0h3m3 0h1m-23 1h2m1 0h2m1 0h3m2 0h1m4 0h3m2 0h1m-21 1h2m1 0h6m1 0h1m4 0h7m-21 1h2m1 0h3m1 0h3m4 0h5m-18 1h5m1 0h2m1 0h1m5 0h3m1 0h1m-19 1h6m1 0h2m6 0h1m-13 1h2m2 0h2m5 0h2m-13 1h2m2 0h3m1 0h5m1 0h1m-16 1h5m1 0h1m1 0h4m-12 1h2m2 0h4m1 0h2m1 0h1m-9 1h8m1 0h3m1 0h1m-14 1h7m1 0h1m2 0h3m-13 1h3m1 0h1m1 0h2m-6 1h1m3 0h2m2 0h1m-9 1h1m4 0h3m-7 1h2m1 0h3m1 0h2m-9 1h1m3 0h2m2 0h1m-9 1h1m3 0h2m1 0h3m-6 1h2m1 0h4m-10 1h3m4 0h1m1 0h1m-11 1h1m1 0h1m6 0h2m-12 1h5m5 0h2m-12 1h1m2 0h2m5 0h2m-12 1h1m2 0h1m6 0h2m-10 1h1m7 0h1m-8 1h5m-1 1h1m-4 1h3m-1 1h1m-1 1h1m-2 1h2m-1 1h2m-2 1h2m-7 1h1m3 0h4m2 0h2m-13 1h1m3 0h1m1 0h5m2 0h1m-13 1h1m1 0h2m1 0h2m2 0h1m1 0h2m-13 1h3m2 0h6m1 0h1m-15 1h4m2 0h6m-15 1h3m3 0h1m1 0h1m5 0h4m-21 1h1m4 0h1m2 0h1m3 0h1m8 0h1m10 0h2m1 0h1m-30 1h1m1 0h2m2 0h1m16 0h1m1 0h3m1 0h2m-38 1h2m4 0h1m1 0h6m10 0h10m2 0h1m1 0h1m-39 1h1m3 0h1m1 0h6m7 0h1m7 0h3m1 0h4m1 0h3m-41 1h2m4 0h4m2 0h1m8 0h2m9 0h9m-41 1h3m3 0h5m2 0h1m6 0h2m1 0h1m9 0h1m2 0h5m-42 1h4m1 0h2m2 0h4m1 0h1m6 0h4m9 0h2m1 0h1m3 0h1m-48 1h1m1 0h1m6 0h3m6 0h1m1 0h1m5 0h6m8 0h1m2 0h1m2 0h1m-48 1h2m1 0h3m1 0h1m2 0h4m2 0h2m1 0h1m1 0h8m1 0h2m1 0h2m10 0h1m1 0h2m-49 1h1m3 0h6m1 0h3m2 0h4m4 0h6m15 0h4m-49 1h1m2 0h3m2 0h2m2 0h1m3 0h4m1 0h1m1 0h8m15 0h1m-46 1h5m3 0h2m5 0h8m1 0h5m17 0h1m-48 1h9m8 0h3m2 0h1m4 0h1m-23 1h4m9 0h1m9 0h1m-21 1h1m7 0h4m-13 1h2m3 0h8m28 0h1m-54 1h2m1 0h2m1 0h1m4 0h4m1 0h2m3 0h1m1 0h3m7 0h1m19 0h1m-55 1h8m1 0h1m2 0h8m1 0h13m20 0h1m-56 1h5m1 0h5m2 0h2m2 0h6m2 0h1m2 0h3m24 0h1m-56 1h2m1 0h3m1 0h6m14 0h3m4 0h2"/><path stroke="#fefe7a" d="M11 0.5h1m2 0h2m1 0h1m1 0h6m26 0h2m-41 1h2m5 0h2m3 0h1m26 0h2m-28 1h2m24 0h2m-24 1h2m20 0h2m-22 1h2m18 0h3m3 0h1m-24 1h2m4 0h5m7 0h2m3 0h2m-15 1h2m3 0h4m1 0h1m2 0h2m-12 1h2m3 0h1m1 0h6m-12 1h1m8 0h3m3 0h3m1 0h1m-9 1h1m2 0h5m1 0h2m9 0h2m-21 1h1m1 0h2m6 0h1m6 0h4m-20 1h1m9 0h2m2 0h5m1 0h2m3 0h1m-11 1h3m2 0h2m1 0h2m3 0h2m-9 1h5m3 0h3m1 0h1m-13 1h3m4 0h2m4 0h1m-15 1h1m1 0h2m4 0h3m3 0h1m-9 1h1m1 0h2m1 0h4m-14 1h1m2 0h9m7 0h1m-20 1h11m6 0h1m1 0h2m-21 1h9m1 0h1m6 0h1m2 0h1m-23 1h6m1 0h6m5 0h4m-18 1h3m2 0h2m7 0h5m3 0h1m-22 1h1m4 0h1m7 0h2m1 0h1m3 0h3m-23 1h1m5 0h1m6 0h1m1 0h2m3 0h2m-22 1h2m11 0h1m1 0h2m-16 1h2m6 0h1m3 0h2m1 0h1m-15 1h2m5 0h1m4 0h2m2 0h1m-16 1h2m9 0h1m4 0h1m-16 1h4m6 0h2m1 0h2m-14 1h3m7 0h1m-11 1h1m8 0h1m-9 1h1m2 0h2m4 0h1m2 0h1m-12 1h1m2 0h1m8 0h1m-2 1h1m1 0h2m-12 1h2m8 0h3m-12 1h3m6 0h2m-9 1h1m-1 1h2m6 0h1m-8 1h1m6 0h2m-9 1h1m6 0h1m-7 1h1m5 0h1m-7 1h1m3 0h1m1 0h2m1 0h1m-11 1h1m1 0h1m1 0h2m2 0h2m-11 1h1m5 0h1m3 0h1m-11 1h1m5 0h1m-7 1h1m4 0h2m-6 1h2m1 0h4m-5 1h1m5 0h2m-8 1h4m-4 1h2m-3 1h5m-5 1h5m-6 1h5m-5 1h2m3 0h1m-7 1h7m-6 1h1m1 0h3m-7 1h2m1 0h3m7 0h2m-15 1h3m1 0h1m8 0h1m-14 1h3m-4 1h2m-6 1h3m3 0h3m3 0h5m-18 1h1m6 0h2m5 0h2m1 0h5m13 0h1m-36 1h1m7 0h1m5 0h2m1 0h3m2 0h1m12 0h1m-38 1h2m18 0h3m1 0h2m10 0h2m-41 1h1m1 0h3m12 0h2m4 0h1m1 0h1m2 0h4m3 0h1m4 0h1m-40 1h2m13 0h1m5 0h2m2 0h1m3 0h5m-36 1h1m1 0h2m19 0h1m4 0h1m1 0h7m-39 1h2m1 0h2m7 0h2m6 0h1m4 0h1m4 0h9m-41 1h1m1 0h1m1 0h6m3 0h6m3 0h1m2 0h2m6 0h8m1 0h2m4 0h1m-50 1h1m6 0h1m1 0h2m4 0h2m2 0h1m10 0h1m2 0h1m2 0h5m1 0h4m-46 1h1m10 0h1m3 0h2m14 0h6m1 0h1m6 0h1m-46 1h1m10 0h2m1 0h3m15 0h2m11 0h2m1 0h2m-50 1h2m10 0h5m8 0h1m5 0h1m14 0h2m1 0h1m-40 1h1m3 0h4m3 0h2m1 0h4m1 0h2m17 0h2m-49 1h5m4 0h1m3 0h5m1 0h9m1 0h1m17 0h2m-52 1h1m1 0h9m1 0h1m2 0h4m4 0h4m4 0h3m16 0h2m-54 1h8m1 0h3m2 0h3m8 0h4m4 0h3m16 0h1m-59 1h4m1 0h1m2 0h1m2 0h1m1 0h4m4 0h1m10 0h7m1 0h1m1 0h1m15 0h1m-59 1h5m8 0h1m1 0h2m22 0h2m17 0h1m-58 1h3m5 0h1m5 0h2m2 0h2m6 0h2m1 0h2m7 0h1m18 0h1m-57 1h2m6 0h1m6 0h1m1 0h12m24 0h5"/><path stroke="#fcfc87" d="M0 0.5h5m1 0h5m5 0h1m1 0h1m-17 1h2m4 0h2m1 0h1m2 0h5m2 0h3m-3 1h1m5 1h2m1 1h1m1 1h2m1 1h9m1 1h2m2 0h3m-6 1h2m1 0h1m1 0h6m1 1h1m8 0h1m-10 1h2m4 0h6m-11 1h2m1 0h3m5 0h1m2 0h2m5 0h1m-20 1h1m9 0h3m1 0h1m3 0h2m-6 1h7m11 0h1m-18 1h6m3 0h2m4 0h4m-20 1h4m1 0h1m1 0h1m2 0h2m5 0h3m-18 1h10m4 0h1m-15 1h5m1 0h2m-7 1h4m-4 1h4m9 0h1m-14 1h2m-1 1h5m16 1h1m-2 1h1m-16 1h1m14 0h1m-16 1h2m14 0h1m-16 1h2m14 0h2m-16 1h1m12 0h4m-17 1h2m12 0h1m-14 1h2m-2 1h2m1 0h1m-3 1h2m-2 1h3m1 0h2m-5 1h1m2 0h3m-2 1h1m-1 1h2m0 1h2m-1 1h1m-2 1h3m-4 1h4m-3 1h4m-5 1h5m5 0h1m-10 1h1m1 0h1m6 0h2m-2 1h3m-11 1h1m7 0h1m1 0h2m-12 1h1m7 0h2m1 0h1m-11 1h1m7 0h3m-12 1h4m-5 1h5m-5 1h5m-5 1h4m-1 1h1m-2 1h1m-1 1h1m2 0h3m-8 2h3m-3 1h1m-1 1h1m-1 1h1m-2 1h1m-5 1h1m15 1h1m-22 1h5m16 0h1m3 0h2m-28 1h4m16 0h4m3 0h1m-28 1h1m1 0h1m17 0h1m1 0h2m3 0h2m-30 1h3m16 0h2m2 0h1m5 0h3m-33 1h2m1 0h1m16 0h1m3 0h1m6 0h1m-35 1h3m2 0h1m20 0h2m-31 1h4m23 0h2m-27 1h1m41 0h1m-43 1h1m37 0h1m1 0h6m-47 1h2m34 0h5m5 0h1m-47 1h2m32 0h2m10 0h2m-50 1h1m1 0h3m10 0h3m17 0h2m13 0h2m-51 1h4m10 0h3m17 0h3m13 0h1m-52 1h2m1 0h1m11 0h2m12 0h2m1 0h1m3 0h1m14 0h1m-58 1h4m1 0h1m8 0h1m20 0h4m3 0h2m12 0h2m-59 1h1m4 0h1m36 0h1m1 0h1m10 0h1m2 0h1m-59 1h1m41 0h3m13 0h1m-64 1h3m3 0h1m39 0h4m10 0h1m2 0h1m-63 1h4m1 0h2m16 0h1m21 0h3m11 0h1"/><path stroke="#fafa96" d="M5 0.5h1m-6 1h2m2 0h4m2 0h1m-9 1h1m4 0h4m1 0h4m1 0h4m1 0h3m-1 1h3m1 1h2m1 1h1m2 1h1m2 1h1m1 0h6m5 1h1m-4 1h11m-2 1h2m-1 1h2m6 0h5m-12 1h3m1 0h5m7 0h1m-15 1h3m8 0h4m-3 1h4m-3 1h2m4 0h1m-7 1h4m-4 1h2m1 0h1m-1 1h2m-1 1h1m0 2h1m1 1h2m1 0h2m-3 1h3m-2 1h1m-3 1h3m-2 1h3m-2 1h4m0 2h1m0 2h1m2 2h2m-3 1h4m-2 1h2m-1 1h3m-2 1h3m-2 1h1m-2 1h1m-1 1h2m-2 1h1m-1 1h2m1 0h1m-4 1h4m-3 1h2m9 0h1m-11 1h1m10 0h1m-17 1h2m3 0h2m-8 1h1m4 0h2m-3 1h2m-6 1h1m3 0h2m-2 1h2m-2 1h5m-5 1h4m-4 1h1m1 0h2m-3 1h3m-4 1h2m-1 1h1m-1 1h1m-4 1h1m2 0h1m-5 1h4m-5 1h1m-5 1h5m-6 1h1m-2 1h1m-1 1h1m21 0h1m-24 1h1m21 0h2m-28 1h1m1 0h2m21 0h3m-31 1h4m24 0h2m-30 1h1m0 1h2m-1 1h1m-2 1h1m41 0h5m-48 1h2m36 0h2m7 0h1m-50 1h2m1 0h1m35 0h2m8 0h3m-51 1h2m47 0h3m-55 1h2m1 0h1m31 0h1m5 0h2m9 0h3m-60 1h2m5 0h1m39 0h1m8 0h3m-62 1h5m45 0h1m8 0h1m1 0h2m-63 1h5m45 0h1m7 0h5m-65 1h2m3 0h3m44 0h1m7 0h2m1 0h2m-63 1h1m4 0h1m43 0h2m8 0h1"/><path stroke="#f7f7a5" d="M0 2.5h2m1 0h4m4 0h1m4 0h1m2 1h4m2 1h3m1 1h2m4 2h2m1 0h1m5 1h2m0 1h1m1 1h7m-1 1h3m-2 1h3m9 0h4m-14 1h3m3 0h2m1 0h1m3 0h1m-13 1h3m10 0h1m0 1h1m-1 1h1m-1 1h1m2 0h1m-4 1h4m-1 1h2m-1 1h2m-1 1h1m-1 1h3m2 0h1m-4 1h2m0 1h2m-2 2h1m0 1h1m0 1h4m-1 1h1m0 1h1m-1 1h1m0 1h1m0 1h1m-1 1h1m0 1h2m-1 1h2m-2 1h3m-1 1h2m-2 1h1m-1 1h1m-1 1h1m-1 1h1m-1 1h1m-4 1h1m2 0h2m-6 1h7m-7 1h2m2 0h3m-7 1h1m1 0h4m-6 1h5m-5 1h1m1 0h3m-4 1h4m-4 1h4m-2 1h2m-4 1h1m2 0h1m1 0h1m-6 1h5m-4 1h3m-4 1h5m-6 1h6m-8 1h5m1 0h2m-9 1h5m-5 1h4m-6 1h2m-2 1h1m-2 2h1m-5 1h4m-6 1h2m1 0h1m-5 3h1m-1 1h2m-3 1h2m-3 1h2m40 0h2m1 0h4m-50 1h1m41 0h1m-46 1h1m1 0h1m1 0h1m39 0h1m8 0h1m-56 1h4m2 0h1m48 0h1m-58 1h1m2 0h1m45 0h1m-54 1h2m58 0h1m-62 1h3m51 0h1m5 0h1m-61 1h1m53 0h1m5 0h1m-61 1h3m51 0h1m6 0h1"/><path stroke="#f3f3bb" d="M2 3.5h1m3 0h4m3 0h6m4 0h1m-1 1h2m3 1h1m2 1h3m0 1h1m4 1h5m1 1h1m1 1h1m7 0h1m-7 1h5m-2 1h3m-1 1h3m8 0h1m1 0h1m-12 1h2m3 0h4m6 1h1m-1 1h1m-1 1h1m-1 1h1m0 1h3m0 1h1m0 1h1m-1 1h1m-1 1h1m1 0h1m2 0h1m-3 1h2m-1 1h1m-1 1h1m0 1h1m0 1h1m-1 1h4m-4 1h5m-5 1h5m-5 1h6m0 1h1m0 2h1m0 1h1m-89 1h1m87 0h1m0 1h2m-2 1h2m-2 1h2m-2 1h2m-58 1h1m53 0h1m2 0h1m-57 1h1m8 0h1m43 0h4m-4 1h1m1 0h2m-5 1h1m-1 1h1m-1 1h1m-1 2h1m-1 1h2m0 2h2m-3 1h1m1 0h2m-4 1h1m-1 1h2m-7 1h1m3 0h2m-5 1h4m-4 1h2m-2 1h1m-4 1h4m-5 1h1m1 0h1m-3 1h3m-6 1h3m1 0h2m-6 1h5m-6 1h2m-3 1h1m-2 1h1m-1 1h1m-1 1h1m-1 1h1m-3 1h2m-3 1h2m44 0h1m-49 1h3m43 0h1m4 0h2m-54 1h1m1 0h1m1 0h1m41 0h1m6 0h1m-56 1h1m47 0h1m6 0h1m-60 1h3m56 0h1m-123 1h2m113 0h1m5 0h1m-121 1h1m10 0h1m47 0h1m55 0h1m3 0h1m-121 1h1m11 0h1m44 0h2m1 0h1m55 0h1m2 0h2m-121 1h1m47 0h2m10 0h1m55 0h1m3 0h2"/><path stroke="#eeeed1" d="M0 3.5h2m1 0h3m4 0h3m7 1h3m1 1h4m1 1h2m2 1h1m1 1h4m3 1h3m1 1h1m0 1h2m0 1h3m-2 1h2m1 0h1m14 0h2m-16 1h2m9 0h2m3 0h1m-13 1h4m8 0h1m-1 2h1m-1 1h1m0 1h1m1 1h2m0 1h1m-1 1h1m-1 1h1m1 0h1m-1 1h2m0 1h1m0 2h1m0 1h1m-1 1h1m-1 1h1m-1 1h1m-4 1h1m1 0h2m-4 1h1m1 0h8m-87 1h1m1 0h1m83 0h2m-89 1h1m86 0h2m-89 1h3m-3 1h2m-2 1h3m87 0h1m-91 1h4m86 0h1m-91 1h3m28 0h1m8 0h2m47 0h2m-91 1h3m28 0h2m1 0h2m4 0h3m46 0h2m-91 1h2m32 0h1m1 0h2m2 0h1m1 0h1m1 0h4m42 0h2m-92 1h1m32 0h1m1 0h1m1 0h2m4 0h2m1 0h2m40 0h1m-57 1h6m3 0h5m42 0h1m-57 1h4m6 0h1m-12 1h3m54 2h1m-2 1h1m-1 1h1m-1 1h3m-2 1h2m-2 1h1m-7 1h1m5 0h1m-7 1h1m1 0h1m2 0h2m-8 1h3m1 0h3m-6 1h3m-5 1h2m1 0h2m-5 1h5m-5 1h2m-2 1h1m1 0h1m-5 1h3m0 1h1m-5 1h1m-2 1h1m-2 1h1m-2 1h1m-1 1h1m-1 1h1m-1 1h1m-3 1h1m-4 1h3m-4 1h2m49 0h2m-54 1h2m47 0h1m3 0h2m-56 1h1m49 0h2m3 0h1m-122 1h2m59 0h2m53 0h2m2 0h2m-120 1h1m8 0h3m47 0h1m54 0h2m1 0h2m-121 1h1m1 0h1m5 0h4m1 0h1m38 0h3m1 0h1m1 0h2m57 0h3m-119 1h3m3 0h1m2 0h2m1 0h1m34 0h3m2 0h4m2 0h1m57 0h2m-118 1h8m2 0h3m33 0h1m2 0h1m5 0h4m57 0h3"/><path stroke="#e9ebe5" d="M4 4.5h5m4 0h1m1 0h5m2 1h2m1 1h2m1 0h1m3 1h1m1 1h1m4 1h3m1 1h3m-2 1h3m1 1h1m0 1h1m2 0h1m-2 1h3m13 0h3m-15 1h3m4 0h8m-1 1h2m-2 1h1m-1 1h1m0 1h1m0 1h2m3 4h1m0 1h2m0 1h1m-1 1h1m-1 1h2m-1 1h1m-2 1h2m-3 1h3m-4 1h1m1 0h1m-80 1h5m72 0h1m1 0h1m-80 1h1m1 0h1m1 0h1m72 0h10m-86 1h4m81 0h1m-84 1h1m83 0h3m-87 1h1m28 0h2m54 0h2m-87 1h1m26 0h1m1 0h3m12 0h2m40 0h1m-86 1h1m25 0h4m6 0h2m5 0h1m41 0h1m-87 1h2m25 0h1m1 0h3m3 0h2m2 0h1m3 0h2m-45 1h1m26 0h1m2 0h1m2 0h4m3 0h6m39 0h1m-87 1h1m28 0h3m4 0h2m1 0h1m1 0h1m4 0h1m39 0h1m-88 1h3m28 0h1m1 0h1m4 0h4m5 0h2m-50 1h3m28 0h1m6 0h3m5 0h2m39 0h1m-58 1h2m4 0h6m1 0h4m40 0h1m-58 1h1m3 0h9m44 0h1m-59 1h1m1 0h5m1 0h1m48 0h2m-3 1h3m-3 1h2m-1 1h1m0 2h1m-1 1h1m-7 1h1m1 0h2m2 0h1m-8 1h2m1 0h1m1 0h2m-7 1h1m-2 1h3m-3 1h1m2 0h1m-4 1h1m-1 2h1m-4 2h2m-3 1h2m-2 1h1m-2 1h1m-2 3h1m-2 1h2m-5 1h3m-4 1h1m48 1h2m-53 1h1m50 0h3m-120 1h2m60 0h2m1 0h1m52 0h3m-119 1h2m7 0h3m46 0h1m57 0h2m-117 1h1m4 0h3m3 0h1m36 0h4m3 0h3m57 0h1m-116 1h2m1 0h2m6 0h2m28 0h1m2 0h5m3 0h1m1 0h1m-54 1h3m1 0h2m4 0h1m32 0h1m3 0h2m-44 1h2m3 0h4m28 0h1m4 0h5"/><path stroke="#d5e7eb" d="M2 4.5h2m5 0h4m1 0h1m5 1h2m1 1h2m2 0h1m2 1h2m1 1h1m4 1h1m0 1h4m0 1h1m0 1h4m2 2h1m2 1h2m3 1h4m3 0h4m-2 1h2m-1 1h1m-1 1h2m0 1h1m3 1h1m-1 1h1m-1 1h1m0 1h1m0 1h1m1 1h1m-1 1h1m-1 1h1m-2 1h3m-3 1h2m-2 1h1m-78 1h6m-1 1h1m70 0h1m-72 1h1m-1 1h1m72 0h8m-82 1h1m26 0h2m51 0h3m-83 1h1m25 0h2m2 0h1m11 0h3m36 0h3m-84 1h1m24 0h1m1 0h1m4 0h1m1 0h1m7 0h1m2 0h1m34 0h1m2 0h2m-84 1h1m22 0h2m4 0h3m1 0h2m2 0h1m2 0h2m1 0h2m38 0h1m-84 1h1m19 0h1m2 0h2m5 0h3m5 0h3m2 0h2m1 0h2m35 0h1m-85 1h2m23 0h1m19 0h1m1 0h2m34 0h1m-85 1h2m25 0h1m18 0h2m36 0h1m-84 1h1m25 0h2m18 0h1m36 0h1m-85 1h1m26 0h1m17 0h2m-50 1h2m26 0h2m17 0h1m38 0h1m-59 1h2m13 0h2m39 0h3m-59 1h1m1 0h1m5 0h1m1 0h3m42 0h3m-59 1h9m48 0h1m-57 1h2m4 0h1m49 0h1m-57 1h1m56 0h1m0 1h1m-6 2h6m-7 1h1m4 0h2m-12 2h2m2 0h1m-6 1h5m-5 1h5m-1 1h1m-1 1h2m-5 1h1m2 0h1m-5 1h4m-4 1h2m-2 1h1m-2 1h2m-2 1h1m-1 1h1m-2 1h2m-4 1h3m-4 1h3m-5 1h2m-2 1h1m-1 1h1m-66 2h1m1 0h1m4 0h2m50 0h1m2 0h1m-61 1h2m2 0h3m3 0h1m44 0h1m-56 1h2m1 0h1m7 0h1m28 0h1m1 0h5m4 0h3m-53 1h1m10 0h1m26 0h1m1 0h2m-32 1h4m24 0h4m-29 1h1m24 0h3"/><path stroke="#bce3f0" d="M0 4.5h2m5 1h1m7 0h5m2 1h1m3 1h1m2 0h1m1 1h2m0 1h5m0 1h1m1 1h3m0 1h1m0 1h3m1 0h1m-1 1h2m0 1h3m1 1h4m4 0h3m-6 1h1m4 0h1m1 0h1m0 1h1m3 3h3m-1 1h1m0 2h1m-71 2h1m71 0h2m-76 1h1m1 0h3m70 0h1m-73 1h2m70 0h1m-74 1h2m-6 1h2m1 0h3m-6 1h7m69 0h1m-71 1h1m69 0h1m-71 1h2m32 0h2m1 0h1m-38 1h2m32 0h3m33 0h1m-71 1h1m23 0h4m42 0h2m-73 1h1m23 0h2m2 0h2m2 0h3m7 0h3m27 0h7m-79 1h1m22 0h2m5 0h5m5 0h1m3 0h2m25 0h4m2 0h3m-80 1h1m21 0h2m6 0h1m1 0h1m1 0h3m2 0h2m4 0h1m25 0h2m4 0h2m1 0h2m-63 1h4m9 0h1m5 0h2m5 0h1m1 0h1m29 0h6m-62 1h2m22 0h1m2 0h1m28 0h2m2 0h2m-82 1h1m17 0h3m1 0h1m21 0h1m2 0h1m28 0h1m-78 1h1m18 0h1m2 0h3m21 0h1m34 0h1m-82 1h1m21 0h3m21 0h1m34 0h1m-83 1h1m21 0h4m20 0h1m31 0h1m3 0h1m-85 1h2m22 0h2m20 0h1m34 0h3m-86 1h2m25 0h1m17 0h2m35 0h2m-84 1h1m26 0h1m13 0h2m39 0h1m-47 1h5m41 0h2m-57 1h1m2 0h4m1 0h3m45 0h1m-59 1h3m1 0h5m45 0h2m3 0h1m-57 1h1m49 0h5m2 0h1m-6 1h7m-8 1h2m-3 1h2m-5 1h5m-6 1h1m2 0h2m-6 1h1m-1 1h1m0 1h4m-4 1h4m-5 1h2m1 0h2m-5 1h1m-2 1h2m-1 1h1m-2 2h1m-1 1h1m-3 1h2m-4 2h1m-3 1h1m-1 1h1m-67 1h1m65 0h1m-67 1h2m1 0h2m58 0h3m-63 1h1m1 0h1m1 0h2m2 0h4m44 0h2m-55 1h2m7 0h1m33 0h3m1 0h1m1 0h1m1 0h2m-53 1h1m9 0h1m6 0h2m17 0h2m1 0h1m-29 1h2m4 0h2m16 0h2m-24 1h2m2 0h4m14 0h2m-24 1h3m1 0h4m14 0h2"/><path stroke="#a0def4" d="M3 5.5h4m1 0h3m1 0h3m5 1h2m2 1h2m1 0h2m1 1h1m1 1h1m6 2h1m1 1h2m-1 1h2m3 0h1m-3 1h1m1 0h1m1 1h1m2 1h2m4 1h1m1 0h4m1 0h1m-6 1h1m4 0h2m-1 1h2m0 1h2m0 1h1m2 2h1m-72 2h3m69 0h2m-76 1h4m1 0h5m-10 1h2m1 0h1m3 0h1m1 0h2m65 0h1m-77 1h5m2 0h1m68 0h1m-77 1h4m2 0h1m69 0h1m-75 1h1m3 0h1m69 0h1m-70 2h1m31 0h4m-4 1h1m2 0h1m32 0h1m-68 1h1m30 0h1m3 0h1m1 0h1m29 0h1m-69 1h2m19 0h2m4 0h1m1 0h6m3 0h3m27 0h1m-70 1h1m21 0h1m6 0h2m3 0h2m2 0h3m3 0h1m25 0h1m-50 1h1m12 0h2m2 0h1m30 0h1m4 0h2m-57 1h2m15 0h2m7 0h2m25 0h4m-76 1h1m44 0h1m1 0h1m23 0h5m-76 1h1m16 0h2m53 0h1m1 0h2m2 0h2m-63 1h1m3 0h1m26 0h1m26 0h1m1 0h1m1 0h2m-81 1h1m16 0h1m1 0h2m25 0h2m26 0h3m-77 1h2m16 0h3m25 0h1m26 0h5m-79 1h1m16 0h2m1 0h1m25 0h1m27 0h3m1 0h3m-82 1h1m17 0h1m1 0h2m23 0h1m30 0h3m-81 1h2m18 0h5m20 0h2m31 0h2m-81 1h2m20 0h2m1 0h1m16 0h4m33 0h2m-82 1h1m16 0h1m4 0h5m14 0h2m37 0h2m-61 1h6m11 0h4m37 0h4m-59 1h1m9 0h2m1 0h2m39 0h1m2 0h3m-67 1h1m7 0h3m1 0h2m52 0h2m-60 1h4m49 0h2m-2 1h1m-3 1h2m-4 1h1m-2 1h1m-2 1h1m-1 1h1m0 1h1m-1 1h1m-2 1h1m-1 1h1m-2 1h1m-1 1h2m-1 1h1m-2 1h1m-2 1h2m-3 2h1m-69 1h1m64 0h2m-68 1h1m64 0h1m-66 1h1m2 0h2m1 0h1m57 0h2m-65 1h1m1 0h4m2 0h1m53 0h3m-64 1h1m2 0h7m47 0h4m-57 1h1m8 0h1m32 0h2m8 0h1m-43 1h2m5 0h1m18 0h7m3 0h1m1 0h1m1 0h1m-40 1h2m2 0h2m2 0h1m12 0h4m-23 1h4m2 0h8m5 0h3m-20 1h2m4 0h7m5 0h2m-19 1h1m4 0h6m5 0h3"/><path stroke="#82daf7" d="M2 5.5h1m8 0h1m-7 1h2m6 0h7m2 1h2m5 1h1m1 1h1m0 1h6m0 1h1m1 1h1m0 1h1m1 1h2m1 0h1m1 1h1m1 1h2m2 1h4m3 1h4m0 1h1m-1 1h3m1 1h1m1 1h2m-73 2h5m68 0h1m-74 1h2m3 0h6m-1 1h1m32 0h1m30 0h2m-68 1h1m32 0h5m29 0h1m-68 1h3m33 0h2m29 0h1m-69 1h2m1 0h1m25 0h2m1 0h1m3 0h1m31 0h1m-69 1h1m28 0h5m34 0h1m-69 1h1m27 0h8m-32 1h2m23 0h3m4 0h3m29 0h1m-68 1h5m19 0h1m3 0h3m5 0h2m25 0h4m-66 1h3m17 0h1m1 0h8m5 0h1m1 0h2m1 0h1m21 0h4m-66 1h2m16 0h1m7 0h1m6 0h3m3 0h4m15 0h2m3 0h3m-68 1h1m18 0h2m14 0h2m7 0h1m14 0h3m6 0h1m-70 1h1m17 0h3m15 0h2m7 0h2m14 0h2m-63 1h1m16 0h2m28 0h1m21 0h1m-69 1h1m14 0h2m30 0h1m21 0h1m-70 1h1m1 0h2m9 0h3m31 0h1m22 0h1m1 0h1m-73 1h5m8 0h1m1 0h1m55 0h3m3 0h1m-78 1h5m6 0h1m1 0h3m31 0h2m23 0h1m3 0h3m-78 1h1m8 0h7m29 0h1m24 0h1m5 0h2m-80 1h2m8 0h6m2 0h1m27 0h1m25 0h1m-74 1h2m9 0h6m1 0h1m26 0h2m26 0h2m-76 1h1m11 0h6m27 0h1m29 0h1m-77 1h1m12 0h3m2 0h2m2 0h1m21 0h1m31 0h1m-79 1h2m13 0h1m1 0h1m2 0h1m21 0h3m28 0h2m2 0h2m-80 1h2m14 0h5m21 0h2m30 0h2m1 0h2m-63 1h8m12 0h1m2 0h3m35 0h1m-62 1h1m1 0h4m1 0h2m6 0h9m37 0h1m-62 1h3m5 0h1m4 0h2m2 0h1m43 0h1m-54 1h3m47 0h1m1 0h2m-48 1h1m43 0h2m-47 1h1m43 0h1m-3 1h2m-2 1h1m0 2h1m-2 1h2m-2 1h1m-2 1h2m-3 1h2m-2 1h2m-1 1h2m-2 1h1m-2 1h1m-2 1h2m-3 1h2m-69 1h1m1 0h2m61 0h1m-65 1h6m57 0h1m-64 1h2m2 0h1m1 0h2m54 0h1m-62 1h1m4 0h2m1 0h2m36 0h3m11 0h1m-51 1h1m35 0h5m1 0h1m3 0h1m-43 1h3m4 0h1m18 0h4m1 0h1m2 0h8m-40 1h1m2 0h2m1 0h1m4 0h3m7 0h3m-23 1h2m5 0h6m1 0h1m-1 1h1m3 0h1m-4 1h5m-6 1h2m1 0h2"/><path stroke="#64d6fa" d="M0 5.5h2m0 1h3m2 0h5m-9 1h1m17 0h1m2 1h5m1 1h1m0 1h1m0 1h2m3 0h1m1 1h1m0 1h1m0 1h2m1 1h4m1 1h1m2 1h2m4 1h2m0 1h5m-2 1h1m1 1h4m-69 1h4m65 0h2m-71 1h5m67 0h1m-68 1h1m3 0h2m31 0h1m29 0h1m-62 1h1m30 0h3m27 0h2m-63 1h1m28 0h3m1 0h3m26 0h1m-63 1h1m25 0h4m5 0h1m26 0h2m-64 1h1m24 0h8m2 0h1m27 0h1m-66 1h1m1 0h1m23 0h1m2 0h1m1 0h3m1 0h2m28 0h1m-67 1h9m17 0h2m5 0h4m29 0h1m-67 1h2m1 0h5m3 0h1m13 0h2m8 0h3m26 0h4m-68 1h1m1 0h1m2 0h3m17 0h3m10 0h2m1 0h3m18 0h5m-62 1h3m14 0h2m1 0h3m10 0h5m18 0h2m-59 1h2m12 0h3m1 0h1m17 0h1m1 0h2m15 0h4m-60 1h3m12 0h1m31 0h1m5 0h3m2 0h3m-64 1h3m13 0h2m26 0h1m5 0h1m6 0h1m3 0h2m3 0h1m-68 1h2m14 0h1m29 0h1m12 0h1m2 0h1m3 0h2m-68 1h1m46 0h1m11 0h3m5 0h1m-67 1h3m8 0h3m53 0h1m-68 1h1m2 0h1m7 0h1m35 0h1m5 0h2m-51 1h1m5 0h2m1 0h1m33 0h1m6 0h2m13 0h1m-66 1h1m2 0h3m1 0h1m36 0h1m5 0h1m15 0h1m-70 1h3m3 0h2m37 0h3m17 0h2m-68 1h1m6 0h1m37 0h1m20 0h2m1 0h1m-71 1h2m5 0h2m36 0h1m21 0h4m-73 1h3m6 0h2m34 0h1m23 0h3m1 0h1m-75 1h5m4 0h3m3 0h2m27 0h1m25 0h2m2 0h1m-76 1h2m2 0h4m2 0h3m3 0h2m25 0h2m24 0h2m2 0h1m-75 1h1m6 0h3m3 0h1m28 0h3m25 0h2m2 0h1m-77 1h2m7 0h2m4 0h1m26 0h2m28 0h5m-76 1h1m13 0h1m6 0h1m17 0h1m31 0h5m-62 1h1m3 0h1m1 0h3m7 0h2m1 0h6m6 0h1m25 0h5m-61 1h3m2 0h3m3 0h5m1 0h2m3 0h1m32 0h3m1 0h1m-59 1h1m2 0h10m1 0h1m40 0h2m-57 1h1m3 0h6m1 0h1m1 0h1m40 0h2m-48 1h1m2 0h3m39 1h1m-1 1h2m-1 1h1m-3 2h2m-3 1h2m-2 2h1m-2 1h3m-4 1h4m-5 1h4m-4 1h3m-68 1h5m60 0h2m-63 1h3m57 0h1m-58 1h3m38 0h1m13 0h2m-55 1h2m37 0h3m11 0h1m-45 1h2m31 0h2m2 0h1m2 0h4m-49 1h7m12 0h1m5 0h1m7 0h2m5 0h1m1 0h3m-39 1h4m1 0h1m4 0h5m5 0h3m4 0h1m-28 1h2m4 0h4m3 0h2m4 0h1m-7 1h1m1 0h1m1 0h2m-4 1h3m-2 2h1"/><path stroke="#45d2fd" d="M1 6.5h1m10 0h1m-11 1h1m1 0h3m7 0h7m-18 1h1m18 0h2m5 1h1m0 1h1m0 1h1m2 0h2m2 1h1m0 1h1m0 1h1m0 1h3m-1 1h1m1 0h4m-3 1h1m4 0h1m1 1h1m3 0h1m1 1h1m2 1h1m1 0h1m-65 1h4m59 0h2m-61 1h1m58 0h6m-64 1h1m28 0h1m3 0h2m25 0h1m3 0h3m-66 1h3m2 0h2m19 0h2m4 0h4m1 0h2m6 0h1m17 0h3m-42 1h6m2 0h4m3 0h1m5 0h2m17 0h1m-40 1h1m1 0h2m1 0h4m9 0h3m19 0h1m-60 1h1m21 0h3m14 0h1m20 0h1m-61 1h5m18 0h1m11 0h1m3 0h1m21 0h1m-62 1h5m16 0h2m11 0h1m26 0h1m-57 1h1m2 0h1m11 0h2m11 0h2m4 0h1m20 0h2m-64 1h1m5 0h3m1 0h1m10 0h2m13 0h3m1 0h2m18 0h2m-63 1h1m6 0h6m8 0h3m15 0h1m3 0h3m13 0h2m-54 1h1m2 0h3m4 0h4m21 0h3m2 0h1m10 0h2m-55 1h2m4 0h3m2 0h1m26 0h2m2 0h1m1 0h1m2 0h6m-53 1h1m3 0h2m2 0h4m26 0h1m3 0h2m1 0h5m-53 1h4m4 0h2m1 0h2m29 0h1m1 0h1m1 0h1m1 0h2m1 0h3m6 0h3m-65 1h3m1 0h1m4 0h3m33 0h1m2 0h1m1 0h1m2 0h4m4 0h3m-65 1h4m5 0h6m32 0h1m5 0h2m2 0h1m3 0h3m1 0h1m-63 1h1m6 0h1m36 0h1m4 0h5m1 0h5m3 0h1m-59 1h3m37 0h1m3 0h1m2 0h6m6 0h2m-64 1h5m38 0h1m3 0h2m2 0h4m7 0h2m-64 1h2m42 0h1m1 0h3m1 0h4m7 0h4m-66 1h3m42 0h9m7 0h1m2 0h2m-69 1h6m39 0h4m2 0h1m2 0h3m7 0h1m2 0h1m-65 1h2m39 0h1m3 0h1m5 0h4m4 0h1m1 0h1m-66 1h2m2 0h2m37 0h2m11 0h4m1 0h5m3 0h1m-69 1h1m2 0h1m36 0h2m14 0h7m1 0h1m2 0h2m-73 1h2m4 0h2m35 0h2m19 0h3m5 0h1m-75 1h1m2 0h3m3 0h3m32 0h3m20 0h2m-70 1h1m5 0h1m2 0h2m1 0h1m29 0h5m16 0h1m4 0h2m-72 1h1m1 0h2m5 0h2m3 0h1m26 0h7m18 0h2m2 0h2m-72 1h4m6 0h1m9 0h1m19 0h1m1 0h4m1 0h1m19 0h1m3 0h1m-57 1h1m3 0h2m11 0h1m2 0h3m1 0h1m26 0h3m-54 1h2m1 0h2m12 0h1m1 0h4m28 0h4m1 0h1m-56 1h1m1 0h3m6 0h1m3 0h2m3 0h1m30 0h1m2 0h1m-56 1h10m1 0h2m3 0h1m34 0h5m-54 1h1m6 0h4m1 0h2m27 0h2m8 0h2m-46 1h3m42 1h2m-4 1h4m-4 1h2m-2 2h2m-2 1h1m-3 1h2m-52 1h1m49 0h1m-66 1h1m2 0h2m8 0h1m-14 1h6m5 0h4m49 0h1m-60 1h4m2 0h3m50 0h1m-58 1h6m35 0h2m12 0h2m-54 1h2m6 0h2m27 0h1m1 0h2m10 0h1m-51 1h1m5 0h5m25 0h1m3 0h2m5 0h4m-50 1h1m3 0h2m2 0h1m18 0h2m3 0h1m1 0h2m5 0h2m1 0h2m-38 1h1m1 0h3m3 0h4m1 0h2m4 0h7m-21 1h1m2 0h1m5 0h2m1 0h2m-5 1h2m1 0h1m-3 1h1"/><path stroke="#2ecdf6" d="M0 6.5h1m-1 1h2m5 0h2m1 0h1m1 0h2m-14 1h3m1 0h2m14 0h2m1 1h1m1 0h1m2 0h1m0 1h1m0 1h1m5 0h1m-7 1h5m5 3h1m1 1h1m1 0h1m-45 1h1m43 0h2m1 0h4m-6 1h2m5 0h1m1 0h3m-56 1h1m-2 1h3m30 0h2m25 0h2m-58 1h1m28 0h3m13 0h3m9 0h2m-58 1h1m27 0h3m1 0h3m11 0h1m10 0h1m-56 1h7m16 0h4m1 0h1m1 0h1m2 0h2m1 0h2m5 0h4m10 0h1m1 0h3m-56 1h1m16 0h2m2 0h4m7 0h1m3 0h2m1 0h3m10 0h4m-57 1h2m15 0h1m6 0h2m8 0h5m2 0h1m14 0h2m1 0h1m-60 1h2m1 0h1m13 0h2m1 0h1m2 0h1m11 0h2m3 0h1m16 0h2m1 0h1m-60 1h4m12 0h2m1 0h2m13 0h4m1 0h1m18 0h1m-55 1h1m1 0h1m13 0h2m13 0h3m1 0h1m19 0h1m-56 1h5m10 0h1m14 0h5m20 0h1m-55 1h2m1 0h1m9 0h1m15 0h4m1 0h1m17 0h2m-51 1h2m4 0h4m18 0h1m2 0h4m13 0h1m-48 1h1m3 0h4m25 0h1m11 0h1m-51 1h2m3 0h4m28 0h2m6 0h5m-51 1h4m3 0h2m29 0h2m1 0h1m1 0h2m-46 1h1m4 0h2m31 0h1m1 0h1m-41 1h1m1 0h2m2 0h1m32 0h1m1 0h1m4 0h1m-50 1h1m1 0h2m1 0h1m3 0h2m32 0h2m1 0h1m1 0h2m-50 1h5m39 0h5m2 0h2m7 0h1m-61 1h6m38 0h4m5 0h1m5 0h3m-62 1h4m41 0h1m1 0h1m9 0h3m1 0h2m-18 1h3m8 0h7m-17 1h1m8 0h7m-8 1h2m1 0h4m-15 1h2m1 0h2m3 0h1m2 0h4m-64 1h3m42 0h3m1 0h3m1 0h1m4 0h4m1 0h1m-63 1h2m41 0h2m2 0h1m5 0h1m4 0h1m-59 1h2m39 0h2m11 0h1m7 0h1m-23 1h2m13 0h4m-65 1h2m44 0h2m13 0h5m-67 1h1m2 0h2m5 0h1m35 0h2m13 0h1m1 0h4m-62 1h1m2 0h1m36 0h1m15 0h2m2 0h2m-66 1h1m3 0h2m1 0h1m2 0h1m26 0h1m6 0h1m16 0h2m1 0h3m-70 1h3m5 0h6m25 0h1m4 0h3m21 0h2m-60 1h4m18 0h1m4 0h2m25 0h1m4 0h1m-57 1h2m17 0h3m1 0h2m19 0h2m5 0h2m1 0h2m-56 1h1m17 0h5m20 0h5m3 0h1m-50 1h1m1 0h6m4 0h1m2 0h1m2 0h1m19 0h4m2 0h1m5 0h2m-50 1h2m7 0h6m20 0h8m5 0h4m-53 1h3m4 0h3m28 0h4m7 0h3m-52 1h4m34 0h3m-38 1h2m32 0h1m-34 1h1m45 0h1m-39 1h2m24 0h1m-27 1h2m23 0h3m8 0h2m-67 1h2m1 0h2m9 0h2m13 0h2m26 0h1m6 0h1m-65 1h6m6 0h1m1 0h1m1 0h1m6 0h3m2 0h4m32 0h1m-64 1h2m2 0h4m2 0h2m1 0h3m3 0h2m2 0h2m1 0h1m2 0h1m32 0h2m-59 1h5m4 0h1m2 0h3m4 0h2m28 0h1m7 0h1m-55 1h2m3 0h2m2 0h3m3 0h3m20 0h3m11 0h3m-51 1h9m2 0h3m20 0h1m2 0h1m10 0h1m-50 1h6m2 0h5m1 0h1m13 0h1m1 0h1m3 0h1m4 0h1m5 0h4m-49 1h1m1 0h3m5 0h3m4 0h1m9 0h8m6 0h5m-45 1h3m5 0h4m2 0h7m3 0h2m2 0h3m1 0h1m-25 1h1m3 0h3m7 0h3m-12 1h2m8 0h1m-1 1h1"/><path stroke="#24c7de" d="M9 7.5h1m1 0h1m-6 1h1m7 0h6m-19 1h4m16 0h2m1 0h1m1 0h2m-26 1h1m26 1h1m-1 1h1m6 0h2m-9 1h4m5 0h1m-7 1h1m6 0h1m-40 1h1m4 0h1m-6 1h2m1 0h3m35 0h1m-41 1h1m2 0h2m22 0h1m14 0h1m-44 1h5m22 0h2m14 0h2m2 0h5m-52 1h1m1 0h4m21 0h1m3 0h4m9 0h4m1 0h6m2 0h2m-56 1h3m25 0h2m2 0h1m1 0h1m6 0h9m-48 1h1m22 0h5m3 0h4m4 0h5m3 0h1m-47 1h8m13 0h6m3 0h1m3 0h11m1 0h1m1 0h1m6 0h1m-56 1h1m7 0h1m13 0h2m6 0h1m5 0h1m2 0h2m1 0h2m4 0h2m5 0h3m-50 1h3m11 0h2m16 0h3m6 0h8m1 0h1m-51 1h4m10 0h1m25 0h8m4 0h2m-54 1h1m1 0h1m11 0h1m24 0h4m1 0h6m3 0h2m-52 1h1m1 0h2m1 0h2m4 0h1m2 0h1m21 0h1m8 0h2m5 0h2m-53 1h1m1 0h3m4 0h6m20 0h1m9 0h1m6 0h2m-50 1h1m4 0h5m20 0h3m15 0h2m-50 1h1m4 0h4m22 0h3m12 0h2m-44 1h1m37 0h5m-46 1h3m30 0h2m4 0h5m-10 1h5m-46 2h2m36 0h1m-39 1h1m-1 1h1m41 3h1m13 0h1m-5 3h1m-2 1h2m-8 1h1m-7 1h2m1 0h5m-10 1h2m1 0h5m1 0h2m-12 1h1m11 0h1m-13 1h1m10 0h2m-61 1h2m45 0h1m10 0h2m-60 1h1m2 0h1m4 0h2m35 0h2m4 0h1m-44 1h2m35 0h2m4 0h1m8 0h1m-65 1h1m3 0h1m3 0h1m32 0h4m3 0h1m6 0h4m5 0h2m-65 1h1m1 0h1m5 0h2m29 0h2m5 0h1m8 0h4m4 0h1m-53 1h2m25 0h1m15 0h3m2 0h5m-52 1h1m23 0h2m15 0h3m5 0h3m-51 1h2m16 0h2m1 0h3m15 0h1m7 0h2m1 0h2m-51 1h3m2 0h4m10 0h1m1 0h1m15 0h1m8 0h1m3 0h1m-51 1h2m3 0h1m2 0h1m3 0h2m1 0h3m19 0h3m4 0h1m-47 1h1m1 0h2m4 0h2m2 0h1m6 0h1m19 0h3m3 0h1m7 0h1m-54 1h7m2 0h2m6 0h1m22 0h1m1 0h3m8 0h1m-54 1h4m3 0h1m1 0h1m6 0h3m21 0h5m8 0h1m-67 1h2m11 0h2m16 0h1m10 0h1m10 0h2m1 0h6m4 0h1m-67 1h2m1 0h1m9 0h3m12 0h1m2 0h1m20 0h2m3 0h4m2 0h2m-63 1h1m2 0h1m6 0h2m2 0h1m6 0h6m2 0h1m20 0h5m1 0h2m3 0h1m-58 1h2m3 0h1m1 0h1m5 0h3m4 0h2m13 0h1m10 0h3m1 0h4m2 0h2m-55 1h2m6 0h3m2 0h2m2 0h1m1 0h2m1 0h1m6 0h1m1 0h3m9 0h3m1 0h4m1 0h2m-47 1h2m3 0h1m1 0h2m2 0h4m7 0h4m4 0h3m4 0h2m1 0h2m1 0h4m-47 1h2m3 0h3m3 0h4m7 0h4m4 0h1m3 0h1m3 0h4m1 0h2m-39 1h2m3 0h1m1 0h2m7 0h9m4 0h1m1 0h8m-36 1h1m1 0h4m6 0h3m1 0h1m1 0h3m6 0h5m-44 1h1m11 0h4m1 0h4m3 0h2m-14 1h2m7 0h3"/><path stroke="#1fc0be" d="M7 8.5h1m1 0h5m-14 1h1m4 0h2m8 0h1m1 0h4m-21 1h2m1 0h2m15 0h5m2 0h2m-1 1h1m-1 1h1m6 0h1m-36 1h1m5 0h3m19 0h1m4 0h2m2 0h1m-38 1h2m3 0h4m12 0h1m8 0h2m1 0h1m-33 1h2m1 0h1m1 0h3m22 0h2m6 0h1m-38 1h1m3 0h1m18 0h2m1 0h1m3 0h1m7 0h1m-39 1h2m2 0h1m17 0h4m1 0h3m9 0h2m-38 1h2m18 0h2m2 0h5m-28 1h1m19 0h1m1 0h3m4 0h3m5 0h1m4 0h1m6 0h2m-51 1h1m5 0h1m14 0h4m5 0h1m1 0h2m3 0h1m9 0h2m1 0h1m2 0h1m-54 1h3m2 0h4m12 0h1m12 0h1m1 0h2m9 0h2m5 0h1m-47 1h1m1 0h1m9 0h1m26 0h1m1 0h1m4 0h1m-46 1h5m6 0h2m19 0h1m10 0h3m-44 1h4m6 0h1m35 0h1m-46 1h3m6 0h1m34 0h4m-49 1h5m1 0h2m1 0h2m29 0h1m6 0h3m-49 1h1m2 0h1m2 0h4m26 0h8m2 0h2m1 0h2m-46 1h4m27 0h4m2 0h3m1 0h1m4 0h1m-47 1h1m1 0h2m28 0h4m3 0h8m-47 1h4m29 0h1m6 0h5m-45 1h3m30 0h1m5 0h2m-6 1h2m1 0h1m-7 15h1m5 0h1m-9 1h11m-11 1h2m3 0h5m-11 1h4m2 0h4m-57 1h2m44 0h4m4 0h5m-59 1h1m1 0h1m43 0h4m1 0h8m-59 1h3m41 0h6m4 0h5m-64 1h1m1 0h1m1 0h2m2 0h1m33 0h5m1 0h1m1 0h6m4 0h4m-56 1h4m28 0h1m7 0h7m-47 1h3m1 0h1m26 0h1m10 0h1m1 0h2m-43 1h3m24 0h1m11 0h3m10 0h1m-51 1h2m18 0h1m1 0h1m1 0h1m12 0h2m10 0h3m-53 1h3m6 0h2m6 0h1m3 0h6m5 0h1m5 0h2m8 0h4m1 0h1m-54 1h1m1 0h1m8 0h2m1 0h6m1 0h1m2 0h3m12 0h1m7 0h1m1 0h2m2 0h1m-54 1h1m11 0h1m2 0h3m1 0h3m2 0h1m13 0h3m5 0h4m-62 1h1m11 0h1m4 0h3m3 0h2m3 0h1m3 0h2m8 0h2m6 0h3m5 0h5m-61 1h2m8 0h1m2 0h2m3 0h5m2 0h2m3 0h1m2 0h1m7 0h1m8 0h1m9 0h2m1 0h1m-64 1h1m1 0h1m6 0h2m3 0h1m5 0h6m4 0h1m3 0h1m5 0h3m6 0h1m9 0h2m-57 1h3m2 0h1m5 0h1m2 0h3m9 0h2m7 0h4m6 0h1m8 0h3m-55 1h3m6 0h2m3 0h1m9 0h2m5 0h2m1 0h6m3 0h1m3 0h1m4 0h2m-30 1h2m5 0h1m3 0h6m2 0h1m3 0h1m4 0h1m-39 1h1m8 0h2m4 0h1m4 0h4m3 0h4m5 0h1m-28 1h2m3 0h2m4 0h4m5 0h3m4 0h1m-31 1h1m2 0h1m2 0h1m2 0h1m14 0h1m-22 1h2m3 0h1m-3 1h3"/><path stroke="#1ab99d" d="M8 8.5h1m0 1h2m1 0h1m1 0h1m1 0h1m-12 1h1m10 0h4m5 0h2m-27 1h6m10 0h8m3 0h1m-28 1h4m2 0h1m9 0h1m1 0h4m-21 1h3m1 0h1m12 0h4m13 0h2m-35 1h3m4 0h1m10 0h1m1 0h1m5 0h2m4 0h1m3 0h1m-36 1h1m5 0h1m10 0h4m1 0h1m1 0h4m2 0h1m-27 1h2m12 0h4m2 0h1m1 0h3m1 0h1m5 0h1m-33 1h1m8 0h1m4 0h3m8 0h2m6 0h1m-34 1h1m16 0h1m9 0h1m2 0h1m2 0h3m-36 1h1m3 0h1m4 0h3m6 0h1m12 0h2m1 0h2m-36 1h3m1 0h1m1 0h3m1 0h1m8 0h1m13 0h3m12 0h1m1 0h2m-50 1h2m4 0h2m1 0h1m7 0h1m14 0h1m13 0h2m2 0h1m-45 1h1m1 0h3m5 0h1m33 0h1m-40 1h2m3 0h1m30 0h2m-37 1h2m2 0h2m-6 1h6m-5 1h1m2 0h1m40 1h1m-9 1h2m5 0h4m-45 1h1m34 0h3m-5 1h6m-6 1h5m-2 1h1m-6 17h3m-2 1h2m-2 1h3m-53 1h1m-1 2h2m41 0h1m-50 1h4m1 0h3m33 0h2m1 0h4m-41 1h1m3 0h1m28 0h2m3 0h1m1 0h3m1 0h1m-44 1h3m28 0h2m2 0h1m1 0h2m1 0h2m-41 1h4m25 0h3m2 0h2m4 0h1m-43 1h2m2 0h1m27 0h2m2 0h1m1 0h1m3 0h1m14 0h1m-55 1h2m22 0h2m3 0h2m2 0h3m4 0h1m9 0h1m2 0h2m-65 1h2m5 0h5m13 0h2m7 0h2m1 0h2m1 0h6m2 0h2m12 0h2m1 0h1m-65 1h2m6 0h3m13 0h3m6 0h8m2 0h1m1 0h4m13 0h1m1 0h1m-62 1h2m3 0h3m5 0h3m5 0h2m6 0h2m1 0h6m2 0h1m5 0h2m12 0h1m-60 1h2m1 0h3m6 0h2m1 0h2m11 0h3m1 0h3m1 0h1m3 0h1m-37 1h2m7 0h2m14 0h3m1 0h3m4 0h4m1 0h1m-17 1h5m9 0h3m-17 1h4m11 0h2m-18 1h4m-4 1h3m-4 1h2m1 0h2m-4 1h3"/><path stroke="#16b27b" d="M7 9.5h2m2 0h1m1 0h1m-8 1h1m2 0h2m3 0h2m-10 1h4m5 0h1m8 0h3m-23 1h2m1 0h2m6 0h1m1 0h1m4 0h2m2 0h2m-24 1h1m4 0h1m5 0h3m4 0h2m3 0h1m-18 1h1m4 0h5m3 0h2m2 0h1m7 0h3m-28 1h3m2 0h1m2 0h2m4 0h1m1 0h1m7 0h5m-30 1h2m1 0h1m2 0h6m13 0h1m3 0h1m-31 1h3m1 0h4m1 0h4m13 0h1m3 0h2m-32 1h16m11 0h2m1 0h2m-32 1h3m1 0h4m3 0h1m1 0h1m2 0h1m15 0h1m-31 1h1m5 0h1m1 0h1m6 0h1m-9 1h1m1 0h2m4 0h1m31 0h2m-39 1h2m2 0h1m31 0h3m-37 1h3m-2 1h2m-21 31h1m38 0h1m-43 1h2m1 0h3m35 0h3m1 0h1m-41 1h2m33 0h2m1 0h1m2 0h1m-42 1h3m32 0h2m2 0h1m2 0h1m-43 1h1m2 0h2m30 0h2m-43 1h1m5 0h4m31 0h2m3 0h1m1 0h2m-48 1h1m2 0h2m32 0h1m6 0h2m16 0h1m-62 1h6m36 0h1m18 0h1m-59 1h3m36 0h5m-43 1h1m11 0h1m20 0h1m5 0h5m-14 1h1m11 0h1"/><path stroke="#11ab5a" d="M7 10.5h2m2 0h3m-4 1h2m1 0h2m-6 1h2m2 0h2m9 0h2m-16 1h1m3 0h1m9 0h3m-16 1h1m1 0h2m10 0h2m-14 1h2m1 0h2m-7 1h1m1 0h2m20 0h3m-27 1h1m23 0h3m-18 2h1m1 0h2m-5 1h3m2 0h1m-4 1h2m1 0h1m-3 1h2m-24 34h1m2 0h1m-3 1h1m3 0h1m-2 1h2m40 0h2m-48 1h2m2 0h2m40 0h3m-48 1h2m1 0h2m41 0h1m-45 1h2"/><path stroke="#0ba339" d="M12 11.5h1m-2 1h2m-2 1h3m-2 1h1m9 6h2m-1 1h1m-24 36h1m1 0h3m-5 1h4m-2 1h2m-1 1h1"/></g><path class="co" d="M663.9 420.2L664.4 413.5L663.4 406.8L655.2 393.4L638.7 380.8L625.9 371.6L624.8 364.9L624.3 365.8L611.5 356.6L596.1 344.0L587.8 332.3L585.8 325.6L567.3 319.7L568.3 326.4L582.7 344.0L594.0 358.2L604.3 375.8L610.4 382.5L621.8 388.4L618.7 394.6L613.5 389.2L600.2 381.7L595.0 379.2L596.1 376.7L593.0 374.1L594.0 368.3L582.7 361.6L572.4 357.4L565.2 353.2L573.5 352.4L574.0 346.5L563.2 339.0L555.0 329.8L547.8 320.6L543.6 313.5L541.6 308.9L533.4 303.4L529.3 301.3L521.0 299.6L508.7 297.1L506.7 291.3L494.3 280.4L493.3 276.6L488.2 272.0L492.3 272.0L491.2 267.8L488.2 268.7L483.0 265.3L474.8 257.0L469.1 248.2L471.7 242.7L470.7 234.4L467.6 227.2L471.7 217.6L473.3 199.2L471.7 194.2L465.5 181.2L481.0 182.9L486.1 184.1L489.2 190.0L484.0 191.7L488.2 185.8L490.2 181.6L485.1 175.8L481.0 173.3L467.6 167.4L457.3 163.2L439.9 159.0L432.7 152.3L438.8 150.7L431.6 146.5L421.4 139.8L413.1 142.3L402.9 129.7L413.1 123.9L411.1 118.0L395.7 111.3L375.1 99.6L352.5 85.4L340.2 87.9L325.8 91.2L313.4 85.4L315.5 82.9L296.0 84.5L267.2 83.7L258.0 80.4L244.6 78.7L241.5 74.5L228.1 73.7L222.0 77.0L222.0 82.9L206.6 84.5L188.1 90.4L188.1 84.5L195.3 79.5L209.6 75.3L208.6 71.1L190.1 77.0L175.7 81.2L176.8 86.2L163.4 91.2L164.4 95.4L138.7 106.3L113.0 117.2L82.2 124.7L53.4 130.6L69.9 126.0L86.3 118.9L102.8 117.6L113.0 116.8L114.1 112.2L128.5 103.8L129.5 99.6L134.6 92.9L122.3 94.6L118.2 91.2L115.1 94.6L102.8 92.9L81.2 94.6L85.3 92.9L80.2 80.4L64.7 85.4L51.4 78.7L68.9 77.0L50.4 76.2L41.1 68.6L53.4 62.8L58.6 56.9L80.2 55.2L93.5 52.7L90.4 47.7L94.5 43.5L69.9 46.0L39.1 44.4L34.9 40.2L20.6 36.8L42.1 32.6L59.6 28.5L85.3 28.5L101.7 30.1L83.2 27.2L80.2 25.9L56.5 20.9L34.9 14.2L39.1 10.0L58.6 7.5L75.0 -0.8"/><path class="co" d="M478.9 181.2L465.5 179.5L452.2 173.3L433.7 166.6L427.5 161.1L441.9 162.4L459.4 167.4L472.7 174.1L478.9 181.2"/><path class="co" d="M399.8 150.7L387.4 142.3L379.2 133.1L393.6 133.9L384.4 138.1L392.6 140.6L399.8 150.7"/><path class="co" d="M341.1 95.2L348.0 103.5L345.2 106.3L357.5 115.9L360.3 114.6L354.8 106.3L360.3 103.5"/><path class="co" d="M346.5 92.4L357.5 97.9L364.4 109.1L361.6 111.8L374.0 117.3L376.8 122.9L382.2 124.2"/><path class="co" d="M354.8 91.1L365.8 96.6L376.8 107.6L382.2 111.8L387.7 113.2L398.7 117.3L396.0 124.2L387.7 121.4"/><path class="co" d="M363.0 102.1L371.3 103.5L368.5 109.1L379.5 115.9L376.8 111.8L385.0 117.3"/><path class="co" d="M371.3 117.3L379.5 128.4L382.2 122.9L387.7 125.6L385.0 120.1"/><path class="co" d="M352.1 97.9L360.3 96.6"/><path class="co" d="M358.9 107.6L368.5 105.5"/><path class="co" d="M365.8 113.2L374.0 110.4"/><path class="co" d="M372.6 120.1L382.2 117.3"/><path class="co" d="M382.2 115.9L393.2 115.9"/><path class="co" d="M387.7 118.7L396.0 120.1"/><path class="co" d="M342.4 96.6L352.1 102.1L349.3 96.6"/><path class="co" d="M376.8 117.3L371.3 113.2"/><path class="co" d="M407.0 133.9L415.2 135.6L412.1 138.9L421.4 139.8L419.3 143.1L427.5 144.0L425.5 147.3L433.7 148.1L430.6 151.5L436.8 153.2"/><path class="co" d="M381.3 137.3L394.6 138.1L387.4 142.3L391.6 145.6"/><path class="fi" d="M487.1 182.5L491.2 184.1L491.2 190.0L487.1 192.5L484.0 190.0L487.1 187.5"/><path class="co" d="M157.2 107.1L168.5 101.3L181.9 97.1L184.0 103.8L168.5 108.8L157.2 107.1"/><path class="co" d="M172.7 97.9L180.9 95.0L186.0 97.9L176.8 99.6"/><path class="co" d="M26.7 82.0L39.1 79.9L45.2 83.7L37.0 85.4L26.7 82.0"/><path class="fi" d="M-2.1 54.0L13.4 55.7L-2.1 57.8"/><path class="fi" d="M-2.1 145.2L3.1 143.5L-2.1 143.1"/><path class="fi" d="M12.3 141.9L22.6 138.9L21.6 137.7L11.8 140.6"/><path class="fi" d="M25.7 138.1L38.0 134.8L37.0 133.5L25.2 136.8"/><path class="fi" d="M40.1 133.9L45.2 132.7L44.7 131.4L39.6 132.7"/><path class="fi" d="M48.3 133.1L52.4 132.2L51.9 131.4L47.8 132.2"/><path class="fi" d="M71.9 131.0L77.1 131.4L77.1 129.7L71.9 129.7"/><path class="fi" d="M94.5 123.0L100.7 124.3L108.9 126.4L108.9 125.5L100.7 123.0L94.5 122.2"/><path class="fi" d="M144.9 119.3L149.0 119.3L149.0 117.6L144.9 117.6"/><path class="fi" d="M156.2 113.4L163.4 112.6L163.4 111.3L156.2 112.2"/><path class="fi" d="M104.8 401.8L107.9 399.7L110.5 401.3L107.9 403.0"/><path class="fi" d="M99.7 403.0L102.3 401.8L102.3 403.4"/><path class="fi" d="M120.2 405.9L123.8 404.1L126.9 407.6L122.3 408.0"/><path class="fi" d="M130.5 409.3L136.2 408.9L136.2 408.0L130.5 408.3"/><path class="fi" d="M136.7 410.5L141.8 410.5L143.9 412.6L139.3 413.5"/><path class="fi" d="M144.9 416.4L152.1 418.9L154.2 421.8L142.8 421.8"/><path class="fi" d="M509.2 300.9L518.5 301.3L518.5 302.0L509.2 302.0"/><path class="fi" d="M518.0 307.2L520.0 308.0L519.5 307.2"/><path class="fi" d="M528.2 305.5L531.3 307.2L531.3 306.3"/><path class="fi" d="M528.2 309.3L530.8 311.4L529.8 309.3"/><path class="fi" d="M530.3 341.5L532.3 344.4L532.3 341.5"/><path class="fi" d="M561.6 348.6L563.7 351.1L563.7 348.6"/><path class="fi" d="M579.6 338.6L584.2 343.2L582.7 339.4"/><path class="fi" d="M590.4 341.5L594.0 344.8L593.5 341.9"/><path class="fi" d="M650.5 403.9L654.6 406.8L654.1 404.7"/><path class="fi" d="M612.5 376.2L614.0 377.9L613.5 375.8"/><path class="fi" d="M604.8 367.4L606.3 369.5L605.8 367.0"/><path class="co" d="M298.0 2.9L325.8 5.9L350.4 8.4L364.8 5.0L380.2 4.6L394.6 0.8L421.4 -1.7"/><path class="co" d="M375.1 10.0L400.8 5.4L424.4 0.8L441.9 -2.5"/><path class="co" d="M441.9 -0.8L457.3 5.9L467.6 0.4L469.7 5.0L484.0 0.4L503.6 2.5L539.5 8.4L572.4 13.4L563.2 17.6L585.8 18.8L621.8 18.4L638.2 26.8L643.3 25.1L638.2 20.1L631.0 15.9L654.6 10.0L673.1 8.8"/><path class="co" d="M539.5 -0.8L565.2 5.9L588.9 11.7L621.8 10.9L654.6 6.7L673.1 5.0"/><path class="bo" d="M298.0 -1.7L298.0 81.2L317.6 82.9L334.0 92.9L354.6 85.4L370.0 93.7L390.5 108.8L411.1 117.2"/><path class="bo" d="M485.1 175.8L678.3 175.8"/><path class="bo" d="M473.3 199.2L490.2 204.2L521.0 201.7L544.2 200.9"/><path class="bo" d="M544.2 175.8L544.2 200.9L549.8 205.5L544.7 216.8L544.4 234.4"/><path class="bo" d="M554.4 175.8L556.0 186.7L571.4 198.4L572.4 205.1L585.8 213.4L605.8 212.6"/><path class="bo" d="M678.3 209.2L605.8 209.2L605.8 242.7L678.3 242.7"/><path class="bo" d="M470.7 234.4L605.8 234.4"/><path class="bo" d="M513.8 234.4L513.8 259.5L569.3 292.1L567.3 298.8L571.4 302.2L568.3 312.2"/><path class="bo" d="M575.0 234.4L575.0 282.9L568.3 284.6L569.3 292.1"/><path class="bo" d="M575.0 276.2L678.3 276.2"/><path class="bo" d="M626.4 242.7L626.4 323.5"/><path class="bo" d="M543.6 313.5L568.3 312.2L605.8 323.5L635.1 323.5L635.1 319.7L652.6 319.7L678.3 318.1"/><path class="bo" d="M652.6 319.7L668.0 328.9L673.1 338.1"/></g><path class="tk" d="M0.0 418.5v-8M51.4 418.5v-8M102.8 418.5v-8M154.2 418.5v-8M205.5 418.5v-8M256.9 418.5v-8M308.3 418.5v-8M359.7 418.5v-8M411.1 418.5v-8M462.5 418.5v-8M513.8 418.5v-8M565.2 418.5v-8M616.6 418.5v-8M668.0 418.5v-8M0 418.5h8M0 376.7h8M0 334.8h8M0 292.9h8M0 251.1h8M0 209.2h8M0 167.4h8M0 125.5h8M0 83.7h8M0 41.9h8M0 0.0h8"/><rect class="fr" width="668.0" height="418.5"/><text class="tt" x="334.0" y="-30.8">Forecasted Number of AR Days</text><text class="sl" x="2" y="-7.2">Dec 16 to Dec 22, Forecast</text><text class="sr" x="667.0" y="-7.2">15−day to 21−day lead</text><text class="yl" x="-4.5" y="426.9">20°N</text><text class="yl" x="-4.5" y="343.2">30°N</text><text class="yl" x="-4.5" y="259.5">40°N</text><text class="yl" x="-4.5" y="175.8">50°N</text><text class="yl" x="-4.5" y="92.1">60°N</text><text class="yl" x="-4.5" y="8.4">70°N</text><text class="xl" x="0.0" y="450.5">170°W</text><text class="xl" x="102.8" y="450.5">160°W</text><text class="xl" x="205.5" y="450.5">150°W</text><text class="xl" x="308.3" y="450.5">140°W</text><text class="xl" x="411.1" y="450.5">130°W</text><text class="xl" x="513.8" y="450.5">120°W</text><text class="xl" x="616.6" y="450.5">110°W</text><rect x="688.6" y="0" width="20.2" height="418.5" fill="url(#gar)" stroke="#000" stroke-width="3"/><path class="tk" d="M688.6 0.0h7M708.8 0.0h-7"/><text class="cl" x="709.8" y="8.5">1.5</text><path class="tk" d="M688.6 139.5h7M708.8 139.5h-7"/><text class="cl" x="709.8" y="148.0">1</text><path class="tk" d="M688.6 279.0h7M708.8 279.0h-7"/><text class="cl" x="709.8" y="287.5">0.5</text><path class="tk" d="M688.6 418.5h7M708.8 418.5h-7"/><text class="cl" x="709.8" y="427.0">0</text></g><g transform="translate(1779.5 997.1)"><clipPath id="cp1779_997"><rect width="668.0" height="418.5"/></clipPath><g clip-path="url(#cp1779_997)"><rect width="668.0" height="418.5" fill="#fff"/><g transform="scale(5.1385 5.1667)" fill="none" stroke-width="1.06" shape-rendering="crispEdges"><path stroke="#ffeed2" d="M122 4.5h3m-1 1h1"/><path stroke="#ffebc4" d="M83 0.5h2m-2 1h2m-3 1h3m-3 1h3m0 1h37m-35 1h1m4 0h7m1 0h1m3 0h2m1 0h17m-2 1h3m1 2h4m-3 1h3m-3 1h1"/><path stroke="#ffe9b7" d="M27 0.5h2m4 0h15m6 0h29m-55 1h1m1 0h1m1 0h19m3 0h29m-52 1h20m3 0h1m1 0h26m-49 1h12m3 0h3m3 0h1m2 0h25m-47 1h11m1 0h3m9 0h4m6 0h16m-47 1h7m4 0h1m11 0h1m8 0h7m1 0h9m1 0h4m7 0h1m1 0h3m2 0h1m-68 1h5m5 0h1m12 0h2m7 0h1m1 0h2m4 0h43m-61 1h4m8 0h1m6 0h45m-63 1h2m1 0h1m14 0h25m1 0h20m-45 1h8m1 0h1m2 0h1m1 0h10m5 0h1m1 0h15m-45 1h8m5 0h11m4 0h1m1 0h15m1 0h2m-47 1h6m9 0h8m1 0h23m-29 1h19m1 0h1m1 0h7m-27 1h8m1 0h4m9 0h4m-22 1h4m1 0h1m14 0h1"/><path stroke="#ffeaa7" d="M14 0.5h1m1 0h3m5 0h3m2 0h4m15 0h6m-35 1h1m4 0h4m1 0h1m1 0h1m19 0h3m-30 1h7m20 0h3m1 0h1m-31 1h8m12 0h3m3 0h3m1 0h2m-31 1h9m11 0h1m3 0h9m4 0h6m-40 1h1m1 0h1m1 0h5m7 0h4m1 0h11m1 0h8m7 0h1m-44 1h5m5 0h5m1 0h12m2 0h7m1 0h1m2 0h4m-43 1h25m4 0h8m1 0h6m-43 1h15m6 0h4m2 0h1m1 0h14m25 0h1m-46 1h21m8 0h1m1 0h2m1 0h1m10 0h5m1 0h1m-51 1h6m4 0h11m8 0h5m11 0h4m1 0h1m-34 1h5m6 0h9m8 0h1m-26 1h20m19 0h1m1 0h1m-40 1h10m3 0h7m8 0h1m4 0h9m4 0h1m-30 1h7m4 0h1m1 0h14m1 0h2m-27 1h27m-25 1h9m3 0h13m-7 1h5m-65 63h1"/><path stroke="#ffec96" d="M6 0.5h8m1 0h1m3 0h5m-17 1h12m1 0h4m-16 1h16m-14 1h15m-14 1h5m7 0h3m-12 1h1m10 0h4m1 0h1m1 0h1m-7 1h8m-1 1h3m-1 1h2m15 0h6m-22 1h24m-22 1h1m1 0h1m6 0h14m6 0h4m-11 1h18m-16 1h4m7 0h8m-1 1h3m10 0h3m-14 1h18m-14 1h6m1 0h1m5 0h4m-1 1h3m9 0h3m-12 1h18m5 0h2m-24 1h24m-7 1h3m-72 59h5m3 0h4m8 0h5m-25 1h26m-27 1h10m1 0h15"/><path stroke="#fff48a" d="M4 0.5h2m-2 1h3m-3 1h4m-3 1h5m-3 1h4m5 0h7m-15 1h6m1 0h10m-16 1h8m6 0h3m-16 1h1m2 0h3m8 0h9m-7 1h3m3 0h3m-1 1h2m-1 1h3m1 0h1m1 0h6m-11 1h5m1 0h1m3 0h14m-10 1h12m4 0h7m-12 1h7m3 0h9m-5 1h7m-3 1h7m6 0h1m1 0h5m-15 1h18m-11 1h2m8 0h4m-2 1h3m-1 1h18m3 0h4m-24 1h2m1 0h21m-18 1h1m1 0h7m8 0h1m-13 1h3m-2 1h1m-66 53h5m6 0h2m2 0h2m4 0h5m-27 1h29m-30 1h3m5 0h3m4 0h8m5 0h2m-31 1h4m26 0h2m-32 1h3m26 0h3"/><path stroke="#fffc7d" d="M2 0.5h2m-2 1h2m-4 1h4m-4 1h5m-5 1h7m-7 1h8m-7 1h8m8 0h6m-23 1h10m1 0h2m3 0h8m-24 1h26m3 0h3m-32 1h21m1 0h12m-25 1h3m12 0h1m8 0h2m-1 1h2m5 0h1m1 0h3m-10 1h14m0 1h11m7 0h3m-10 1h14m-3 1h7m-3 1h8m-6 1h13m2 0h8m-14 1h16m-12 1h5m3 0h6m-12 1h1m8 0h4m2 0h1m-9 1h1m1 0h10m1 0h1m7 0h8m-24 1h12m3 0h10m-20 1h8m1 0h11m-18 1h10m1 0h7m-14 1h5m3 0h6m-13 1h4m4 0h5m-4 1h4m-4 1h4m-4 1h4m-5 1h5m-5 1h1m2 0h2m-4 1h3m-31 30h1m-3 1h3m-3 1h4m-4 1h2m1 0h1m6 0h1m-10 1h2m1 0h7m-7 1h6m-18 1h1m13 0h3m-18 1h2m1 0h1m11 0h3m-19 1h3m5 0h2m6 0h1m1 0h2m-20 1h3m4 0h1m7 0h7m-29 1h1m4 0h5m5 0h1m4 0h10m-32 1h5m2 0h5m11 0h9m-38 1h1m4 0h12m6 0h3m3 0h8m-56 1h6m3 0h27m10 0h1m1 0h3m1 0h4m-59 1h4m5 0h6m2 0h2m2 0h4m5 0h9m12 0h8m-60 1h4m29 0h6m8 0h3m3 0h1m1 0h5m-60 1h3m30 0h7m7 0h3m5 0h5m-61 1h3m32 0h6m6 0h5m4 0h6m-92 1h5m15 0h4m4 0h5m32 0h6m1 0h1m4 0h5m5 0h4m1 0h3"/><path stroke="#fefe7a" d="M0 0.5h2m-2 1h2m-2 5h1m20 3h1m-22 1h9m3 0h12m1 0h8m-33 1h34m-34 1h1m2 0h1m3 0h10m1 0h6m8 0h4m-25 1h1m22 0h16m-1 1h12m-1 1h12m-1 1h5m-2 1h4m-1 1h10m-8 1h4m1 0h7m5 0h3m-14 1h8m1 0h8m-13 1h11m1 0h1m-10 1h13m-10 1h15m-12 1h2m4 0h8m10 0h1m-18 1h11m5 0h3m-17 1h10m4 0h4m-12 1h13m-11 1h11m-10 1h10m-9 1h8m-8 1h8m1 0h2m-11 1h9m3 0h1m-11 1h1m2 0h8m-8 1h8m-6 1h6m-6 1h6m-4 1h4m-3 1h3m-3 1h3m-2 1h2m-1 1h1m-2 6h2m-3 1h3m-3 1h3m-3 1h3m-3 1h3m-2 1h2m-3 1h3m-4 1h3m-2 1h3m-5 1h1m2 0h1m-31 4h6m-9 1h10m-11 1h4m1 0h8m-15 1h4m3 0h11m6 0h2m-27 1h5m4 0h10m-24 1h10m2 0h1m1 0h6m1 0h4m1 0h1m-28 1h12m2 0h1m7 0h4m-28 1h17m6 0h5m-29 1h6m1 0h13m3 0h6m-30 1h6m2 0h1m1 0h11m3 0h6m-34 1h9m3 0h5m2 0h6m1 0h1m2 0h5m-35 1h10m3 0h4m1 0h7m7 0h5m-44 1h10m1 0h4m5 0h5m1 0h4m10 0h5m-51 1h1m1 0h12m5 0h2m5 0h11m9 0h6m-64 1h7m2 0h11m1 0h4m12 0h6m3 0h3m8 0h7m-67 1h4m6 0h3m27 0h10m1 0h1m3 0h1m4 0h8m-70 1h3m39 0h12m8 0h8m-81 1h6m2 0h5m39 0h8m3 0h3m1 0h1m5 0h8m-99 1h3m4 0h5m3 0h16m40 0h7m3 0h5m5 0h8m-100 1h31m41 0h6m5 0h4m6 0h7m-102 1h3m5 0h15m4 0h4m43 0h1m1 0h4m5 0h5m4 0h1m3 0h4"/><path stroke="#fcfc87" d="M1 12.5h2m1 0h3m10 0h1m6 0h8m-32 1h11m1 0h22m-34 1h16m1 0h1m2 0h1m10 0h8m1 0h9m-42 1h5m38 0h10m0 1h11m-1 1h4m-1 1h4m-1 1h3m4 0h1m-6 1h7m-4 1h8m-4 1h7m-3 1h6m-2 1h5m2 0h4m-9 1h10m-7 1h3m2 0h4m-2 1h8m-6 1h8m-3 1h4m-2 1h3m-2 1h2m-2 1h2m-1 1h3m1 0h2m-6 1h6m-6 1h8m-8 1h8m-8 1h10m-9 1h4m1 0h5m-10 1h10m-8 1h9m-6 1h7m-7 1h8m-7 1h7m-7 1h7m-7 1h7m-7 1h7m-7 1h5m-6 1h5m-8 1h8m-15 1h15m-16 1h16m-17 1h18m-17 1h16m-16 1h15m3 0h1m-19 1h16m-16 1h14m1 0h2m1 0h1m-19 1h19m-28 1h2m6 0h20m-33 1h9m3 0h21m-36 1h4m6 0h26m-37 1h2m10 0h25m-42 1h6m13 0h23m-44 1h6m18 0h6m2 0h12m-46 1h7m19 0h20m-47 1h3m25 0h1m1 0h14m1 0h2m-48 1h3m26 0h15m-45 1h2m28 0h13m1 0h1m-48 1h4m29 0h13m-48 1h5m30 0h13m-53 1h6m34 0h12m-57 1h10m37 0h9m-58 1h5m45 0h7m-69 1h4m4 0h3m1 0h1m50 0h4m-73 1h5m7 0h2m55 0h4m-81 1h2m3 0h5m68 0h3m10 0h1m-97 1h13m70 0h3m9 0h2m-113 1h3m2 0h13m6 0h2m73 0h2m8 0h4m-115 1h2m3 0h4m5 0h3m84 0h2m9 0h3m-124 1h10m100 0h2m8 0h4m-127 1h11m102 0h3m7 0h4"/><path stroke="#fafa96" d="M16 14.5h1m1 0h2m1 0h10m8 0h1m-40 1h7m5 0h9m7 0h22m-50 1h15m36 0h9m-52 1h5m47 0h10m-60 1h2m57 0h4m-2 1h5m-2 1h4m-2 1h5m-1 1h5m-2 1h6m0 1h4m-1 1h3m0 1h3m3 0h2m-6 1h8m-1 1h3m-1 1h6m-4 1h6m-4 1h5m-2 1h2m-1 1h2m-2 1h2m-2 1h2m-2 1h2m-2 1h2m-2 1h3m4 0h1m-8 1h3m-2 1h4m-3 1h6m-5 1h5m-5 1h6m-7 1h7m-6 1h6m-7 1h7m-9 1h9m-12 1h11m-12 1h9m-10 1h3m-3 1h2m-2 1h1m-1 1h2m-2 1h2m-9 1h2m5 0h2m-11 1h5m3 0h3m-14 1h14m-17 1h8m2 0h6m-17 1h4m9 0h3m-22 1h7m-9 1h8m-9 1h4m-5 1h3m-4 1h2m-3 1h2m44 0h1m-49 1h3m44 0h4m-53 1h4m43 0h1m1 0h4m-55 1h3m46 0h6m-59 1h5m48 0h6m-65 1h6m52 0h7m-67 1h3m56 0h8m-70 1h4m57 0h9m-84 1h6m4 0h4m59 0h11m-92 1h8m73 0h11m-100 1h1m2 0h5m2 0h3m76 0h2m2 0h1m1 0h4m-112 1h2m4 0h10m86 0h2m4 0h3m-118 1h2m1 0h4m3 0h2m96 0h3m3 0h2m-126 1h15m103 0h3m3 0h3m-127 1h6m112 0h4m2 0h2m-126 1h3m116 0h3m1 0h3"/><path stroke="#f7f7a5" d="M21 15.5h7m-13 1h7m5 0h24m-51 1h8m5 0h7m30 0h10m-60 1h10m2 0h7m39 0h11m-61 1h6m54 0h3m-60 1h1m58 0h4m0 1h2m0 1h4m-1 1h4m0 1h6m1 1h2m0 1h3m-1 1h3m0 1h7m-1 1h3m0 1h2m-1 1h3m-2 1h5m-4 1h5m-4 1h4m-4 1h4m-3 1h3m-2 1h2m-2 1h2m-2 1h2m-3 1h4m-4 1h5m-5 1h6m-7 1h7m-7 1h6m-7 1h8m-8 1h7m-8 1h6m-6 1h3m-4 1h3m-3 1h2m-6 1h1m2 0h3m-7 1h7m-8 1h8m-9 1h9m-11 1h4m2 0h5m-15 1h6m5 0h3m-17 1h6m-10 1h7m-9 1h8m-9 1h3m-4 1h2m-3 1h2m-3 1h2m-3 1h2m-4 1h3m-5 1h3m-4 1h2m-7 1h5m-10 1h6m-8 1h2m-6 1h4m-16 1h13m-18 1h4m-11 1h3m-15 1h7m1 0h2m88 0h2m1 0h1m-125 1h5m4 0h8m2 0h4m98 0h4m-125 1h10m2 0h1m108 0h3m-3 1h3m-2 1h2m-2 1h1"/><path stroke="#f3f3bb" d="M22 16.5h5m-7 1h30m-31 1h3m8 0h3m7 0h2m6 0h10m-58 1h8m6 0h7m34 0h13m-68 1h11m1 0h9m48 0h1m-70 1h19m51 0h4m-74 1h5m4 0h9m55 0h3m-76 1h3m9 0h5m59 0h3m-79 1h4m76 0h3m-83 1h3m81 0h6m-90 1h3m86 0h3m-92 1h1m12 0h1m78 0h2m0 1h3m-1 1h7m-4 1h7m-1 1h2m-1 1h2m-1 1h2m-1 1h2m-2 1h2m-2 1h3m-4 1h5m-4 1h4m-5 1h5m-4 1h3m-3 1h3m-4 1h4m-4 1h3m-4 1h4m-5 1h4m-5 1h5m-6 1h5m-6 1h6m-7 1h6m-7 1h7m-8 1h4m1 0h2m-8 1h4m-6 1h5m-9 1h8m-11 1h9m-11 1h7m-9 1h6m-7 1h3m-4 1h2m-3 1h2m-3 1h2m-3 1h2m-3 1h2m-4 1h3m-5 1h3m-4 1h2m-6 1h5m-10 1h5m-8 1h3m-6 1h4m-15 1h11m-16 1h4m-11 1h6m-16 1h9m-35 1h6m4 0h2m1 0h10m-18 1h4"/><path stroke="#eeeed1" d="M22 18.5h8m3 0h7m2 0h6m-27 1h34m-34 1h14m1 0h9m1 0h17m1 0h5m-50 1h13m4 0h9m3 0h10m11 0h1m-65 1h4m9 0h10m10 0h5m6 0h3m1 0h1m16 0h3m-70 1h9m5 0h9m12 0h3m31 0h4m-72 1h21m51 0h4m-77 1h20m57 0h4m-81 1h19m63 0h4m-88 1h12m1 0h7m68 0h3m-92 1h22m69 0h3m-94 1h23m71 0h2m-96 1h23m72 0h4m-90 1h14m74 0h8m-94 1h12m81 0h2m-93 1h10m82 0h2m-93 1h9m83 0h2m-93 1h7m83 0h3m-92 1h6m83 0h3m-91 1h6m79 0h5m-90 1h5m79 0h7m-90 1h3m80 0h6m-5 1h6m-5 1h5m-5 1h4m-4 1h4m-5 1h4m-4 1h3m-5 1h4m-4 1h3m-4 1h3m-5 1h4m-6 1h5m-7 1h6m-7 1h6m-9 1h7m-9 1h5m-6 1h3m-4 1h2m-4 1h2m-3 1h2m-3 1h2m-3 1h2m-3 1h2m-3 1h2m-4 1h3m-4 1h2m-4 1h2m-5 1h4m-9 1h5m-8 1h3m-6 1h3m-14 1h11m-15 1h4m-10 1h5m-13 1h6m-35 1h3m5 0h2m5 0h10m-20 1h4m2 0h1"/><path stroke="#e9ebe5" d="M35 20.5h1m9 0h1m17 0h1m-32 1h4m9 0h3m10 0h5m2 0h4m-41 1h10m5 0h6m3 0h1m1 0h5m9 0h2m-44 1h12m3 0h17m12 0h2m-47 1h3m7 0h8m6 0h5m18 0h4m-53 1h4m8 0h6m36 0h3m-58 1h3m10 0h5m41 0h4m-64 1h4m61 0h3m-67 1h3m64 0h2m-68 1h2m66 0h3m-71 1h2m68 0h2m-95 1h9m14 0h2m70 0h2m-97 1h1m4 0h6m12 0h2m71 0h8m-95 1h4m10 0h2m71 0h9m-94 1h3m9 0h2m74 0h7m-94 1h3m7 0h3m75 0h5m-92 1h3m6 0h3m74 0h6m-91 1h3m6 0h2m73 0h4m-87 1h2m5 0h3m73 0h3m-86 1h3m3 0h3m74 0h3m-84 1h5m77 0h3m-3 1h4m-3 1h3m-3 1h3m-3 1h2m-3 1h3m-4 1h2m-3 1h3m-4 1h3m-6 1h4m-7 1h5m-6 1h4m-5 1h4m-5 1h2m-4 1h2m-3 1h2m-3 1h2m-4 1h2m-3 1h2m-3 1h2m-3 1h2m-3 1h2m-3 1h2m-4 1h2m-4 1h3m-6 1h4m-8 1h5m-8 1h3m-5 1h2m-14 1h5m1 0h5m-14 1h3m-9 1h5m-11 1h5m-15 1h7m-30 1h1m3 0h5m2 0h5"/><path stroke="#d5e7eb" d="M63 21.5h2m-6 1h5m1 0h3m-10 1h2m8 0h2m-42 1h7m8 0h6m5 0h4m12 0h2m-45 1h8m6 0h14m16 0h6m-52 1h6m1 0h3m5 0h8m2 0h1m26 0h4m-56 1h4m4 0h9m2 0h1m38 0h3m-61 1h4m2 0h9m46 0h3m-64 1h3m4 0h7m49 0h3m-66 1h4m1 0h8m54 0h1m-68 1h4m2 0h7m55 0h2m-94 1h4m20 0h4m2 0h8m55 0h2m-96 1h9m16 0h5m2 0h1m1 0h6m54 0h2m-95 1h10m14 0h4m5 0h5m55 0h5m-93 1h6m13 0h3m8 0h1m58 0h5m-93 1h6m12 0h4m65 0h5m-89 1h4m11 0h4m65 0h4m-86 1h3m10 0h4m66 0h3m-85 1h2m9 0h4m68 0h2m-84 1h3m5 0h6m69 0h2m-84 1h10m72 0h2m-82 1h4m77 0h2m-2 1h2m-3 1h3m-4 1h3m-6 1h5m-6 1h5m-6 1h5m-7 1h4m-5 1h2m-3 1h2m-3 1h2m-4 1h3m-4 1h2m-3 1h2m-4 1h3m-4 1h2m-3 1h2m-3 1h2m-3 1h2m-3 1h2m-3 1h2m-5 1h3m-5 1h3m-6 1h3m-6 1h2m-5 1h2m-13 1h3m3 0h5m-14 1h2m5 0h1m-11 1h2m-9 1h3m-14 1h8m-33 1h23"/><path stroke="#bce3f0" d="M64 22.5h1m-5 1h8m-10 1h4m6 0h2m-15 1h4m10 0h2m-40 1h1m16 0h2m1 0h6m13 0h7m-48 1h4m9 0h2m1 0h10m22 0h6m-54 1h2m9 0h12m31 0h3m-58 1h4m7 0h11m36 0h2m-59 1h1m8 0h10m40 0h4m-63 1h2m7 0h9m44 0h2m-64 1h2m8 0h5m48 0h2m-64 1h2m1 0h1m6 0h3m49 0h2m-94 1h1m28 0h5m5 0h4m49 0h2m-94 1h6m22 0h8m1 0h5m51 0h2m-95 1h7m22 0h12m51 0h2m-94 1h10m19 0h10m53 0h2m-94 1h12m17 0h9m55 0h2m-95 1h13m15 0h10m55 0h3m-93 1h1m6 0h4m14 0h8m58 0h3m-85 1h3m10 0h10m59 0h3m-84 1h4m4 0h11m61 0h5m-81 1h11m65 0h5m-6 1h5m-5 1h4m-5 1h2m-3 1h2m-4 1h3m-4 1h2m-3 1h2m-3 1h2m-3 1h2m-4 1h2m-3 1h2m-4 1h3m-4 1h2m-3 1h2m-3 1h2m-2 1h1m-3 1h2m-3 1h2m-4 1h3m-5 1h2m-5 1h3m-6 1h3m-6 1h3m-14 1h3m4 0h4m-13 1h2m3 0h3m-11 1h2m-10 1h7m-17 1h1m3 0h6m-36 1h25"/><path stroke="#a0def4" d="M62 24.5h6m-9 1h6m1 0h3m-12 1h5m6 0h2m-15 1h5m9 0h8m-25 1h7m12 0h4m2 0h1m1 0h4m-33 1h9m25 0h2m-38 1h9m1 0h2m25 0h3m-41 1h5m5 0h2m28 0h4m-47 1h6m8 0h1m30 0h3m-49 1h7m9 0h1m30 0h2m-49 1h6m42 0h1m-50 1h4m45 0h2m-52 1h3m47 0h1m-53 1h4m48 0h1m-54 1h4m49 0h2m-55 1h3m50 0h2m-93 1h3m1 0h6m26 0h4m52 0h2m-94 1h12m23 0h4m53 0h2m-84 1h3m19 0h5m54 0h2m-82 1h6m11 0h7m56 0h2m-77 1h15m59 0h2m-71 1h8m61 0h2m-68 1h1m64 0h2m-4 1h3m-4 1h2m-3 1h2m-3 1h2m-3 1h2m-3 1h2m-4 1h2m-3 1h2m-4 1h2m-3 1h2m-3 1h2m-3 1h2m-3 1h3m-4 1h2m-4 1h3m-4 1h2m-5 1h3m-5 1h2m-5 1h2m-14 1h3m4 0h4m-13 1h2m3 0h4m-11 1h2m-9 1h6m-14 1h6m-36 1h14m2 0h10m1 0h3"/><path stroke="#82daf7" d="M65 25.5h1m-4 1h6m-8 1h9m-10 1h7m1 0h4m4 0h2m1 0h1m-20 1h7m3 0h8m3 0h4m-27 1h1m2 0h5m1 0h1m3 0h5m8 0h2m-33 1h5m2 0h6m20 0h2m-37 1h8m1 0h6m22 0h2m-39 1h9m1 0h5m23 0h2m-41 1h15m25 0h2m-45 1h17m26 0h2m-47 1h17m28 0h2m-48 1h17m30 0h1m-49 1h8m5 0h4m31 0h1m-50 1h5m44 0h1m-51 1h4m46 0h2m-53 1h5m46 0h2m-92 1h10m27 0h6m47 0h1m-89 1h9m24 0h4m50 0h2m-81 1h6m15 0h6m52 0h1m-79 1h1m1 0h8m8 0h3m55 0h3m-70 1h4m1 0h6m55 0h3m-66 1h5m57 0h2m-3 1h2m-4 1h3m-3 1h2m-3 1h2m-3 1h2m-4 1h2m-3 1h2m-4 1h2m-3 1h2m-3 1h2m-3 1h2m-3 1h2m-4 1h3m-4 1h2m-4 1h3m-6 1h3m-6 1h4m-16 1h13m-15 1h3m3 0h4m-11 1h2m-9 1h7m-16 1h9m-38 1h1m1 0h14m1 0h13m-16 1h2"/><path stroke="#64d6fa" d="M66 28.5h1m-1 1h3m8 0h3m-15 1h1m1 0h3m5 0h3m2 0h3m-18 1h11m7 0h2m-20 1h10m9 0h3m-22 1h4m1 0h1m15 0h2m-24 1h5m19 0h1m-26 1h4m21 0h1m-28 1h4m23 0h1m-29 1h4m24 0h2m-40 1h5m4 0h3m26 0h2m-44 1h15m27 0h2m-46 1h5m2 0h1m2 0h6m29 0h1m-46 1h2m42 0h2m-47 1h2m43 0h2m-90 1h2m37 0h6m42 0h2m-89 1h10m27 0h7m43 0h2m-81 1h3m1 0h1m19 0h6m4 0h2m41 0h2m-77 1h10m11 0h3m50 0h2m-68 1h5m5 0h3m51 0h3m-65 1h1m1 0h8m51 0h3m-59 1h3m1 0h1m51 0h1m-2 1h2m-55 1h1m51 0h2m-3 1h2m-4 1h2m-3 1h2m-4 1h2m-4 1h3m-4 1h3m-4 1h3m-4 1h3m-5 1h3m-4 1h3m-5 1h3m-8 1h5m-16 1h13m-14 1h2m-4 1h2m-8 1h7m-37 1h5m6 0h19m-33 1h24m-28 1h1m14 0h1"/><path stroke="#45d2fd" d="M78 30.5h2m-4 1h7m-8 1h4m2 0h3m-15 1h1m1 0h6m7 0h2m-17 1h7m8 0h4m-21 1h9m10 0h2m-23 1h9m11 0h3m-24 1h7m14 0h3m-26 1h3m2 0h3m12 0h6m-27 1h3m19 0h1m2 0h2m-39 1h2m1 0h2m6 0h3m23 0h3m-43 1h6m1 0h8m25 0h2m-43 1h2m10 0h3m25 0h3m-43 1h1m39 0h2m-43 1h2m38 0h3m-87 1h8m30 0h4m2 0h1m38 0h2m-85 1h10m24 0h11m36 0h3m-76 1h10m13 0h7m3 0h3m35 0h3m-72 1h10m1 0h1m8 0h3m45 0h3m-70 1h2m1 0h11m3 0h1m1 0h2m46 0h3m-63 1h1m5 0h8m45 0h3m-55 1h2m1 0h3m46 0h2m-54 1h7m44 0h2m-53 1h6m40 0h1m2 0h2m-7 1h6m-7 1h5m-5 1h3m-4 1h3m-4 1h3m-6 1h1m2 0h2m-7 1h5m-6 1h5m-19 1h3m8 0h6m-17 1h12m-13 1h2m-3 1h2m-17 1h1m10 0h4m-37 1h8m1 0h1m1 0h20m-34 1h4m5 0h6m-19 1h5"/><path stroke="#2ecdf6" d="M79 32.5h2m-4 1h7m-8 1h8m-8 1h10m-12 1h11m-14 1h6m1 0h7m-20 1h2m3 0h7m1 0h4m-18 1h11m4 0h4m1 0h2m-23 1h12m5 0h6m-34 1h1m8 0h14m6 0h5m-39 1h10m3 0h15m7 0h3m-39 1h17m5 0h8m6 0h3m-39 1h2m7 0h1m15 0h5m5 0h3m-39 1h1m25 0h12m-38 1h1m26 0h9m-81 1h8m30 0h3m3 0h2m25 0h8m-79 1h5m1 0h4m23 0h12m27 0h6m-78 1h3m3 0h5m2 0h1m18 0h6m1 0h5m28 0h6m-71 1h11m1 0h5m8 0h3m6 0h2m28 0h6m-70 1h15m1 0h2m6 0h3m36 0h7m-64 1h1m1 0h1m7 0h2m7 0h3m34 0h7m-53 1h2m6 0h5m31 0h4m1 0h2m-50 1h11m6 0h3m23 0h2m-45 1h5m2 0h3m7 0h4m20 0h3m-28 1h6m19 0h3m-26 1h4m17 0h4m-26 1h6m13 0h6m-23 1h4m12 0h4m1 0h2m-23 1h6m9 0h3m-17 1h6m5 0h5m-17 1h3m3 0h8m-14 1h3m-3 1h2m-36 1h1m1 0h1m8 0h1m6 0h6m2 0h1m3 0h5m-38 1h23m1 0h10m-35 1h2m8 0h1m1 0h1m-18 1h4"/><path stroke="#24c7de" d="M77 37.5h1m-1 1h1m-3 1h4m-4 1h5m-5 1h6m-6 1h7m-19 1h5m8 0h6m-34 1h7m1 0h15m5 0h5m-35 1h20m1 0h4m-25 1h12m3 0h4m4 0h3m-26 1h5m4 0h1m1 0h1m3 0h4m4 0h2m-66 1h1m39 0h5m13 0h2m4 0h3m-69 1h3m32 0h1m5 0h5m19 0h4m-72 1h7m28 0h6m2 0h4m21 0h3m-71 1h7m15 0h1m11 0h12m21 0h3m-70 1h2m3 0h8m1 0h1m1 0h7m12 0h10m21 0h3m-68 1h1m2 0h1m1 0h17m13 0h11m17 0h3m-67 1h1m5 0h5m1 0h12m11 0h6m3 0h3m14 0h6m-59 1h3m8 0h1m2 0h2m5 0h2m3 0h7m4 0h3m11 0h6m-42 1h14m1 0h2m6 0h2m9 0h8m-40 1h3m1 0h7m3 0h3m4 0h3m7 0h7m-23 1h1m6 0h5m1 0h3m1 0h3m-19 1h2m4 0h5m1 0h6m-18 1h2m6 0h9m-17 1h3m6 0h5m-22 1h1m8 0h1m-34 1h3m17 0h7m6 0h1m-37 1h13m4 0h1m1 0h18m-38 1h4m1 0h1m1 0h8m1 0h6m6 0h2m1 0h3m-35 1h2m-6 1h5"/><path stroke="#1fc0be" d="M66 45.5h1m-9 1h3m4 0h4m-18 1h4m1 0h1m1 0h3m4 0h4m-19 1h13m2 0h4m-20 1h4m1 0h14m-21 1h21m-22 1h21m-65 1h3m40 0h21m-66 1h1m1 0h2m1 0h1m41 0h17m-63 1h5m5 0h1m35 0h14m-61 1h8m3 0h8m1 0h2m26 0h11m-59 1h23m14 0h1m10 0h9m-57 1h4m2 0h7m3 0h9m3 0h1m7 0h3m10 0h7m-49 1h2m1 0h2m4 0h24m12 0h1m3 0h1m-48 1h3m4 0h4m1 0h4m1 0h15m11 0h1m-44 1h3m1 0h1m1 0h1m7 0h2m3 0h9m2 0h2m-33 1h10m5 0h2m2 0h1m1 0h9m2 0h1m-35 1h14m2 0h11m1 0h8m-38 1h5m3 0h17m7 0h6m-41 1h1m1 0h3m13 0h4m1 0h1m-23 1h3m-5 1h4"/><path stroke="#1ab99d" d="M53 49.5h1m-50 8h2m7 0h3m-16 1h7m2 0h1m2 0h4m-16 1h9m3 0h4m4 0h1m4 0h1m-26 1h9m3 0h1m1 0h1m1 0h7m2 0h3m9 0h2m-39 1h8m10 0h5m2 0h2m1 0h1m9 0h2m-40 1h6m14 0h2m-22 1h4m-4 1h1m1 0h1m-3 1h2"/></g><path class="co" d="M663.9 420.2L664.4 413.5L663.4 406.8L655.2 393.4L638.7 380.8L625.9 371.6L624.8 364.9L624.3 365.8L611.5 356.6L596.1 344.0L587.8 332.3L585.8 325.6L567.3 319.7L568.3 326.4L582.7 344.0L594.0 358.2L604.3 375.8L610.4 382.5L621.8 388.4L618.7 394.6L613.5 389.2L600.2 381.7L595.0 379.2L596.1 376.7L593.0 374.1L594.0 368.3L582.7 361.6L572.4 357.4L565.2 353.2L573.5 352.4L574.0 346.5L563.2 339.0L555.0 329.8L547.8 320.6L543.6 313.5L541.6 308.9L533.4 303.4L529.3 301.3L521.0 299.6L508.7 297.1L506.7 291.3L494.3 280.4L493.3 276.6L488.2 272.0L492.3 272.0L491.2 267.8L488.2 268.7L483.0 265.3L474.8 257.0L469.1 248.2L471.7 242.7L470.7 234.4L467.6 227.2L471.7 217.6L473.3 199.2L471.7 194.2L465.5 181.2L481.0 182.9L486.1 184.1L489.2 190.0L484.0 191.7L488.2 185.8L490.2 181.6L485.1 175.8L481.0 173.3L467.6 167.4L457.3 163.2L439.9 159.0L432.7 152.3L438.8 150.7L431.6 146.5L421.4 139.8L413.1 142.3L402.9 129.7L413.1 123.9L411.1 118.0L395.7 111.3L375.1 99.6L352.5 85.4L340.2 87.9L325.8 91.2L313.4 85.4L315.5 82.9L296.0 84.5L267.2 83.7L258.0 80.4L244.6 78.7L241.5 74.5L228.1 73.7L222.0 77.0L222.0 82.9L206.6 84.5L188.1 90.4L188.1 84.5L195.3 79.5L209.6 75.3L208.6 71.1L190.1 77.0L175.7 81.2L176.8 86.2L163.4 91.2L164.4 95.4L138.7 106.3L113.0 117.2L82.2 124.7L53.4 130.6L69.9 126.0L86.3 118.9L102.8 117.6L113.0 116.8L114.1 112.2L128.5 103.8L129.5 99.6L134.6 92.9L122.3 94.6L118.2 91.2L115.1 94.6L102.8 92.9L81.2 94.6L85.3 92.9L80.2 80.4L64.7 85.4L51.4 78.7L68.9 77.0L50.4 76.2L41.1 68.6L53.4 62.8L58.6 56.9L80.2 55.2L93.5 52.7L90.4 47.7L94.5 43.5L69.9 46.0L39.1 44.4L34.9 40.2L20.6 36.8L42.1 32.6L59.6 28.5L85.3 28.5L101.7 30.1L83.2 27.2L80.2 25.9L56.5 20.9L34.9 14.2L39.1 10.0L58.6 7.5L75.0 -0.8"/><path class="co" d="M478.9 181.2L465.5 179.5L452.2 173.3L433.7 166.6L427.5 161.1L441.9 162.4L459.4 167.4L472.7 174.1L478.9 181.2"/><path class="co" d="M399.8 150.7L387.4 142.3L379.2 133.1L393.6 133.9L384.4 138.1L392.6 140.6L399.8 150.7"/><path class="co" d="M341.1 95.2L348.0 103.5L345.2 106.3L357.5 115.9L360.3 114.6L354.8 106.3L360.3 103.5"/><path class="co" d="M346.5 92.4L357.5 97.9L364.4 109.1L361.6 111.8L374.0 117.3L376.8 122.9L382.2 124.2"/><path class="co" d="M354.8 91.1L365.8 96.6L376.8 107.6L382.2 111.8L387.7 113.2L398.7 117.3L396.0 124.2L387.7 121.4"/><path class="co" d="M363.0 102.1L371.3 103.5L368.5 109.1L379.5 115.9L376.8 111.8L385.0 117.3"/><path class="co" d="M371.3 117.3L379.5 128.4L382.2 122.9L387.7 125.6L385.0 120.1"/><path class="co" d="M352.1 97.9L360.3 96.6"/><path class="co" d="M358.9 107.6L368.5 105.5"/><path class="co" d="M365.8 113.2L374.0 110.4"/><path class="co" d="M372.6 120.1L382.2 117.3"/><path class="co" d="M382.2 115.9L393.2 115.9"/><path class="co" d="M387.7 118.7L396.0 120.1"/><path class="co" d="M342.4 96.6L352.1 102.1L349.3 96.6"/><path class="co" d="M376.8 117.3L371.3 113.2"/><path class="co" d="M407.0 133.9L415.2 135.6L412.1 138.9L421.4 139.8L419.3 143.1L427.5 144.0L425.5 147.3L433.7 148.1L430.6 151.5L436.8 153.2"/><path class="co" d="M381.3 137.3L394.6 138.1L387.4 142.3L391.6 145.6"/><path class="fi" d="M487.1 182.5L491.2 184.1L491.2 190.0L487.1 192.5L484.0 190.0L487.1 187.5"/><path class="co" d="M157.2 107.1L168.5 101.3L181.9 97.1L184.0 103.8L168.5 108.8L157.2 107.1"/><path class="co" d="M172.7 97.9L180.9 95.0L186.0 97.9L176.8 99.6"/><path class="co" d="M26.7 82.0L39.1 79.9L45.2 83.7L37.0 85.4L26.7 82.0"/><path class="fi" d="M-2.1 54.0L13.4 55.7L-2.1 57.8"/><path class="fi" d="M-2.1 145.2L3.1 143.5L-2.1 143.1"/><path class="fi" d="M12.3 141.9L22.6 138.9L21.6 137.7L11.8 140.6"/><path class="fi" d="M25.7 138.1L38.0 134.8L37.0 133.5L25.2 136.8"/><path class="fi" d="M40.1 133.9L45.2 132.7L44.7 131.4L39.6 132.7"/><path class="fi" d="M48.3 133.1L52.4 132.2L51.9 131.4L47.8 132.2"/><path class="fi" d="M71.9 131.0L77.1 131.4L77.1 129.7L71.9 129.7"/><path class="fi" d="M94.5 123.0L100.7 124.3L108.9 126.4L108.9 125.5L100.7 123.0L94.5 122.2"/><path class="fi" d="M144.9 119.3L149.0 119.3L149.0 117.6L144.9 117.6"/><path class="fi" d="M156.2 113.4L163.4 112.6L163.4 111.3L156.2 112.2"/><path class="fi" d="M104.8 401.8L107.9 399.7L110.5 401.3L107.9 403.0"/><path class="fi" d="M99.7 403.0L102.3 401.8L102.3 403.4"/><path class="fi" d="M120.2 405.9L123.8 404.1L126.9 407.6L122.3 408.0"/><path class="fi" d="M130.5 409.3L136.2 408.9L136.2 408.0L130.5 408.3"/><path class="fi" d="M136.7 410.5L141.8 410.5L143.9 412.6L139.3 413.5"/><path class="fi" d="M144.9 416.4L152.1 418.9L154.2 421.8L142.8 421.8"/><path class="fi" d="M509.2 300.9L518.5 301.3L518.5 302.0L509.2 302.0"/><path class="fi" d="M518.0 307.2L520.0 308.0L519.5 307.2"/><path class="fi" d="M528.2 305.5L531.3 307.2L531.3 306.3"/><path class="fi" d="M528.2 309.3L530.8 311.4L529.8 309.3"/><path class="fi" d="M530.3 341.5L532.3 344.4L532.3 341.5"/><path class="fi" d="M561.6 348.6L563.7 351.1L563.7 348.6"/><path class="fi" d="M579.6 338.6L584.2 343.2L582.7 339.4"/><path class="fi" d="M590.4 341.5L594.0 344.8L593.5 341.9"/><path class="fi" d="M650.5 403.9L654.6 406.8L654.1 404.7"/><path class="fi" d="M612.5 376.2L614.0 377.9L613.5 375.8"/><path class="fi" d="M604.8 367.4L606.3 369.5L605.8 367.0"/><path class="co" d="M298.0 2.9L325.8 5.9L350.4 8.4L364.8 5.0L380.2 4.6L394.6 0.8L421.4 -1.7"/><path class="co" d="M375.1 10.0L400.8 5.4L424.4 0.8L441.9 -2.5"/><path class="co" d="M441.9 -0.8L457.3 5.9L467.6 0.4L469.7 5.0L484.0 0.4L503.6 2.5L539.5 8.4L572.4 13.4L563.2 17.6L585.8 18.8L621.8 18.4L638.2 26.8L643.3 25.1L638.2 20.1L631.0 15.9L654.6 10.0L673.1 8.8"/><path class="co" d="M539.5 -0.8L565.2 5.9L588.9 11.7L621.8 10.9L654.6 6.7L673.1 5.0"/><path class="bo" d="M298.0 -1.7L298.0 81.2L317.6 82.9L334.0 92.9L354.6 85.4L370.0 93.7L390.5 108.8L411.1 117.2"/><path class="bo" d="M485.1 175.8L678.3 175.8"/><path class="bo" d="M473.3 199.2L490.2 204.2L521.0 201.7L544.2 200.9"/><path class="bo" d="M544.2 175.8L544.2 200.9L549.8 205.5L544.7 216.8L544.4 234.4"/><path class="bo" d="M554.4 175.8L556.0 186.7L571.4 198.4L572.4 205.1L585.8 213.4L605.8 212.6"/><path class="bo" d="M678.3 209.2L605.8 209.2L605.8 242.7L678.3 242.7"/><path class="bo" d="M470.7 234.4L605.8 234.4"/><path class="bo" d="M513.8 234.4L513.8 259.5L569.3 292.1L567.3 298.8L571.4 302.2L568.3 312.2"/><path class="bo" d="M575.0 234.4L575.0 282.9L568.3 284.6L569.3 292.1"/><path class="bo" d="M575.0 276.2L678.3 276.2"/><path class="bo" d="M626.4 242.7L626.4 323.5"/><path class="bo" d="M543.6 313.5L568.3 312.2L605.8 323.5L635.1 323.5L635.1 319.7L652.6 319.7L678.3 318.1"/><path class="bo" d="M652.6 319.7L668.0 328.9L673.1 338.1"/></g><path class="tk" d="M0.0 418.5v-8M51.4 418.5v-8M102.8 418.5v-8M154.2 418.5v-8M205.5 418.5v-8M256.9 418.5v-8M308.3 418.5v-8M359.7 418.5v-8M411.1 418.5v-8M462.5 418.5v-8M513.8 418.5v-8M565.2 418.5v-8M616.6 418.5v-8M668.0 418.5v-8M0 418.5h8M0 376.7h8M0 334.8h8M0 292.9h8M0 251.1h8M0 209.2h8M0 167.4h8M0 125.5h8M0 83.7h8M0 41.9h8M0 0.0h8"/><rect class="fr" width="668.0" height="418.5"/><text class="tt" x="334.0" y="-30.8">Hindcast Climatology of AR Days</text><text class="sl" x="2" y="-7.2">Dec 16 to Dec 22, Climatology</text><text class="sr" x="667.0" y="-7.2">15−day to 21−day lead</text><text class="yl" x="-4.5" y="426.9">20°N</text><text class="yl" x="-4.5" y="343.2">30°N</text><text class="yl" x="-4.5" y="259.5">40°N</text><text class="yl" x="-4.5" y="175.8">50°N</text><text class="yl" x="-4.5" y="92.1">60°N</text><text class="yl" x="-4.5" y="8.4">70°N</text><text class="xl" x="0.0" y="450.5">170°W</text><text class="xl" x="102.8" y="450.5">160°W</text><text class="xl" x="205.5" y="450.5">150°W</text><text class="xl" x="308.3" y="450.5">140°W</text><text class="xl" x="411.1" y="450.5">130°W</text><text class="xl" x="513.8" y="450.5">120°W</text><text class="xl" x="616.6" y="450.5">110°W</text><rect x="688.6" y="0" width="20.2" height="418.5" fill="url(#gar)" stroke="#000" stroke-width="3"/><path class="tk" d="M688.6 0.0h7M708.8 0.0h-7"/><text class="cl" x="709.8" y="8.5">1.5</text><path class="tk" d="M688.6 139.5h7M708.8 139.5h-7"/><text class="cl" x="709.8" y="148.0">1</text><path class="tk" d="M688.6 279.0h7M708.8 279.0h-7"/><text class="cl" x="709.8" y="287.5">0.5</text><path class="tk" d="M688.6 418.5h7M708.8 418.5h-7"/><text class="cl" x="709.8" y="427.0">0</text></g><g transform="translate(1779.5 1537.4)"><clipPath id="cp1779_1537"><rect width="668.0" height="418.5"/></clipPath><g clip-path="url(#cp1779_1537)"><rect width="668.0" height="418.5" fill="#fff"/><g transform="scale(5.1385 5.1667)" fill="none" stroke-width="1.06" shape-rendering="crispEdges"><path stroke="#ffd3b1" d="M88 25.5h1m-1 1h2m-2 1h2m-1 1h1"/><path stroke="#ffd7c1" d="M85 25.5h1m1 0h1m1 0h1m-3 1h1m2 0h1m-1 1h2m-2 1h1m6 1h1m26 9h3m-3 1h5m-6 1h7m-9 1h2m1 0h5"/><path stroke="#ffdad2" d="M98 22.5h1m3 0h1m-21 1h4m-3 1h6m-7 1h3m1 0h1m3 0h1m-8 1h4m4 0h1m-6 1h2m0 1h1m2 0h2m3 0h3m-9 1h1m2 0h1m1 0h2m1 0h1m-4 1h4m-4 1h4m1 1h2m-1 1h2m19 4h8m-7 1h1m3 0h2m-10 1h5m5 0h1m-10 1h3m-3 1h1m2 0h1m5 0h1m-29 1h2m18 0h9m-30 1h2m27 0h1m-87 1h1m-3 1h3m-3 1h3"/><path stroke="#ffdedc" d="M83 21.5h1m13 0h3m1 0h1m1 0h1m-22 1h3m10 0h3m1 0h3m1 0h1m-18 1h3m5 0h9m2 0h1m-25 1h2m6 0h2m2 0h5m-17 1h1m9 0h7m-16 1h1m9 0h5m-14 1h3m6 0h7m-12 1h1m5 0h3m3 0h2m-12 1h1m1 0h2m1 0h1m4 0h2m-8 1h2m4 0h2m-7 1h1m4 0h3m-7 1h5m2 0h1m-6 1h4m2 0h1m-6 1h7m-4 1h3m1 0h1m17 0h2m2 0h3m-29 1h3m3 0h1m14 0h8m-29 1h3m17 0h1m-21 1h2m16 0h4m6 0h1m-29 1h2m15 0h1m-2 1h3m-21 1h5m13 0h3m-20 1h1m2 0h1m16 0h1m-22 1h1m2 0h3m1 0h1m15 0h7m-89 1h3m1 0h2m54 0h7m19 0h4m-90 1h1m3 0h2m-5 2h3"/><path stroke="#ffe1e6" d="M83 20.5h2m13 0h2m-18 1h1m1 0h2m9 0h2m3 0h1m1 0h1m1 0h1m6 0h1m-31 1h1m3 0h5m3 0h2m9 0h8m-31 1h1m7 0h5m9 0h2m1 0h6m-21 1h2m5 0h4m3 0h3m1 0h2m-13 1h2m6 0h1m1 0h2m-29 1h1m15 0h2m9 0h1m-28 1h2m16 0h1m8 0h1m-25 1h3m14 0h1m7 0h1m-22 1h1m12 0h1m-13 1h4m8 0h2m6 0h1m-18 1h2m8 0h1m-10 1h2m8 0h1m-9 1h2m7 0h1m16 0h1m-26 1h2m7 0h2m15 0h2m3 0h2m-32 1h4m3 0h1m1 0h2m13 0h2m2 0h2m-29 1h3m3 0h3m9 0h1m4 0h1m-25 1h4m3 0h1m1 0h4m6 0h5m-27 1h1m5 0h1m2 0h2m2 0h3m6 0h3m-25 1h2m3 0h2m2 0h2m2 0h1m8 0h2m-24 1h2m3 0h5m2 0h2m8 0h1m-22 1h2m1 0h1m5 0h1m11 0h1m-76 1h1m5 0h3m45 0h5m4 0h3m9 0h4m-81 1h8m48 0h4m6 0h1m1 0h1m12 0h2m-86 1h4m6 0h3m46 0h5m7 0h1m14 0h2m1 0h1m-91 1h1m2 0h2m6 0h3m50 0h9m19 0h3m-90 1h1m3 0h3m52 0h2m26 0h2m-29 1h2m10 0h1m6 0h1m-78 1h2m71 0h1m2 0h2m3 0h3m-14 1h1m2 0h4m4 0h2m-14 1h1m3 0h3m-18 1h1m13 0h2m1 0h1m1 0h1m-4 1h1m3 0h1m-13 3h2m-13 6h3m-3 1h3m-4 1h3m-4 4h2m-2 1h2m1 0h1m0 1h1"/><path stroke="#ffe4f0" d="M83 19.5h3m12 0h1m-18 1h2m2 0h2m2 0h1m5 0h3m2 0h5m5 0h2m-31 1h1m4 0h4m4 0h1m10 0h1m1 0h4m1 0h1m-33 1h1m9 0h3m19 0h1m-33 1h1m31 0h1m2 0h2m-37 1h1m21 0h3m3 0h1m2 0h1m-32 1h1m19 0h2m2 0h2m1 0h1m2 0h1m5 0h1m-37 1h1m18 0h2m3 0h4m1 0h1m5 0h1m-36 1h1m19 0h3m1 0h1m1 0h2m1 0h2m3 0h3m-35 1h2m18 0h7m1 0h2m1 0h4m-33 1h4m14 0h3m1 0h7m1 0h1m-27 1h1m14 0h1m3 0h2m1 0h2m-23 1h3m11 0h2m2 0h2m10 0h3m-30 1h1m11 0h1m14 0h4m-49 1h1m18 0h2m10 0h2m13 0h1m1 0h2m2 0h1m1 0h1m-53 1h1m17 0h2m11 0h1m4 0h2m4 0h1m1 0h2m2 0h3m2 0h1m-35 1h2m14 0h10m-25 1h2m10 0h8m1 0h4m-28 1h4m8 0h1m4 0h3m2 0h1m-77 1h1m50 0h1m1 0h2m1 0h5m5 0h2m3 0h1m4 0h1m-77 1h2m7 0h1m38 0h3m2 0h2m2 0h3m6 0h2m1 0h2m5 0h1m-77 1h1m8 0h2m36 0h4m3 0h1m2 0h3m5 0h2m2 0h1m6 0h1m-69 1h3m36 0h4m4 0h1m2 0h1m7 0h4m5 0h2m-77 1h2m1 0h1m3 0h1m40 0h3m4 0h1m12 0h2m3 0h4m-81 1h4m8 0h3m37 0h3m4 0h1m13 0h10m1 0h1m-86 1h2m13 0h1m38 0h1m5 0h1m13 0h6m7 0h1m2 0h1m-89 1h2m49 0h1m7 0h4m9 0h1m1 0h2m1 0h1m6 0h1m1 0h5m-92 1h3m1 0h1m7 0h2m48 0h2m2 0h8m1 0h3m5 0h1m1 0h1m3 0h3m2 0h1m-95 1h3m2 0h1m3 0h3m51 0h2m2 0h2m1 0h2m3 0h2m1 0h2m1 0h3m1 0h1m2 0h7m-89 1h1m2 0h1m54 0h3m3 0h1m4 0h5m1 0h2m2 0h1m1 0h1m3 0h2m1 0h1m-88 1h1m55 0h3m5 0h1m3 0h2m1 0h2m4 0h1m2 0h1m2 0h1m3 0h1m-33 1h4m5 0h3m1 0h1m1 0h3m3 0h2m2 0h3m-28 1h1m1 0h1m1 0h1m5 0h1m2 0h4m2 0h1m1 0h1m1 0h1m7 0h1m-30 1h3m8 0h1m3 0h2m1 0h3m1 0h1m-22 1h3m7 0h1m4 0h3m1 0h2m-21 1h2m6 0h3m5 0h1m-10 1h1m2 0h1m4 0h1m-9 1h4m-14 4h3m-4 1h1m-1 1h1m-2 1h1m3 0h2m-5 1h4m-4 1h1m-2 1h3m-4 1h1m2 0h2m-5 1h1m2 0h1m1 0h1m-6 1h5m1 0h1m26 9h1m-1 1h3m-3 1h3"/><path stroke="#ffe8fa" d="M123 15.5h2m-2 1h1m-41 2h2m13 0h1m-20 1h4m3 0h1m1 0h2m7 0h1m1 0h2m1 0h3m5 0h1m-32 1h2m6 0h1m6 0h1m10 0h1m1 0h3m-31 1h2m9 0h4m12 0h1m-28 1h1m33 0h5m-39 1h1m33 0h2m10 0h2m-15 1h1m1 0h4m7 0h2m1 0h1m-27 1h2m7 0h1m2 0h2m1 0h1m-39 1h1m21 0h3m6 0h1m3 0h1m1 0h2m-15 1h1m1 0h1m5 0h3m3 0h1m5 0h1m-45 1h3m30 0h1m4 0h1m-36 1h2m21 0h1m7 0h1m1 0h3m-34 1h1m1 0h2m16 0h3m5 0h8m-32 1h1m16 0h2m2 0h2m1 0h3m2 0h2m3 0h1m-48 1h2m11 0h2m1 0h1m13 0h9m4 0h1m4 0h2m3 0h1m-56 1h1m1 0h3m14 0h1m14 0h2m1 0h5m2 0h3m4 0h2m1 0h1m1 0h1m-58 1h4m17 0h1m14 0h1m1 0h2m2 0h4m1 0h1m-75 1h1m47 0h2m13 0h3m-111 1h1m92 0h3m-56 1h1m48 0h1m1 0h2m20 0h2m-77 1h1m1 0h2m6 0h1m37 0h4m1 0h1m22 0h1m-108 1h1m33 0h1m5 0h1m1 0h1m36 0h1m3 0h2m18 0h2m2 0h1m-75 1h2m5 0h1m2 0h1m25 0h1m8 0h1m4 0h3m16 0h6m-76 1h4m3 0h1m3 0h1m39 0h1m2 0h1m15 0h1m1 0h3m-114 1h1m30 0h1m2 0h3m1 0h1m4 0h3m4 0h1m34 0h2m3 0h4m15 0h3m-80 1h1m1 0h1m15 0h1m34 0h2m3 0h2m1 0h1m24 0h1m-69 1h1m34 0h3m1 0h1m2 0h2m20 0h7m-87 1h1m14 0h2m35 0h1m1 0h1m4 0h2m14 0h1m2 0h1m1 0h6m1 0h1m-90 1h1m1 0h1m3 0h1m10 0h2m36 0h1m5 0h4m12 0h1m3 0h5m1 0h1m1 0h3m-91 1h2m3 0h2m7 0h2m46 0h3m6 0h1m2 0h3m5 0h1m5 0h2m-89 1h4m2 0h1m56 0h2m3 0h3m1 0h4m11 0h1m6 0h1m-95 1h1m6 0h1m1 0h1m52 0h2m3 0h5m1 0h3m10 0h2m4 0h3m-109 1h1m21 0h1m53 0h1m4 0h5m3 0h1m10 0h2m3 0h5m-104 1h1m69 0h1m1 0h1m3 0h1m1 0h3m1 0h2m11 0h3m1 0h3m1 0h1m-103 1h1m74 0h2m2 0h1m1 0h2m1 0h3m8 0h1m4 0h3m-31 1h1m3 0h3m2 0h2m1 0h2m1 0h1m3 0h1m2 0h1m6 0h1m-30 1h1m2 0h6m3 0h1m3 0h1m1 0h5m-22 1h7m4 0h1m4 0h2m1 0h2m4 0h1m-23 1h3m9 0h1m3 0h2m2 0h4m-39 1h1m1 0h1m17 0h3m13 0h3m-41 1h1m1 0h3m1 0h2m-8 1h3m8 0h4m-15 1h1m1 0h1m7 0h1m3 0h2m-7 1h1m4 0h1m-6 1h1m4 0h1m-6 2h1m4 0h1m-6 1h1m1 0h3m7 0h1m12 0h1m-27 1h1m11 0h2m12 0h1m-28 1h1m5 0h1m5 0h3m-15 1h1m6 0h1m4 0h2m-14 1h1m7 0h1m3 0h1m-11 1h6m27 6h1m-3 1h4m-5 1h2m1 0h2m-4 1h1m-1 1h1"/><path stroke="#ffeefb" d="M124 8.5h2m0 1h1m-1 1h2m-2 1h2m1 0h1m-12 1h1m-2 1h1m5 0h1m4 0h1m-12 1h1m2 0h1m1 0h5m1 0h2m-11 1h2m1 0h1m2 0h5m-12 1h5m1 0h1m3 0h2m-47 1h1m3 0h2m8 0h4m16 0h4m1 0h3m4 0h1m-52 1h5m2 0h6m6 0h1m1 0h2m2 0h2m5 0h1m6 0h3m2 0h3m-47 1h1m8 0h1m2 0h1m5 0h1m4 0h1m3 0h5m1 0h2m4 0h1m-40 1h1m9 0h1m1 0h4m12 0h1m5 0h1m3 0h3m7 0h1m-49 1h1m34 0h6m6 0h2m-49 1h1m39 0h1m5 0h5m-51 1h1m38 0h2m5 0h1m2 0h3m-51 1h1m33 0h1m4 0h1m5 0h1m2 0h1m1 0h1m-51 1h1m32 0h2m4 0h12m-19 1h1m1 0h1m4 0h11m-51 1h2m38 0h5m1 0h2m-48 1h1m39 0h3m4 0h1m-48 1h1m1 0h2m36 0h4m-44 1h1m4 0h1m1 0h1m34 0h4m-49 1h3m6 0h4m23 0h1m3 0h2m6 0h2m1 0h2m1 0h1m-59 1h4m2 0h1m9 0h1m2 0h1m23 0h4m7 0h3m1 0h1m-59 1h2m14 0h5m17 0h1m5 0h2m-72 1h1m24 0h2m5 0h2m6 0h1m4 0h1m1 0h1m16 0h1m-66 1h1m1 0h1m24 0h7m6 0h1m7 0h1m-49 1h3m24 0h1m1 0h2m1 0h2m6 0h1m5 0h3m-93 1h4m33 0h3m1 0h1m2 0h5m17 0h1m4 0h2m2 0h2m1 0h1m3 0h1m4 0h2m1 0h1m-91 1h1m1 0h2m3 0h2m28 0h1m4 0h1m3 0h2m1 0h1m3 0h2m12 0h1m8 0h2m4 0h1m1 0h2m25 0h3m-114 1h1m3 0h3m1 0h2m21 0h1m1 0h1m4 0h1m7 0h1m3 0h2m1 0h1m16 0h2m4 0h10m26 0h2m-114 1h2m3 0h5m21 0h3m4 0h1m3 0h1m2 0h1m5 0h2m17 0h2m3 0h1m1 0h8m-85 1h2m3 0h5m20 0h4m1 0h4m4 0h3m5 0h1m17 0h6m1 0h6m1 0h3m5 0h2m17 0h1m-106 1h5m20 0h1m1 0h2m3 0h1m13 0h2m16 0h4m4 0h1m1 0h1m4 0h1m-85 1h2m2 0h6m21 0h1m1 0h1m17 0h1m32 0h1m7 0h1m-93 1h2m4 0h2m23 0h3m17 0h1m32 0h1m5 0h2m-92 1h2m8 0h1m20 0h3m17 0h1m32 0h2m3 0h1m1 0h2m-63 1h2m1 0h1m17 0h1m34 0h1m1 0h1m3 0h1m-83 1h1m20 0h2m16 0h2m36 0h1m3 0h4m-91 1h2m4 0h2m17 0h2m1 0h2m4 0h2m5 0h4m45 0h3m-79 1h3m8 0h1m5 0h1m3 0h2m3 0h2m49 0h1m-90 1h1m9 0h4m14 0h2m5 0h1m1 0h1m44 0h1m6 0h1m-96 1h1m4 0h1m12 0h4m3 0h1m1 0h3m10 0h3m44 0h1m1 0h1m5 0h1m7 0h1m20 0h1m-120 1h1m19 0h2m1 0h2m11 0h2m46 0h2m3 0h1m1 0h3m5 0h2m1 0h1m15 0h4m-122 1h2m19 0h4m56 0h1m1 0h4m1 0h1m1 0h1m1 0h2m7 0h2m5 0h1m8 0h6m1 0h1m-125 1h3m19 0h1m1 0h1m60 0h2m4 0h3m13 0h3m7 0h8m-123 1h1m1 0h1m18 0h1m61 0h2m1 0h1m1 0h5m12 0h3m3 0h1m2 0h4m1 0h1m1 0h1m-122 1h3m1 0h1m73 0h2m2 0h5m2 0h1m3 0h3m3 0h1m4 0h4m1 0h3m2 0h2m4 0h1m-127 1h1m1 0h1m2 0h2m1 0h1m20 0h1m1 0h2m52 0h2m1 0h1m1 0h5m4 0h8m4 0h2m4 0h6m-123 1h5m26 0h1m52 0h1m1 0h1m3 0h1m2 0h7m2 0h7m12 0h6m-96 1h1m51 0h2m3 0h8m4 0h1m1 0h1m1 0h5m12 0h8m-45 1h1m1 0h1m1 0h4m2 0h1m6 0h1m1 0h5m14 0h7m-45 1h10m6 0h1m4 0h3m14 0h6m-49 1h2m4 0h2m1 0h6m6 0h1m4 0h3m14 0h5m-48 1h2m4 0h4m2 0h1m1 0h1m6 0h1m4 0h2m17 0h1m3 0h1m-49 1h1m4 0h5m3 0h1m6 0h1m4 0h2m12 0h2m2 0h1m4 0h1m-43 1h2m5 0h1m5 0h2m4 0h1m1 0h1m10 0h1m1 0h4m-32 1h1m4 0h3m4 0h1m2 0h1m10 0h1m1 0h2m-23 1h1m2 0h2m3 0h1m10 0h3m-21 1h4m2 0h1m12 0h1m-19 1h3m1 0h2m-15 1h2m6 0h2m2 0h2m-12 1h7m-6 1h6m-8 1h1m1 0h6m-9 1h1m4 0h3m-10 1h1m33 1h3m1 0h1m-32 1h2m25 0h1m-27 1h1m-8 1h1m5 0h2m25 0h1m-34 1h1m32 0h1"/><path stroke="#fff4fc" d="M116 6.5h3m-4 1h4m4 0h4m-11 1h1m9 0h4m-5 1h1m1 0h3m-13 1h3m5 0h1m2 0h2m-34 1h1m19 0h5m7 0h1m-34 1h3m17 0h3m1 0h3m3 0h5m-35 1h2m19 0h1m1 0h5m1 0h4m1 0h1m-35 1h3m2 0h1m6 0h1m8 0h1m1 0h2m1 0h1m5 0h1m-46 1h1m12 0h2m2 0h4m5 0h1m7 0h3m2 0h1m-41 1h4m2 0h2m7 0h7m4 0h2m6 0h3m7 0h3m-50 1h5m1 0h3m2 0h2m5 0h1m4 0h3m4 0h3m4 0h2m4 0h1m3 0h4m-53 1h2m13 0h2m3 0h1m4 0h2m3 0h4m1 0h2m1 0h3m3 0h2m3 0h5m-54 1h2m13 0h5m17 0h4m1 0h10m1 0h1m-53 1h1m35 0h3m3 0h7m1 0h3m-53 1h1m41 0h3m1 0h2m2 0h3m-54 1h2m41 0h3m1 0h1m5 0h1m-54 1h2m41 0h5m-46 1h1m40 0h5m-46 1h1m-1 1h1m33 0h1m16 0h1m-53 1h1m48 0h4m-53 1h1m43 0h4m1 0h1m-50 1h1m1 0h1m42 0h5m-56 1h1m4 0h2m1 0h4m41 0h6m-58 1h3m3 0h2m2 0h2m41 0h1m2 0h1m-59 1h1m7 0h2m4 0h3m-43 1h3m22 0h2m7 0h2m3 0h4m-87 1h1m7 0h1m34 0h2m1 0h2m6 0h3m12 0h1m9 0h2m1 0h1m1 0h1m1 0h4m1 0h1m-92 1h2m35 0h1m2 0h4m3 0h1m6 0h2m12 0h3m7 0h6m1 0h1m1 0h5m-91 1h2m34 0h7m3 0h2m4 0h2m8 0h8m1 0h1m2 0h1m2 0h6m1 0h5m-86 1h1m1 0h2m22 0h2m1 0h1m1 0h2m5 0h2m5 0h1m2 0h3m8 0h3m1 0h4m2 0h2m2 0h1m2 0h2m1 0h4m-86 1h1m2 0h3m22 0h8m6 0h3m4 0h3m2 0h1m8 0h3m1 0h5m1 0h2m2 0h4m1 0h1m-83 1h3m6 0h1m18 0h2m1 0h1m1 0h4m4 0h3m7 0h1m1 0h2m9 0h5m2 0h4m-74 1h3m5 0h1m19 0h1m3 0h4m5 0h1m2 0h1m6 0h3m10 0h4m2 0h3m-73 1h1m1 0h1m5 0h1m23 0h1m17 0h3m11 0h3m6 0h1m6 0h1m-82 1h4m5 0h3m40 0h1m6 0h2m2 0h1m2 0h2m4 0h4m1 0h1m1 0h4m-82 1h2m6 0h4m1 0h2m12 0h2m21 0h1m8 0h2m1 0h3m1 0h2m1 0h1m1 0h8m1 0h2m-82 1h4m2 0h6m1 0h2m12 0h2m21 0h1m12 0h1m8 0h1m1 0h1m6 0h1m-82 1h8m1 0h1m3 0h1m14 0h1m21 0h1m13 0h1m16 0h1m6 0h1m-91 1h8m1 0h3m4 0h1m12 0h1m22 0h1m12 0h2m17 0h2m3 0h3m-92 1h10m1 0h2m3 0h1m12 0h2m20 0h3m10 0h3m19 0h1m1 0h1m1 0h1m-91 1h4m2 0h2m1 0h1m2 0h6m1 0h3m9 0h1m17 0h6m10 0h1m21 0h2m2 0h3m-94 1h8m1 0h9m3 0h2m5 0h1m1 0h4m2 0h3m7 0h1m1 0h3m36 0h2m5 0h1m-95 1h6m1 0h9m5 0h1m2 0h7m2 0h1m2 0h2m1 0h2m3 0h1m42 0h1m1 0h1m4 0h1m-94 1h4m1 0h6m1 0h1m1 0h3m6 0h1m5 0h1m3 0h3m2 0h1m3 0h1m42 0h1m1 0h1m1 0h2m2 0h1m-95 1h5m1 0h4m1 0h1m1 0h1m2 0h6m1 0h2m12 0h4m44 0h4m2 0h3m1 0h1m-96 1h1m3 0h1m2 0h8m4 0h2m1 0h4m4 0h1m6 0h2m1 0h2m43 0h1m1 0h1m4 0h1m1 0h1m1 0h1m-89 1h6m8 0h5m1 0h1m1 0h1m1 0h2m51 0h5m2 0h4m-96 1h2m2 0h3m1 0h1m1 0h3m8 0h7m1 0h7m16 0h1m1 0h1m29 0h6m2 0h1m1 0h1m32 0h1m1 0h1m-130 1h3m2 0h2m3 0h1m1 0h2m7 0h15m15 0h2m24 0h1m5 0h2m2 0h2m5 0h2m1 0h3m28 0h1m-129 1h1m1 0h1m1 0h2m2 0h1m1 0h2m15 0h3m1 0h1m20 0h1m23 0h1m4 0h2m1 0h2m10 0h4m11 0h1m2 0h4m9 0h2m-129 1h1m5 0h4m18 0h4m1 0h1m16 0h1m24 0h1m5 0h2m1 0h1m16 0h2m7 0h6m2 0h4m6 0h2m-130 1h4m1 0h2m1 0h2m19 0h3m49 0h3m18 0h1m1 0h1m5 0h10m1 0h1m-110 1h2m67 0h2m1 0h1m8 0h2m8 0h1m5 0h5m1 0h1m1 0h1m3 0h2m-54 1h1m6 0h1m1 0h7m17 0h4m3 0h3m1 0h1m3 0h2m2 0h2m6 0h1m-60 1h1m6 0h3m2 0h4m2 0h1m13 0h1m2 0h1m6 0h1m3 0h7m5 0h2m-52 1h2m2 0h4m4 0h2m1 0h1m8 0h1m2 0h1m2 0h1m7 0h9m1 0h3m-49 1h1m1 0h4m5 0h3m11 0h1m2 0h1m5 0h3m1 0h2m2 0h2m1 0h1m1 0h2m-49 1h1m1 0h5m2 0h1m1 0h3m11 0h1m8 0h3m1 0h1m10 0h1m-44 1h4m2 0h1m8 0h4m4 0h2m4 0h4m4 0h2m4 0h1m-43 1h1m13 0h2m6 0h3m2 0h5m3 0h2m-32 1h1m15 0h3m4 0h2m1 0h2m1 0h2m6 0h1m-38 1h1m15 0h1m1 0h2m9 0h1m-30 1h1m10 0h2m2 0h1m20 0h1m-40 1h1m3 0h2m7 0h1m1 0h2m17 0h2m-32 1h3m6 0h2m-12 1h2m1 0h1m6 0h1m20 0h1m-33 1h2m2 0h3m3 0h1m23 0h1m-34 1h2m3 0h5m5 0h3m14 0h5m-38 1h4m3 0h3m3 0h1m1 0h5m13 0h1m-34 1h3m8 0h3m1 0h4m14 0h1m-38 1h2m1 0h4m3 0h2m1 0h4m4 0h1m15 0h1m-37 1h4m1 0h1m6 0h3m1 0h1m19 0h1m-36 1h1m1 0h1m1 0h1m5 0h3m1 0h3m14 0h1"/><path stroke="#fff9fe" d="M116 5.5h3m-13 1h1m7 0h2m3 0h1m3 0h7m-25 1h2m7 0h1m4 0h1m1 0h2m4 0h3m-16 1h2m1 0h7m-17 1h1m7 0h10m-30 1h2m11 0h3m4 0h2m3 0h5m-30 1h1m1 0h1m10 0h2m5 0h1m5 0h5m-25 1h1m6 0h2m12 0h3m-43 1h4m8 0h1m2 0h5m5 0h3m5 0h1m-34 1h5m7 0h1m3 0h2m1 0h2m3 0h1m1 0h2m5 0h1m-37 1h3m1 0h6m3 0h3m2 0h2m7 0h2m1 0h1m5 0h1m-38 1h3m4 0h2m2 0h7m7 0h1m2 0h1m2 0h2m3 0h1m-40 1h3m13 0h5m8 0h4m3 0h2m1 0h1m-41 1h2m17 0h3m9 0h1m7 0h1m-40 1h2m52 0h1m-54 1h2m-1 1h1m45 0h1m-51 1h1m1 0h2m46 0h1m-51 1h4m-3 1h5m-2 1h2m-2 1h2m-6 1h2m1 0h2m-7 1h7m50 0h3m-67 1h2m5 0h7m50 0h3m-67 1h3m4 0h1m1 0h4m-14 1h5m3 0h2m8 0h2m-81 1h1m42 0h4m16 0h2m3 0h1m10 0h4m-84 1h2m5 0h2m34 0h1m3 0h1m6 0h3m11 0h1m11 0h3m-82 1h2m4 0h1m1 0h1m29 0h4m5 0h1m1 0h4m3 0h1m23 0h1m1 0h1m-82 1h1m3 0h4m26 0h1m1 0h2m8 0h2m1 0h3m2 0h2m4 0h6m18 0h1m-84 1h2m2 0h3m20 0h2m3 0h2m12 0h1m1 0h2m2 0h1m3 0h3m-57 1h1m2 0h2m19 0h1m2 0h1m1 0h1m15 0h2m3 0h2m2 0h4m16 0h1m-71 1h1m2 0h1m5 0h1m9 0h1m27 0h4m2 0h2m9 0h1m-63 1h2m5 0h5m22 0h1m10 0h4m4 0h1m-54 1h2m6 0h1m1 0h2m6 0h1m14 0h1m11 0h5m3 0h2m-63 1h1m7 0h3m1 0h1m5 0h1m7 0h1m25 0h1m3 0h3m2 0h2m-53 1h5m11 0h1m24 0h2m3 0h1m2 0h2m1 0h2m-53 1h1m2 0h1m10 0h1m24 0h1m1 0h1m4 0h1m2 0h1m3 0h1m2 0h1m1 0h1m8 0h1m-68 1h1m2 0h1m35 0h1m1 0h2m4 0h2m1 0h1m1 0h8m1 0h1m1 0h6m-71 1h3m1 0h2m10 0h2m23 0h1m10 0h2m1 0h8m1 0h2m3 0h2m-75 1h1m3 0h4m12 0h1m24 0h2m9 0h1m2 0h2m13 0h2m-71 1h1m1 0h1m1 0h2m1 0h2m2 0h1m3 0h1m25 0h2m3 0h1m7 0h2m16 0h1m3 0h1m-82 1h1m9 0h1m3 0h1m5 0h1m26 0h1m3 0h2m2 0h2m1 0h3m17 0h1m2 0h2m-83 1h1m14 0h5m19 0h1m3 0h3m4 0h4m1 0h3m2 0h2m16 0h1m2 0h5m-72 1h2m7 0h2m5 0h1m6 0h9m4 0h3m3 0h1m16 0h1m1 0h1m1 0h2m3 0h2m1 0h1m-82 1h1m1 0h1m7 0h2m7 0h1m5 0h2m44 0h1m1 0h1m6 0h2m-84 1h1m1 0h1m1 0h2m6 0h1m7 0h1m1 0h5m-36 1h3m11 0h4m2 0h1m9 0h6m2 0h1m2 0h1m17 0h3m21 0h1m-85 1h5m9 0h1m3 0h4m9 0h1m2 0h5m9 0h2m3 0h1m1 0h3m25 0h2m-83 1h2m9 0h1m5 0h2m15 0h2m10 0h2m1 0h1m1 0h1m1 0h3m19 0h7m-81 1h2m9 0h1m3 0h1m1 0h1m16 0h1m10 0h3m2 0h5m14 0h1m2 0h2m1 0h5m46 0h1m-118 1h2m3 0h2m3 0h5m7 0h1m15 0h2m1 0h4m1 0h1m15 0h2m1 0h4m2 0h1m45 0h1m-120 1h4m1 0h4m3 0h1m3 0h2m6 0h1m13 0h2m1 0h4m2 0h2m4 0h2m4 0h1m4 0h1m1 0h3m1 0h1m2 0h1m32 0h2m-114 1h1m2 0h1m2 0h6m12 0h1m4 0h2m15 0h2m6 0h2m3 0h2m3 0h2m4 0h3m3 0h1m39 0h1m-121 1h2m3 0h7m2 0h2m4 0h3m6 0h5m28 0h8m4 0h3m3 0h1m2 0h1m30 0h1m1 0h1m1 0h3m-114 1h3m1 0h4m7 0h2m38 0h1m5 0h1m1 0h1m2 0h1m1 0h1m1 0h1m34 0h1m1 0h3m2 0h2m-113 1h1m14 0h2m43 0h2m2 0h1m3 0h1m26 0h2m4 0h3m1 0h3m-114 1h1m22 0h1m44 0h1m5 0h2m25 0h2m4 0h1m1 0h5m-38 1h2m22 0h3m4 0h5m3 0h1m8 0h1m-46 1h1m8 0h1m11 0h3m4 0h5m3 0h1m7 0h2m1 0h1m-49 1h6m4 0h2m19 0h4m10 0h1m2 0h1m-49 1h7m1 0h5m19 0h1m11 0h1m3 0h2m-49 1h1m1 0h1m2 0h6m19 0h4m2 0h1m5 0h2m2 0h2m-46 1h1m4 0h4m17 0h1m2 0h9m1 0h1m4 0h3m-44 1h6m16 0h8m3 0h5m1 0h3m1 0h1m-44 1h3m2 0h2m10 0h1m2 0h3m2 0h3m1 0h1m4 0h3m2 0h5m-43 1h2m1 0h3m11 0h2m5 0h2m6 0h10m-38 1h1m11 0h3m18 0h4m-38 1h1m3 0h1m7 0h4m1 0h7m9 0h2m1 0h3m-39 1h1m3 0h3m5 0h5m3 0h2m11 0h1m5 0h1m-43 1h4m4 0h3m3 0h3m1 0h1m5 0h2m10 0h1m-37 1h4m3 0h4m2 0h2m3 0h1m4 0h2m10 0h2m-38 1h1m2 0h1m4 0h3m7 0h4m1 0h3m9 0h1m1 0h1m-38 1h2m6 0h2m1 0h1m5 0h1m1 0h1m2 0h3m8 0h2m1 0h2m-37 1h2m1 0h1m3 0h1m3 0h1m3 0h1m3 0h2m10 0h2m1 0h4"/><path stroke="#ffffff" d="M127 0.5h2m-24 4h1m10 0h3m-13 1h1m6 0h3m3 0h2m7 0h2m-29 1h1m3 0h1m1 0h1m4 0h2m6 0h3m-32 1h1m8 0h4m3 0h2m4 0h1m6 0h1m-31 1h3m9 0h1m2 0h4m4 0h1m-24 1h4m1 0h2m4 0h1m4 0h1m1 0h3m2 0h2m-25 1h5m2 0h2m1 0h3m3 0h2m3 0h1m2 0h1m-26 1h3m1 0h2m3 0h1m1 0h2m5 0h1m2 0h1m1 0h3m-31 1h3m2 0h2m2 0h2m3 0h3m1 0h1m3 0h2m2 0h1m3 0h1m-34 1h1m4 0h4m2 0h2m8 0h2m2 0h1m3 0h1m3 0h1m-35 1h2m5 0h2m2 0h3m9 0h1m1 0h1m4 0h1m3 0h1m-38 1h2m10 0h1m1 0h1m11 0h3m4 0h1m2 0h2m-40 1h3m26 0h2m5 0h1m1 0h1m-40 1h1m38 0h1m-41 1h1m-1 1h1m-1 1h2m-3 1h4m-6 1h2m1 0h1m-5 1h3m-3 1h4m-1 1h4m-5 1h5m-12 1h1m5 0h2m2 0h1m-12 1h2m-3 1h1m2 0h1m3 0h1m-24 1h1m15 0h1m3 0h1m2 0h1m-70 1h2m43 0h2m14 0h1m5 0h1m1 0h1m-70 1h1m1 0h2m4 0h1m33 0h2m4 0h3m3 0h2m5 0h3m2 0h3m-67 1h2m2 0h1m2 0h1m26 0h1m2 0h4m5 0h6m3 0h11m-65 1h2m1 0h1m27 0h5m10 0h1m8 0h11m-66 1h3m4 0h1m19 0h1m2 0h3m14 0h1m7 0h4m-57 1h2m3 0h1m1 0h1m14 0h1m1 0h1m2 0h3m15 0h1m5 0h3m3 0h1m-53 1h4m4 0h1m3 0h3m1 0h3m28 0h2m-49 1h2m1 0h1m3 0h1m1 0h5m2 0h2m32 0h2m-49 1h2m2 0h1m5 0h6m31 0h1m2 0h1m-51 1h2m1 0h3m1 0h1m2 0h2m2 0h2m32 0h1m1 0h1m-50 1h1m1 0h5m1 0h3m3 0h1m27 0h3m3 0h2m-46 1h4m6 0h1m27 0h3m-41 1h3m6 0h1m26 0h1m1 0h4m-42 1h3m6 0h2m25 0h1m2 0h1m1 0h2m2 0h1m-46 1h1m35 0h5m1 0h2m1 0h1m11 0h1m2 0h3m-64 1h2m1 0h5m30 0h3m1 0h1m3 0h1m5 0h2m2 0h3m1 0h5m-68 1h1m4 0h1m2 0h2m1 0h1m30 0h3m1 0h1m2 0h1m5 0h1m7 0h8m-62 1h4m31 0h1m2 0h2m6 0h1m7 0h9m-32 1h1m7 0h1m3 0h2m10 0h8m-32 1h1m6 0h3m1 0h5m8 0h3m1 0h1m1 0h1m7 0h1m-61 1h2m10 0h6m1 0h4m3 0h9m1 0h1m3 0h1m7 0h3m1 0h1m-54 1h1m11 0h1m4 0h7m3 0h6m1 0h3m14 0h3m-38 1h3m1 0h7m1 0h1m3 0h1m1 0h2m12 0h1m3 0h1m-69 1h3m21 0h4m4 0h1m2 0h3m1 0h1m3 0h7m7 0h8m1 0h2m-69 1h2m1 0h2m19 0h1m3 0h1m4 0h1m2 0h1m7 0h4m2 0h1m2 0h1m2 0h7m-62 1h1m1 0h1m1 0h1m16 0h1m1 0h1m3 0h1m4 0h1m10 0h6m6 0h2m1 0h2m-61 1h3m2 0h3m13 0h5m2 0h2m3 0h3m7 0h1m1 0h2m1 0h2m6 0h4m-60 1h1m4 0h3m1 0h3m9 0h1m2 0h3m1 0h1m4 0h1m7 0h2m2 0h1m1 0h2m2 0h1m2 0h1m1 0h4m5 0h1m-64 1h2m1 0h5m2 0h2m10 0h5m4 0h3m2 0h6m2 0h3m2 0h3m2 0h2m5 0h1m1 0h1m-78 1h3m14 0h1m3 0h1m2 0h3m5 0h1m13 0h2m8 0h4m8 0h3m4 0h3m-80 1h2m2 0h3m3 0h1m4 0h1m4 0h2m2 0h2m1 0h7m26 0h2m1 0h5m3 0h2m1 0h1m-75 1h3m2 0h3m1 0h6m6 0h2m2 0h2m2 0h3m29 0h2m3 0h2m3 0h1m1 0h3m-76 1h2m2 0h1m1 0h7m9 0h3m1 0h1m2 0h3m35 0h3m1 0h3m1 0h1m34 0h1m-109 1h1m7 0h3m11 0h4m2 0h2m37 0h3m4 0h2m-67 1h3m64 0h2m47 0h1m-117 1h2m65 0h2m46 0h2m-115 1h1m65 0h1m33 0h1m11 0h3m-49 1h2m1 0h1m1 0h2m39 0h2m-47 1h3m1 0h4m35 0h4m-45 1h4m30 0h3m5 0h1m-41 1h2m4 0h1m18 0h2m3 0h1m1 0h2m1 0h1m-35 1h2m2 0h1m16 0h1m2 0h2m2 0h6m10 0h1m-46 1h1m2 0h4m15 0h11m1 0h3m1 0h1m5 0h2m-47 1h2m4 0h1m16 0h1m7 0h3m5 0h1m6 0h1m-46 1h1m2 0h3m22 0h6m4 0h1m-39 1h3m27 0h3m4 0h2m-39 1h3m25 0h1m8 0h1m-37 1h1m26 0h1m7 0h1m1 0h1m-38 1h1m10 0h1m9 0h2m3 0h2m2 0h4m2 0h1m-36 1h1m8 0h3m10 0h4m2 0h4"/><path stroke="#f7ffff" d="M51 0.5h1m5 0h2m58 0h4m5 0h1m2 0h1m-80 1h2m6 0h1m58 0h3m6 0h4m-55 1h2m49 0h4m-71 1h1m14 0h3m27 0h2m4 0h1m1 0h2m2 0h2m9 0h3m-71 1h1m15 0h1m22 0h2m1 0h1m1 0h2m1 0h1m2 0h1m1 0h5m3 0h3m5 0h3m-55 1h1m21 0h6m1 0h2m1 0h2m3 0h1m8 0h7m-70 1h1m20 0h1m10 0h2m5 0h4m1 0h3m3 0h1m2 0h1m-53 1h1m28 0h3m1 0h2m4 0h2m4 0h1m4 0h2m1 0h1m-24 1h1m3 0h9m1 0h2m4 0h4m-24 1h1m4 0h1m2 0h4m1 0h4m5 0h2m-24 1h1m9 0h1m3 0h3m6 0h2m-31 1h1m4 0h1m3 0h1m6 0h1m2 0h5m4 0h1m-31 1h3m3 0h2m2 0h2m10 0h3m5 0h3m-34 1h1m9 0h2m12 0h2m5 0h3m-36 1h1m10 0h2m13 0h1m6 0h1m1 0h1m-38 1h1m13 0h1m20 0h2m-1 1h1m-40 1h1m-2 2h1m-1 1h1m-4 1h3m-4 1h2m-2 1h1m-1 1h1m-1 1h4m-4 1h3m-30 1h1m21 0h1m1 0h2m2 0h1m-69 1h1m60 0h1m2 0h1m3 0h1m-70 1h2m30 0h1m9 0h1m2 0h2m12 0h3m4 0h3m-69 1h3m29 0h2m11 0h1m1 0h1m10 0h4m5 0h2m-67 1h2m37 0h4m2 0h1m3 0h1m7 0h2m7 0h1m-65 1h1m1 0h2m1 0h3m22 0h1m4 0h3m9 0h3m2 0h1m2 0h2m-57 1h2m4 0h3m20 0h3m1 0h2m-34 1h1m4 0h4m19 0h1m-23 1h3m9 0h1m1 0h2m1 0h2m1 0h2m-22 1h1m1 0h2m3 0h2m2 0h5m1 0h1m-15 1h4m1 0h3m3 0h1m-12 1h3m7 0h2m-11 1h2m44 0h2m-48 1h1m9 0h2m35 0h1m-38 1h3m-6 1h3m1 0h2m-7 1h3m1 0h2m-6 1h3m2 0h1m31 0h1m-40 1h7m1 0h1m31 0h1m2 0h1m-44 1h1m5 0h1m1 0h1m30 0h1m1 0h3m8 0h2m3 0h1m-51 1h2m33 0h2m7 0h7m-50 1h1m28 0h2m12 0h1m1 0h1m2 0h2m-22 1h1m1 0h1m12 0h4m2 0h2m-23 1h1m1 0h1m12 0h4m2 0h2m-28 1h1m4 0h1m1 0h1m9 0h1m1 0h3m1 0h2m1 0h4m-36 1h4m7 0h3m6 0h1m3 0h2m1 0h5m1 0h5m-39 1h1m6 0h1m7 0h1m5 0h1m2 0h3m1 0h8m1 0h3m-40 1h1m2 0h1m18 0h7m8 0h1m-65 1h1m22 0h3m1 0h1m1 0h2m15 0h2m1 0h2m1 0h2m-54 1h1m22 0h3m1 0h4m17 0h2m1 0h1m1 0h1m-30 1h2m2 0h3m14 0h1m2 0h2m2 0h2m-34 1h2m3 0h1m1 0h4m13 0h1m5 0h2m-50 1h1m5 0h2m9 0h3m5 0h3m26 0h2m4 0h1m-63 1h3m5 0h2m9 0h5m1 0h3m2 0h2m2 0h8m15 0h1m-72 1h2m12 0h1m2 0h1m6 0h1m7 0h2m1 0h6m6 0h2m1 0h1m4 0h3m-57 1h2m10 0h1m2 0h3m6 0h2m3 0h3m24 0h2m2 0h3m-63 1h1m1 0h1m7 0h2m3 0h1m1 0h2m5 0h2m3 0h3m26 0h2m3 0h1m7 0h1m-75 1h2m1 0h4m1 0h2m3 0h1m5 0h4m5 0h2m2 0h3m26 0h1m6 0h1m3 0h4m-71 1h1m3 0h2m3 0h1m3 0h2m4 0h4m1 0h1m1 0h1m36 0h4m1 0h5m-68 1h1m2 0h2m2 0h2m6 0h1m43 0h3m3 0h2m-67 1h3m1 0h1m63 0h1m-68 1h3m64 0h1m-6 1h1m5 0h1m-7 1h1m6 0h2m0 1h2m34 0h1m-36 1h2m22 0h2m-26 1h1m1 0h2m30 0h1m3 0h1m-37 1h4m28 0h5m-39 1h1m1 0h2m31 0h4m-39 1h1m29 0h1m3 0h4m-39 1h2m29 0h1m1 0h2m1 0h3m-39 1h3m28 0h1m1 0h5m-38 1h3m28 0h2m-32 1h3m26 0h2"/><path stroke="#f0ffff" d="M49 0.5h2m1 0h2m2 0h1m9 0h3m5 0h3m5 0h1m9 0h1m10 0h5m8 0h1m4 0h1m-83 1h1m9 0h1m2 0h1m3 0h2m1 0h1m6 0h1m1 0h1m5 0h3m15 0h2m7 0h7m8 0h1m3 0h2m3 0h1m-81 1h1m3 0h3m5 0h3m1 0h1m12 0h1m26 0h6m2 0h3m1 0h1m2 0h5m-76 1h2m13 0h1m12 0h1m3 0h1m18 0h3m1 0h4m2 0h4m1 0h1m2 0h2m2 0h4m3 0h2m-70 1h2m1 0h2m11 0h2m1 0h3m17 0h2m2 0h1m1 0h1m4 0h2m1 0h1m11 0h5m-70 1h3m14 0h1m1 0h2m1 0h2m15 0h1m6 0h1m5 0h3m-55 1h1m1 0h1m15 0h1m1 0h2m1 0h2m2 0h1m1 0h4m2 0h1m3 0h1m12 0h2m-54 1h2m19 0h2m1 0h3m1 0h3m6 0h1m1 0h2m13 0h1m-55 1h3m17 0h7m3 0h2m-32 1h2m18 0h3m1 0h3m4 0h1m-32 1h2m19 0h7m3 0h1m-31 1h2m18 0h5m1 0h4m-29 1h1m20 0h1m-3 1h2m-18 1h1m13 0h2m1 0h1m32 0h1m-51 1h2m11 0h1m-14 1h1m10 0h2m-3 1h1m-1 1h1m-2 1h1m-1 1h1m-4 1h1m-2 1h1m-1 1h1m-1 1h1m-26 1h1m20 0h1m3 0h1m-28 1h4m19 0h3m1 0h1m-68 1h3m39 0h3m17 0h1m4 0h2m-69 1h1m1 0h1m2 0h1m35 0h5m14 0h2m4 0h3m-67 1h7m21 0h2m1 0h1m7 0h1m1 0h2m2 0h1m9 0h2m-56 1h9m18 0h2m2 0h1m5 0h5m3 0h4m5 0h1m-54 1h1m1 0h7m16 0h7m3 0h2m7 0h3m1 0h3m1 0h1m1 0h1m-54 1h1m6 0h1m19 0h2m1 0h4m18 0h2m-46 1h2m15 0h3m-19 1h1m9 0h1m1 0h2m1 0h4m-19 1h2m1 0h2m3 0h1m1 0h1m2 0h1m-13 1h3m2 0h2m3 6h1m-2 1h1m-1 1h2m0 1h1m-1 1h1m44 2h1m1 0h2m-19 1h1m17 0h2m-20 1h1m17 0h2m-20 1h1m18 0h1m-6 1h1m5 0h1m-33 1h3m23 0h1m-27 1h2m-2 1h1m21 1h1m1 0h1m-3 1h2m-22 2h1m-7 1h1m3 0h2m-29 1h2m17 0h1m6 0h2m1 0h3m2 0h1m1 0h4m-41 1h2m17 0h9m4 0h6m3 0h2m-44 1h3m1 0h1m15 0h1m20 0h5m2 0h3m-59 1h1m6 0h5m4 0h1m14 0h2m17 0h4m1 0h1m3 0h2m-67 1h4m1 0h3m6 0h3m2 0h4m4 0h1m1 0h1m1 0h3m2 0h3m4 0h1m14 0h1m7 0h1m4 0h1m-68 1h5m5 0h2m2 0h3m2 0h1m1 0h2m10 0h4m1 0h2m23 0h1m3 0h1m1 0h1m2 0h1m-73 1h5m5 0h7m46 0h10m-70 1h3m3 0h7m50 0h7m-67 1h4m56 0h2m1 0h1m3 0h1m-67 1h3m59 0h2m2 0h2m-8 1h2m6 0h2m-3 1h4m-4 1h4m-3 1h3m-3 1h3m-2 1h2m-3 1h2m32 0h1m2 0h1m-37 1h1m32 0h1m-41 1h3m-3 1h3m5 0h1"/><path stroke="#e8ffff" d="M27 0.5h6m5 0h6m4 0h1m6 0h1m3 0h2m2 0h3m3 0h1m3 0h1m3 0h1m3 0h1m1 0h9m1 0h1m5 0h4m5 0h1m1 0h1m2 0h3m6 0h4m-100 1h5m7 0h1m1 0h2m1 0h1m2 0h3m4 0h2m5 0h1m3 0h2m1 0h1m1 0h2m2 0h1m3 0h1m4 0h10m6 0h3m7 0h3m2 0h3m6 0h3m-87 1h3m1 0h3m1 0h3m3 0h1m2 0h2m3 0h1m1 0h3m2 0h7m3 0h1m5 0h1m4 0h13m6 0h2m3 0h1m1 0h2m5 0h5m-88 1h3m2 0h2m2 0h1m9 0h2m2 0h2m2 0h1m2 0h5m8 0h3m5 0h1m5 0h1m3 0h1m22 0h3m-86 1h1m1 0h5m16 0h1m1 0h3m1 0h1m1 0h3m6 0h3m1 0h1m5 0h2m-50 1h2m13 0h1m3 0h2m3 0h4m3 0h2m4 0h1m2 0h6m1 0h5m2 0h1m-54 1h1m13 0h1m3 0h1m3 0h4m4 0h3m1 0h1m5 0h2m1 0h1m7 0h3m-40 1h1m3 0h1m3 0h1m6 0h7m2 0h1m3 0h1m10 0h1m-40 1h1m3 0h1m3 0h1m6 0h6m7 0h3m-31 1h1m2 0h2m1 0h2m5 0h8m3 0h1m3 0h1m2 0h1m-32 1h1m2 0h5m5 0h1m3 0h2m1 0h2m7 0h3m-31 1h1m2 0h4m8 0h2m2 0h2m-21 1h2m1 0h4m8 0h1m5 0h2m-23 1h7m-4 1h2m1 0h2m-4 1h1m2 0h1m8 0h2m-14 1h1m1 0h2m-4 1h3m-1 1h1m7 0h1m-4 1h2m-3 1h4m-4 1h1m-2 2h1m-25 1h1m-43 1h1m40 0h1m1 0h1m18 0h1m1 0h3m-67 1h2m42 0h2m16 0h1m3 0h1m-64 1h3m34 0h1m4 0h1m15 0h1m-59 1h2m1 0h3m22 0h3m6 0h1m5 0h2m9 0h3m-51 1h2m18 0h1m4 0h1m5 0h1m7 0h2m6 0h1m-45 1h1m16 0h1m5 0h1m3 0h1m12 0h1m1 0h3m-52 1h1m7 0h1m12 0h3m7 0h2m17 0h1m1 0h1m-45 1h2m11 0h6m-9 1h7m-15 1h1m2 0h1m3 0h2m1 0h1m2 0h1m-13 1h1m2 0h3m23 26h1m-2 1h4m6 0h3m-21 1h6m4 0h10m-21 1h3m2 0h1m2 0h5m1 0h2m3 0h3m6 0h1m1 0h1m-66 1h1m34 0h2m3 0h4m1 0h6m5 0h3m1 0h3m3 0h1m-64 1h2m17 0h2m4 0h2m1 0h6m5 0h1m2 0h1m15 0h1m5 0h1m5 0h1m-71 1h2m17 0h3m1 0h2m11 0h6m18 0h1m-60 1h4m13 0h2m19 0h3m24 0h2m-67 1h7m4 0h4m2 0h1m48 0h1m4 0h3m-73 1h2m3 0h2m3 0h1m1 0h1m53 0h2m3 0h2m-73 1h2m3 0h5m56 0h1m2 0h1m1 0h4m-68 1h3m56 0h4m-62 1h1m57 0h2m-3 1h1m8 0h1m-10 1h2m7 0h1m-10 1h2m1 0h1m4 0h3m-9 1h1m1 0h1m2 0h3m-8 1h9m-8 1h1m3 0h2m1 0h2m-9 1h1m3 0h1m2 0h2"/><path stroke="#e0ffff" d="M2 0.5h1m7 0h1m1 0h3m9 0h3m6 0h5m6 0h1m2 0h1m6 0h1m6 0h2m7 0h3m5 0h3m13 0h2m2 0h1m10 0h1m1 0h2m-111 1h1m21 0h2m5 0h3m2 0h2m4 0h1m1 0h2m9 0h1m5 0h3m7 0h2m5 0h2m1 0h1m12 0h4m13 0h2m-88 1h8m3 0h2m3 0h1m11 0h2m10 0h2m11 0h2m1 0h2m1 0h4m-56 1h2m3 0h1m3 0h2m5 0h3m2 0h1m1 0h2m6 0h2m1 0h2m10 0h3m3 0h2m1 0h2m1 0h3m1 0h1m-57 1h1m1 0h1m5 0h3m6 0h2m6 0h1m3 0h1m1 0h1m12 0h1m1 0h2m2 0h1m2 0h5m-58 1h3m2 0h1m11 0h1m6 0h3m4 0h3m15 0h1m5 0h2m-55 1h2m1 0h1m11 0h1m5 0h1m1 0h1m4 0h4m-31 1h2m12 0h1m5 0h3m1 0h2m2 0h2m-16 1h1m5 0h3m1 0h1m3 0h2m-16 1h1m5 0h1m2 0h2m2 0h1m16 0h2m-32 1h1m8 0h1m3 0h1m1 0h3m2 0h1m-20 1h1m7 0h1m3 0h4m2 0h2m-20 1h1m7 0h1m3 0h4m1 0h2m1 0h2m-22 1h1m7 0h1m3 0h10m-22 1h4m5 0h1m2 0h2m2 0h4m-19 1h4m4 0h2m-10 1h2m1 0h1m4 0h2m4 0h2m-13 1h1m3 0h8m-11 1h2m1 0h3m1 0h3m-7 1h4m2 0h1m-7 1h3m-24 1h1m21 0h2m-1 1h1m-25 1h3m-45 1h1m39 0h2m1 0h3m16 0h5m-66 1h1m37 0h2m3 0h2m15 0h1m-60 1h2m35 0h1m6 0h1m14 0h1m-56 1h2m31 0h1m6 0h2m11 0h2m-52 1h3m18 0h1m3 0h1m4 0h1m8 0h1m1 0h7m-46 1h2m26 0h1m10 0h6m-43 1h2m11 0h3m7 0h1m1 0h1m14 0h1m-40 1h1m8 0h1m1 0h1m12 0h1m-24 1h1m3 0h1m1 0h5m-11 1h1m2 0h5m-7 1h2m1 0h3m20 29h4m-5 1h2m5 0h1m2 0h3m10 0h1m-14 1h1m2 0h2m7 0h3m-66 1h1m1 0h1m27 0h1m6 0h1m8 0h5m7 0h3m1 0h5m-67 1h1m1 0h1m22 0h1m2 0h1m1 0h1m3 0h1m3 0h1m6 0h1m14 0h3m1 0h4m-65 1h1m19 0h3m1 0h2m11 0h2m21 0h4m1 0h1m-66 1h1m15 0h2m1 0h2m1 0h1m1 0h1m14 0h3m24 0h1m-66 1h1m2 0h3m6 0h1m1 0h2m1 0h3m2 0h1m17 0h2m24 0h1m-67 1h1m2 0h1m1 0h1m5 0h4m56 0h1m-73 1h1m1 0h1m4 0h2m3 0h2m53 0h1m4 0h4m-76 1h1m7 0h2m1 0h2m53 0h2m2 0h1m1 0h1m2 0h1m-67 1h2m55 0h1m1 0h2m5 0h1m-67 1h1m56 0h1m2 0h2m3 0h2m-7 1h1m1 0h1m2 0h1m-78 1h1m70 0h1m1 0h1m1 0h2m-77 1h1m70 0h1m-72 1h2m70 0h1m6 0h1m-80 1h1m77 0h2"/><path stroke="#d5fefe" d="M0 0.5h2m1 0h1m5 0h1m1 0h1m3 0h4m3 0h2m21 0h2m49 0h2m-98 1h2m1 0h1m9 0h3m1 0h1m5 0h1m10 0h2m44 0h1m-48 1h3m44 0h1m-53 1h1m1 0h2m2 0h3m14 0h2m1 0h1m31 0h1m6 0h1m-62 1h2m2 0h2m11 0h1m3 0h2m31 0h2m-51 1h1m6 0h4m5 0h2m-17 1h2m4 0h1m8 0h2m7 0h1m-23 1h1m2 0h1m10 0h1m12 0h2m-27 1h1m11 0h1m11 0h3m-15 1h1m11 0h2m-14 1h1m10 0h3m-13 1h1m9 0h3m-20 1h1m6 0h1m9 0h3m7 0h1m-28 1h3m14 0h2m-18 1h4m2 0h1m10 0h2m2 0h2m-23 1h8m10 0h6m-25 1h4m1 0h4m2 0h1m7 0h4m-21 1h10m-13 1h1m2 0h11m6 0h1m-17 1h2m8 0h3m-17 1h2m14 0h1m-62 1h2m38 0h1m1 0h3m17 0h1m-64 1h3m27 0h1m9 0h6m15 0h1m1 0h2m-66 1h3m1 0h1m26 0h1m8 0h2m3 0h2m14 0h5m-65 1h2m36 0h1m20 0h2m-60 1h1m34 0h2m7 0h1m13 0h1m-57 1h2m21 0h1m10 0h1m8 0h1m3 0h2m6 0h2m-53 1h1m2 0h1m1 0h1m12 0h1m3 0h5m3 0h1m9 0h7m1 0h3m-47 1h1m14 0h1m1 0h1m8 0h1m10 0h1m-37 1h2m11 0h3m6 0h1m2 0h1m-24 1h2m8 0h1m11 0h1m-23 1h8m1 0h1m-9 1h3m1 0h1m-5 1h2m34 32h2m-53 1h1m49 0h1m1 0h5m-57 1h1m27 0h1m1 0h3m1 0h3m8 0h1m2 0h3m7 0h1m-60 1h3m23 0h1m8 0h2m2 0h1m5 0h1m15 0h2m4 0h1m-67 1h2m21 0h1m1 0h1m1 0h1m11 0h2m3 0h2m15 0h4m2 0h1m-69 1h1m2 0h1m16 0h1m3 0h2m1 0h1m14 0h2m2 0h1m22 0h1m-68 1h2m4 0h1m10 0h1m1 0h3m21 0h2m22 0h2m-69 1h1m1 0h1m1 0h1m10 0h3m49 0h1m-68 1h1m1 0h1m5 0h1m5 0h1m1 0h1m55 0h1m1 0h2m-75 1h1m7 0h1m2 0h3m51 0h1m4 0h2m1 0h2m-75 1h2m6 0h1m1 0h3m51 0h2m5 0h1m1 0h1m-77 1h2m1 0h3m5 0h2m49 0h1m6 0h1m5 0h2m-76 1h5m5 0h2m4 0h3m41 0h2m6 0h2m-70 1h3m5 0h1m1 0h2m4 0h3m42 0h1m-61 1h2m5 0h4m2 0h4m45 0h2m5 0h1m-71 1h3m9 0h6m47 0h3m1 0h3"/><path stroke="#cafcfe" d="M4 0.5h1m14 0h1m1 0h1m-18 1h1m4 0h4m3 0h1m1 0h2m-20 1h4m15 0h1m4 0h1m0 1h3m1 0h1m0 1h2m2 0h2m14 0h1m1 0h1m-20 1h1m1 0h2m11 0h3m1 0h1m-8 1h1m1 0h2m-5 1h3m2 0h2m1 0h2m-13 1h1m1 0h2m7 0h2m-9 1h1m5 0h3m-7 1h1m3 0h3m-8 1h4m1 0h1m2 0h1m-8 1h1m1 0h3m2 0h1m-8 1h1m3 0h2m2 0h1m11 0h1m-20 1h1m4 0h2m-24 1h2m10 0h1m1 0h1m1 0h2m-5 1h2m1 0h1m4 0h1m-6 1h1m1 0h1m-9 1h1m6 0h2m-9 1h1m1 0h1m1 0h6m2 0h8m-58 1h1m27 0h3m6 0h7m2 0h4m4 0h2m2 0h2m-62 1h1m2 0h1m25 0h3m5 0h1m1 0h2m5 0h6m7 0h4m-64 1h1m3 0h1m25 0h1m1 0h1m4 0h4m6 0h1m12 0h2m1 0h1m-61 1h1m1 0h1m23 0h2m1 0h3m3 0h2m7 0h1m11 0h2m-58 1h1m24 0h11m7 0h2m10 0h2m-57 1h3m20 0h11m10 0h2m1 0h3m4 0h3m-54 1h3m1 0h1m1 0h2m11 0h2m1 0h2m1 0h7m10 0h3m2 0h2m3 0h1m-50 1h2m1 0h1m1 0h1m10 0h1m1 0h3m5 0h3m17 0h1m-43 1h2m11 0h1m1 0h1m6 0h3m-23 1h4m6 0h1m10 0h2m-21 1h8m27 36h1m-6 1h2m3 0h4m1 0h2m-30 1h3m2 0h1m2 0h2m7 0h1m3 0h4m5 0h2m-61 1h1m28 0h2m8 0h1m19 0h3m4 0h2m-67 1h2m25 0h1m12 0h1m5 0h1m14 0h7m-69 1h2m18 0h1m3 0h4m15 0h2m2 0h2m19 0h1m-68 1h1m5 0h3m10 0h4m1 0h1m19 0h4m19 0h1m-68 1h1m3 0h5m7 0h1m1 0h2m3 0h1m41 0h3m-69 1h3m1 0h1m2 0h1m1 0h2m6 0h3m3 0h1m42 0h2m7 0h1m-76 1h3m2 0h1m3 0h2m5 0h4m55 0h1m-74 1h1m3 0h2m2 0h1m2 0h8m40 0h1m1 0h1m3 0h2m-63 1h5m2 0h2m1 0h1m3 0h1m39 0h1m2 0h1m4 0h1m-65 1h5m1 0h1m2 0h4m43 0h2m1 0h4m3 0h1m-67 1h2m1 0h2m4 0h2m4 0h1m43 0h1m2 0h2m1 0h2m-67 1h1m3 0h5m6 0h1m43 0h3m3 0h1"/><path stroke="#bffbfd" d="M8 0.5h1m11 0h1m-16 1h1m2 0h1m11 0h3m-19 1h1m3 0h1m4 0h2m1 0h3m1 0h1m1 0h2m-24 1h1m23 0h1m3 1h2m21 0h1m-20 1h1m1 0h1m16 0h1m-15 1h1m8 0h1m2 0h4m-14 1h1m7 0h2m2 0h1m-12 1h1m4 0h7m-11 1h4m1 0h5m-6 1h2m1 0h3m-6 1h1m4 0h1m1 0h2m-9 1h2m5 0h2m-9 1h2m6 0h2m-24 1h2m10 0h5m-19 1h2m2 0h1m8 0h1m1 0h1m1 0h1m-18 1h5m8 0h2m2 0h1m-21 1h1m2 0h5m8 0h5m1 0h1m-18 1h3m8 0h5m-46 1h1m1 0h1m25 0h6m4 0h2m1 0h1m1 0h1m-45 1h3m1 0h2m23 0h2m7 0h2m13 0h4m2 0h2m-61 1h1m4 0h1m23 0h1m3 0h1m3 0h1m1 0h1m13 0h1m4 0h2m-55 1h1m22 0h2m3 0h4m11 0h6m4 0h2m-54 1h1m20 0h2m6 0h1m1 0h1m10 0h7m2 0h1m-54 1h3m7 0h1m10 0h3m20 0h2m1 0h7m-52 1h5m1 0h4m8 0h2m23 0h1m3 0h4m-48 1h1m1 0h1m2 0h2m7 0h2m5 0h1m24 0h3m-43 1h1m4 0h1m-6 1h1m2 0h4m2 0h2m-7 1h6m31 38h1m-25 1h2m13 0h3m4 0h2m2 0h1m-28 1h1m2 0h5m8 0h3m-21 1h1m7 0h4m7 0h2m-18 1h1m9 0h1m6 0h1m13 0h5m-68 1h1m23 0h1m1 0h2m15 0h2m20 0h3m-68 1h1m20 0h3m1 0h1m17 0h2m1 0h2m17 0h1m-61 1h2m1 0h1m11 0h3m1 0h2m39 0h1m-60 1h3m11 0h6m35 0h3m1 0h2m-59 1h2m11 0h6m33 0h1m3 0h3m-52 1h1m5 0h3m2 0h1m37 0h4m-48 1h8m39 0h3m-64 1h1m13 0h6m34 0h3m5 0h1m-64 1h3m12 0h6m26 0h1"/><path stroke="#b4fafc" d="M5 0.5h3m-2 1h2m-3 1h3m1 0h4m2 0h1m5 0h1m-21 1h3m16 0h1m2 0h1m1 1h3m2 1h2m-4 1h1m7 0h1m1 1h1m0 1h1m0 1h1m0 1h2m1 0h1m-44 3h2m38 0h4m-45 1h4m25 0h2m2 0h1m7 0h2m-43 1h4m18 0h1m5 0h1m12 0h1m-42 1h3m20 0h6m-29 1h2m23 0h1m1 0h2m5 0h1m6 0h1m-42 1h3m3 0h2m16 0h7m3 0h1m4 0h2m-41 1h1m1 0h1m1 0h4m17 0h4m6 0h1m2 0h1m-33 1h2m18 0h3m5 0h2m1 0h1m-32 1h1m19 0h1m1 0h1m5 0h1m1 0h1m17 0h4m-52 1h1m19 0h2m26 0h4m-51 1h1m1 0h1m5 0h1m7 0h1m1 0h2m9 0h1m18 0h2m1 0h1m-52 1h4m1 0h2m1 0h3m5 0h2m25 0h1m-40 1h1m4 0h2m4 0h2m-8 1h1m4 0h2m-7 1h4m1 0h4m-9 1h2m4 0h2m32 40h2m-26 1h2m16 0h6m1 0h2m-29 1h7m22 0h3m-34 1h4m1 0h2m2 0h5m20 0h1m-32 1h3m1 0h1m6 0h1m6 0h1m13 0h2m-39 1h1m5 0h2m11 0h1m2 0h2m13 0h2m-39 1h2m15 0h5m14 0h3m-39 1h2m15 0h3m14 0h1m3 0h1m-38 1h1m14 0h4m5 0h1m-28 1h2m1 0h1m17 0h1m12 0h2m-3 1h3m-34 1h2m24 0h2m2 0h4m-34 1h1m23 0h2m1 0h1m3 0h3m1 0h2"/><path stroke="#aaf3fb" d="M4 3.5h3m3 0h1m6 0h3m1 0h2m-23 1h3m20 0h2m-25 1h2m23 0h5m-1 1h1m2 0h4m1 1h1m1 2h1m0 1h1m2 0h1m-3 1h4m-44 1h1m39 0h4m-45 1h1m2 0h2m25 0h3m-29 1h1m14 0h5m4 0h1m-25 1h1m14 0h1m1 0h1m1 0h2m2 0h1m6 0h1m-32 1h2m4 0h2m10 0h2m11 0h1m6 0h1m-40 1h4m1 0h4m11 0h3m10 0h1m4 0h1m-38 1h3m2 0h4m11 0h1m11 0h1m-28 1h2m14 0h1m11 0h2m-28 1h1m13 0h2m10 0h1m-30 1h1m17 0h1m1 0h1m7 0h1m-29 1h1m1 0h4m4 0h1m6 0h2m-18 1h1m1 0h5m1 0h2m6 0h1m-14 1h1m6 0h1m3 0h1m-5 1h4m-5 1h4m35 43h1m-7 1h9m-24 1h2m13 0h4m4 0h2m1 0h1m-34 1h1m1 0h1m3 0h1m1 0h6m8 0h5m7 0h1m-36 1h1m6 0h5m3 0h1m7 0h5m7 0h1m-31 1h1m9 0h1m5 0h4m1 0h2m6 0h1m-34 1h1m13 0h1m3 0h6m-24 1h5m13 0h2m1 0h2m1 0h1m2 0h1m2 0h2m-32 1h6m7 0h4m1 0h1m1 0h5m2 0h3m-30 1h3m9 0h7m4 0h6m-29 1h2m12 0h4m2 0h2m1 0h1m2 0h2m-29 1h2m13 0h2m4 0h2m5 0h2m3 0h1"/><path stroke="#a0ecfa" d="M7 3.5h3m1 0h6m-14 1h2m13 0h1m3 0h1m-21 1h1m21 0h1m-25 1h3m23 0h2m2 0h2m3 1h2m1 1h1m0 2h1m0 1h1m-41 1h1m1 0h3m16 0h1m18 0h1m-36 1h1m13 0h5m5 0h1m3 0h1m6 0h1m-36 1h1m12 0h1m5 0h1m1 0h2m6 0h1m5 0h1m-36 1h1m3 0h2m4 0h4m1 0h1m4 0h2m-22 1h1m1 0h2m2 0h1m4 0h5m19 0h1m-35 1h1m4 0h3m3 0h1m3 0h1m17 0h1m-28 1h1m9 0h1m13 0h1m1 0h1m-29 1h2m9 0h3m-16 1h2m1 0h2m5 0h3m-13 1h5m4 0h4m3 0h1m-17 1h1m4 0h4m1 0h3m1 0h2m-6 1h5m-4 1h3m32 47h4m2 0h1m-32 1h1m25 0h7m-34 1h4m7 0h3m13 0h5m1 0h1m-34 1h4m1 0h9m10 0h1m2 0h1m1 0h4m-32 1h5m3 0h5m10 0h4m1 0h3m-27 1h1m4 0h4m6 0h1m4 0h2m1 0h2m-24 1h7m6 0h1m5 0h2m-24 1h5m3 0h1m7 0h4m-21 1h5m5 0h2m4 0h2m2 0h1m-22 1h5m6 0h2m2 0h4m6 0h1"/><path stroke="#96d8fa" d="M5 4.5h3m9 0h1m1 0h3m-19 1h2m17 0h2m-21 1h1m18 0h4m-26 1h4m22 0h4m4 0h1m-33 1h2m33 0h1m0 1h1m-16 1h2m-25 1h4m17 0h4m14 0h1m-35 1h1m13 0h2m1 0h3m6 0h3m-28 1h1m10 0h2m5 0h1m2 0h2m5 0h1m-20 1h3m7 0h1m-20 1h1m1 0h1m2 0h4m20 0h1m4 0h1m-35 1h1m5 0h4m19 0h1m3 0h1m-26 1h3m1 0h3m15 0h1m1 0h1m-26 1h9m15 0h1m-26 1h3m1 0h5m-8 1h5m3 0h3m-11 1h4m4 0h3m-3 1h1m38 51h1m-5 1h1m-23 1h3m19 0h1m-23 1h4m-2 2h3m-4 1h1m3 0h1m-6 1h1m4 0h1"/><path stroke="#8cc4fa" d="M8 4.5h1m1 0h1m5 0h1m-12 1h1m13 0h3m-18 1h2m15 0h1m-18 1h2m15 0h3m1 0h1m4 0h4m-34 1h2m2 0h1m17 0h1m2 0h2m1 0h1m6 0h2m-37 1h1m1 0h2m19 0h3m11 0h1m-38 1h4m18 0h1m14 0h2m-35 1h3m-1 1h1m20 0h4m3 0h1m4 0h1m-26 1h3m8 0h2m8 0h1m3 0h1m-34 1h1m2 0h6m20 0h1m3 0h1m-33 1h1m31 0h1m-2 1h1m-2 1h1m-23 2h1m20 60h3m-4 1h2m1 0h1"/><path stroke="#7db0f9" d="M9 4.5h1m1 0h5m-10 1h2m10 0h1m-13 1h1m12 0h2m-15 1h1m13 0h1m3 0h1m-20 1h2m14 0h1m1 0h2m2 0h1m1 0h1m4 0h1m-34 1h1m2 0h2m16 0h1m3 0h1m9 0h1m-33 1h4m13 0h1m3 0h1m-19 1h1m11 0h2m4 0h3m5 0h1m1 0h1m1 0h2m-32 1h1m8 0h3m6 0h2m8 0h2m1 0h1m-32 1h5m1 0h1m22 0h1m1 0h1m-32 1h2m27 0h1m-1 1h1m-1 1h2m-1 64h1"/><path stroke="#6f9cf7" d="M8 5.5h1m5 0h4m-11 1h2m9 0h1m-12 1h1m11 0h1m-13 1h1m12 0h1m9 0h4m-28 1h2m13 0h1m5 0h2m5 0h2m-28 1h1m11 0h1m5 0h2m7 0h2m-29 1h2m8 0h1m9 0h5m1 0h1m1 0h1m-29 1h4m2 0h2m21 0h1m-26 1h1m24 0h1m-1 1h2m-2 1h2"/><path stroke="#6088f6" d="M9 5.5h5m2 1h2m-10 1h1m9 0h1m-11 1h1m10 0h1m-12 1h2m10 0h1m8 0h5m-25 1h1m8 0h1m9 0h7m-25 1h1m4 0h3m-6 1h2"/><path stroke="#486af1" d="M9 6.5h4m1 0h2m-7 1h2m4 0h3m-9 1h2m7 0h1m-9 1h1m7 0h2m-10 1h1m3 0h4m1 0h1m-9 1h1m2 0h1"/><path stroke="#314ced" d="M13 6.5h1m-3 1h4m-4 1h7m-7 1h4m2 0h1m-7 1h3m-2 1h2"/><path stroke="#273ad9" d="M15 9.5h2"/></g><path class="gc2" d="M513.8 41.3h5.1v5.2h-5.1zM519.0 41.3h5.1v5.2h-5.1zM524.1 41.3h5.1v5.2h-5.1zM529.3 41.3h5.1v5.2h-5.1zM539.5 41.3h5.1v5.2h-5.1zM544.7 41.3h5.1v5.2h-5.1zM549.8 41.3h5.1v5.2h-5.1zM555.0 41.3h5.1v5.2h-5.1zM560.1 41.3h5.1v5.2h-5.1zM590.9 41.3h5.1v5.2h-5.1zM596.1 41.3h5.1v5.2h-5.1zM601.2 41.3h5.1v5.2h-5.1zM606.3 41.3h5.1v5.2h-5.1zM611.5 41.3h5.1v5.2h-5.1zM616.6 41.3h5.1v5.2h-5.1zM621.8 41.3h5.1v5.2h-5.1zM626.9 41.3h5.1v5.2h-5.1zM632.0 41.3h5.1v5.2h-5.1zM637.2 41.3h5.1v5.2h-5.1zM642.3 41.3h5.1v5.2h-5.1zM647.4 41.3h5.1v5.2h-5.1zM652.6 41.3h5.1v5.2h-5.1zM657.7 41.3h5.1v5.2h-5.1zM662.9 41.3h5.1v5.2h-5.1zM513.8 46.5h5.1v5.2h-5.1zM524.1 46.5h5.1v5.2h-5.1zM529.3 46.5h5.1v5.2h-5.1zM534.4 46.5h5.1v5.2h-5.1zM539.5 46.5h5.1v5.2h-5.1zM544.7 46.5h5.1v5.2h-5.1zM549.8 46.5h5.1v5.2h-5.1zM555.0 46.5h5.1v5.2h-5.1zM590.9 46.5h5.1v5.2h-5.1zM606.3 46.5h5.1v5.2h-5.1zM611.5 46.5h5.1v5.2h-5.1zM616.6 46.5h5.1v5.2h-5.1zM621.8 46.5h5.1v5.2h-5.1zM626.9 46.5h5.1v5.2h-5.1zM632.0 46.5h5.1v5.2h-5.1zM637.2 46.5h5.1v5.2h-5.1zM642.3 46.5h5.1v5.2h-5.1zM647.4 46.5h5.1v5.2h-5.1zM657.7 46.5h5.1v5.2h-5.1zM662.9 46.5h5.1v5.2h-5.1zM513.8 51.7h5.1v5.2h-5.1zM519.0 51.7h5.1v5.2h-5.1zM524.1 51.7h5.1v5.2h-5.1zM529.3 51.7h5.1v5.2h-5.1zM534.4 51.7h5.1v5.2h-5.1zM539.5 51.7h5.1v5.2h-5.1zM544.7 51.7h5.1v5.2h-5.1zM549.8 51.7h5.1v5.2h-5.1zM555.0 51.7h5.1v5.2h-5.1zM560.1 51.7h5.1v5.2h-5.1zM590.9 51.7h5.1v5.2h-5.1zM596.1 51.7h5.1v5.2h-5.1zM601.2 51.7h5.1v5.2h-5.1zM606.3 51.7h5.1v5.2h-5.1zM611.5 51.7h5.1v5.2h-5.1zM616.6 51.7h5.1v5.2h-5.1zM621.8 51.7h5.1v5.2h-5.1zM626.9 51.7h5.1v5.2h-5.1zM632.0 51.7h5.1v5.2h-5.1zM637.2 51.7h5.1v5.2h-5.1zM642.3 51.7h5.1v5.2h-5.1zM647.4 51.7h5.1v5.2h-5.1zM652.6 51.7h5.1v5.2h-5.1zM657.7 51.7h5.1v5.2h-5.1zM662.9 51.7h5.1v5.2h-5.1zM513.8 56.8h5.1v5.2h-5.1zM519.0 56.8h5.1v5.2h-5.1zM524.1 56.8h5.1v5.2h-5.1zM529.3 56.8h5.1v5.2h-5.1zM534.4 56.8h5.1v5.2h-5.1zM539.5 56.8h5.1v5.2h-5.1zM544.7 56.8h5.1v5.2h-5.1zM549.8 56.8h5.1v5.2h-5.1zM555.0 56.8h5.1v5.2h-5.1zM560.1 56.8h5.1v5.2h-5.1zM590.9 56.8h5.1v5.2h-5.1zM596.1 56.8h5.1v5.2h-5.1zM601.2 56.8h5.1v5.2h-5.1zM606.3 56.8h5.1v5.2h-5.1zM611.5 56.8h5.1v5.2h-5.1zM616.6 56.8h5.1v5.2h-5.1zM621.8 56.8h5.1v5.2h-5.1zM626.9 56.8h5.1v5.2h-5.1zM632.0 56.8h5.1v5.2h-5.1zM637.2 56.8h5.1v5.2h-5.1zM642.3 56.8h5.1v5.2h-5.1zM647.4 56.8h5.1v5.2h-5.1zM652.6 56.8h5.1v5.2h-5.1zM657.7 56.8h5.1v5.2h-5.1zM662.9 56.8h5.1v5.2h-5.1zM590.9 62.0h5.1v5.2h-5.1zM596.1 62.0h5.1v5.2h-5.1zM601.2 62.0h5.1v5.2h-5.1zM606.3 62.0h5.1v5.2h-5.1zM611.5 62.0h5.1v5.2h-5.1zM616.6 62.0h5.1v5.2h-5.1zM621.8 62.0h5.1v5.2h-5.1zM626.9 62.0h5.1v5.2h-5.1zM632.0 62.0h5.1v5.2h-5.1zM637.2 62.0h5.1v5.2h-5.1zM642.3 62.0h5.1v5.2h-5.1zM647.4 62.0h5.1v5.2h-5.1zM652.6 62.0h5.1v5.2h-5.1zM657.7 62.0h5.1v5.2h-5.1zM590.9 67.2h5.1v5.2h-5.1zM596.1 67.2h5.1v5.2h-5.1zM601.2 67.2h5.1v5.2h-5.1zM606.3 67.2h5.1v5.2h-5.1zM611.5 67.2h5.1v5.2h-5.1zM616.6 67.2h5.1v5.2h-5.1zM621.8 67.2h5.1v5.2h-5.1zM637.2 67.2h5.1v5.2h-5.1zM642.3 67.2h5.1v5.2h-5.1zM647.4 67.2h5.1v5.2h-5.1zM652.6 67.2h5.1v5.2h-5.1zM657.7 67.2h5.1v5.2h-5.1zM590.9 72.3h5.1v5.2h-5.1zM596.1 72.3h5.1v5.2h-5.1zM606.3 72.3h5.1v5.2h-5.1zM611.5 72.3h5.1v5.2h-5.1zM616.6 72.3h5.1v5.2h-5.1zM621.8 72.3h5.1v5.2h-5.1zM626.9 72.3h5.1v5.2h-5.1zM632.0 72.3h5.1v5.2h-5.1zM637.2 72.3h5.1v5.2h-5.1zM642.3 72.3h5.1v5.2h-5.1zM647.4 72.3h5.1v5.2h-5.1zM652.6 72.3h5.1v5.2h-5.1zM657.7 72.3h5.1v5.2h-5.1zM662.9 72.3h5.1v5.2h-5.1zM590.9 77.5h5.1v5.2h-5.1zM601.2 77.5h5.1v5.2h-5.1zM606.3 77.5h5.1v5.2h-5.1zM611.5 77.5h5.1v5.2h-5.1zM616.6 77.5h5.1v5.2h-5.1zM621.8 77.5h5.1v5.2h-5.1zM626.9 77.5h5.1v5.2h-5.1zM632.0 77.5h5.1v5.2h-5.1zM637.2 77.5h5.1v5.2h-5.1zM642.3 77.5h5.1v5.2h-5.1zM647.4 77.5h5.1v5.2h-5.1zM652.6 77.5h5.1v5.2h-5.1zM657.7 77.5h5.1v5.2h-5.1zM662.9 77.5h5.1v5.2h-5.1zM385.4 82.7h5.1v5.2h-5.1zM390.5 82.7h5.1v5.2h-5.1zM395.7 82.7h5.1v5.2h-5.1zM400.8 82.7h5.1v5.2h-5.1zM405.9 82.7h5.1v5.2h-5.1zM411.1 82.7h5.1v5.2h-5.1zM416.2 82.7h5.1v5.2h-5.1zM421.4 82.7h5.1v5.2h-5.1zM426.5 82.7h5.1v5.2h-5.1zM431.6 82.7h5.1v5.2h-5.1zM436.8 82.7h5.1v5.2h-5.1zM441.9 82.7h5.1v5.2h-5.1zM447.0 82.7h5.1v5.2h-5.1zM452.2 82.7h5.1v5.2h-5.1zM457.3 82.7h5.1v5.2h-5.1zM488.2 82.7h5.1v5.2h-5.1zM493.3 82.7h5.1v5.2h-5.1zM498.4 82.7h5.1v5.2h-5.1zM508.7 82.7h5.1v5.2h-5.1zM513.8 82.7h5.1v5.2h-5.1zM519.0 82.7h5.1v5.2h-5.1zM524.1 82.7h5.1v5.2h-5.1zM534.4 82.7h5.1v5.2h-5.1zM539.5 82.7h5.1v5.2h-5.1zM544.7 82.7h5.1v5.2h-5.1zM549.8 82.7h5.1v5.2h-5.1zM555.0 82.7h5.1v5.2h-5.1zM560.1 82.7h5.1v5.2h-5.1zM565.2 82.7h5.1v5.2h-5.1zM570.4 82.7h5.1v5.2h-5.1zM575.5 82.7h5.1v5.2h-5.1zM585.8 82.7h5.1v5.2h-5.1zM590.9 82.7h5.1v5.2h-5.1zM596.1 82.7h5.1v5.2h-5.1zM601.2 82.7h5.1v5.2h-5.1zM606.3 82.7h5.1v5.2h-5.1zM611.5 82.7h5.1v5.2h-5.1zM616.6 82.7h5.1v5.2h-5.1zM626.9 82.7h5.1v5.2h-5.1zM632.0 82.7h5.1v5.2h-5.1zM385.4 87.8h5.1v5.2h-5.1zM390.5 87.8h5.1v5.2h-5.1zM395.7 87.8h5.1v5.2h-5.1zM400.8 87.8h5.1v5.2h-5.1zM405.9 87.8h5.1v5.2h-5.1zM411.1 87.8h5.1v5.2h-5.1zM416.2 87.8h5.1v5.2h-5.1zM421.4 87.8h5.1v5.2h-5.1zM426.5 87.8h5.1v5.2h-5.1zM431.6 87.8h5.1v5.2h-5.1zM436.8 87.8h5.1v5.2h-5.1zM441.9 87.8h5.1v5.2h-5.1zM447.0 87.8h5.1v5.2h-5.1zM452.2 87.8h5.1v5.2h-5.1zM457.3 87.8h5.1v5.2h-5.1zM488.2 87.8h5.1v5.2h-5.1zM493.3 87.8h5.1v5.2h-5.1zM498.4 87.8h5.1v5.2h-5.1zM503.6 87.8h5.1v5.2h-5.1zM508.7 87.8h5.1v5.2h-5.1zM513.8 87.8h5.1v5.2h-5.1zM519.0 87.8h5.1v5.2h-5.1zM529.3 87.8h5.1v5.2h-5.1zM534.4 87.8h5.1v5.2h-5.1zM539.5 87.8h5.1v5.2h-5.1zM544.7 87.8h5.1v5.2h-5.1zM549.8 87.8h5.1v5.2h-5.1zM555.0 87.8h5.1v5.2h-5.1zM560.1 87.8h5.1v5.2h-5.1zM565.2 87.8h5.1v5.2h-5.1zM570.4 87.8h5.1v5.2h-5.1zM575.5 87.8h5.1v5.2h-5.1zM580.6 87.8h5.1v5.2h-5.1zM585.8 87.8h5.1v5.2h-5.1zM590.9 87.8h5.1v5.2h-5.1zM596.1 87.8h5.1v5.2h-5.1zM601.2 87.8h5.1v5.2h-5.1zM606.3 87.8h5.1v5.2h-5.1zM611.5 87.8h5.1v5.2h-5.1zM616.6 87.8h5.1v5.2h-5.1zM621.8 87.8h5.1v5.2h-5.1zM626.9 87.8h5.1v5.2h-5.1zM632.0 87.8h5.1v5.2h-5.1zM637.2 87.8h5.1v5.2h-5.1zM385.4 93.0h5.1v5.2h-5.1zM390.5 93.0h5.1v5.2h-5.1zM395.7 93.0h5.1v5.2h-5.1zM400.8 93.0h5.1v5.2h-5.1zM405.9 93.0h5.1v5.2h-5.1zM411.1 93.0h5.1v5.2h-5.1zM416.2 93.0h5.1v5.2h-5.1zM421.4 93.0h5.1v5.2h-5.1zM426.5 93.0h5.1v5.2h-5.1zM431.6 93.0h5.1v5.2h-5.1zM436.8 93.0h5.1v5.2h-5.1zM441.9 93.0h5.1v5.2h-5.1zM447.0 93.0h5.1v5.2h-5.1zM452.2 93.0h5.1v5.2h-5.1zM457.3 93.0h5.1v5.2h-5.1zM488.2 93.0h5.1v5.2h-5.1zM493.3 93.0h5.1v5.2h-5.1zM498.4 93.0h5.1v5.2h-5.1zM503.6 93.0h5.1v5.2h-5.1zM508.7 93.0h5.1v5.2h-5.1zM513.8 93.0h5.1v5.2h-5.1zM524.1 93.0h5.1v5.2h-5.1zM529.3 93.0h5.1v5.2h-5.1zM534.4 93.0h5.1v5.2h-5.1zM539.5 93.0h5.1v5.2h-5.1zM544.7 93.0h5.1v5.2h-5.1zM549.8 93.0h5.1v5.2h-5.1zM555.0 93.0h5.1v5.2h-5.1zM560.1 93.0h5.1v5.2h-5.1zM565.2 93.0h5.1v5.2h-5.1zM570.4 93.0h5.1v5.2h-5.1zM575.5 93.0h5.1v5.2h-5.1zM580.6 93.0h5.1v5.2h-5.1zM585.8 93.0h5.1v5.2h-5.1zM590.9 93.0h5.1v5.2h-5.1zM596.1 93.0h5.1v5.2h-5.1zM601.2 93.0h5.1v5.2h-5.1zM606.3 93.0h5.1v5.2h-5.1zM611.5 93.0h5.1v5.2h-5.1zM616.6 93.0h5.1v5.2h-5.1zM621.8 93.0h5.1v5.2h-5.1zM626.9 93.0h5.1v5.2h-5.1zM632.0 93.0h5.1v5.2h-5.1zM637.2 93.0h5.1v5.2h-5.1zM385.4 98.2h5.1v5.2h-5.1zM390.5 98.2h5.1v5.2h-5.1zM395.7 98.2h5.1v5.2h-5.1zM400.8 98.2h5.1v5.2h-5.1zM405.9 98.2h5.1v5.2h-5.1zM411.1 98.2h5.1v5.2h-5.1zM416.2 98.2h5.1v5.2h-5.1zM421.4 98.2h5.1v5.2h-5.1zM426.5 98.2h5.1v5.2h-5.1zM431.6 98.2h5.1v5.2h-5.1zM436.8 98.2h5.1v5.2h-5.1zM441.9 98.2h5.1v5.2h-5.1zM447.0 98.2h5.1v5.2h-5.1zM452.2 98.2h5.1v5.2h-5.1zM488.2 98.2h5.1v5.2h-5.1zM493.3 98.2h5.1v5.2h-5.1zM498.4 98.2h5.1v5.2h-5.1zM503.6 98.2h5.1v5.2h-5.1zM508.7 98.2h5.1v5.2h-5.1zM519.0 98.2h5.1v5.2h-5.1zM529.3 98.2h5.1v5.2h-5.1zM534.4 98.2h5.1v5.2h-5.1zM539.5 98.2h5.1v5.2h-5.1zM544.7 98.2h5.1v5.2h-5.1zM549.8 98.2h5.1v5.2h-5.1zM555.0 98.2h5.1v5.2h-5.1zM560.1 98.2h5.1v5.2h-5.1zM565.2 98.2h5.1v5.2h-5.1zM570.4 98.2h5.1v5.2h-5.1zM575.5 98.2h5.1v5.2h-5.1zM580.6 98.2h5.1v5.2h-5.1zM585.8 98.2h5.1v5.2h-5.1zM590.9 98.2h5.1v5.2h-5.1zM596.1 98.2h5.1v5.2h-5.1zM601.2 98.2h5.1v5.2h-5.1zM611.5 98.2h5.1v5.2h-5.1zM616.6 98.2h5.1v5.2h-5.1zM621.8 98.2h5.1v5.2h-5.1zM626.9 98.2h5.1v5.2h-5.1zM632.0 98.2h5.1v5.2h-5.1zM637.2 98.2h5.1v5.2h-5.1zM385.4 103.3h5.1v5.2h-5.1zM390.5 103.3h5.1v5.2h-5.1zM395.7 103.3h5.1v5.2h-5.1zM400.8 103.3h5.1v5.2h-5.1zM405.9 103.3h5.1v5.2h-5.1zM411.1 103.3h5.1v5.2h-5.1zM416.2 103.3h5.1v5.2h-5.1zM421.4 103.3h5.1v5.2h-5.1zM426.5 103.3h5.1v5.2h-5.1zM431.6 103.3h5.1v5.2h-5.1zM436.8 103.3h5.1v5.2h-5.1zM441.9 103.3h5.1v5.2h-5.1zM447.0 103.3h5.1v5.2h-5.1zM452.2 103.3h5.1v5.2h-5.1zM457.3 103.3h5.1v5.2h-5.1zM467.6 103.3h5.1v5.2h-5.1zM472.7 103.3h5.1v5.2h-5.1zM477.9 103.3h5.1v5.2h-5.1zM483.0 103.3h5.1v5.2h-5.1zM488.2 103.3h5.1v5.2h-5.1zM493.3 103.3h5.1v5.2h-5.1zM498.4 103.3h5.1v5.2h-5.1zM503.6 103.3h5.1v5.2h-5.1zM508.7 103.3h5.1v5.2h-5.1zM513.8 103.3h5.1v5.2h-5.1zM519.0 103.3h5.1v5.2h-5.1zM524.1 103.3h5.1v5.2h-5.1zM529.3 103.3h5.1v5.2h-5.1zM534.4 103.3h5.1v5.2h-5.1zM539.5 103.3h5.1v5.2h-5.1zM544.7 103.3h5.1v5.2h-5.1zM549.8 103.3h5.1v5.2h-5.1zM555.0 103.3h5.1v5.2h-5.1zM560.1 103.3h5.1v5.2h-5.1zM565.2 103.3h5.1v5.2h-5.1zM570.4 103.3h5.1v5.2h-5.1zM580.6 103.3h5.1v5.2h-5.1zM585.8 103.3h5.1v5.2h-5.1zM590.9 103.3h5.1v5.2h-5.1zM596.1 103.3h5.1v5.2h-5.1zM601.2 103.3h5.1v5.2h-5.1zM606.3 103.3h5.1v5.2h-5.1zM611.5 103.3h5.1v5.2h-5.1zM616.6 103.3h5.1v5.2h-5.1zM621.8 103.3h5.1v5.2h-5.1zM626.9 103.3h5.1v5.2h-5.1zM632.0 103.3h5.1v5.2h-5.1zM637.2 103.3h5.1v5.2h-5.1zM385.4 108.5h5.1v5.2h-5.1zM395.7 108.5h5.1v5.2h-5.1zM400.8 108.5h5.1v5.2h-5.1zM405.9 108.5h5.1v5.2h-5.1zM411.1 108.5h5.1v5.2h-5.1zM416.2 108.5h5.1v5.2h-5.1zM421.4 108.5h5.1v5.2h-5.1zM426.5 108.5h5.1v5.2h-5.1zM431.6 108.5h5.1v5.2h-5.1zM436.8 108.5h5.1v5.2h-5.1zM441.9 108.5h5.1v5.2h-5.1zM447.0 108.5h5.1v5.2h-5.1zM452.2 108.5h5.1v5.2h-5.1zM457.3 108.5h5.1v5.2h-5.1zM462.5 108.5h5.1v5.2h-5.1zM467.6 108.5h5.1v5.2h-5.1zM472.7 108.5h5.1v5.2h-5.1zM477.9 108.5h5.1v5.2h-5.1zM483.0 108.5h5.1v5.2h-5.1zM488.2 108.5h5.1v5.2h-5.1zM493.3 108.5h5.1v5.2h-5.1zM498.4 108.5h5.1v5.2h-5.1zM503.6 108.5h5.1v5.2h-5.1zM508.7 108.5h5.1v5.2h-5.1zM513.8 108.5h5.1v5.2h-5.1zM519.0 108.5h5.1v5.2h-5.1zM524.1 108.5h5.1v5.2h-5.1zM529.3 108.5h5.1v5.2h-5.1zM534.4 108.5h5.1v5.2h-5.1zM539.5 108.5h5.1v5.2h-5.1zM544.7 108.5h5.1v5.2h-5.1zM549.8 108.5h5.1v5.2h-5.1zM555.0 108.5h5.1v5.2h-5.1zM560.1 108.5h5.1v5.2h-5.1zM565.2 108.5h5.1v5.2h-5.1zM570.4 108.5h5.1v5.2h-5.1zM575.5 108.5h5.1v5.2h-5.1zM580.6 108.5h5.1v5.2h-5.1zM585.8 108.5h5.1v5.2h-5.1zM590.9 108.5h5.1v5.2h-5.1zM596.1 108.5h5.1v5.2h-5.1zM601.2 108.5h5.1v5.2h-5.1zM606.3 108.5h5.1v5.2h-5.1zM611.5 108.5h5.1v5.2h-5.1zM616.6 108.5h5.1v5.2h-5.1zM621.8 108.5h5.1v5.2h-5.1zM626.9 108.5h5.1v5.2h-5.1zM632.0 108.5h5.1v5.2h-5.1zM385.4 113.7h5.1v5.2h-5.1zM390.5 113.7h5.1v5.2h-5.1zM395.7 113.7h5.1v5.2h-5.1zM400.8 113.7h5.1v5.2h-5.1zM405.9 113.7h5.1v5.2h-5.1zM411.1 113.7h5.1v5.2h-5.1zM416.2 113.7h5.1v5.2h-5.1zM421.4 113.7h5.1v5.2h-5.1zM426.5 113.7h5.1v5.2h-5.1zM431.6 113.7h5.1v5.2h-5.1zM436.8 113.7h5.1v5.2h-5.1zM441.9 113.7h5.1v5.2h-5.1zM447.0 113.7h5.1v5.2h-5.1zM452.2 113.7h5.1v5.2h-5.1zM457.3 113.7h5.1v5.2h-5.1zM462.5 113.7h5.1v5.2h-5.1zM467.6 113.7h5.1v5.2h-5.1zM472.7 113.7h5.1v5.2h-5.1zM477.9 113.7h5.1v5.2h-5.1zM483.0 113.7h5.1v5.2h-5.1zM488.2 113.7h5.1v5.2h-5.1zM493.3 113.7h5.1v5.2h-5.1zM498.4 113.7h5.1v5.2h-5.1zM503.6 113.7h5.1v5.2h-5.1zM508.7 113.7h5.1v5.2h-5.1zM513.8 113.7h5.1v5.2h-5.1zM519.0 113.7h5.1v5.2h-5.1zM524.1 113.7h5.1v5.2h-5.1zM529.3 113.7h5.1v5.2h-5.1zM534.4 113.7h5.1v5.2h-5.1zM539.5 113.7h5.1v5.2h-5.1zM544.7 113.7h5.1v5.2h-5.1zM549.8 113.7h5.1v5.2h-5.1zM555.0 113.7h5.1v5.2h-5.1zM560.1 113.7h5.1v5.2h-5.1zM565.2 113.7h5.1v5.2h-5.1zM570.4 113.7h5.1v5.2h-5.1zM575.5 113.7h5.1v5.2h-5.1zM580.6 113.7h5.1v5.2h-5.1zM585.8 113.7h5.1v5.2h-5.1zM590.9 113.7h5.1v5.2h-5.1zM596.1 113.7h5.1v5.2h-5.1zM601.2 113.7h5.1v5.2h-5.1zM606.3 113.7h5.1v5.2h-5.1zM611.5 113.7h5.1v5.2h-5.1zM616.6 113.7h5.1v5.2h-5.1zM621.8 113.7h5.1v5.2h-5.1zM626.9 113.7h5.1v5.2h-5.1zM632.0 113.7h5.1v5.2h-5.1zM637.2 113.7h5.1v5.2h-5.1zM385.4 118.8h5.1v5.2h-5.1zM395.7 118.8h5.1v5.2h-5.1zM400.8 118.8h5.1v5.2h-5.1zM405.9 118.8h5.1v5.2h-5.1zM411.1 118.8h5.1v5.2h-5.1zM416.2 118.8h5.1v5.2h-5.1zM421.4 118.8h5.1v5.2h-5.1zM426.5 118.8h5.1v5.2h-5.1zM431.6 118.8h5.1v5.2h-5.1zM436.8 118.8h5.1v5.2h-5.1zM441.9 118.8h5.1v5.2h-5.1zM447.0 118.8h5.1v5.2h-5.1zM452.2 118.8h5.1v5.2h-5.1zM457.3 118.8h5.1v5.2h-5.1zM462.5 118.8h5.1v5.2h-5.1zM467.6 118.8h5.1v5.2h-5.1zM472.7 118.8h5.1v5.2h-5.1zM477.9 118.8h5.1v5.2h-5.1zM488.2 118.8h5.1v5.2h-5.1zM493.3 118.8h5.1v5.2h-5.1zM498.4 118.8h5.1v5.2h-5.1zM503.6 118.8h5.1v5.2h-5.1zM508.7 118.8h5.1v5.2h-5.1zM513.8 118.8h5.1v5.2h-5.1zM519.0 118.8h5.1v5.2h-5.1zM524.1 118.8h5.1v5.2h-5.1zM529.3 118.8h5.1v5.2h-5.1zM534.4 118.8h5.1v5.2h-5.1zM539.5 118.8h5.1v5.2h-5.1zM549.8 118.8h5.1v5.2h-5.1zM555.0 118.8h5.1v5.2h-5.1zM560.1 118.8h5.1v5.2h-5.1zM565.2 118.8h5.1v5.2h-5.1zM570.4 118.8h5.1v5.2h-5.1zM575.5 118.8h5.1v5.2h-5.1zM580.6 118.8h5.1v5.2h-5.1zM585.8 118.8h5.1v5.2h-5.1zM590.9 118.8h5.1v5.2h-5.1zM596.1 118.8h5.1v5.2h-5.1zM601.2 118.8h5.1v5.2h-5.1zM606.3 118.8h5.1v5.2h-5.1zM611.5 118.8h5.1v5.2h-5.1zM616.6 118.8h5.1v5.2h-5.1zM621.8 118.8h5.1v5.2h-5.1zM626.9 118.8h5.1v5.2h-5.1zM632.0 118.8h5.1v5.2h-5.1zM637.2 118.8h5.1v5.2h-5.1zM411.1 124.0h5.1v5.2h-5.1zM416.2 124.0h5.1v5.2h-5.1zM421.4 124.0h5.1v5.2h-5.1zM426.5 124.0h5.1v5.2h-5.1zM431.6 124.0h5.1v5.2h-5.1zM436.8 124.0h5.1v5.2h-5.1zM441.9 124.0h5.1v5.2h-5.1zM447.0 124.0h5.1v5.2h-5.1zM452.2 124.0h5.1v5.2h-5.1zM457.3 124.0h5.1v5.2h-5.1zM462.5 124.0h5.1v5.2h-5.1zM467.6 124.0h5.1v5.2h-5.1zM472.7 124.0h5.1v5.2h-5.1zM477.9 124.0h5.1v5.2h-5.1zM488.2 124.0h5.1v5.2h-5.1zM493.3 124.0h5.1v5.2h-5.1zM498.4 124.0h5.1v5.2h-5.1zM503.6 124.0h5.1v5.2h-5.1zM508.7 124.0h5.1v5.2h-5.1zM513.8 124.0h5.1v5.2h-5.1zM519.0 124.0h5.1v5.2h-5.1zM524.1 124.0h5.1v5.2h-5.1zM529.3 124.0h5.1v5.2h-5.1zM534.4 124.0h5.1v5.2h-5.1zM539.5 124.0h5.1v5.2h-5.1zM544.7 124.0h5.1v5.2h-5.1zM549.8 124.0h5.1v5.2h-5.1zM555.0 124.0h5.1v5.2h-5.1zM560.1 124.0h5.1v5.2h-5.1zM565.2 124.0h5.1v5.2h-5.1zM570.4 124.0h5.1v5.2h-5.1zM580.6 124.0h5.1v5.2h-5.1zM585.8 124.0h5.1v5.2h-5.1zM590.9 124.0h5.1v5.2h-5.1zM596.1 124.0h5.1v5.2h-5.1zM601.2 124.0h5.1v5.2h-5.1zM606.3 124.0h5.1v5.2h-5.1zM611.5 124.0h5.1v5.2h-5.1zM616.6 124.0h5.1v5.2h-5.1zM621.8 124.0h5.1v5.2h-5.1zM626.9 124.0h5.1v5.2h-5.1zM632.0 124.0h5.1v5.2h-5.1zM637.2 124.0h5.1v5.2h-5.1zM642.3 124.0h5.1v5.2h-5.1zM647.4 124.0h5.1v5.2h-5.1zM652.6 124.0h5.1v5.2h-5.1zM657.7 124.0h5.1v5.2h-5.1zM662.9 124.0h5.1v5.2h-5.1zM411.1 129.2h5.1v5.2h-5.1zM416.2 129.2h5.1v5.2h-5.1zM421.4 129.2h5.1v5.2h-5.1zM426.5 129.2h5.1v5.2h-5.1zM431.6 129.2h5.1v5.2h-5.1zM436.8 129.2h5.1v5.2h-5.1zM441.9 129.2h5.1v5.2h-5.1zM447.0 129.2h5.1v5.2h-5.1zM452.2 129.2h5.1v5.2h-5.1zM467.6 129.2h5.1v5.2h-5.1zM472.7 129.2h5.1v5.2h-5.1zM477.9 129.2h5.1v5.2h-5.1zM483.0 129.2h5.1v5.2h-5.1zM488.2 129.2h5.1v5.2h-5.1zM493.3 129.2h5.1v5.2h-5.1zM498.4 129.2h5.1v5.2h-5.1zM503.6 129.2h5.1v5.2h-5.1zM508.7 129.2h5.1v5.2h-5.1zM513.8 129.2h5.1v5.2h-5.1zM519.0 129.2h5.1v5.2h-5.1zM524.1 129.2h5.1v5.2h-5.1zM529.3 129.2h5.1v5.2h-5.1zM534.4 129.2h5.1v5.2h-5.1zM539.5 129.2h5.1v5.2h-5.1zM544.7 129.2h5.1v5.2h-5.1zM549.8 129.2h5.1v5.2h-5.1zM555.0 129.2h5.1v5.2h-5.1zM560.1 129.2h5.1v5.2h-5.1zM565.2 129.2h5.1v5.2h-5.1zM570.4 129.2h5.1v5.2h-5.1zM575.5 129.2h5.1v5.2h-5.1zM580.6 129.2h5.1v5.2h-5.1zM585.8 129.2h5.1v5.2h-5.1zM596.1 129.2h5.1v5.2h-5.1zM601.2 129.2h5.1v5.2h-5.1zM606.3 129.2h5.1v5.2h-5.1zM611.5 129.2h5.1v5.2h-5.1zM616.6 129.2h5.1v5.2h-5.1zM621.8 129.2h5.1v5.2h-5.1zM632.0 129.2h5.1v5.2h-5.1zM637.2 129.2h5.1v5.2h-5.1zM642.3 129.2h5.1v5.2h-5.1zM647.4 129.2h5.1v5.2h-5.1zM652.6 129.2h5.1v5.2h-5.1zM657.7 129.2h5.1v5.2h-5.1zM662.9 129.2h5.1v5.2h-5.1zM411.1 134.3h5.1v5.2h-5.1zM416.2 134.3h5.1v5.2h-5.1zM421.4 134.3h5.1v5.2h-5.1zM426.5 134.3h5.1v5.2h-5.1zM431.6 134.3h5.1v5.2h-5.1zM436.8 134.3h5.1v5.2h-5.1zM441.9 134.3h5.1v5.2h-5.1zM452.2 134.3h5.1v5.2h-5.1zM457.3 134.3h5.1v5.2h-5.1zM462.5 134.3h5.1v5.2h-5.1zM472.7 134.3h5.1v5.2h-5.1zM477.9 134.3h5.1v5.2h-5.1zM483.0 134.3h5.1v5.2h-5.1zM488.2 134.3h5.1v5.2h-5.1zM493.3 134.3h5.1v5.2h-5.1zM498.4 134.3h5.1v5.2h-5.1zM503.6 134.3h5.1v5.2h-5.1zM508.7 134.3h5.1v5.2h-5.1zM513.8 134.3h5.1v5.2h-5.1zM519.0 134.3h5.1v5.2h-5.1zM524.1 134.3h5.1v5.2h-5.1zM529.3 134.3h5.1v5.2h-5.1zM534.4 134.3h5.1v5.2h-5.1zM539.5 134.3h5.1v5.2h-5.1zM544.7 134.3h5.1v5.2h-5.1zM549.8 134.3h5.1v5.2h-5.1zM555.0 134.3h5.1v5.2h-5.1zM560.1 134.3h5.1v5.2h-5.1zM565.2 134.3h5.1v5.2h-5.1zM570.4 134.3h5.1v5.2h-5.1zM575.5 134.3h5.1v5.2h-5.1zM580.6 134.3h5.1v5.2h-5.1zM585.8 134.3h5.1v5.2h-5.1zM590.9 134.3h5.1v5.2h-5.1zM596.1 134.3h5.1v5.2h-5.1zM601.2 134.3h5.1v5.2h-5.1zM606.3 134.3h5.1v5.2h-5.1zM611.5 134.3h5.1v5.2h-5.1zM616.6 134.3h5.1v5.2h-5.1zM621.8 134.3h5.1v5.2h-5.1zM626.9 134.3h5.1v5.2h-5.1zM632.0 134.3h5.1v5.2h-5.1zM637.2 134.3h5.1v5.2h-5.1zM642.3 134.3h5.1v5.2h-5.1zM647.4 134.3h5.1v5.2h-5.1zM652.6 134.3h5.1v5.2h-5.1zM657.7 134.3h5.1v5.2h-5.1zM662.9 134.3h5.1v5.2h-5.1zM411.1 139.5h5.1v5.2h-5.1zM416.2 139.5h5.1v5.2h-5.1zM426.5 139.5h5.1v5.2h-5.1zM431.6 139.5h5.1v5.2h-5.1zM436.8 139.5h5.1v5.2h-5.1zM441.9 139.5h5.1v5.2h-5.1zM447.0 139.5h5.1v5.2h-5.1zM452.2 139.5h5.1v5.2h-5.1zM457.3 139.5h5.1v5.2h-5.1zM462.5 139.5h5.1v5.2h-5.1zM467.6 139.5h5.1v5.2h-5.1zM472.7 139.5h5.1v5.2h-5.1zM477.9 139.5h5.1v5.2h-5.1zM483.0 139.5h5.1v5.2h-5.1zM488.2 139.5h5.1v5.2h-5.1zM493.3 139.5h5.1v5.2h-5.1zM498.4 139.5h5.1v5.2h-5.1zM503.6 139.5h5.1v5.2h-5.1zM513.8 139.5h5.1v5.2h-5.1zM519.0 139.5h5.1v5.2h-5.1zM524.1 139.5h5.1v5.2h-5.1zM529.3 139.5h5.1v5.2h-5.1zM534.4 139.5h5.1v5.2h-5.1zM539.5 139.5h5.1v5.2h-5.1zM544.7 139.5h5.1v5.2h-5.1zM549.8 139.5h5.1v5.2h-5.1zM555.0 139.5h5.1v5.2h-5.1zM560.1 139.5h5.1v5.2h-5.1zM565.2 139.5h5.1v5.2h-5.1zM570.4 139.5h5.1v5.2h-5.1zM575.5 139.5h5.1v5.2h-5.1zM580.6 139.5h5.1v5.2h-5.1zM585.8 139.5h5.1v5.2h-5.1zM590.9 139.5h5.1v5.2h-5.1zM596.1 139.5h5.1v5.2h-5.1zM601.2 139.5h5.1v5.2h-5.1zM606.3 139.5h5.1v5.2h-5.1zM611.5 139.5h5.1v5.2h-5.1zM616.6 139.5h5.1v5.2h-5.1zM621.8 139.5h5.1v5.2h-5.1zM626.9 139.5h5.1v5.2h-5.1zM637.2 139.5h5.1v5.2h-5.1zM642.3 139.5h5.1v5.2h-5.1zM647.4 139.5h5.1v5.2h-5.1zM652.6 139.5h5.1v5.2h-5.1zM657.7 139.5h5.1v5.2h-5.1zM662.9 139.5h5.1v5.2h-5.1zM385.4 144.7h5.1v5.2h-5.1zM390.5 144.7h5.1v5.2h-5.1zM395.7 144.7h5.1v5.2h-5.1zM400.8 144.7h5.1v5.2h-5.1zM405.9 144.7h5.1v5.2h-5.1zM411.1 144.7h5.1v5.2h-5.1zM416.2 144.7h5.1v5.2h-5.1zM421.4 144.7h5.1v5.2h-5.1zM426.5 144.7h5.1v5.2h-5.1zM431.6 144.7h5.1v5.2h-5.1zM436.8 144.7h5.1v5.2h-5.1zM441.9 144.7h5.1v5.2h-5.1zM447.0 144.7h5.1v5.2h-5.1zM452.2 144.7h5.1v5.2h-5.1zM457.3 144.7h5.1v5.2h-5.1zM462.5 144.7h5.1v5.2h-5.1zM467.6 144.7h5.1v5.2h-5.1zM472.7 144.7h5.1v5.2h-5.1zM477.9 144.7h5.1v5.2h-5.1zM483.0 144.7h5.1v5.2h-5.1zM488.2 144.7h5.1v5.2h-5.1zM493.3 144.7h5.1v5.2h-5.1zM498.4 144.7h5.1v5.2h-5.1zM503.6 144.7h5.1v5.2h-5.1zM508.7 144.7h5.1v5.2h-5.1zM513.8 144.7h5.1v5.2h-5.1zM519.0 144.7h5.1v5.2h-5.1zM524.1 144.7h5.1v5.2h-5.1zM529.3 144.7h5.1v5.2h-5.1zM534.4 144.7h5.1v5.2h-5.1zM544.7 144.7h5.1v5.2h-5.1zM549.8 144.7h5.1v5.2h-5.1zM555.0 144.7h5.1v5.2h-5.1zM560.1 144.7h5.1v5.2h-5.1zM565.2 144.7h5.1v5.2h-5.1zM570.4 144.7h5.1v5.2h-5.1zM575.5 144.7h5.1v5.2h-5.1zM580.6 144.7h5.1v5.2h-5.1zM585.8 144.7h5.1v5.2h-5.1zM590.9 144.7h5.1v5.2h-5.1zM596.1 144.7h5.1v5.2h-5.1zM601.2 144.7h5.1v5.2h-5.1zM606.3 144.7h5.1v5.2h-5.1zM611.5 144.7h5.1v5.2h-5.1zM616.6 144.7h5.1v5.2h-5.1zM626.9 144.7h5.1v5.2h-5.1zM632.0 144.7h5.1v5.2h-5.1zM637.2 144.7h5.1v5.2h-5.1zM642.3 144.7h5.1v5.2h-5.1zM647.4 144.7h5.1v5.2h-5.1zM652.6 144.7h5.1v5.2h-5.1zM657.7 144.7h5.1v5.2h-5.1zM662.9 144.7h5.1v5.2h-5.1zM385.4 149.8h5.1v5.2h-5.1zM400.8 149.8h5.1v5.2h-5.1zM405.9 149.8h5.1v5.2h-5.1zM411.1 149.8h5.1v5.2h-5.1zM416.2 149.8h5.1v5.2h-5.1zM421.4 149.8h5.1v5.2h-5.1zM426.5 149.8h5.1v5.2h-5.1zM431.6 149.8h5.1v5.2h-5.1zM436.8 149.8h5.1v5.2h-5.1zM441.9 149.8h5.1v5.2h-5.1zM447.0 149.8h5.1v5.2h-5.1zM452.2 149.8h5.1v5.2h-5.1zM457.3 149.8h5.1v5.2h-5.1zM462.5 149.8h5.1v5.2h-5.1zM467.6 149.8h5.1v5.2h-5.1zM472.7 149.8h5.1v5.2h-5.1zM483.0 149.8h5.1v5.2h-5.1zM488.2 149.8h5.1v5.2h-5.1zM493.3 149.8h5.1v5.2h-5.1zM498.4 149.8h5.1v5.2h-5.1zM503.6 149.8h5.1v5.2h-5.1zM508.7 149.8h5.1v5.2h-5.1zM513.8 149.8h5.1v5.2h-5.1zM519.0 149.8h5.1v5.2h-5.1zM524.1 149.8h5.1v5.2h-5.1zM529.3 149.8h5.1v5.2h-5.1zM534.4 149.8h5.1v5.2h-5.1zM539.5 149.8h5.1v5.2h-5.1zM544.7 149.8h5.1v5.2h-5.1zM555.0 149.8h5.1v5.2h-5.1zM560.1 149.8h5.1v5.2h-5.1zM565.2 149.8h5.1v5.2h-5.1zM570.4 149.8h5.1v5.2h-5.1zM580.6 149.8h5.1v5.2h-5.1zM585.8 149.8h5.1v5.2h-5.1zM596.1 149.8h5.1v5.2h-5.1zM601.2 149.8h5.1v5.2h-5.1zM611.5 149.8h5.1v5.2h-5.1zM616.6 149.8h5.1v5.2h-5.1zM621.8 149.8h5.1v5.2h-5.1zM626.9 149.8h5.1v5.2h-5.1zM632.0 149.8h5.1v5.2h-5.1zM637.2 149.8h5.1v5.2h-5.1zM642.3 149.8h5.1v5.2h-5.1zM652.6 149.8h5.1v5.2h-5.1zM657.7 149.8h5.1v5.2h-5.1zM662.9 149.8h5.1v5.2h-5.1zM385.4 155.0h5.1v5.2h-5.1zM390.5 155.0h5.1v5.2h-5.1zM395.7 155.0h5.1v5.2h-5.1zM400.8 155.0h5.1v5.2h-5.1zM405.9 155.0h5.1v5.2h-5.1zM411.1 155.0h5.1v5.2h-5.1zM416.2 155.0h5.1v5.2h-5.1zM421.4 155.0h5.1v5.2h-5.1zM426.5 155.0h5.1v5.2h-5.1zM431.6 155.0h5.1v5.2h-5.1zM436.8 155.0h5.1v5.2h-5.1zM441.9 155.0h5.1v5.2h-5.1zM452.2 155.0h5.1v5.2h-5.1zM457.3 155.0h5.1v5.2h-5.1zM462.5 155.0h5.1v5.2h-5.1zM467.6 155.0h5.1v5.2h-5.1zM472.7 155.0h5.1v5.2h-5.1zM483.0 155.0h5.1v5.2h-5.1zM488.2 155.0h5.1v5.2h-5.1zM493.3 155.0h5.1v5.2h-5.1zM498.4 155.0h5.1v5.2h-5.1zM508.7 155.0h5.1v5.2h-5.1zM513.8 155.0h5.1v5.2h-5.1zM519.0 155.0h5.1v5.2h-5.1zM529.3 155.0h5.1v5.2h-5.1zM534.4 155.0h5.1v5.2h-5.1zM544.7 155.0h5.1v5.2h-5.1zM549.8 155.0h5.1v5.2h-5.1zM555.0 155.0h5.1v5.2h-5.1zM560.1 155.0h5.1v5.2h-5.1zM565.2 155.0h5.1v5.2h-5.1zM570.4 155.0h5.1v5.2h-5.1zM575.5 155.0h5.1v5.2h-5.1zM580.6 155.0h5.1v5.2h-5.1zM585.8 155.0h5.1v5.2h-5.1zM590.9 155.0h5.1v5.2h-5.1zM596.1 155.0h5.1v5.2h-5.1zM601.2 155.0h5.1v5.2h-5.1zM606.3 155.0h5.1v5.2h-5.1zM611.5 155.0h5.1v5.2h-5.1zM616.6 155.0h5.1v5.2h-5.1zM621.8 155.0h5.1v5.2h-5.1zM626.9 155.0h5.1v5.2h-5.1zM632.0 155.0h5.1v5.2h-5.1zM637.2 155.0h5.1v5.2h-5.1zM642.3 155.0h5.1v5.2h-5.1zM647.4 155.0h5.1v5.2h-5.1zM652.6 155.0h5.1v5.2h-5.1zM657.7 155.0h5.1v5.2h-5.1zM662.9 155.0h5.1v5.2h-5.1zM385.4 160.2h5.1v5.2h-5.1zM395.7 160.2h5.1v5.2h-5.1zM400.8 160.2h5.1v5.2h-5.1zM405.9 160.2h5.1v5.2h-5.1zM411.1 160.2h5.1v5.2h-5.1zM426.5 160.2h5.1v5.2h-5.1zM431.6 160.2h5.1v5.2h-5.1zM436.8 160.2h5.1v5.2h-5.1zM441.9 160.2h5.1v5.2h-5.1zM447.0 160.2h5.1v5.2h-5.1zM452.2 160.2h5.1v5.2h-5.1zM457.3 160.2h5.1v5.2h-5.1zM462.5 160.2h5.1v5.2h-5.1zM467.6 160.2h5.1v5.2h-5.1zM472.7 160.2h5.1v5.2h-5.1zM477.9 160.2h5.1v5.2h-5.1zM483.0 160.2h5.1v5.2h-5.1zM488.2 160.2h5.1v5.2h-5.1zM493.3 160.2h5.1v5.2h-5.1zM498.4 160.2h5.1v5.2h-5.1zM503.6 160.2h5.1v5.2h-5.1zM508.7 160.2h5.1v5.2h-5.1zM513.8 160.2h5.1v5.2h-5.1zM519.0 160.2h5.1v5.2h-5.1zM524.1 160.2h5.1v5.2h-5.1zM529.3 160.2h5.1v5.2h-5.1zM534.4 160.2h5.1v5.2h-5.1zM539.5 160.2h5.1v5.2h-5.1zM544.7 160.2h5.1v5.2h-5.1zM549.8 160.2h5.1v5.2h-5.1zM555.0 160.2h5.1v5.2h-5.1zM560.1 160.2h5.1v5.2h-5.1zM565.2 160.2h5.1v5.2h-5.1zM570.4 160.2h5.1v5.2h-5.1zM575.5 160.2h5.1v5.2h-5.1zM580.6 160.2h5.1v5.2h-5.1zM585.8 160.2h5.1v5.2h-5.1zM590.9 160.2h5.1v5.2h-5.1zM596.1 160.2h5.1v5.2h-5.1zM601.2 160.2h5.1v5.2h-5.1zM611.5 160.2h5.1v5.2h-5.1zM616.6 160.2h5.1v5.2h-5.1zM621.8 160.2h5.1v5.2h-5.1zM626.9 160.2h5.1v5.2h-5.1zM632.0 160.2h5.1v5.2h-5.1zM637.2 160.2h5.1v5.2h-5.1zM642.3 160.2h5.1v5.2h-5.1zM647.4 160.2h5.1v5.2h-5.1zM652.6 160.2h5.1v5.2h-5.1zM657.7 160.2h5.1v5.2h-5.1zM662.9 160.2h5.1v5.2h-5.1zM385.4 165.3h5.1v5.2h-5.1zM390.5 165.3h5.1v5.2h-5.1zM395.7 165.3h5.1v5.2h-5.1zM400.8 165.3h5.1v5.2h-5.1zM405.9 165.3h5.1v5.2h-5.1zM411.1 165.3h5.1v5.2h-5.1zM416.2 165.3h5.1v5.2h-5.1zM421.4 165.3h5.1v5.2h-5.1zM426.5 165.3h5.1v5.2h-5.1zM431.6 165.3h5.1v5.2h-5.1zM488.2 165.3h5.1v5.2h-5.1zM493.3 165.3h5.1v5.2h-5.1zM498.4 165.3h5.1v5.2h-5.1zM503.6 165.3h5.1v5.2h-5.1zM508.7 165.3h5.1v5.2h-5.1zM513.8 165.3h5.1v5.2h-5.1zM519.0 165.3h5.1v5.2h-5.1zM524.1 165.3h5.1v5.2h-5.1zM529.3 165.3h5.1v5.2h-5.1zM534.4 165.3h5.1v5.2h-5.1zM539.5 165.3h5.1v5.2h-5.1zM544.7 165.3h5.1v5.2h-5.1zM555.0 165.3h5.1v5.2h-5.1zM560.1 165.3h5.1v5.2h-5.1zM565.2 165.3h5.1v5.2h-5.1zM570.4 165.3h5.1v5.2h-5.1zM575.5 165.3h5.1v5.2h-5.1zM580.6 165.3h5.1v5.2h-5.1zM585.8 165.3h5.1v5.2h-5.1zM590.9 165.3h5.1v5.2h-5.1zM596.1 165.3h5.1v5.2h-5.1zM601.2 165.3h5.1v5.2h-5.1zM606.3 165.3h5.1v5.2h-5.1zM611.5 165.3h5.1v5.2h-5.1zM616.6 165.3h5.1v5.2h-5.1zM621.8 165.3h5.1v5.2h-5.1zM626.9 165.3h5.1v5.2h-5.1zM632.0 165.3h5.1v5.2h-5.1zM642.3 165.3h5.1v5.2h-5.1zM647.4 165.3h5.1v5.2h-5.1zM652.6 165.3h5.1v5.2h-5.1zM657.7 165.3h5.1v5.2h-5.1zM662.9 165.3h5.1v5.2h-5.1zM385.4 170.5h5.1v5.2h-5.1zM390.5 170.5h5.1v5.2h-5.1zM395.7 170.5h5.1v5.2h-5.1zM405.9 170.5h5.1v5.2h-5.1zM411.1 170.5h5.1v5.2h-5.1zM416.2 170.5h5.1v5.2h-5.1zM421.4 170.5h5.1v5.2h-5.1zM426.5 170.5h5.1v5.2h-5.1zM431.6 170.5h5.1v5.2h-5.1zM488.2 170.5h5.1v5.2h-5.1zM493.3 170.5h5.1v5.2h-5.1zM498.4 170.5h5.1v5.2h-5.1zM503.6 170.5h5.1v5.2h-5.1zM508.7 170.5h5.1v5.2h-5.1zM513.8 170.5h5.1v5.2h-5.1zM524.1 170.5h5.1v5.2h-5.1zM529.3 170.5h5.1v5.2h-5.1zM534.4 170.5h5.1v5.2h-5.1zM539.5 170.5h5.1v5.2h-5.1zM544.7 170.5h5.1v5.2h-5.1zM549.8 170.5h5.1v5.2h-5.1zM555.0 170.5h5.1v5.2h-5.1zM560.1 170.5h5.1v5.2h-5.1zM565.2 170.5h5.1v5.2h-5.1zM570.4 170.5h5.1v5.2h-5.1zM575.5 170.5h5.1v5.2h-5.1zM580.6 170.5h5.1v5.2h-5.1zM585.8 170.5h5.1v5.2h-5.1zM590.9 170.5h5.1v5.2h-5.1zM596.1 170.5h5.1v5.2h-5.1zM601.2 170.5h5.1v5.2h-5.1zM606.3 170.5h5.1v5.2h-5.1zM611.5 170.5h5.1v5.2h-5.1zM616.6 170.5h5.1v5.2h-5.1zM621.8 170.5h5.1v5.2h-5.1zM626.9 170.5h5.1v5.2h-5.1zM632.0 170.5h5.1v5.2h-5.1zM637.2 170.5h5.1v5.2h-5.1zM642.3 170.5h5.1v5.2h-5.1zM647.4 170.5h5.1v5.2h-5.1zM657.7 170.5h5.1v5.2h-5.1zM662.9 170.5h5.1v5.2h-5.1zM390.5 175.7h5.1v5.2h-5.1zM395.7 175.7h5.1v5.2h-5.1zM400.8 175.7h5.1v5.2h-5.1zM405.9 175.7h5.1v5.2h-5.1zM416.2 175.7h5.1v5.2h-5.1zM421.4 175.7h5.1v5.2h-5.1zM426.5 175.7h5.1v5.2h-5.1zM431.6 175.7h5.1v5.2h-5.1zM488.2 175.7h5.1v5.2h-5.1zM493.3 175.7h5.1v5.2h-5.1zM498.4 175.7h5.1v5.2h-5.1zM503.6 175.7h5.1v5.2h-5.1zM508.7 175.7h5.1v5.2h-5.1zM513.8 175.7h5.1v5.2h-5.1zM524.1 175.7h5.1v5.2h-5.1zM529.3 175.7h5.1v5.2h-5.1zM534.4 175.7h5.1v5.2h-5.1zM539.5 175.7h5.1v5.2h-5.1zM544.7 175.7h5.1v5.2h-5.1zM549.8 175.7h5.1v5.2h-5.1zM555.0 175.7h5.1v5.2h-5.1zM560.1 175.7h5.1v5.2h-5.1zM565.2 175.7h5.1v5.2h-5.1zM575.5 175.7h5.1v5.2h-5.1zM580.6 175.7h5.1v5.2h-5.1zM585.8 175.7h5.1v5.2h-5.1zM590.9 175.7h5.1v5.2h-5.1zM596.1 175.7h5.1v5.2h-5.1zM601.2 175.7h5.1v5.2h-5.1zM606.3 175.7h5.1v5.2h-5.1zM611.5 175.7h5.1v5.2h-5.1zM616.6 175.7h5.1v5.2h-5.1zM621.8 175.7h5.1v5.2h-5.1zM626.9 175.7h5.1v5.2h-5.1zM632.0 175.7h5.1v5.2h-5.1zM637.2 175.7h5.1v5.2h-5.1zM642.3 175.7h5.1v5.2h-5.1zM647.4 175.7h5.1v5.2h-5.1zM652.6 175.7h5.1v5.2h-5.1zM657.7 175.7h5.1v5.2h-5.1zM662.9 175.7h5.1v5.2h-5.1zM385.4 180.8h5.1v5.2h-5.1zM390.5 180.8h5.1v5.2h-5.1zM395.7 180.8h5.1v5.2h-5.1zM400.8 180.8h5.1v5.2h-5.1zM405.9 180.8h5.1v5.2h-5.1zM411.1 180.8h5.1v5.2h-5.1zM416.2 180.8h5.1v5.2h-5.1zM421.4 180.8h5.1v5.2h-5.1zM426.5 180.8h5.1v5.2h-5.1zM431.6 180.8h5.1v5.2h-5.1zM488.2 180.8h5.1v5.2h-5.1zM493.3 180.8h5.1v5.2h-5.1zM498.4 180.8h5.1v5.2h-5.1zM503.6 180.8h5.1v5.2h-5.1zM508.7 180.8h5.1v5.2h-5.1zM513.8 180.8h5.1v5.2h-5.1zM519.0 180.8h5.1v5.2h-5.1zM524.1 180.8h5.1v5.2h-5.1zM529.3 180.8h5.1v5.2h-5.1zM534.4 180.8h5.1v5.2h-5.1zM539.5 180.8h5.1v5.2h-5.1zM544.7 180.8h5.1v5.2h-5.1zM549.8 180.8h5.1v5.2h-5.1zM555.0 180.8h5.1v5.2h-5.1zM560.1 180.8h5.1v5.2h-5.1zM565.2 180.8h5.1v5.2h-5.1zM570.4 180.8h5.1v5.2h-5.1zM575.5 180.8h5.1v5.2h-5.1zM580.6 180.8h5.1v5.2h-5.1zM585.8 180.8h5.1v5.2h-5.1zM590.9 180.8h5.1v5.2h-5.1zM601.2 180.8h5.1v5.2h-5.1zM606.3 180.8h5.1v5.2h-5.1zM611.5 180.8h5.1v5.2h-5.1zM616.6 180.8h5.1v5.2h-5.1zM621.8 180.8h5.1v5.2h-5.1zM626.9 180.8h5.1v5.2h-5.1zM632.0 180.8h5.1v5.2h-5.1zM637.2 180.8h5.1v5.2h-5.1zM642.3 180.8h5.1v5.2h-5.1zM647.4 180.8h5.1v5.2h-5.1zM652.6 180.8h5.1v5.2h-5.1zM657.7 180.8h5.1v5.2h-5.1zM662.9 180.8h5.1v5.2h-5.1zM416.2 186.0h5.1v5.2h-5.1zM421.4 186.0h5.1v5.2h-5.1zM426.5 186.0h5.1v5.2h-5.1zM431.6 186.0h5.1v5.2h-5.1zM436.8 186.0h5.1v5.2h-5.1zM441.9 186.0h5.1v5.2h-5.1zM447.0 186.0h5.1v5.2h-5.1zM452.2 186.0h5.1v5.2h-5.1zM457.3 186.0h5.1v5.2h-5.1zM462.5 186.0h5.1v5.2h-5.1zM467.6 186.0h5.1v5.2h-5.1zM472.7 186.0h5.1v5.2h-5.1zM477.9 186.0h5.1v5.2h-5.1zM483.0 186.0h5.1v5.2h-5.1zM488.2 186.0h5.1v5.2h-5.1zM493.3 186.0h5.1v5.2h-5.1zM498.4 186.0h5.1v5.2h-5.1zM508.7 186.0h5.1v5.2h-5.1zM513.8 186.0h5.1v5.2h-5.1zM519.0 186.0h5.1v5.2h-5.1zM524.1 186.0h5.1v5.2h-5.1zM529.3 186.0h5.1v5.2h-5.1zM534.4 186.0h5.1v5.2h-5.1zM539.5 186.0h5.1v5.2h-5.1zM544.7 186.0h5.1v5.2h-5.1zM549.8 186.0h5.1v5.2h-5.1zM555.0 186.0h5.1v5.2h-5.1zM560.1 186.0h5.1v5.2h-5.1zM565.2 186.0h5.1v5.2h-5.1zM570.4 186.0h5.1v5.2h-5.1zM575.5 186.0h5.1v5.2h-5.1zM580.6 186.0h5.1v5.2h-5.1zM585.8 186.0h5.1v5.2h-5.1zM590.9 186.0h5.1v5.2h-5.1zM601.2 186.0h5.1v5.2h-5.1zM611.5 186.0h5.1v5.2h-5.1zM616.6 186.0h5.1v5.2h-5.1zM621.8 186.0h5.1v5.2h-5.1zM626.9 186.0h5.1v5.2h-5.1zM632.0 186.0h5.1v5.2h-5.1zM637.2 186.0h5.1v5.2h-5.1zM642.3 186.0h5.1v5.2h-5.1zM647.4 186.0h5.1v5.2h-5.1zM652.6 186.0h5.1v5.2h-5.1zM657.7 186.0h5.1v5.2h-5.1zM662.9 186.0h5.1v5.2h-5.1zM411.1 191.2h5.1v5.2h-5.1zM416.2 191.2h5.1v5.2h-5.1zM421.4 191.2h5.1v5.2h-5.1zM426.5 191.2h5.1v5.2h-5.1zM431.6 191.2h5.1v5.2h-5.1zM441.9 191.2h5.1v5.2h-5.1zM447.0 191.2h5.1v5.2h-5.1zM452.2 191.2h5.1v5.2h-5.1zM457.3 191.2h5.1v5.2h-5.1zM462.5 191.2h5.1v5.2h-5.1zM467.6 191.2h5.1v5.2h-5.1zM472.7 191.2h5.1v5.2h-5.1zM477.9 191.2h5.1v5.2h-5.1zM483.0 191.2h5.1v5.2h-5.1zM488.2 191.2h5.1v5.2h-5.1zM493.3 191.2h5.1v5.2h-5.1zM498.4 191.2h5.1v5.2h-5.1zM503.6 191.2h5.1v5.2h-5.1zM508.7 191.2h5.1v5.2h-5.1zM513.8 191.2h5.1v5.2h-5.1zM519.0 191.2h5.1v5.2h-5.1zM524.1 191.2h5.1v5.2h-5.1zM529.3 191.2h5.1v5.2h-5.1zM534.4 191.2h5.1v5.2h-5.1zM539.5 191.2h5.1v5.2h-5.1zM544.7 191.2h5.1v5.2h-5.1zM549.8 191.2h5.1v5.2h-5.1zM555.0 191.2h5.1v5.2h-5.1zM560.1 191.2h5.1v5.2h-5.1zM565.2 191.2h5.1v5.2h-5.1zM570.4 191.2h5.1v5.2h-5.1zM580.6 191.2h5.1v5.2h-5.1zM585.8 191.2h5.1v5.2h-5.1zM596.1 191.2h5.1v5.2h-5.1zM601.2 191.2h5.1v5.2h-5.1zM606.3 191.2h5.1v5.2h-5.1zM611.5 191.2h5.1v5.2h-5.1zM616.6 191.2h5.1v5.2h-5.1zM621.8 191.2h5.1v5.2h-5.1zM626.9 191.2h5.1v5.2h-5.1zM632.0 191.2h5.1v5.2h-5.1zM637.2 191.2h5.1v5.2h-5.1zM642.3 191.2h5.1v5.2h-5.1zM647.4 191.2h5.1v5.2h-5.1zM652.6 191.2h5.1v5.2h-5.1zM657.7 191.2h5.1v5.2h-5.1zM662.9 191.2h5.1v5.2h-5.1zM411.1 196.3h5.1v5.2h-5.1zM416.2 196.3h5.1v5.2h-5.1zM421.4 196.3h5.1v5.2h-5.1zM426.5 196.3h5.1v5.2h-5.1zM431.6 196.3h5.1v5.2h-5.1zM436.8 196.3h5.1v5.2h-5.1zM441.9 196.3h5.1v5.2h-5.1zM447.0 196.3h5.1v5.2h-5.1zM452.2 196.3h5.1v5.2h-5.1zM457.3 196.3h5.1v5.2h-5.1zM462.5 196.3h5.1v5.2h-5.1zM467.6 196.3h5.1v5.2h-5.1zM472.7 196.3h5.1v5.2h-5.1zM477.9 196.3h5.1v5.2h-5.1zM483.0 196.3h5.1v5.2h-5.1zM488.2 196.3h5.1v5.2h-5.1zM493.3 196.3h5.1v5.2h-5.1zM498.4 196.3h5.1v5.2h-5.1zM503.6 196.3h5.1v5.2h-5.1zM508.7 196.3h5.1v5.2h-5.1zM513.8 196.3h5.1v5.2h-5.1zM519.0 196.3h5.1v5.2h-5.1zM524.1 196.3h5.1v5.2h-5.1zM529.3 196.3h5.1v5.2h-5.1zM534.4 196.3h5.1v5.2h-5.1zM539.5 196.3h5.1v5.2h-5.1zM549.8 196.3h5.1v5.2h-5.1zM555.0 196.3h5.1v5.2h-5.1zM560.1 196.3h5.1v5.2h-5.1zM565.2 196.3h5.1v5.2h-5.1zM570.4 196.3h5.1v5.2h-5.1zM575.5 196.3h5.1v5.2h-5.1zM585.8 196.3h5.1v5.2h-5.1zM590.9 196.3h5.1v5.2h-5.1zM596.1 196.3h5.1v5.2h-5.1zM601.2 196.3h5.1v5.2h-5.1zM606.3 196.3h5.1v5.2h-5.1zM611.5 196.3h5.1v5.2h-5.1zM616.6 196.3h5.1v5.2h-5.1zM621.8 196.3h5.1v5.2h-5.1zM626.9 196.3h5.1v5.2h-5.1zM632.0 196.3h5.1v5.2h-5.1zM637.2 196.3h5.1v5.2h-5.1zM642.3 196.3h5.1v5.2h-5.1zM647.4 196.3h5.1v5.2h-5.1zM652.6 196.3h5.1v5.2h-5.1zM657.7 196.3h5.1v5.2h-5.1zM662.9 196.3h5.1v5.2h-5.1zM411.1 201.5h5.1v5.2h-5.1zM421.4 201.5h5.1v5.2h-5.1zM426.5 201.5h5.1v5.2h-5.1zM431.6 201.5h5.1v5.2h-5.1zM436.8 201.5h5.1v5.2h-5.1zM441.9 201.5h5.1v5.2h-5.1zM447.0 201.5h5.1v5.2h-5.1zM452.2 201.5h5.1v5.2h-5.1zM457.3 201.5h5.1v5.2h-5.1zM462.5 201.5h5.1v5.2h-5.1zM467.6 201.5h5.1v5.2h-5.1zM472.7 201.5h5.1v5.2h-5.1zM477.9 201.5h5.1v5.2h-5.1zM483.0 201.5h5.1v5.2h-5.1zM488.2 201.5h5.1v5.2h-5.1zM493.3 201.5h5.1v5.2h-5.1zM498.4 201.5h5.1v5.2h-5.1zM503.6 201.5h5.1v5.2h-5.1zM508.7 201.5h5.1v5.2h-5.1zM513.8 201.5h5.1v5.2h-5.1zM519.0 201.5h5.1v5.2h-5.1zM534.4 201.5h5.1v5.2h-5.1zM539.5 201.5h5.1v5.2h-5.1zM544.7 201.5h5.1v5.2h-5.1zM549.8 201.5h5.1v5.2h-5.1zM555.0 201.5h5.1v5.2h-5.1zM560.1 201.5h5.1v5.2h-5.1zM565.2 201.5h5.1v5.2h-5.1zM570.4 201.5h5.1v5.2h-5.1zM575.5 201.5h5.1v5.2h-5.1zM580.6 201.5h5.1v5.2h-5.1zM585.8 201.5h5.1v5.2h-5.1zM590.9 201.5h5.1v5.2h-5.1zM596.1 201.5h5.1v5.2h-5.1zM606.3 201.5h5.1v5.2h-5.1zM611.5 201.5h5.1v5.2h-5.1zM626.9 201.5h5.1v5.2h-5.1zM632.0 201.5h5.1v5.2h-5.1zM637.2 201.5h5.1v5.2h-5.1zM642.3 201.5h5.1v5.2h-5.1zM652.6 201.5h5.1v5.2h-5.1zM657.7 201.5h5.1v5.2h-5.1zM662.9 201.5h5.1v5.2h-5.1zM185.0 206.7h5.1v5.2h-5.1zM190.1 206.7h5.1v5.2h-5.1zM195.3 206.7h5.1v5.2h-5.1zM205.5 206.7h5.1v5.2h-5.1zM210.7 206.7h5.1v5.2h-5.1zM215.8 206.7h5.1v5.2h-5.1zM221.0 206.7h5.1v5.2h-5.1zM226.1 206.7h5.1v5.2h-5.1zM231.2 206.7h5.1v5.2h-5.1zM236.4 206.7h5.1v5.2h-5.1zM241.5 206.7h5.1v5.2h-5.1zM246.6 206.7h5.1v5.2h-5.1zM251.8 206.7h5.1v5.2h-5.1zM272.3 206.7h5.1v5.2h-5.1zM313.4 206.7h5.1v5.2h-5.1zM318.6 206.7h5.1v5.2h-5.1zM323.7 206.7h5.1v5.2h-5.1zM436.8 206.7h5.1v5.2h-5.1zM441.9 206.7h5.1v5.2h-5.1zM447.0 206.7h5.1v5.2h-5.1zM452.2 206.7h5.1v5.2h-5.1zM457.3 206.7h5.1v5.2h-5.1zM462.5 206.7h5.1v5.2h-5.1zM472.7 206.7h5.1v5.2h-5.1zM477.9 206.7h5.1v5.2h-5.1zM483.0 206.7h5.1v5.2h-5.1zM488.2 206.7h5.1v5.2h-5.1zM493.3 206.7h5.1v5.2h-5.1zM498.4 206.7h5.1v5.2h-5.1zM503.6 206.7h5.1v5.2h-5.1zM508.7 206.7h5.1v5.2h-5.1zM513.8 206.7h5.1v5.2h-5.1zM519.0 206.7h5.1v5.2h-5.1zM524.1 206.7h5.1v5.2h-5.1zM529.3 206.7h5.1v5.2h-5.1zM534.4 206.7h5.1v5.2h-5.1zM539.5 206.7h5.1v5.2h-5.1zM544.7 206.7h5.1v5.2h-5.1zM549.8 206.7h5.1v5.2h-5.1zM555.0 206.7h5.1v5.2h-5.1zM560.1 206.7h5.1v5.2h-5.1zM565.2 206.7h5.1v5.2h-5.1zM570.4 206.7h5.1v5.2h-5.1zM575.5 206.7h5.1v5.2h-5.1zM580.6 206.7h5.1v5.2h-5.1zM585.8 206.7h5.1v5.2h-5.1zM590.9 206.7h5.1v5.2h-5.1zM596.1 206.7h5.1v5.2h-5.1zM601.2 206.7h5.1v5.2h-5.1zM606.3 206.7h5.1v5.2h-5.1zM611.5 206.7h5.1v5.2h-5.1zM616.6 206.7h5.1v5.2h-5.1zM621.8 206.7h5.1v5.2h-5.1zM626.9 206.7h5.1v5.2h-5.1zM632.0 206.7h5.1v5.2h-5.1zM637.2 206.7h5.1v5.2h-5.1zM642.3 206.7h5.1v5.2h-5.1zM647.4 206.7h5.1v5.2h-5.1zM652.6 206.7h5.1v5.2h-5.1zM657.7 206.7h5.1v5.2h-5.1zM662.9 206.7h5.1v5.2h-5.1zM200.4 211.8h5.1v5.2h-5.1zM205.5 211.8h5.1v5.2h-5.1zM210.7 211.8h5.1v5.2h-5.1zM215.8 211.8h5.1v5.2h-5.1zM221.0 211.8h5.1v5.2h-5.1zM226.1 211.8h5.1v5.2h-5.1zM231.2 211.8h5.1v5.2h-5.1zM236.4 211.8h5.1v5.2h-5.1zM241.5 211.8h5.1v5.2h-5.1zM251.8 211.8h5.1v5.2h-5.1zM256.9 211.8h5.1v5.2h-5.1zM267.2 211.8h5.1v5.2h-5.1zM277.5 211.8h5.1v5.2h-5.1zM313.4 211.8h5.1v5.2h-5.1zM436.8 211.8h5.1v5.2h-5.1zM441.9 211.8h5.1v5.2h-5.1zM447.0 211.8h5.1v5.2h-5.1zM452.2 211.8h5.1v5.2h-5.1zM457.3 211.8h5.1v5.2h-5.1zM462.5 211.8h5.1v5.2h-5.1zM467.6 211.8h5.1v5.2h-5.1zM472.7 211.8h5.1v5.2h-5.1zM477.9 211.8h5.1v5.2h-5.1zM483.0 211.8h5.1v5.2h-5.1zM493.3 211.8h5.1v5.2h-5.1zM498.4 211.8h5.1v5.2h-5.1zM503.6 211.8h5.1v5.2h-5.1zM508.7 211.8h5.1v5.2h-5.1zM513.8 211.8h5.1v5.2h-5.1zM519.0 211.8h5.1v5.2h-5.1zM524.1 211.8h5.1v5.2h-5.1zM529.3 211.8h5.1v5.2h-5.1zM534.4 211.8h5.1v5.2h-5.1zM539.5 211.8h5.1v5.2h-5.1zM544.7 211.8h5.1v5.2h-5.1zM549.8 211.8h5.1v5.2h-5.1zM555.0 211.8h5.1v5.2h-5.1zM560.1 211.8h5.1v5.2h-5.1zM565.2 211.8h5.1v5.2h-5.1zM575.5 211.8h5.1v5.2h-5.1zM580.6 211.8h5.1v5.2h-5.1zM585.8 211.8h5.1v5.2h-5.1zM596.1 211.8h5.1v5.2h-5.1zM606.3 211.8h5.1v5.2h-5.1zM616.6 211.8h5.1v5.2h-5.1zM621.8 211.8h5.1v5.2h-5.1zM626.9 211.8h5.1v5.2h-5.1zM632.0 211.8h5.1v5.2h-5.1zM637.2 211.8h5.1v5.2h-5.1zM642.3 211.8h5.1v5.2h-5.1zM647.4 211.8h5.1v5.2h-5.1zM652.6 211.8h5.1v5.2h-5.1zM657.7 211.8h5.1v5.2h-5.1zM662.9 211.8h5.1v5.2h-5.1zM195.3 217.0h5.1v5.2h-5.1zM210.7 217.0h5.1v5.2h-5.1zM215.8 217.0h5.1v5.2h-5.1zM221.0 217.0h5.1v5.2h-5.1zM226.1 217.0h5.1v5.2h-5.1zM231.2 217.0h5.1v5.2h-5.1zM236.4 217.0h5.1v5.2h-5.1zM241.5 217.0h5.1v5.2h-5.1zM246.6 217.0h5.1v5.2h-5.1zM251.8 217.0h5.1v5.2h-5.1zM262.1 217.0h5.1v5.2h-5.1zM272.3 217.0h5.1v5.2h-5.1zM277.5 217.0h5.1v5.2h-5.1zM308.3 217.0h5.1v5.2h-5.1zM323.7 217.0h5.1v5.2h-5.1zM436.8 217.0h5.1v5.2h-5.1zM441.9 217.0h5.1v5.2h-5.1zM447.0 217.0h5.1v5.2h-5.1zM452.2 217.0h5.1v5.2h-5.1zM457.3 217.0h5.1v5.2h-5.1zM462.5 217.0h5.1v5.2h-5.1zM467.6 217.0h5.1v5.2h-5.1zM472.7 217.0h5.1v5.2h-5.1zM483.0 217.0h5.1v5.2h-5.1zM488.2 217.0h5.1v5.2h-5.1zM493.3 217.0h5.1v5.2h-5.1zM498.4 217.0h5.1v5.2h-5.1zM503.6 217.0h5.1v5.2h-5.1zM513.8 217.0h5.1v5.2h-5.1zM519.0 217.0h5.1v5.2h-5.1zM524.1 217.0h5.1v5.2h-5.1zM529.3 217.0h5.1v5.2h-5.1zM534.4 217.0h5.1v5.2h-5.1zM544.7 217.0h5.1v5.2h-5.1zM549.8 217.0h5.1v5.2h-5.1zM555.0 217.0h5.1v5.2h-5.1zM560.1 217.0h5.1v5.2h-5.1zM565.2 217.0h5.1v5.2h-5.1zM570.4 217.0h5.1v5.2h-5.1zM575.5 217.0h5.1v5.2h-5.1zM580.6 217.0h5.1v5.2h-5.1zM585.8 217.0h5.1v5.2h-5.1zM590.9 217.0h5.1v5.2h-5.1zM596.1 217.0h5.1v5.2h-5.1zM601.2 217.0h5.1v5.2h-5.1zM606.3 217.0h5.1v5.2h-5.1zM611.5 217.0h5.1v5.2h-5.1zM616.6 217.0h5.1v5.2h-5.1zM621.8 217.0h5.1v5.2h-5.1zM626.9 217.0h5.1v5.2h-5.1zM632.0 217.0h5.1v5.2h-5.1zM637.2 217.0h5.1v5.2h-5.1zM642.3 217.0h5.1v5.2h-5.1zM647.4 217.0h5.1v5.2h-5.1zM652.6 217.0h5.1v5.2h-5.1zM657.7 217.0h5.1v5.2h-5.1zM662.9 217.0h5.1v5.2h-5.1zM179.8 222.2h5.1v5.2h-5.1zM185.0 222.2h5.1v5.2h-5.1zM195.3 222.2h5.1v5.2h-5.1zM205.5 222.2h5.1v5.2h-5.1zM210.7 222.2h5.1v5.2h-5.1zM215.8 222.2h5.1v5.2h-5.1zM221.0 222.2h5.1v5.2h-5.1zM226.1 222.2h5.1v5.2h-5.1zM231.2 222.2h5.1v5.2h-5.1zM236.4 222.2h5.1v5.2h-5.1zM241.5 222.2h5.1v5.2h-5.1zM246.6 222.2h5.1v5.2h-5.1zM256.9 222.2h5.1v5.2h-5.1zM262.1 222.2h5.1v5.2h-5.1zM272.3 222.2h5.1v5.2h-5.1zM323.7 222.2h5.1v5.2h-5.1zM436.8 222.2h5.1v5.2h-5.1zM441.9 222.2h5.1v5.2h-5.1zM447.0 222.2h5.1v5.2h-5.1zM452.2 222.2h5.1v5.2h-5.1zM457.3 222.2h5.1v5.2h-5.1zM462.5 222.2h5.1v5.2h-5.1zM467.6 222.2h5.1v5.2h-5.1zM472.7 222.2h5.1v5.2h-5.1zM477.9 222.2h5.1v5.2h-5.1zM488.2 222.2h5.1v5.2h-5.1zM493.3 222.2h5.1v5.2h-5.1zM498.4 222.2h5.1v5.2h-5.1zM503.6 222.2h5.1v5.2h-5.1zM508.7 222.2h5.1v5.2h-5.1zM513.8 222.2h5.1v5.2h-5.1zM519.0 222.2h5.1v5.2h-5.1zM524.1 222.2h5.1v5.2h-5.1zM529.3 222.2h5.1v5.2h-5.1zM534.4 222.2h5.1v5.2h-5.1zM539.5 222.2h5.1v5.2h-5.1zM544.7 222.2h5.1v5.2h-5.1zM549.8 222.2h5.1v5.2h-5.1zM555.0 222.2h5.1v5.2h-5.1zM560.1 222.2h5.1v5.2h-5.1zM565.2 222.2h5.1v5.2h-5.1zM570.4 222.2h5.1v5.2h-5.1zM575.5 222.2h5.1v5.2h-5.1zM580.6 222.2h5.1v5.2h-5.1zM585.8 222.2h5.1v5.2h-5.1zM590.9 222.2h5.1v5.2h-5.1zM596.1 222.2h5.1v5.2h-5.1zM601.2 222.2h5.1v5.2h-5.1zM606.3 222.2h5.1v5.2h-5.1zM611.5 222.2h5.1v5.2h-5.1zM616.6 222.2h5.1v5.2h-5.1zM621.8 222.2h5.1v5.2h-5.1zM632.0 222.2h5.1v5.2h-5.1zM637.2 222.2h5.1v5.2h-5.1zM642.3 222.2h5.1v5.2h-5.1zM647.4 222.2h5.1v5.2h-5.1zM652.6 222.2h5.1v5.2h-5.1zM657.7 222.2h5.1v5.2h-5.1zM662.9 222.2h5.1v5.2h-5.1zM195.3 227.3h5.1v5.2h-5.1zM205.5 227.3h5.1v5.2h-5.1zM210.7 227.3h5.1v5.2h-5.1zM215.8 227.3h5.1v5.2h-5.1zM221.0 227.3h5.1v5.2h-5.1zM226.1 227.3h5.1v5.2h-5.1zM231.2 227.3h5.1v5.2h-5.1zM236.4 227.3h5.1v5.2h-5.1zM241.5 227.3h5.1v5.2h-5.1zM246.6 227.3h5.1v5.2h-5.1zM251.8 227.3h5.1v5.2h-5.1zM262.1 227.3h5.1v5.2h-5.1zM267.2 227.3h5.1v5.2h-5.1zM272.3 227.3h5.1v5.2h-5.1zM313.4 227.3h5.1v5.2h-5.1zM318.6 227.3h5.1v5.2h-5.1zM323.7 227.3h5.1v5.2h-5.1zM436.8 227.3h5.1v5.2h-5.1zM441.9 227.3h5.1v5.2h-5.1zM447.0 227.3h5.1v5.2h-5.1zM452.2 227.3h5.1v5.2h-5.1zM457.3 227.3h5.1v5.2h-5.1zM462.5 227.3h5.1v5.2h-5.1zM467.6 227.3h5.1v5.2h-5.1zM472.7 227.3h5.1v5.2h-5.1zM477.9 227.3h5.1v5.2h-5.1zM483.0 227.3h5.1v5.2h-5.1zM488.2 227.3h5.1v5.2h-5.1zM493.3 227.3h5.1v5.2h-5.1zM503.6 227.3h5.1v5.2h-5.1zM508.7 227.3h5.1v5.2h-5.1zM513.8 227.3h5.1v5.2h-5.1zM519.0 227.3h5.1v5.2h-5.1zM524.1 227.3h5.1v5.2h-5.1zM529.3 227.3h5.1v5.2h-5.1zM534.4 227.3h5.1v5.2h-5.1zM539.5 227.3h5.1v5.2h-5.1zM544.7 227.3h5.1v5.2h-5.1zM549.8 227.3h5.1v5.2h-5.1zM555.0 227.3h5.1v5.2h-5.1zM560.1 227.3h5.1v5.2h-5.1zM565.2 227.3h5.1v5.2h-5.1zM580.6 227.3h5.1v5.2h-5.1zM585.8 227.3h5.1v5.2h-5.1zM590.9 227.3h5.1v5.2h-5.1zM596.1 227.3h5.1v5.2h-5.1zM601.2 227.3h5.1v5.2h-5.1zM606.3 227.3h5.1v5.2h-5.1zM611.5 227.3h5.1v5.2h-5.1zM616.6 227.3h5.1v5.2h-5.1zM621.8 227.3h5.1v5.2h-5.1zM626.9 227.3h5.1v5.2h-5.1zM632.0 227.3h5.1v5.2h-5.1zM637.2 227.3h5.1v5.2h-5.1zM642.3 227.3h5.1v5.2h-5.1zM647.4 227.3h5.1v5.2h-5.1zM652.6 227.3h5.1v5.2h-5.1zM657.7 227.3h5.1v5.2h-5.1zM662.9 227.3h5.1v5.2h-5.1zM5.1 232.5h5.1v5.2h-5.1zM20.6 232.5h5.1v5.2h-5.1zM25.7 232.5h5.1v5.2h-5.1zM30.8 232.5h5.1v5.2h-5.1zM41.1 232.5h5.1v5.2h-5.1zM51.4 232.5h5.1v5.2h-5.1zM66.8 232.5h5.1v5.2h-5.1zM71.9 232.5h5.1v5.2h-5.1zM154.2 232.5h5.1v5.2h-5.1zM159.3 232.5h5.1v5.2h-5.1zM164.4 232.5h5.1v5.2h-5.1zM169.6 232.5h5.1v5.2h-5.1zM174.7 232.5h5.1v5.2h-5.1zM179.8 232.5h5.1v5.2h-5.1zM190.1 232.5h5.1v5.2h-5.1zM195.3 232.5h5.1v5.2h-5.1zM200.4 232.5h5.1v5.2h-5.1zM205.5 232.5h5.1v5.2h-5.1zM210.7 232.5h5.1v5.2h-5.1zM215.8 232.5h5.1v5.2h-5.1zM221.0 232.5h5.1v5.2h-5.1zM226.1 232.5h5.1v5.2h-5.1zM231.2 232.5h5.1v5.2h-5.1zM236.4 232.5h5.1v5.2h-5.1zM241.5 232.5h5.1v5.2h-5.1zM246.6 232.5h5.1v5.2h-5.1zM251.8 232.5h5.1v5.2h-5.1zM462.5 232.5h5.1v5.2h-5.1zM467.6 232.5h5.1v5.2h-5.1zM472.7 232.5h5.1v5.2h-5.1zM477.9 232.5h5.1v5.2h-5.1zM483.0 232.5h5.1v5.2h-5.1zM488.2 232.5h5.1v5.2h-5.1zM498.4 232.5h5.1v5.2h-5.1zM503.6 232.5h5.1v5.2h-5.1zM508.7 232.5h5.1v5.2h-5.1zM513.8 232.5h5.1v5.2h-5.1zM519.0 232.5h5.1v5.2h-5.1zM524.1 232.5h5.1v5.2h-5.1zM529.3 232.5h5.1v5.2h-5.1zM534.4 232.5h5.1v5.2h-5.1zM539.5 232.5h5.1v5.2h-5.1zM544.7 232.5h5.1v5.2h-5.1zM549.8 232.5h5.1v5.2h-5.1zM555.0 232.5h5.1v5.2h-5.1zM565.2 232.5h5.1v5.2h-5.1zM570.4 232.5h5.1v5.2h-5.1zM580.6 232.5h5.1v5.2h-5.1zM585.8 232.5h5.1v5.2h-5.1zM590.9 232.5h5.1v5.2h-5.1zM601.2 232.5h5.1v5.2h-5.1zM606.3 232.5h5.1v5.2h-5.1zM611.5 232.5h5.1v5.2h-5.1zM616.6 232.5h5.1v5.2h-5.1zM621.8 232.5h5.1v5.2h-5.1zM626.9 232.5h5.1v5.2h-5.1zM632.0 232.5h5.1v5.2h-5.1zM637.2 232.5h5.1v5.2h-5.1zM642.3 232.5h5.1v5.2h-5.1zM647.4 232.5h5.1v5.2h-5.1zM652.6 232.5h5.1v5.2h-5.1zM657.7 232.5h5.1v5.2h-5.1zM662.9 232.5h5.1v5.2h-5.1zM10.3 237.7h5.1v5.2h-5.1zM15.4 237.7h5.1v5.2h-5.1zM20.6 237.7h5.1v5.2h-5.1zM56.5 237.7h5.1v5.2h-5.1zM61.7 237.7h5.1v5.2h-5.1zM154.2 237.7h5.1v5.2h-5.1zM159.3 237.7h5.1v5.2h-5.1zM164.4 237.7h5.1v5.2h-5.1zM169.6 237.7h5.1v5.2h-5.1zM174.7 237.7h5.1v5.2h-5.1zM179.8 237.7h5.1v5.2h-5.1zM185.0 237.7h5.1v5.2h-5.1zM190.1 237.7h5.1v5.2h-5.1zM195.3 237.7h5.1v5.2h-5.1zM200.4 237.7h5.1v5.2h-5.1zM205.5 237.7h5.1v5.2h-5.1zM210.7 237.7h5.1v5.2h-5.1zM221.0 237.7h5.1v5.2h-5.1zM226.1 237.7h5.1v5.2h-5.1zM231.2 237.7h5.1v5.2h-5.1zM241.5 237.7h5.1v5.2h-5.1zM246.6 237.7h5.1v5.2h-5.1zM251.8 237.7h5.1v5.2h-5.1zM467.6 237.7h5.1v5.2h-5.1zM472.7 237.7h5.1v5.2h-5.1zM483.0 237.7h5.1v5.2h-5.1zM488.2 237.7h5.1v5.2h-5.1zM493.3 237.7h5.1v5.2h-5.1zM498.4 237.7h5.1v5.2h-5.1zM503.6 237.7h5.1v5.2h-5.1zM508.7 237.7h5.1v5.2h-5.1zM513.8 237.7h5.1v5.2h-5.1zM519.0 237.7h5.1v5.2h-5.1zM524.1 237.7h5.1v5.2h-5.1zM529.3 237.7h5.1v5.2h-5.1zM534.4 237.7h5.1v5.2h-5.1zM544.7 237.7h5.1v5.2h-5.1zM549.8 237.7h5.1v5.2h-5.1zM555.0 237.7h5.1v5.2h-5.1zM560.1 237.7h5.1v5.2h-5.1zM565.2 237.7h5.1v5.2h-5.1zM570.4 237.7h5.1v5.2h-5.1zM575.5 237.7h5.1v5.2h-5.1zM580.6 237.7h5.1v5.2h-5.1zM585.8 237.7h5.1v5.2h-5.1zM590.9 237.7h5.1v5.2h-5.1zM596.1 237.7h5.1v5.2h-5.1zM601.2 237.7h5.1v5.2h-5.1zM606.3 237.7h5.1v5.2h-5.1zM611.5 237.7h5.1v5.2h-5.1zM616.6 237.7h5.1v5.2h-5.1zM621.8 237.7h5.1v5.2h-5.1zM626.9 237.7h5.1v5.2h-5.1zM632.0 237.7h5.1v5.2h-5.1zM637.2 237.7h5.1v5.2h-5.1zM642.3 237.7h5.1v5.2h-5.1zM647.4 237.7h5.1v5.2h-5.1zM652.6 237.7h5.1v5.2h-5.1zM662.9 237.7h5.1v5.2h-5.1zM10.3 242.8h5.1v5.2h-5.1zM20.6 242.8h5.1v5.2h-5.1zM25.7 242.8h5.1v5.2h-5.1zM30.8 242.8h5.1v5.2h-5.1zM36.0 242.8h5.1v5.2h-5.1zM46.2 242.8h5.1v5.2h-5.1zM66.8 242.8h5.1v5.2h-5.1zM71.9 242.8h5.1v5.2h-5.1zM154.2 242.8h5.1v5.2h-5.1zM159.3 242.8h5.1v5.2h-5.1zM164.4 242.8h5.1v5.2h-5.1zM174.7 242.8h5.1v5.2h-5.1zM179.8 242.8h5.1v5.2h-5.1zM185.0 242.8h5.1v5.2h-5.1zM190.1 242.8h5.1v5.2h-5.1zM195.3 242.8h5.1v5.2h-5.1zM200.4 242.8h5.1v5.2h-5.1zM205.5 242.8h5.1v5.2h-5.1zM210.7 242.8h5.1v5.2h-5.1zM215.8 242.8h5.1v5.2h-5.1zM221.0 242.8h5.1v5.2h-5.1zM226.1 242.8h5.1v5.2h-5.1zM231.2 242.8h5.1v5.2h-5.1zM236.4 242.8h5.1v5.2h-5.1zM241.5 242.8h5.1v5.2h-5.1zM246.6 242.8h5.1v5.2h-5.1zM251.8 242.8h5.1v5.2h-5.1zM462.5 242.8h5.1v5.2h-5.1zM467.6 242.8h5.1v5.2h-5.1zM472.7 242.8h5.1v5.2h-5.1zM477.9 242.8h5.1v5.2h-5.1zM483.0 242.8h5.1v5.2h-5.1zM488.2 242.8h5.1v5.2h-5.1zM493.3 242.8h5.1v5.2h-5.1zM498.4 242.8h5.1v5.2h-5.1zM508.7 242.8h5.1v5.2h-5.1zM519.0 242.8h5.1v5.2h-5.1zM524.1 242.8h5.1v5.2h-5.1zM529.3 242.8h5.1v5.2h-5.1zM534.4 242.8h5.1v5.2h-5.1zM539.5 242.8h5.1v5.2h-5.1zM544.7 242.8h5.1v5.2h-5.1zM549.8 242.8h5.1v5.2h-5.1zM555.0 242.8h5.1v5.2h-5.1zM560.1 242.8h5.1v5.2h-5.1zM565.2 242.8h5.1v5.2h-5.1zM570.4 242.8h5.1v5.2h-5.1zM575.5 242.8h5.1v5.2h-5.1zM580.6 242.8h5.1v5.2h-5.1zM585.8 242.8h5.1v5.2h-5.1zM590.9 242.8h5.1v5.2h-5.1zM596.1 242.8h5.1v5.2h-5.1zM601.2 242.8h5.1v5.2h-5.1zM606.3 242.8h5.1v5.2h-5.1zM611.5 242.8h5.1v5.2h-5.1zM616.6 242.8h5.1v5.2h-5.1zM621.8 242.8h5.1v5.2h-5.1zM626.9 242.8h5.1v5.2h-5.1zM637.2 242.8h5.1v5.2h-5.1zM642.3 242.8h5.1v5.2h-5.1zM647.4 242.8h5.1v5.2h-5.1zM652.6 242.8h5.1v5.2h-5.1zM657.7 242.8h5.1v5.2h-5.1zM662.9 242.8h5.1v5.2h-5.1zM0.0 248.0h5.1v5.2h-5.1zM10.3 248.0h5.1v5.2h-5.1zM20.6 248.0h5.1v5.2h-5.1zM25.7 248.0h5.1v5.2h-5.1zM36.0 248.0h5.1v5.2h-5.1zM51.4 248.0h5.1v5.2h-5.1zM66.8 248.0h5.1v5.2h-5.1zM154.2 248.0h5.1v5.2h-5.1zM159.3 248.0h5.1v5.2h-5.1zM164.4 248.0h5.1v5.2h-5.1zM169.6 248.0h5.1v5.2h-5.1zM174.7 248.0h5.1v5.2h-5.1zM179.8 248.0h5.1v5.2h-5.1zM185.0 248.0h5.1v5.2h-5.1zM190.1 248.0h5.1v5.2h-5.1zM195.3 248.0h5.1v5.2h-5.1zM200.4 248.0h5.1v5.2h-5.1zM205.5 248.0h5.1v5.2h-5.1zM210.7 248.0h5.1v5.2h-5.1zM215.8 248.0h5.1v5.2h-5.1zM221.0 248.0h5.1v5.2h-5.1zM231.2 248.0h5.1v5.2h-5.1zM236.4 248.0h5.1v5.2h-5.1zM241.5 248.0h5.1v5.2h-5.1zM246.6 248.0h5.1v5.2h-5.1zM251.8 248.0h5.1v5.2h-5.1zM462.5 248.0h5.1v5.2h-5.1zM467.6 248.0h5.1v5.2h-5.1zM472.7 248.0h5.1v5.2h-5.1zM477.9 248.0h5.1v5.2h-5.1zM483.0 248.0h5.1v5.2h-5.1zM493.3 248.0h5.1v5.2h-5.1zM498.4 248.0h5.1v5.2h-5.1zM503.6 248.0h5.1v5.2h-5.1zM508.7 248.0h5.1v5.2h-5.1zM513.8 248.0h5.1v5.2h-5.1zM519.0 248.0h5.1v5.2h-5.1zM524.1 248.0h5.1v5.2h-5.1zM529.3 248.0h5.1v5.2h-5.1zM534.4 248.0h5.1v5.2h-5.1zM539.5 248.0h5.1v5.2h-5.1zM544.7 248.0h5.1v5.2h-5.1zM549.8 248.0h5.1v5.2h-5.1zM555.0 248.0h5.1v5.2h-5.1zM560.1 248.0h5.1v5.2h-5.1zM565.2 248.0h5.1v5.2h-5.1zM570.4 248.0h5.1v5.2h-5.1zM575.5 248.0h5.1v5.2h-5.1zM580.6 248.0h5.1v5.2h-5.1zM585.8 248.0h5.1v5.2h-5.1zM590.9 248.0h5.1v5.2h-5.1zM596.1 248.0h5.1v5.2h-5.1zM601.2 248.0h5.1v5.2h-5.1zM606.3 248.0h5.1v5.2h-5.1zM611.5 248.0h5.1v5.2h-5.1zM616.6 248.0h5.1v5.2h-5.1zM621.8 248.0h5.1v5.2h-5.1zM626.9 248.0h5.1v5.2h-5.1zM637.2 248.0h5.1v5.2h-5.1zM642.3 248.0h5.1v5.2h-5.1zM647.4 248.0h5.1v5.2h-5.1zM652.6 248.0h5.1v5.2h-5.1zM657.7 248.0h5.1v5.2h-5.1zM662.9 248.0h5.1v5.2h-5.1zM36.0 253.2h5.1v5.2h-5.1zM41.1 253.2h5.1v5.2h-5.1zM51.4 253.2h5.1v5.2h-5.1zM61.7 253.2h5.1v5.2h-5.1zM71.9 253.2h5.1v5.2h-5.1zM77.1 253.2h5.1v5.2h-5.1zM82.2 253.2h5.1v5.2h-5.1zM87.4 253.2h5.1v5.2h-5.1zM92.5 253.2h5.1v5.2h-5.1zM102.8 253.2h5.1v5.2h-5.1zM133.6 253.2h5.1v5.2h-5.1zM138.7 253.2h5.1v5.2h-5.1zM149.0 253.2h5.1v5.2h-5.1zM190.1 253.2h5.1v5.2h-5.1zM195.3 253.2h5.1v5.2h-5.1zM200.4 253.2h5.1v5.2h-5.1zM488.2 253.2h5.1v5.2h-5.1zM493.3 253.2h5.1v5.2h-5.1zM498.4 253.2h5.1v5.2h-5.1zM503.6 253.2h5.1v5.2h-5.1zM508.7 253.2h5.1v5.2h-5.1zM513.8 253.2h5.1v5.2h-5.1zM519.0 253.2h5.1v5.2h-5.1zM524.1 253.2h5.1v5.2h-5.1zM529.3 253.2h5.1v5.2h-5.1zM534.4 253.2h5.1v5.2h-5.1zM539.5 253.2h5.1v5.2h-5.1zM544.7 253.2h5.1v5.2h-5.1zM549.8 253.2h5.1v5.2h-5.1zM560.1 253.2h5.1v5.2h-5.1zM565.2 253.2h5.1v5.2h-5.1zM570.4 253.2h5.1v5.2h-5.1zM575.5 253.2h5.1v5.2h-5.1zM580.6 253.2h5.1v5.2h-5.1zM585.8 253.2h5.1v5.2h-5.1zM590.9 253.2h5.1v5.2h-5.1zM596.1 253.2h5.1v5.2h-5.1zM601.2 253.2h5.1v5.2h-5.1zM606.3 253.2h5.1v5.2h-5.1zM611.5 253.2h5.1v5.2h-5.1zM616.6 253.2h5.1v5.2h-5.1zM621.8 253.2h5.1v5.2h-5.1zM626.9 253.2h5.1v5.2h-5.1zM632.0 253.2h5.1v5.2h-5.1zM637.2 253.2h5.1v5.2h-5.1zM642.3 253.2h5.1v5.2h-5.1zM647.4 253.2h5.1v5.2h-5.1zM657.7 253.2h5.1v5.2h-5.1zM662.9 253.2h5.1v5.2h-5.1zM25.7 258.3h5.1v5.2h-5.1zM30.8 258.3h5.1v5.2h-5.1zM41.1 258.3h5.1v5.2h-5.1zM51.4 258.3h5.1v5.2h-5.1zM56.5 258.3h5.1v5.2h-5.1zM61.7 258.3h5.1v5.2h-5.1zM71.9 258.3h5.1v5.2h-5.1zM97.6 258.3h5.1v5.2h-5.1zM102.8 258.3h5.1v5.2h-5.1zM113.0 258.3h5.1v5.2h-5.1zM118.2 258.3h5.1v5.2h-5.1zM133.6 258.3h5.1v5.2h-5.1zM143.9 258.3h5.1v5.2h-5.1zM185.0 258.3h5.1v5.2h-5.1zM190.1 258.3h5.1v5.2h-5.1zM488.2 258.3h5.1v5.2h-5.1zM493.3 258.3h5.1v5.2h-5.1zM503.6 258.3h5.1v5.2h-5.1zM508.7 258.3h5.1v5.2h-5.1zM513.8 258.3h5.1v5.2h-5.1zM519.0 258.3h5.1v5.2h-5.1zM524.1 258.3h5.1v5.2h-5.1zM534.4 258.3h5.1v5.2h-5.1zM539.5 258.3h5.1v5.2h-5.1zM544.7 258.3h5.1v5.2h-5.1zM549.8 258.3h5.1v5.2h-5.1zM555.0 258.3h5.1v5.2h-5.1zM560.1 258.3h5.1v5.2h-5.1zM565.2 258.3h5.1v5.2h-5.1zM570.4 258.3h5.1v5.2h-5.1zM575.5 258.3h5.1v5.2h-5.1zM580.6 258.3h5.1v5.2h-5.1zM585.8 258.3h5.1v5.2h-5.1zM590.9 258.3h5.1v5.2h-5.1zM596.1 258.3h5.1v5.2h-5.1zM601.2 258.3h5.1v5.2h-5.1zM606.3 258.3h5.1v5.2h-5.1zM611.5 258.3h5.1v5.2h-5.1zM616.6 258.3h5.1v5.2h-5.1zM621.8 258.3h5.1v5.2h-5.1zM626.9 258.3h5.1v5.2h-5.1zM632.0 258.3h5.1v5.2h-5.1zM642.3 258.3h5.1v5.2h-5.1zM652.6 258.3h5.1v5.2h-5.1zM657.7 258.3h5.1v5.2h-5.1zM662.9 258.3h5.1v5.2h-5.1zM25.7 263.5h5.1v5.2h-5.1zM30.8 263.5h5.1v5.2h-5.1zM36.0 263.5h5.1v5.2h-5.1zM41.1 263.5h5.1v5.2h-5.1zM61.7 263.5h5.1v5.2h-5.1zM66.8 263.5h5.1v5.2h-5.1zM71.9 263.5h5.1v5.2h-5.1zM77.1 263.5h5.1v5.2h-5.1zM82.2 263.5h5.1v5.2h-5.1zM92.5 263.5h5.1v5.2h-5.1zM102.8 263.5h5.1v5.2h-5.1zM138.7 263.5h5.1v5.2h-5.1zM143.9 263.5h5.1v5.2h-5.1zM149.0 263.5h5.1v5.2h-5.1zM179.8 263.5h5.1v5.2h-5.1zM190.1 263.5h5.1v5.2h-5.1zM488.2 263.5h5.1v5.2h-5.1zM493.3 263.5h5.1v5.2h-5.1zM498.4 263.5h5.1v5.2h-5.1zM503.6 263.5h5.1v5.2h-5.1zM508.7 263.5h5.1v5.2h-5.1zM513.8 263.5h5.1v5.2h-5.1zM519.0 263.5h5.1v5.2h-5.1zM524.1 263.5h5.1v5.2h-5.1zM529.3 263.5h5.1v5.2h-5.1zM534.4 263.5h5.1v5.2h-5.1zM539.5 263.5h5.1v5.2h-5.1zM544.7 263.5h5.1v5.2h-5.1zM549.8 263.5h5.1v5.2h-5.1zM555.0 263.5h5.1v5.2h-5.1zM560.1 263.5h5.1v5.2h-5.1zM565.2 263.5h5.1v5.2h-5.1zM570.4 263.5h5.1v5.2h-5.1zM575.5 263.5h5.1v5.2h-5.1zM580.6 263.5h5.1v5.2h-5.1zM590.9 263.5h5.1v5.2h-5.1zM601.2 263.5h5.1v5.2h-5.1zM611.5 263.5h5.1v5.2h-5.1zM616.6 263.5h5.1v5.2h-5.1zM621.8 263.5h5.1v5.2h-5.1zM626.9 263.5h5.1v5.2h-5.1zM632.0 263.5h5.1v5.2h-5.1zM637.2 263.5h5.1v5.2h-5.1zM642.3 263.5h5.1v5.2h-5.1zM647.4 263.5h5.1v5.2h-5.1zM652.6 263.5h5.1v5.2h-5.1zM657.7 263.5h5.1v5.2h-5.1zM662.9 263.5h5.1v5.2h-5.1zM30.8 268.7h5.1v5.2h-5.1zM61.7 268.7h5.1v5.2h-5.1zM66.8 268.7h5.1v5.2h-5.1zM107.9 268.7h5.1v5.2h-5.1zM118.2 268.7h5.1v5.2h-5.1zM143.9 268.7h5.1v5.2h-5.1zM149.0 268.7h5.1v5.2h-5.1zM179.8 268.7h5.1v5.2h-5.1zM195.3 268.7h5.1v5.2h-5.1zM488.2 268.7h5.1v5.2h-5.1zM493.3 268.7h5.1v5.2h-5.1zM498.4 268.7h5.1v5.2h-5.1zM503.6 268.7h5.1v5.2h-5.1zM508.7 268.7h5.1v5.2h-5.1zM513.8 268.7h5.1v5.2h-5.1zM519.0 268.7h5.1v5.2h-5.1zM524.1 268.7h5.1v5.2h-5.1zM534.4 268.7h5.1v5.2h-5.1zM539.5 268.7h5.1v5.2h-5.1zM544.7 268.7h5.1v5.2h-5.1zM549.8 268.7h5.1v5.2h-5.1zM555.0 268.7h5.1v5.2h-5.1zM560.1 268.7h5.1v5.2h-5.1zM565.2 268.7h5.1v5.2h-5.1zM570.4 268.7h5.1v5.2h-5.1zM575.5 268.7h5.1v5.2h-5.1zM585.8 268.7h5.1v5.2h-5.1zM590.9 268.7h5.1v5.2h-5.1zM596.1 268.7h5.1v5.2h-5.1zM601.2 268.7h5.1v5.2h-5.1zM606.3 268.7h5.1v5.2h-5.1zM611.5 268.7h5.1v5.2h-5.1zM621.8 268.7h5.1v5.2h-5.1zM626.9 268.7h5.1v5.2h-5.1zM632.0 268.7h5.1v5.2h-5.1zM637.2 268.7h5.1v5.2h-5.1zM642.3 268.7h5.1v5.2h-5.1zM647.4 268.7h5.1v5.2h-5.1zM652.6 268.7h5.1v5.2h-5.1zM657.7 268.7h5.1v5.2h-5.1zM662.9 268.7h5.1v5.2h-5.1zM488.2 273.8h5.1v5.2h-5.1zM493.3 273.8h5.1v5.2h-5.1zM498.4 273.8h5.1v5.2h-5.1zM503.6 273.8h5.1v5.2h-5.1zM508.7 273.8h5.1v5.2h-5.1zM513.8 273.8h5.1v5.2h-5.1zM519.0 273.8h5.1v5.2h-5.1zM524.1 273.8h5.1v5.2h-5.1zM534.4 273.8h5.1v5.2h-5.1zM539.5 273.8h5.1v5.2h-5.1zM544.7 273.8h5.1v5.2h-5.1zM549.8 273.8h5.1v5.2h-5.1zM555.0 273.8h5.1v5.2h-5.1zM565.2 273.8h5.1v5.2h-5.1zM570.4 273.8h5.1v5.2h-5.1zM580.6 273.8h5.1v5.2h-5.1zM585.8 273.8h5.1v5.2h-5.1zM590.9 273.8h5.1v5.2h-5.1zM596.1 273.8h5.1v5.2h-5.1zM601.2 273.8h5.1v5.2h-5.1zM606.3 273.8h5.1v5.2h-5.1zM611.5 273.8h5.1v5.2h-5.1zM616.6 273.8h5.1v5.2h-5.1zM626.9 273.8h5.1v5.2h-5.1zM632.0 273.8h5.1v5.2h-5.1zM637.2 273.8h5.1v5.2h-5.1zM642.3 273.8h5.1v5.2h-5.1zM647.4 273.8h5.1v5.2h-5.1zM652.6 273.8h5.1v5.2h-5.1zM657.7 273.8h5.1v5.2h-5.1zM662.9 273.8h5.1v5.2h-5.1zM359.7 279.0h5.1v5.2h-5.1zM380.2 279.0h5.1v5.2h-5.1zM488.2 279.0h5.1v5.2h-5.1zM493.3 279.0h5.1v5.2h-5.1zM498.4 279.0h5.1v5.2h-5.1zM503.6 279.0h5.1v5.2h-5.1zM508.7 279.0h5.1v5.2h-5.1zM513.8 279.0h5.1v5.2h-5.1zM519.0 279.0h5.1v5.2h-5.1zM524.1 279.0h5.1v5.2h-5.1zM529.3 279.0h5.1v5.2h-5.1zM534.4 279.0h5.1v5.2h-5.1zM539.5 279.0h5.1v5.2h-5.1zM544.7 279.0h5.1v5.2h-5.1zM555.0 279.0h5.1v5.2h-5.1zM560.1 279.0h5.1v5.2h-5.1zM565.2 279.0h5.1v5.2h-5.1zM570.4 279.0h5.1v5.2h-5.1zM575.5 279.0h5.1v5.2h-5.1zM580.6 279.0h5.1v5.2h-5.1zM585.8 279.0h5.1v5.2h-5.1zM590.9 279.0h5.1v5.2h-5.1zM596.1 279.0h5.1v5.2h-5.1zM601.2 279.0h5.1v5.2h-5.1zM606.3 279.0h5.1v5.2h-5.1zM611.5 279.0h5.1v5.2h-5.1zM616.6 279.0h5.1v5.2h-5.1zM621.8 279.0h5.1v5.2h-5.1zM626.9 279.0h5.1v5.2h-5.1zM632.0 279.0h5.1v5.2h-5.1zM637.2 279.0h5.1v5.2h-5.1zM642.3 279.0h5.1v5.2h-5.1zM647.4 279.0h5.1v5.2h-5.1zM652.6 279.0h5.1v5.2h-5.1zM657.7 279.0h5.1v5.2h-5.1zM662.9 279.0h5.1v5.2h-5.1zM359.7 284.2h5.1v5.2h-5.1zM370.0 284.2h5.1v5.2h-5.1zM380.2 284.2h5.1v5.2h-5.1zM488.2 284.2h5.1v5.2h-5.1zM498.4 284.2h5.1v5.2h-5.1zM503.6 284.2h5.1v5.2h-5.1zM508.7 284.2h5.1v5.2h-5.1zM513.8 284.2h5.1v5.2h-5.1zM519.0 284.2h5.1v5.2h-5.1zM524.1 284.2h5.1v5.2h-5.1zM529.3 284.2h5.1v5.2h-5.1zM534.4 284.2h5.1v5.2h-5.1zM544.7 284.2h5.1v5.2h-5.1zM549.8 284.2h5.1v5.2h-5.1zM555.0 284.2h5.1v5.2h-5.1zM560.1 284.2h5.1v5.2h-5.1zM565.2 284.2h5.1v5.2h-5.1zM570.4 284.2h5.1v5.2h-5.1zM575.5 284.2h5.1v5.2h-5.1zM580.6 284.2h5.1v5.2h-5.1zM585.8 284.2h5.1v5.2h-5.1zM590.9 284.2h5.1v5.2h-5.1zM596.1 284.2h5.1v5.2h-5.1zM601.2 284.2h5.1v5.2h-5.1zM606.3 284.2h5.1v5.2h-5.1zM611.5 284.2h5.1v5.2h-5.1zM616.6 284.2h5.1v5.2h-5.1zM621.8 284.2h5.1v5.2h-5.1zM626.9 284.2h5.1v5.2h-5.1zM632.0 284.2h5.1v5.2h-5.1zM637.2 284.2h5.1v5.2h-5.1zM642.3 284.2h5.1v5.2h-5.1zM652.6 284.2h5.1v5.2h-5.1zM657.7 284.2h5.1v5.2h-5.1zM662.9 284.2h5.1v5.2h-5.1zM375.1 289.3h5.1v5.2h-5.1zM380.2 289.3h5.1v5.2h-5.1zM488.2 289.3h5.1v5.2h-5.1zM493.3 289.3h5.1v5.2h-5.1zM498.4 289.3h5.1v5.2h-5.1zM503.6 289.3h5.1v5.2h-5.1zM508.7 289.3h5.1v5.2h-5.1zM519.0 289.3h5.1v5.2h-5.1zM524.1 289.3h5.1v5.2h-5.1zM529.3 289.3h5.1v5.2h-5.1zM534.4 289.3h5.1v5.2h-5.1zM539.5 289.3h5.1v5.2h-5.1zM544.7 289.3h5.1v5.2h-5.1zM549.8 289.3h5.1v5.2h-5.1zM555.0 289.3h5.1v5.2h-5.1zM560.1 289.3h5.1v5.2h-5.1zM565.2 289.3h5.1v5.2h-5.1zM570.4 289.3h5.1v5.2h-5.1zM575.5 289.3h5.1v5.2h-5.1zM580.6 289.3h5.1v5.2h-5.1zM585.8 289.3h5.1v5.2h-5.1zM590.9 289.3h5.1v5.2h-5.1zM596.1 289.3h5.1v5.2h-5.1zM601.2 289.3h5.1v5.2h-5.1zM606.3 289.3h5.1v5.2h-5.1zM611.5 289.3h5.1v5.2h-5.1zM616.6 289.3h5.1v5.2h-5.1zM621.8 289.3h5.1v5.2h-5.1zM626.9 289.3h5.1v5.2h-5.1zM632.0 289.3h5.1v5.2h-5.1zM637.2 289.3h5.1v5.2h-5.1zM642.3 289.3h5.1v5.2h-5.1zM647.4 289.3h5.1v5.2h-5.1zM652.6 289.3h5.1v5.2h-5.1zM657.7 289.3h5.1v5.2h-5.1zM662.9 289.3h5.1v5.2h-5.1zM462.5 294.5h5.1v5.2h-5.1zM467.6 294.5h5.1v5.2h-5.1zM472.7 294.5h5.1v5.2h-5.1zM477.9 294.5h5.1v5.2h-5.1zM483.0 294.5h5.1v5.2h-5.1zM488.2 294.5h5.1v5.2h-5.1zM493.3 294.5h5.1v5.2h-5.1zM498.4 294.5h5.1v5.2h-5.1zM503.6 294.5h5.1v5.2h-5.1zM508.7 294.5h5.1v5.2h-5.1zM565.2 294.5h5.1v5.2h-5.1zM570.4 294.5h5.1v5.2h-5.1zM575.5 294.5h5.1v5.2h-5.1zM580.6 294.5h5.1v5.2h-5.1zM585.8 294.5h5.1v5.2h-5.1zM590.9 294.5h5.1v5.2h-5.1zM596.1 294.5h5.1v5.2h-5.1zM606.3 294.5h5.1v5.2h-5.1zM611.5 294.5h5.1v5.2h-5.1zM616.6 294.5h5.1v5.2h-5.1zM621.8 294.5h5.1v5.2h-5.1zM626.9 294.5h5.1v5.2h-5.1zM632.0 294.5h5.1v5.2h-5.1zM637.2 294.5h5.1v5.2h-5.1zM642.3 294.5h5.1v5.2h-5.1zM647.4 294.5h5.1v5.2h-5.1zM652.6 294.5h5.1v5.2h-5.1zM657.7 294.5h5.1v5.2h-5.1zM662.9 294.5h5.1v5.2h-5.1zM462.5 299.7h5.1v5.2h-5.1zM467.6 299.7h5.1v5.2h-5.1zM472.7 299.7h5.1v5.2h-5.1zM477.9 299.7h5.1v5.2h-5.1zM483.0 299.7h5.1v5.2h-5.1zM488.2 299.7h5.1v5.2h-5.1zM493.3 299.7h5.1v5.2h-5.1zM498.4 299.7h5.1v5.2h-5.1zM503.6 299.7h5.1v5.2h-5.1zM508.7 299.7h5.1v5.2h-5.1zM565.2 299.7h5.1v5.2h-5.1zM570.4 299.7h5.1v5.2h-5.1zM575.5 299.7h5.1v5.2h-5.1zM580.6 299.7h5.1v5.2h-5.1zM585.8 299.7h5.1v5.2h-5.1zM590.9 299.7h5.1v5.2h-5.1zM596.1 299.7h5.1v5.2h-5.1zM601.2 299.7h5.1v5.2h-5.1zM606.3 299.7h5.1v5.2h-5.1zM611.5 299.7h5.1v5.2h-5.1zM616.6 299.7h5.1v5.2h-5.1zM621.8 299.7h5.1v5.2h-5.1zM626.9 299.7h5.1v5.2h-5.1zM632.0 299.7h5.1v5.2h-5.1zM637.2 299.7h5.1v5.2h-5.1zM642.3 299.7h5.1v5.2h-5.1zM647.4 299.7h5.1v5.2h-5.1zM652.6 299.7h5.1v5.2h-5.1zM657.7 299.7h5.1v5.2h-5.1zM662.9 299.7h5.1v5.2h-5.1zM462.5 304.8h5.1v5.2h-5.1zM467.6 304.8h5.1v5.2h-5.1zM472.7 304.8h5.1v5.2h-5.1zM477.9 304.8h5.1v5.2h-5.1zM483.0 304.8h5.1v5.2h-5.1zM488.2 304.8h5.1v5.2h-5.1zM493.3 304.8h5.1v5.2h-5.1zM498.4 304.8h5.1v5.2h-5.1zM503.6 304.8h5.1v5.2h-5.1zM508.7 304.8h5.1v5.2h-5.1zM565.2 304.8h5.1v5.2h-5.1zM570.4 304.8h5.1v5.2h-5.1zM575.5 304.8h5.1v5.2h-5.1zM580.6 304.8h5.1v5.2h-5.1zM585.8 304.8h5.1v5.2h-5.1zM590.9 304.8h5.1v5.2h-5.1zM596.1 304.8h5.1v5.2h-5.1zM601.2 304.8h5.1v5.2h-5.1zM606.3 304.8h5.1v5.2h-5.1zM611.5 304.8h5.1v5.2h-5.1zM616.6 304.8h5.1v5.2h-5.1zM621.8 304.8h5.1v5.2h-5.1zM626.9 304.8h5.1v5.2h-5.1zM632.0 304.8h5.1v5.2h-5.1zM637.2 304.8h5.1v5.2h-5.1zM642.3 304.8h5.1v5.2h-5.1zM647.4 304.8h5.1v5.2h-5.1zM652.6 304.8h5.1v5.2h-5.1zM657.7 304.8h5.1v5.2h-5.1zM662.9 304.8h5.1v5.2h-5.1zM462.5 310.0h5.1v5.2h-5.1zM467.6 310.0h5.1v5.2h-5.1zM472.7 310.0h5.1v5.2h-5.1zM477.9 310.0h5.1v5.2h-5.1zM483.0 310.0h5.1v5.2h-5.1zM488.2 310.0h5.1v5.2h-5.1zM493.3 310.0h5.1v5.2h-5.1zM503.6 310.0h5.1v5.2h-5.1zM508.7 310.0h5.1v5.2h-5.1zM570.4 310.0h5.1v5.2h-5.1zM580.6 310.0h5.1v5.2h-5.1zM585.8 310.0h5.1v5.2h-5.1zM590.9 310.0h5.1v5.2h-5.1zM596.1 310.0h5.1v5.2h-5.1zM601.2 310.0h5.1v5.2h-5.1zM606.3 310.0h5.1v5.2h-5.1zM611.5 310.0h5.1v5.2h-5.1zM616.6 310.0h5.1v5.2h-5.1zM621.8 310.0h5.1v5.2h-5.1zM626.9 310.0h5.1v5.2h-5.1zM632.0 310.0h5.1v5.2h-5.1zM637.2 310.0h5.1v5.2h-5.1zM642.3 310.0h5.1v5.2h-5.1zM647.4 310.0h5.1v5.2h-5.1zM652.6 310.0h5.1v5.2h-5.1zM657.7 310.0h5.1v5.2h-5.1zM662.9 310.0h5.1v5.2h-5.1zM462.5 315.2h5.1v5.2h-5.1zM467.6 315.2h5.1v5.2h-5.1zM472.7 315.2h5.1v5.2h-5.1zM477.9 315.2h5.1v5.2h-5.1zM483.0 315.2h5.1v5.2h-5.1zM488.2 315.2h5.1v5.2h-5.1zM493.3 315.2h5.1v5.2h-5.1zM498.4 315.2h5.1v5.2h-5.1zM503.6 315.2h5.1v5.2h-5.1zM508.7 315.2h5.1v5.2h-5.1zM513.8 315.2h5.1v5.2h-5.1zM519.0 315.2h5.1v5.2h-5.1zM524.1 315.2h5.1v5.2h-5.1zM529.3 315.2h5.1v5.2h-5.1zM534.4 315.2h5.1v5.2h-5.1zM539.5 315.2h5.1v5.2h-5.1zM544.7 315.2h5.1v5.2h-5.1zM549.8 315.2h5.1v5.2h-5.1zM555.0 315.2h5.1v5.2h-5.1zM560.1 315.2h5.1v5.2h-5.1zM565.2 315.2h5.1v5.2h-5.1zM570.4 315.2h5.1v5.2h-5.1zM585.8 315.2h5.1v5.2h-5.1zM590.9 315.2h5.1v5.2h-5.1zM601.2 315.2h5.1v5.2h-5.1zM606.3 315.2h5.1v5.2h-5.1zM611.5 315.2h5.1v5.2h-5.1zM621.8 315.2h5.1v5.2h-5.1zM626.9 315.2h5.1v5.2h-5.1zM632.0 315.2h5.1v5.2h-5.1zM637.2 315.2h5.1v5.2h-5.1zM642.3 315.2h5.1v5.2h-5.1zM647.4 315.2h5.1v5.2h-5.1zM652.6 315.2h5.1v5.2h-5.1zM657.7 315.2h5.1v5.2h-5.1zM662.9 315.2h5.1v5.2h-5.1zM462.5 320.3h5.1v5.2h-5.1zM467.6 320.3h5.1v5.2h-5.1zM472.7 320.3h5.1v5.2h-5.1zM477.9 320.3h5.1v5.2h-5.1zM483.0 320.3h5.1v5.2h-5.1zM488.2 320.3h5.1v5.2h-5.1zM493.3 320.3h5.1v5.2h-5.1zM498.4 320.3h5.1v5.2h-5.1zM503.6 320.3h5.1v5.2h-5.1zM508.7 320.3h5.1v5.2h-5.1zM519.0 320.3h5.1v5.2h-5.1zM524.1 320.3h5.1v5.2h-5.1zM529.3 320.3h5.1v5.2h-5.1zM534.4 320.3h5.1v5.2h-5.1zM539.5 320.3h5.1v5.2h-5.1zM544.7 320.3h5.1v5.2h-5.1zM549.8 320.3h5.1v5.2h-5.1zM555.0 320.3h5.1v5.2h-5.1zM560.1 320.3h5.1v5.2h-5.1zM565.2 320.3h5.1v5.2h-5.1zM570.4 320.3h5.1v5.2h-5.1zM580.6 320.3h5.1v5.2h-5.1zM585.8 320.3h5.1v5.2h-5.1zM590.9 320.3h5.1v5.2h-5.1zM596.1 320.3h5.1v5.2h-5.1zM601.2 320.3h5.1v5.2h-5.1zM606.3 320.3h5.1v5.2h-5.1zM611.5 320.3h5.1v5.2h-5.1zM616.6 320.3h5.1v5.2h-5.1zM621.8 320.3h5.1v5.2h-5.1zM626.9 320.3h5.1v5.2h-5.1zM632.0 320.3h5.1v5.2h-5.1zM637.2 320.3h5.1v5.2h-5.1zM642.3 320.3h5.1v5.2h-5.1zM647.4 320.3h5.1v5.2h-5.1zM652.6 320.3h5.1v5.2h-5.1zM657.7 320.3h5.1v5.2h-5.1zM662.9 320.3h5.1v5.2h-5.1zM462.5 325.5h5.1v5.2h-5.1zM467.6 325.5h5.1v5.2h-5.1zM472.7 325.5h5.1v5.2h-5.1zM477.9 325.5h5.1v5.2h-5.1zM483.0 325.5h5.1v5.2h-5.1zM488.2 325.5h5.1v5.2h-5.1zM493.3 325.5h5.1v5.2h-5.1zM498.4 325.5h5.1v5.2h-5.1zM503.6 325.5h5.1v5.2h-5.1zM513.8 325.5h5.1v5.2h-5.1zM519.0 325.5h5.1v5.2h-5.1zM524.1 325.5h5.1v5.2h-5.1zM529.3 325.5h5.1v5.2h-5.1zM534.4 325.5h5.1v5.2h-5.1zM539.5 325.5h5.1v5.2h-5.1zM544.7 325.5h5.1v5.2h-5.1zM549.8 325.5h5.1v5.2h-5.1zM555.0 325.5h5.1v5.2h-5.1zM560.1 325.5h5.1v5.2h-5.1zM570.4 325.5h5.1v5.2h-5.1zM575.5 325.5h5.1v5.2h-5.1zM580.6 325.5h5.1v5.2h-5.1zM585.8 325.5h5.1v5.2h-5.1zM590.9 325.5h5.1v5.2h-5.1zM596.1 325.5h5.1v5.2h-5.1zM601.2 325.5h5.1v5.2h-5.1zM606.3 325.5h5.1v5.2h-5.1zM611.5 325.5h5.1v5.2h-5.1zM616.6 325.5h5.1v5.2h-5.1zM621.8 325.5h5.1v5.2h-5.1zM626.9 325.5h5.1v5.2h-5.1zM632.0 325.5h5.1v5.2h-5.1zM637.2 325.5h5.1v5.2h-5.1zM642.3 325.5h5.1v5.2h-5.1zM647.4 325.5h5.1v5.2h-5.1zM652.6 325.5h5.1v5.2h-5.1zM657.7 325.5h5.1v5.2h-5.1zM662.9 325.5h5.1v5.2h-5.1zM462.5 330.7h5.1v5.2h-5.1zM467.6 330.7h5.1v5.2h-5.1zM472.7 330.7h5.1v5.2h-5.1zM477.9 330.7h5.1v5.2h-5.1zM483.0 330.7h5.1v5.2h-5.1zM488.2 330.7h5.1v5.2h-5.1zM493.3 330.7h5.1v5.2h-5.1zM498.4 330.7h5.1v5.2h-5.1zM503.6 330.7h5.1v5.2h-5.1zM508.7 330.7h5.1v5.2h-5.1zM513.8 330.7h5.1v5.2h-5.1zM519.0 330.7h5.1v5.2h-5.1zM524.1 330.7h5.1v5.2h-5.1zM529.3 330.7h5.1v5.2h-5.1zM534.4 330.7h5.1v5.2h-5.1zM539.5 330.7h5.1v5.2h-5.1zM544.7 330.7h5.1v5.2h-5.1zM549.8 330.7h5.1v5.2h-5.1zM555.0 330.7h5.1v5.2h-5.1zM560.1 330.7h5.1v5.2h-5.1zM565.2 330.7h5.1v5.2h-5.1zM570.4 330.7h5.1v5.2h-5.1zM575.5 330.7h5.1v5.2h-5.1zM580.6 330.7h5.1v5.2h-5.1zM585.8 330.7h5.1v5.2h-5.1zM590.9 330.7h5.1v5.2h-5.1zM596.1 330.7h5.1v5.2h-5.1zM601.2 330.7h5.1v5.2h-5.1zM606.3 330.7h5.1v5.2h-5.1zM611.5 330.7h5.1v5.2h-5.1zM616.6 330.7h5.1v5.2h-5.1zM621.8 330.7h5.1v5.2h-5.1zM626.9 330.7h5.1v5.2h-5.1zM632.0 330.7h5.1v5.2h-5.1zM637.2 330.7h5.1v5.2h-5.1zM642.3 330.7h5.1v5.2h-5.1zM647.4 330.7h5.1v5.2h-5.1zM652.6 330.7h5.1v5.2h-5.1zM657.7 330.7h5.1v5.2h-5.1zM662.9 330.7h5.1v5.2h-5.1zM467.6 335.8h5.1v5.2h-5.1zM472.7 335.8h5.1v5.2h-5.1zM477.9 335.8h5.1v5.2h-5.1zM483.0 335.8h5.1v5.2h-5.1zM488.2 335.8h5.1v5.2h-5.1zM493.3 335.8h5.1v5.2h-5.1zM498.4 335.8h5.1v5.2h-5.1zM503.6 335.8h5.1v5.2h-5.1zM508.7 335.8h5.1v5.2h-5.1zM513.8 335.8h5.1v5.2h-5.1zM519.0 335.8h5.1v5.2h-5.1zM524.1 335.8h5.1v5.2h-5.1zM529.3 335.8h5.1v5.2h-5.1zM534.4 335.8h5.1v5.2h-5.1zM539.5 335.8h5.1v5.2h-5.1zM544.7 335.8h5.1v5.2h-5.1zM549.8 335.8h5.1v5.2h-5.1zM555.0 335.8h5.1v5.2h-5.1zM560.1 335.8h5.1v5.2h-5.1zM570.4 335.8h5.1v5.2h-5.1zM575.5 335.8h5.1v5.2h-5.1zM580.6 335.8h5.1v5.2h-5.1zM585.8 335.8h5.1v5.2h-5.1zM590.9 335.8h5.1v5.2h-5.1zM596.1 335.8h5.1v5.2h-5.1zM601.2 335.8h5.1v5.2h-5.1zM606.3 335.8h5.1v5.2h-5.1zM611.5 335.8h5.1v5.2h-5.1zM616.6 335.8h5.1v5.2h-5.1zM621.8 335.8h5.1v5.2h-5.1zM626.9 335.8h5.1v5.2h-5.1zM632.0 335.8h5.1v5.2h-5.1zM637.2 335.8h5.1v5.2h-5.1zM642.3 335.8h5.1v5.2h-5.1zM647.4 335.8h5.1v5.2h-5.1zM652.6 335.8h5.1v5.2h-5.1zM657.7 335.8h5.1v5.2h-5.1zM662.9 335.8h5.1v5.2h-5.1zM462.5 341.0h5.1v5.2h-5.1zM467.6 341.0h5.1v5.2h-5.1zM472.7 341.0h5.1v5.2h-5.1zM477.9 341.0h5.1v5.2h-5.1zM483.0 341.0h5.1v5.2h-5.1zM488.2 341.0h5.1v5.2h-5.1zM493.3 341.0h5.1v5.2h-5.1zM498.4 341.0h5.1v5.2h-5.1zM503.6 341.0h5.1v5.2h-5.1zM508.7 341.0h5.1v5.2h-5.1zM513.8 341.0h5.1v5.2h-5.1zM519.0 341.0h5.1v5.2h-5.1zM524.1 341.0h5.1v5.2h-5.1zM529.3 341.0h5.1v5.2h-5.1zM534.4 341.0h5.1v5.2h-5.1zM539.5 341.0h5.1v5.2h-5.1zM544.7 341.0h5.1v5.2h-5.1zM549.8 341.0h5.1v5.2h-5.1zM555.0 341.0h5.1v5.2h-5.1zM560.1 341.0h5.1v5.2h-5.1zM565.2 341.0h5.1v5.2h-5.1zM570.4 341.0h5.1v5.2h-5.1zM575.5 341.0h5.1v5.2h-5.1zM580.6 341.0h5.1v5.2h-5.1zM585.8 341.0h5.1v5.2h-5.1zM590.9 341.0h5.1v5.2h-5.1zM596.1 341.0h5.1v5.2h-5.1zM601.2 341.0h5.1v5.2h-5.1zM606.3 341.0h5.1v5.2h-5.1zM611.5 341.0h5.1v5.2h-5.1zM616.6 341.0h5.1v5.2h-5.1zM621.8 341.0h5.1v5.2h-5.1zM626.9 341.0h5.1v5.2h-5.1zM637.2 341.0h5.1v5.2h-5.1zM647.4 341.0h5.1v5.2h-5.1zM652.6 341.0h5.1v5.2h-5.1zM657.7 341.0h5.1v5.2h-5.1zM462.5 346.2h5.1v5.2h-5.1zM467.6 346.2h5.1v5.2h-5.1zM472.7 346.2h5.1v5.2h-5.1zM477.9 346.2h5.1v5.2h-5.1zM483.0 346.2h5.1v5.2h-5.1zM488.2 346.2h5.1v5.2h-5.1zM493.3 346.2h5.1v5.2h-5.1zM498.4 346.2h5.1v5.2h-5.1zM503.6 346.2h5.1v5.2h-5.1zM519.0 346.2h5.1v5.2h-5.1zM529.3 346.2h5.1v5.2h-5.1zM534.4 346.2h5.1v5.2h-5.1zM539.5 346.2h5.1v5.2h-5.1zM544.7 346.2h5.1v5.2h-5.1zM549.8 346.2h5.1v5.2h-5.1zM555.0 346.2h5.1v5.2h-5.1zM560.1 346.2h5.1v5.2h-5.1zM565.2 346.2h5.1v5.2h-5.1zM570.4 346.2h5.1v5.2h-5.1zM575.5 346.2h5.1v5.2h-5.1zM580.6 346.2h5.1v5.2h-5.1zM585.8 346.2h5.1v5.2h-5.1zM590.9 346.2h5.1v5.2h-5.1zM596.1 346.2h5.1v5.2h-5.1zM601.2 346.2h5.1v5.2h-5.1zM611.5 346.2h5.1v5.2h-5.1zM616.6 346.2h5.1v5.2h-5.1zM621.8 346.2h5.1v5.2h-5.1zM626.9 346.2h5.1v5.2h-5.1zM632.0 346.2h5.1v5.2h-5.1zM637.2 346.2h5.1v5.2h-5.1zM642.3 346.2h5.1v5.2h-5.1zM647.4 346.2h5.1v5.2h-5.1zM652.6 346.2h5.1v5.2h-5.1zM657.7 346.2h5.1v5.2h-5.1zM462.5 351.3h5.1v5.2h-5.1zM467.6 351.3h5.1v5.2h-5.1zM472.7 351.3h5.1v5.2h-5.1zM477.9 351.3h5.1v5.2h-5.1zM483.0 351.3h5.1v5.2h-5.1zM488.2 351.3h5.1v5.2h-5.1zM493.3 351.3h5.1v5.2h-5.1zM498.4 351.3h5.1v5.2h-5.1zM503.6 351.3h5.1v5.2h-5.1zM508.7 351.3h5.1v5.2h-5.1zM513.8 351.3h5.1v5.2h-5.1zM519.0 351.3h5.1v5.2h-5.1zM524.1 351.3h5.1v5.2h-5.1zM529.3 351.3h5.1v5.2h-5.1zM534.4 351.3h5.1v5.2h-5.1zM539.5 351.3h5.1v5.2h-5.1zM549.8 351.3h5.1v5.2h-5.1zM555.0 351.3h5.1v5.2h-5.1zM560.1 351.3h5.1v5.2h-5.1zM565.2 351.3h5.1v5.2h-5.1zM570.4 351.3h5.1v5.2h-5.1zM575.5 351.3h5.1v5.2h-5.1zM580.6 351.3h5.1v5.2h-5.1zM585.8 351.3h5.1v5.2h-5.1zM590.9 351.3h5.1v5.2h-5.1zM596.1 351.3h5.1v5.2h-5.1zM601.2 351.3h5.1v5.2h-5.1zM606.3 351.3h5.1v5.2h-5.1zM611.5 351.3h5.1v5.2h-5.1zM616.6 351.3h5.1v5.2h-5.1zM621.8 351.3h5.1v5.2h-5.1zM626.9 351.3h5.1v5.2h-5.1zM632.0 351.3h5.1v5.2h-5.1zM637.2 351.3h5.1v5.2h-5.1zM642.3 351.3h5.1v5.2h-5.1zM647.4 351.3h5.1v5.2h-5.1zM652.6 351.3h5.1v5.2h-5.1zM657.7 351.3h5.1v5.2h-5.1zM662.9 351.3h5.1v5.2h-5.1zM462.5 356.5h5.1v5.2h-5.1zM472.7 356.5h5.1v5.2h-5.1zM477.9 356.5h5.1v5.2h-5.1zM483.0 356.5h5.1v5.2h-5.1zM488.2 356.5h5.1v5.2h-5.1zM493.3 356.5h5.1v5.2h-5.1zM498.4 356.5h5.1v5.2h-5.1zM503.6 356.5h5.1v5.2h-5.1zM508.7 356.5h5.1v5.2h-5.1zM519.0 356.5h5.1v5.2h-5.1zM524.1 356.5h5.1v5.2h-5.1zM529.3 356.5h5.1v5.2h-5.1zM534.4 356.5h5.1v5.2h-5.1zM462.5 361.7h5.1v5.2h-5.1zM467.6 361.7h5.1v5.2h-5.1zM472.7 361.7h5.1v5.2h-5.1zM477.9 361.7h5.1v5.2h-5.1zM483.0 361.7h5.1v5.2h-5.1zM488.2 361.7h5.1v5.2h-5.1zM493.3 361.7h5.1v5.2h-5.1zM498.4 361.7h5.1v5.2h-5.1zM503.6 361.7h5.1v5.2h-5.1zM508.7 361.7h5.1v5.2h-5.1zM513.8 361.7h5.1v5.2h-5.1zM519.0 361.7h5.1v5.2h-5.1zM524.1 361.7h5.1v5.2h-5.1zM529.3 361.7h5.1v5.2h-5.1zM534.4 361.7h5.1v5.2h-5.1zM462.5 366.8h5.1v5.2h-5.1zM467.6 366.8h5.1v5.2h-5.1zM472.7 366.8h5.1v5.2h-5.1zM477.9 366.8h5.1v5.2h-5.1zM483.0 366.8h5.1v5.2h-5.1zM488.2 366.8h5.1v5.2h-5.1zM493.3 366.8h5.1v5.2h-5.1zM498.4 366.8h5.1v5.2h-5.1zM503.6 366.8h5.1v5.2h-5.1zM508.7 366.8h5.1v5.2h-5.1zM513.8 366.8h5.1v5.2h-5.1zM519.0 366.8h5.1v5.2h-5.1zM524.1 366.8h5.1v5.2h-5.1zM529.3 366.8h5.1v5.2h-5.1zM534.4 366.8h5.1v5.2h-5.1zM462.5 372.0h5.1v5.2h-5.1zM467.6 372.0h5.1v5.2h-5.1zM472.7 372.0h5.1v5.2h-5.1zM477.9 372.0h5.1v5.2h-5.1zM483.0 372.0h5.1v5.2h-5.1zM488.2 372.0h5.1v5.2h-5.1zM493.3 372.0h5.1v5.2h-5.1zM498.4 372.0h5.1v5.2h-5.1zM503.6 372.0h5.1v5.2h-5.1zM508.7 372.0h5.1v5.2h-5.1zM513.8 372.0h5.1v5.2h-5.1zM519.0 372.0h5.1v5.2h-5.1zM524.1 372.0h5.1v5.2h-5.1zM529.3 372.0h5.1v5.2h-5.1zM534.4 372.0h5.1v5.2h-5.1zM462.5 377.2h5.1v5.2h-5.1zM467.6 377.2h5.1v5.2h-5.1zM477.9 377.2h5.1v5.2h-5.1zM483.0 377.2h5.1v5.2h-5.1zM493.3 377.2h5.1v5.2h-5.1zM498.4 377.2h5.1v5.2h-5.1zM503.6 377.2h5.1v5.2h-5.1zM508.7 377.2h5.1v5.2h-5.1zM462.5 382.3h5.1v5.2h-5.1zM472.7 382.3h5.1v5.2h-5.1zM477.9 382.3h5.1v5.2h-5.1zM488.2 382.3h5.1v5.2h-5.1zM493.3 382.3h5.1v5.2h-5.1zM498.4 382.3h5.1v5.2h-5.1zM503.6 382.3h5.1v5.2h-5.1zM508.7 382.3h5.1v5.2h-5.1zM462.5 387.5h5.1v5.2h-5.1zM467.6 387.5h5.1v5.2h-5.1zM472.7 387.5h5.1v5.2h-5.1zM477.9 387.5h5.1v5.2h-5.1zM488.2 387.5h5.1v5.2h-5.1zM493.3 387.5h5.1v5.2h-5.1zM498.4 387.5h5.1v5.2h-5.1zM503.6 387.5h5.1v5.2h-5.1zM508.7 387.5h5.1v5.2h-5.1zM462.5 392.7h5.1v5.2h-5.1zM467.6 392.7h5.1v5.2h-5.1zM472.7 392.7h5.1v5.2h-5.1zM477.9 392.7h5.1v5.2h-5.1zM483.0 392.7h5.1v5.2h-5.1zM488.2 392.7h5.1v5.2h-5.1zM493.3 392.7h5.1v5.2h-5.1zM498.4 392.7h5.1v5.2h-5.1zM503.6 392.7h5.1v5.2h-5.1zM508.7 392.7h5.1v5.2h-5.1zM462.5 397.8h5.1v5.2h-5.1zM467.6 397.8h5.1v5.2h-5.1zM472.7 397.8h5.1v5.2h-5.1zM477.9 397.8h5.1v5.2h-5.1zM483.0 397.8h5.1v5.2h-5.1zM488.2 397.8h5.1v5.2h-5.1zM493.3 397.8h5.1v5.2h-5.1zM498.4 397.8h5.1v5.2h-5.1zM503.6 397.8h5.1v5.2h-5.1zM508.7 397.8h5.1v5.2h-5.1zM513.8 397.8h5.1v5.2h-5.1zM519.0 397.8h5.1v5.2h-5.1zM524.1 397.8h5.1v5.2h-5.1zM529.3 397.8h5.1v5.2h-5.1zM534.4 397.8h5.1v5.2h-5.1zM462.5 403.0h5.1v5.2h-5.1zM467.6 403.0h5.1v5.2h-5.1zM477.9 403.0h5.1v5.2h-5.1zM483.0 403.0h5.1v5.2h-5.1zM488.2 403.0h5.1v5.2h-5.1zM493.3 403.0h5.1v5.2h-5.1zM498.4 403.0h5.1v5.2h-5.1zM503.6 403.0h5.1v5.2h-5.1zM508.7 403.0h5.1v5.2h-5.1zM513.8 403.0h5.1v5.2h-5.1zM519.0 403.0h5.1v5.2h-5.1zM524.1 403.0h5.1v5.2h-5.1zM529.3 403.0h5.1v5.2h-5.1zM534.4 403.0h5.1v5.2h-5.1zM462.5 408.2h5.1v5.2h-5.1zM467.6 408.2h5.1v5.2h-5.1zM472.7 408.2h5.1v5.2h-5.1zM477.9 408.2h5.1v5.2h-5.1zM483.0 408.2h5.1v5.2h-5.1zM488.2 408.2h5.1v5.2h-5.1zM493.3 408.2h5.1v5.2h-5.1zM498.4 408.2h5.1v5.2h-5.1zM503.6 408.2h5.1v5.2h-5.1zM508.7 408.2h5.1v5.2h-5.1zM519.0 408.2h5.1v5.2h-5.1zM524.1 408.2h5.1v5.2h-5.1zM529.3 408.2h5.1v5.2h-5.1zM534.4 408.2h5.1v5.2h-5.1zM462.5 413.3h5.1v5.2h-5.1zM467.6 413.3h5.1v5.2h-5.1zM472.7 413.3h5.1v5.2h-5.1zM477.9 413.3h5.1v5.2h-5.1zM483.0 413.3h5.1v5.2h-5.1zM488.2 413.3h5.1v5.2h-5.1zM493.3 413.3h5.1v5.2h-5.1zM498.4 413.3h5.1v5.2h-5.1zM503.6 413.3h5.1v5.2h-5.1zM508.7 413.3h5.1v5.2h-5.1zM513.8 413.3h5.1v5.2h-5.1zM519.0 413.3h5.1v5.2h-5.1zM524.1 413.3h5.1v5.2h-5.1zM534.4 413.3h5.1v5.2h-5.1z"/><path class="co" d="M663.9 420.2L664.4 413.5L663.4 406.8L655.2 393.4L638.7 380.8L625.9 371.6L624.8 364.9L624.3 365.8L611.5 356.6L596.1 344.0L587.8 332.3L585.8 325.6L567.3 319.7L568.3 326.4L582.7 344.0L594.0 358.2L604.3 375.8L610.4 382.5L621.8 388.4L618.7 394.6L613.5 389.2L600.2 381.7L595.0 379.2L596.1 376.7L593.0 374.1L594.0 368.3L582.7 361.6L572.4 357.4L565.2 353.2L573.5 352.4L574.0 346.5L563.2 339.0L555.0 329.8L547.8 320.6L543.6 313.5L541.6 308.9L533.4 303.4L529.3 301.3L521.0 299.6L508.7 297.1L506.7 291.3L494.3 280.4L493.3 276.6L488.2 272.0L492.3 272.0L491.2 267.8L488.2 268.7L483.0 265.3L474.8 257.0L469.1 248.2L471.7 242.7L470.7 234.4L467.6 227.2L471.7 217.6L473.3 199.2L471.7 194.2L465.5 181.2L481.0 182.9L486.1 184.1L489.2 190.0L484.0 191.7L488.2 185.8L490.2 181.6L485.1 175.8L481.0 173.3L467.6 167.4L457.3 163.2L439.9 159.0L432.7 152.3L438.8 150.7L431.6 146.5L421.4 139.8L413.1 142.3L402.9 129.7L413.1 123.9L411.1 118.0L395.7 111.3L375.1 99.6L352.5 85.4L340.2 87.9L325.8 91.2L313.4 85.4L315.5 82.9L296.0 84.5L267.2 83.7L258.0 80.4L244.6 78.7L241.5 74.5L228.1 73.7L222.0 77.0L222.0 82.9L206.6 84.5L188.1 90.4L188.1 84.5L195.3 79.5L209.6 75.3L208.6 71.1L190.1 77.0L175.7 81.2L176.8 86.2L163.4 91.2L164.4 95.4L138.7 106.3L113.0 117.2L82.2 124.7L53.4 130.6L69.9 126.0L86.3 118.9L102.8 117.6L113.0 116.8L114.1 112.2L128.5 103.8L129.5 99.6L134.6 92.9L122.3 94.6L118.2 91.2L115.1 94.6L102.8 92.9L81.2 94.6L85.3 92.9L80.2 80.4L64.7 85.4L51.4 78.7L68.9 77.0L50.4 76.2L41.1 68.6L53.4 62.8L58.6 56.9L80.2 55.2L93.5 52.7L90.4 47.7L94.5 43.5L69.9 46.0L39.1 44.4L34.9 40.2L20.6 36.8L42.1 32.6L59.6 28.5L85.3 28.5L101.7 30.1L83.2 27.2L80.2 25.9L56.5 20.9L34.9 14.2L39.1 10.0L58.6 7.5L75.0 -0.8"/><path class="co" d="M478.9 181.2L465.5 179.5L452.2 173.3L433.7 166.6L427.5 161.1L441.9 162.4L459.4 167.4L472.7 174.1L478.9 181.2"/><path class="co" d="M399.8 150.7L387.4 142.3L379.2 133.1L393.6 133.9L384.4 138.1L392.6 140.6L399.8 150.7"/><path class="co" d="M341.1 95.2L348.0 103.5L345.2 106.3L357.5 115.9L360.3 114.6L354.8 106.3L360.3 103.5"/><path class="co" d="M346.5 92.4L357.5 97.9L364.4 109.1L361.6 111.8L374.0 117.3L376.8 122.9L382.2 124.2"/><path class="co" d="M354.8 91.1L365.8 96.6L376.8 107.6L382.2 111.8L387.7 113.2L398.7 117.3L396.0 124.2L387.7 121.4"/><path class="co" d="M363.0 102.1L371.3 103.5L368.5 109.1L379.5 115.9L376.8 111.8L385.0 117.3"/><path class="co" d="M371.3 117.3L379.5 128.4L382.2 122.9L387.7 125.6L385.0 120.1"/><path class="co" d="M352.1 97.9L360.3 96.6"/><path class="co" d="M358.9 107.6L368.5 105.5"/><path class="co" d="M365.8 113.2L374.0 110.4"/><path class="co" d="M372.6 120.1L382.2 117.3"/><path class="co" d="M382.2 115.9L393.2 115.9"/><path class="co" d="M387.7 118.7L396.0 120.1"/><path class="co" d="M342.4 96.6L352.1 102.1L349.3 96.6"/><path class="co" d="M376.8 117.3L371.3 113.2"/><path class="co" d="M407.0 133.9L415.2 135.6L412.1 138.9L421.4 139.8L419.3 143.1L427.5 144.0L425.5 147.3L433.7 148.1L430.6 151.5L436.8 153.2"/><path class="co" d="M381.3 137.3L394.6 138.1L387.4 142.3L391.6 145.6"/><path class="fi" d="M487.1 182.5L491.2 184.1L491.2 190.0L487.1 192.5L484.0 190.0L487.1 187.5"/><path class="co" d="M157.2 107.1L168.5 101.3L181.9 97.1L184.0 103.8L168.5 108.8L157.2 107.1"/><path class="co" d="M172.7 97.9L180.9 95.0L186.0 97.9L176.8 99.6"/><path class="co" d="M26.7 82.0L39.1 79.9L45.2 83.7L37.0 85.4L26.7 82.0"/><path class="fi" d="M-2.1 54.0L13.4 55.7L-2.1 57.8"/><path class="fi" d="M-2.1 145.2L3.1 143.5L-2.1 143.1"/><path class="fi" d="M12.3 141.9L22.6 138.9L21.6 137.7L11.8 140.6"/><path class="fi" d="M25.7 138.1L38.0 134.8L37.0 133.5L25.2 136.8"/><path class="fi" d="M40.1 133.9L45.2 132.7L44.7 131.4L39.6 132.7"/><path class="fi" d="M48.3 133.1L52.4 132.2L51.9 131.4L47.8 132.2"/><path class="fi" d="M71.9 131.0L77.1 131.4L77.1 129.7L71.9 129.7"/><path class="fi" d="M94.5 123.0L100.7 124.3L108.9 126.4L108.9 125.5L100.7 123.0L94.5 122.2"/><path class="fi" d="M144.9 119.3L149.0 119.3L149.0 117.6L144.9 117.6"/><path class="fi" d="M156.2 113.4L163.4 112.6L163.4 111.3L156.2 112.2"/><path class="fi" d="M104.8 401.8L107.9 399.7L110.5 401.3L107.9 403.0"/><path class="fi" d="M99.7 403.0L102.3 401.8L102.3 403.4"/><path class="fi" d="M120.2 405.9L123.8 404.1L126.9 407.6L122.3 408.0"/><path class="fi" d="M130.5 409.3L136.2 408.9L136.2 408.0L130.5 408.3"/><path class="fi" d="M136.7 410.5L141.8 410.5L143.9 412.6L139.3 413.5"/><path class="fi" d="M144.9 416.4L152.1 418.9L154.2 421.8L142.8 421.8"/><path class="fi" d="M509.2 300.9L518.5 301.3L518.5 302.0L509.2 302.0"/><path class="fi" d="M518.0 307.2L520.0 308.0L519.5 307.2"/><path class="fi" d="M528.2 305.5L531.3 307.2L531.3 306.3"/><path class="fi" d="M528.2 309.3L530.8 311.4L529.8 309.3"/><path class="fi" d="M530.3 341.5L532.3 344.4L532.3 341.5"/><path class="fi" d="M561.6 348.6L563.7 351.1L563.7 348.6"/><path class="fi" d="M579.6 338.6L584.2 343.2L582.7 339.4"/><path class="fi" d="M590.4 341.5L594.0 344.8L593.5 341.9"/><path class="fi" d="M650.5 403.9L654.6 406.8L654.1 404.7"/><path class="fi" d="M612.5 376.2L614.0 377.9L613.5 375.8"/><path class="fi" d="M604.8 367.4L606.3 369.5L605.8 367.0"/><path class="co" d="M298.0 2.9L325.8 5.9L350.4 8.4L364.8 5.0L380.2 4.6L394.6 0.8L421.4 -1.7"/><path class="co" d="M375.1 10.0L400.8 5.4L424.4 0.8L441.9 -2.5"/><path class="co" d="M441.9 -0.8L457.3 5.9L467.6 0.4L469.7 5.0L484.0 0.4L503.6 2.5L539.5 8.4L572.4 13.4L563.2 17.6L585.8 18.8L621.8 18.4L638.2 26.8L643.3 25.1L638.2 20.1L631.0 15.9L654.6 10.0L673.1 8.8"/><path class="co" d="M539.5 -0.8L565.2 5.9L588.9 11.7L621.8 10.9L654.6 6.7L673.1 5.0"/><path class="bo" d="M298.0 -1.7L298.0 81.2L317.6 82.9L334.0 92.9L354.6 85.4L370.0 93.7L390.5 108.8L411.1 117.2"/><path class="bo" d="M485.1 175.8L678.3 175.8"/><path class="bo" d="M473.3 199.2L490.2 204.2L521.0 201.7L544.2 200.9"/><path class="bo" d="M544.2 175.8L544.2 200.9L549.8 205.5L544.7 216.8L544.4 234.4"/><path class="bo" d="M554.4 175.8L556.0 186.7L571.4 198.4L572.4 205.1L585.8 213.4L605.8 212.6"/><path class="bo" d="M678.3 209.2L605.8 209.2L605.8 242.7L678.3 242.7"/><path class="bo" d="M470.7 234.4L605.8 234.4"/><path class="bo" d="M513.8 234.4L513.8 259.5L569.3 292.1L567.3 298.8L571.4 302.2L568.3 312.2"/><path class="bo" d="M575.0 234.4L575.0 282.9L568.3 284.6L569.3 292.1"/><path class="bo" d="M575.0 276.2L678.3 276.2"/><path class="bo" d="M626.4 242.7L626.4 323.5"/><path class="bo" d="M543.6 313.5L568.3 312.2L605.8 323.5L635.1 323.5L635.1 319.7L652.6 319.7L678.3 318.1"/><path class="bo" d="M652.6 319.7L668.0 328.9L673.1 338.1"/></g><path class="tk" d="M0.0 418.5v-8M51.4 418.5v-8M102.8 418.5v-8M154.2 418.5v-8M205.5 418.5v-8M256.9 418.5v-8M308.3 418.5v-8M359.7 418.5v-8M411.1 418.5v-8M462.5 418.5v-8M513.8 418.5v-8M565.2 418.5v-8M616.6 418.5v-8M668.0 418.5v-8M0 418.5h8M0 376.7h8M0 334.8h8M0 292.9h8M0 251.1h8M0 209.2h8M0 167.4h8M0 125.5h8M0 83.7h8M0 41.9h8M0 0.0h8"/><rect class="fr" width="668.0" height="418.5"/><text class="tt" x="334.0" y="-30.8">Number of AR Days Forecast Anomaly</text><text class="sl" x="2" y="-7.2">Dec 16 to Dec 22, Forecast</text><text class="sr" x="667.0" y="-7.2">15−day to 21−day lead</text><text class="yl" x="-4.5" y="426.9">20°N</text><text class="yl" x="-4.5" y="343.2">30°N</text><text class="yl" x="-4.5" y="259.5">40°N</text><text class="yl" x="-4.5" y="175.8">50°N</text><text class="yl" x="-4.5" y="92.1">60°N</text><text class="yl" x="-4.5" y="8.4">70°N</text><text class="xl" x="0.0" y="450.5">170°W</text><text class="xl" x="102.8" y="450.5">160°W</text><text class="xl" x="205.5" y="450.5">150°W</text><text class="xl" x="308.3" y="450.5">140°W</text><text class="xl" x="411.1" y="450.5">130°W</text><text class="xl" x="513.8" y="450.5">120°W</text><text class="xl" x="616.6" y="450.5">110°W</text><rect x="688.6" y="0" width="20.2" height="418.5" fill="url(#gan)" stroke="#000" stroke-width="3"/><path class="tk" d="M688.6 0.0h7M708.8 0.0h-7"/><text class="cl" x="709.8" y="8.5">1</text><path class="tk" d="M688.6 104.6h7M708.8 104.6h-7"/><text class="cl" x="709.8" y="113.1">0.5</text><path class="tk" d="M688.6 209.2h7M708.8 209.2h-7"/><text class="cl" x="709.8" y="217.8">0</text><path class="tk" d="M688.6 313.9h7M708.8 313.9h-7"/><text class="cl" x="709.8" y="322.4">−0.5</text><path class="tk" d="M688.6 418.5h7M708.8 418.5h-7"/><text class="cl" x="709.8" y="427.0">−1</text></g>
</svg>
<div class="abs" id="hdr"></div>
<div class="abs" id="ttl">Subseasonal Outlooks: Week 3 AR Activity (NCEP vs. ECCC vs. ECMWF)</div>
<div class="abs" id="init">Forecasts Initialized 1 Dec 2022</div>
<div class="abs mdl" style="left:150px">NCEP</div>
<div class="abs mdl" style="left:989px">ECCC</div>
<div class="abs mdl" style="left:1828px">ECMWF</div>

<div class="abs bul" style="left:2658px;top:437px">&bull;</div>
<div class="abs bul" style="left:2762px;top:437px">All models are predicting<br>near-to-below-normal AR<br>activity over CA during Week<br>3 (16&ndash;22 Dec)</div>
<div class="abs bul" style="left:2658px;top:937px">&bull;</div>
<div class="abs bul" style="left:2762px;top:937px">NCEP is predicting slightly<br>higher AR activity over<br>Northern CA and near the<br>Southern CA coast</div>

<div class="abs" id="box"></div>
<div class="abs" id="boxt">Generally little AR activity is<br>predicted over California<br>during Week 3 (16&ndash;22 Dec)</div>

<div class="abs" id="foot"></div>
<div class="abs" id="foott">Shading: Fractional # of AR days forecast over a 7-day period (top), model climatology (middle), and<br>forecast minus model climatology (bottom)<br>Grey cells: &gt;75% of ensemble members agree on sign of anomaly</div>

<svg width="4000" height="2250" viewBox="0 0 4000 2250" style="pointer-events:none">
<defs>
<clipPath id="cwC"><circle cx="3080.8" cy="2130.8" r="71.7"/></clipPath>
<linearGradient id="wrng" x1="0" y1="0" x2="0" y2="1"><stop offset="0" stop-color="#1f8ccc"/><stop offset="0.56" stop-color="#1f8ccc"/><stop offset="0.56" stop-color="#23397a"/><stop offset="1" stop-color="#23397a"/></linearGradient>
<clipPath id="wrnc"><text x="3749.5" y="2178.4" text-anchor="middle" font-size="123" font-weight="bold" textLength="270" lengthAdjust="spacingAndGlyphs" stroke-width="5">WRN</text></clipPath>
</defs>
<!-- CW3E -->
<g clip-path="url(#cwC)"><rect x="3000" y="2050" width="170" height="79.5" fill="#f7941e"/><rect x="3000" y="2132" width="170" height="80" fill="#2c86b1"/>
<g fill="#46a3cf"><rect x="3000" y="2139" width="170" height="6.5"/><rect x="3000" y="2152.5" width="170" height="6.5"/><rect x="3000" y="2166" width="170" height="6.5"/><rect x="3000" y="2179.5" width="170" height="6.5"/><rect x="3000" y="2193" width="170" height="6.5"/></g></g>
<circle cx="3080.8" cy="2130.8" r="47.5" fill="#fff"/>
<path d="M3082 2096c3 12 22 27 22 43a22 22 0 0 1-44 0c0-16 19-31 22-43z" fill="#2f90c2"/>
<path d="M3087 2113l-17 20 11 4-9 17 20-22-11-4z" fill="#fff"/>
<text x="3172" y="2122.4" font-size="24.5" font-weight="bold" fill="#1f7391" textLength="327" lengthAdjust="spacingAndGlyphs">Center for Western Weather</text>
<text x="3172" y="2148.7" font-size="24.5" font-weight="bold" fill="#1f7391" textLength="239" lengthAdjust="spacingAndGlyphs">and Water Extremes</text>
<!-- WRN -->
<text x="3609.6" y="2084.4" font-size="32" fill="#2b2b3a" style="font-family:'Liberation Serif','Times New Roman',serif" textLength="272" lengthAdjust="spacingAndGlyphs">AMBASSADOR</text>
<text x="3883" y="2071" font-size="12" fill="#2b2b3a" style="font-family:'Liberation Sans',sans-serif" font-weight="bold">TM</text>
<text x="3749.5" y="2178.4" text-anchor="middle" font-size="123" font-weight="bold" textLength="270" lengthAdjust="spacingAndGlyphs" fill="url(#wrng)" stroke="url(#wrng)" stroke-width="9" stroke-linejoin="miter">WRN</text>
<g clip-path="url(#wrnc)"><path d="M3690 2088c50 5 110 55 150 92l34 0c-50-52-120-100-184-104z" fill="#8fb9e8" opacity=".8"/></g>
<text x="3636" y="2197.4" font-size="18.6" fill="#58595b" textLength="251" lengthAdjust="spacingAndGlyphs">WEATHER-READY NATION</text>
</svg>

</body></html>
